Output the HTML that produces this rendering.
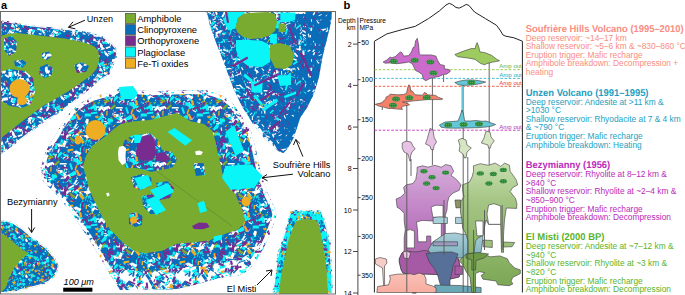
<!DOCTYPE html>
<html><head><meta charset="utf-8"><style>
html,body{margin:0;padding:0;background:#fff;}
body{width:685px;height:295px;overflow:hidden;position:relative;font-family:"Liberation Sans",sans-serif;}
svg{position:absolute;left:0;top:0;}
</style></head><body>
<svg width="685" height="295" viewBox="0 0 685 295">
<defs><pattern id="tx1" width="56" height="56" patternUnits="userSpaceOnUse"><rect width="56" height="56" fill="#0A6DBA"/><path fill="#0A6DBA" d="M47.8,41.1l0.5,3.2l-1.2,0.2l-0.5,-3.2zM24.2,0.1l0,3.1l-1.1,0.0l-0,-3.1zM24.2,56.1l0,3.1l-1.1,0.0l-0,-3.1zM10.8,11.5l4.3,0.3l-0.1,1.3l-4.3,-0.3zM19.4,37.4l1.3,5.4l-2.8,0.7l-1.3,-5.4zM31.1,36.6l1,5.3l-1.7,0.3l-1,-5.3zM37.7,53.1l4.3,2.5l-0.9,1.4l-4.3,-2.5zM37.7,-2.9l4.3,2.5l-0.9,1.4l-4.3,-2.5zM36,47.8l-5,3.3l-1.6,-2.4l5,-3.3zM45.9,37.4l2.4,0.1l-0,0.5l-2.4,-0.1zM30,7.6l0.5,3.3l-1.5,0.2l-0.5,-3.3zM25.3,-0.3l3.3,2.2l-0.8,1.1l-3.3,-2.2zM25.3,55.7l3.3,2.2l-0.8,1.1l-3.3,-2.2zM52,28.3l-2.6,1.7l-0.7,-1.1l2.6,-1.7zM3.3,6.4l-3.4,4.5l-1.1,-0.9l3.4,-4.5zM59.3,6.4l-3.4,4.5l-1.1,-0.9l3.4,-4.5zM38,20.2l-2,4.5l-1.4,-0.6l2,-4.5zM20,53.7l-5.8,2.7l-0.8,-1.8l5.8,-2.7zM20,-2.3l-5.8,2.7l-0.8,-1.8l5.8,-2.7zM50.6,41.0l4.1,0.1l-0,1.2l-4.1,-0.1zM-5.4,41.0l4.1,0.1l-0,1.2l-4.1,-0.1zM38.8,23.1l-1.5,2.6l-0.6,-0.3l1.5,-2.6zM24.9,16.4l6.3,0.4l-0.2,3.3l-6.3,-0.4zM16.6,52.7l4.6,3.7l-1.2,1.5l-4.6,-3.7zM16.6,-3.3l4.6,3.7l-1.2,1.5l-4.6,-3.7zM19.1,49.0l-4.7,1.7l-0.9,-2.5l4.7,-1.7zM32,5.6l-2,0.9l-0.2,-0.5l2,-0.9zM50.4,17.4l4.1,5.5l-2.8,2.1l-4.1,-5.5zM-5.6,17.4l4.1,5.5l-2.8,2.1l-4.1,-5.5zM24.1,5.0l5.3,0.2l-0,1.1l-5.3,-0.2zM24.1,61.0l5.3,0.2l-0,1.1l-5.3,-0.2zM14.4,2.7l0.6,3.4l-1.8,0.3l-0.6,-3.4zM48.2,48.4l-0.5,3.5l-1.1,-0.2l0.5,-3.5zM27.6,49.9l3.1,1.5l-0.8,1.6l-3.1,-1.5zM-0.5,35.0l4,0.8l-0.3,1.6l-4,-0.8zM55.5,35.0l4,0.8l-0.3,1.6l-4,-0.8zM8,5.2l1,3.1l-1.5,0.5l-1,-3.1zM37.5,2.7l-2.2,0.9l-0.3,-0.8l2.2,-0.9zM37.5,58.7l-2.2,0.9l-0.3,-0.8l2.2,-0.9zM44.8,49.3l-3.2,1.6l-0.7,-1.4l3.2,-1.6zM43.8,-0.2l-2.7,6.4l-3.1,-1.3l2.7,-6.4zM43.8,55.8l-2.7,6.4l-3.1,-1.3l2.7,-6.4zM52.6,53.6l-2.4,1.3l-0.6,-1.1l2.4,-1.3zM52.6,-2.4l-2.4,1.3l-0.6,-1.1l2.4,-1.3zM40.5,-0.4l2.9,0.2l-0.1,1.0l-2.9,-0.2zM40.5,55.6l2.9,0.2l-0.1,1.0l-2.9,-0.2zM35.8,13.6l-4.5,3.1l-1.5,-2.1l4.5,-3.1zM13.3,49.1l-2.9,1.7l-0.4,-0.7l2.9,-1.7zM46.1,48.8l-3.6,0.4l-0.1,-1.0l3.6,-0.4z"/><path fill="#FFFFFF" d="M33.3,0.2l0.9,3.1l-1.5,0.4l-0.9,-3.1zM33.3,56.2l0.9,3.1l-1.5,0.4l-0.9,-3.1zM41.7,28.3l3.9,0.4l-0.1,1.5l-3.9,-0.4zM54,40.7l3.5,3.1l-1.6,1.8l-3.5,-3.1zM-2,40.7l3.5,3.1l-1.6,1.8l-3.5,-3.1zM54.3,30.3l-0.6,4.2l-1.2,-0.2l0.6,-4.2zM-1.7,30.3l-0.6,4.2l-1.2,-0.2l0.6,-4.2zM53.1,11.2l4.8,2.9l-0.7,1.1l-4.8,-2.9zM-2.9,11.2l4.8,2.9l-0.7,1.1l-4.8,-2.9zM46.4,7.0l4.4,1.1l-0.5,2.1l-4.4,-1.1zM34.7,12.1l-0,2.0l-0.8,0l0,-2.0zM15.2,23.7l-4.6,1.2l-0.6,-2.4l4.6,-1.2zM42,41.6l-4.7,1.6l-0.8,-2.4l4.7,-1.6zM18.5,4.4l-4.2,4.3l-1,-1.0l4.2,-4.3zM18.5,60.4l-4.2,4.3l-1,-1.0l4.2,-4.3zM27.1,15.9l-2.2,3.4l-1.6,-1.0l2.2,-3.4zM35.5,19.8l1.9,2.3l-0.5,0.4l-1.9,-2.3zM51.3,31.7l-4,4.0l-2.1,-2.1l4,-4.0zM42.1,33.0l1.5,5.0l-2.1,0.6l-1.5,-5.0zM39.9,22.7l3.8,0.2l-0.1,1.6l-3.8,-0.2zM54.5,37.1l-1.3,3.8l-1.7,-0.6l1.3,-3.8zM-1.5,37.1l-1.3,3.8l-1.7,-0.6l1.3,-3.8zM22.6,26.5l-2.6,5.0l-1.3,-0.7l2.6,-5.0zM41.7,42.7l2.6,1.5l-0.6,1.1l-2.6,-1.5zM10.4,6.4l-4,3.9l-1.3,-1.3l4,-3.9z"/><path fill="#0AF5F8" d="M44.5,4.1l0.4,2.1l-1,0.2l-0.4,-2.1zM10.8,26.0l2.1,3.9l-1.3,0.7l-2.1,-3.9zM33.6,32.5l3.2,2.8l-0.6,0.7l-3.2,-2.8zM32.3,9.0l-0.4,6.9l-3.3,-0.2l0.4,-6.9zM48.7,51.2l-2.1,3.1l-1.6,-1.0l2.1,-3.1zM48.7,-4.8l-2.1,3.1l-1.6,-1.0l2.1,-3.1zM13.7,3.1l-0.7,3.3l-1.7,-0.3l0.7,-3.3zM3.3,3.7l4.7,4.4l-0.9,1.0l-4.7,-4.4zM3.3,59.7l4.7,4.4l-0.9,1.0l-4.7,-4.4zM59.3,3.7l4.7,4.4l-0.9,1.0l-4.7,-4.4zM59.3,59.7l4.7,4.4l-0.9,1.0l-4.7,-4.4zM35.5,50.7l2,3.4l-1,0.6l-2,-3.4zM35.5,-5.3l2,3.4l-1,0.6l-2,-3.4zM32.4,13.2l2,0.5l-0.1,0.6l-2,-0.5zM6.5,3.3l-4.1,3.1l-0.9,-1.2l4.1,-3.1zM6.5,59.3l-4.1,3.1l-0.9,-1.2l4.1,-3.1zM62.5,3.3l-4.1,3.1l-0.9,-1.2l4.1,-3.1zM62.5,59.3l-4.1,3.1l-0.9,-1.2l4.1,-3.1zM29.9,45.5l2.1,3.7l-1.3,0.7l-2.1,-3.7zM25.3,35.6l0.1,5.7l-1.6,0.0l-0.1,-5.7zM39.7,21.2l2.4,6.2l-3.3,1.3l-2.4,-6.2zM34.6,45.3l-0.4,3.0l-0.9,-0.1l0.4,-3.0zM54.9,39.2l-0,6.9l-1.7,0l0,-6.9zM-1.1,39.2l-0,6.9l-1.7,0l0,-6.9zM15.5,27.4l3.8,0.0l-0,1.5l-3.8,0zM50.3,44.0l0.5,4.5l-2.5,0.3l-0.5,-4.5zM29.8,19.1l0.5,2.0l-0.7,0.2l-0.5,-2.0zM38.7,51.6l-4.4,3.9l-2,-2.2l4.4,-3.9zM38.7,-4.4l-4.4,3.9l-2,-2.2l4.4,-3.9zM6.4,45.5l4.4,0.6l-0.2,1.6l-4.4,-0.6z"/><path fill="#782C8F" d="M3,25.2l-5.5,1.0l-0.3,-1.5l5.5,-1.0zM59,25.2l-5.5,1.0l-0.3,-1.5l5.5,-1.0zM2,-1.2l1.7,4.4l-2.3,0.9l-1.7,-4.4zM2,54.8l1.7,4.4l-2.3,0.9l-1.7,-4.4zM58,-1.2l1.7,4.4l-2.3,0.9l-1.7,-4.4zM58,54.8l1.7,4.4l-2.3,0.9l-1.7,-4.4zM32.8,36.1l-2.7,1.2l-0.7,-1.5l2.7,-1.2zM40.3,17.0l-4.4,2.3l-1.2,-2.2l4.4,-2.3zM31.1,31.0l-3.8,1.6l-0.4,-0.8l3.8,-1.6zM11.7,4.8l5,1.1l-0.4,1.6l-5,-1.1zM-0.1,43.0l5.8,3.5l-1.4,2.3l-5.8,-3.5zM55.9,43.0l5.8,3.5l-1.4,2.3l-5.8,-3.5zM54.1,37.1l2.1,4.0l-1.3,0.7l-2.1,-4.0zM-1.9,37.1l2.1,4.0l-1.3,0.7l-2.1,-4.0zM12.1,39.7l2,4.6l-2.3,1.0l-2,-4.6zM46.6,16.3l1.9,4.7l-2.2,0.9l-1.9,-4.7zM22.7,14.0l5.9,0.2l-0.1,2.9l-5.9,-0.2zM55.1,53.2l-0.9,2.4l-0.7,-0.3l0.9,-2.4zM55.1,-2.8l-0.9,2.4l-0.7,-0.3l0.9,-2.4zM-0.9,53.2l-0.9,2.4l-0.7,-0.3l0.9,-2.4zM-0.9,-2.8l-0.9,2.4l-0.7,-0.3l0.9,-2.4zM5.3,18.3l-6.2,1.9l-0.9,-3.0l6.2,-1.9zM61.3,18.3l-6.2,1.9l-0.9,-3.0l6.2,-1.9zM40.8,37.5l2.5,1.4l-0.5,0.9l-2.5,-1.4zM38.7,14.0l-1.9,1.3l-0.7,-1.0l1.9,-1.3zM3.9,35.4l-0.3,5.6l-1.8,-0.1l0.3,-5.6zM59.9,35.4l-0.3,5.6l-1.8,-0.1l0.3,-5.6zM26.1,9.1l-3.5,1.0l-0.3,-0.8l3.5,-1.0zM20.5,39.0l6,3.5l-1.1,1.8l-6,-3.5zM35.7,19.6l-3.1,1.3l-0.6,-1.4l3.1,-1.3zM46.8,12.8l-1,5.0l-1.4,-0.3l1,-5.0zM46.6,-1.8l3.5,5.4l-2.3,1.5l-3.5,-5.4zM46.6,54.2l3.5,5.4l-2.3,1.5l-3.5,-5.4z"/><path fill="#EEAD22" d="M3.5,42.7l-4.2,4.4l-2.3,-2.1l4.2,-4.4zM59.5,42.7l-4.2,4.4l-2.3,-2.1l4.2,-4.4zM14.6,32.3l4.2,0.8l-0.3,1.3l-4.2,-0.8zM31.5,36.0l-0.7,5.3l-1.5,-0.2l0.7,-5.3zM9.3,39.6l3.7,5.8l-2.8,1.8l-3.7,-5.8zM32.8,8.4l-0.7,3.2l-0.9,-0.2l0.7,-3.2zM5.9,31.7l2.4,3.2l-0.8,0.6l-2.4,-3.2zM32.7,24.7l-1.4,6.1l-2.9,-0.6l1.4,-6.1zM23.8,48.3l3.8,4.1l-1.7,1.6l-3.8,-4.1zM23.8,-7.7l3.8,4.1l-1.7,1.6l-3.8,-4.1z"/><path fill="#78AB30" d="M24.9,5.7l-2,2.0l-0.6,-0.6l2,-2.0z"/><path fill="#0A6DBA" d="M40.1,38.4l1.1,3.3l-0.8,0.3l-1.1,-3.3zM4.5,37.1l-2.1,5.7l-3.1,-1.1l2.1,-5.7zM60.5,37.1l-2.1,5.7l-3.1,-1.1l2.1,-5.7zM46.7,3.8l1.7,5.2l-1.2,0.4l-1.7,-5.2zM22.8,45.7l6.4,1.2l-0.3,1.4l-6.4,-1.2zM25.6,8.9l-3.1,5.6l-1.9,-1.1l3.1,-5.6zM48.6,46.3l6,1.8l-0.4,1.3l-6,-1.8zM-7.4,46.3l6,1.8l-0.4,1.3l-6,-1.8zM23.3,11.3l2.3,4.2l-1.3,0.7l-2.3,-4.2zM31.6,-0.8l3.4,5.1l-2.2,1.4l-3.4,-5.1zM31.6,55.2l3.4,5.1l-2.2,1.4l-3.4,-5.1zM21.1,15.4l-0.5,5.7l-2.1,-0.2l0.5,-5.7zM53,18.5l-3.6,0.2l-0.1,-0.8l3.6,-0.2zM4.7,29.1l2.3,2.4l-0.6,0.5l-2.3,-2.4zM50.2,0.3l-2.4,3.0l-1.5,-1.2l2.4,-3.0zM50.2,56.3l-2.4,3.0l-1.5,-1.2l2.4,-3.0zM50.8,30.0l1.5,6.2l-3.2,0.8l-1.5,-6.2zM-5.2,30.0l1.5,6.2l-3.2,0.8l-1.5,-6.2zM18.9,47.1l-0.8,5.7l-3.1,-0.4l0.8,-5.7zM18.9,-8.9l-0.8,5.7l-3.1,-0.4l0.8,-5.7zM24.7,0.8l-2.6,1.2l-0.4,-0.8l2.6,-1.2zM24.7,56.8l-2.6,1.2l-0.4,-0.8l2.6,-1.2zM17.2,25.0l-4.4,5.2l-1.8,-1.5l4.4,-5.2zM53.1,53.0l0.6,2.4l-1,0.2l-0.6,-2.4zM53.1,-3.0l0.6,2.4l-1,0.2l-0.6,-2.4zM-2.9,53.0l0.6,2.4l-1,0.2l-0.6,-2.4zM-2.9,-3.0l0.6,2.4l-1,0.2l-0.6,-2.4zM27.4,49.7l2.4,0.8l-0.4,1.2l-2.4,-0.8zM33.8,30.8l-2.3,6.4l-2.5,-0.9l2.3,-6.4zM21.5,13.3l4.3,3.4l-1,1.3l-4.3,-3.4zM15.9,2.8l-0.9,4.6l-2.1,-0.4l0.9,-4.6zM15.9,58.8l-0.9,4.6l-2.1,-0.4l0.9,-4.6zM-0.4,15.0l3.9,3.3l-0.8,0.9l-3.9,-3.3zM55.6,15.0l3.9,3.3l-0.8,0.9l-3.9,-3.3zM5.1,12.4l5.8,0.8l-0.3,2.5l-5.8,-0.8zM38.9,5.0l3.5,0.6l-0.2,1.0l-3.5,-0.6zM6.3,19.0l4.8,4.6l-1.9,2.0l-4.8,-4.6zM25,29.0l-0.3,3.2l-1,-0.1l0.3,-3.2zM38.5,-0.7l2,0.9l-0.2,0.5l-2,-0.9zM38.5,55.3l2,0.9l-0.2,0.5l-2,-0.9zM12.3,43.2l-6.1,2.4l-0.8,-1.9l6.1,-2.4zM36.9,52.8l1.2,5.7l-1.3,0.3l-1.2,-5.7zM36.9,-3.2l1.2,5.7l-1.3,0.3l-1.2,-5.7zM9.6,40.0l3.3,4.2l-2,1.6l-3.3,-4.2zM54,42.8l2.2,6.4l-1.3,0.4l-2.2,-6.4zM-2,42.8l2.2,6.4l-1.3,0.4l-2.2,-6.4z"/><path fill="#FFFFFF" d="M6.8,10.5l-2.1,0.8l-0.3,-0.9l2.1,-0.8zM21.7,7.8l0.4,3.1l-1.5,0.2l-0.4,-3.1zM4.5,20.5l5.5,0.4l-0.2,2.8l-5.5,-0.4zM4.9,43.6l0.9,2.3l-0.5,0.2l-0.9,-2.3zM54.8,52.8l-6.7,1.6l-0.8,-3.2l6.7,-1.6zM54.8,-3.2l-6.7,1.6l-0.8,-3.2l6.7,-1.6zM-1.2,52.8l-6.7,1.6l-0.8,-3.2l6.7,-1.6zM-1.2,-3.2l-6.7,1.6l-0.8,-3.2l6.7,-1.6zM24.2,53.3l4.2,2.1l-0.5,1.1l-4.2,-2.1zM24.2,-2.7l4.2,2.1l-0.5,1.1l-4.2,-2.1zM19.8,47.9l5.9,0.8l-0.3,2.4l-5.9,-0.8zM19.8,-8.1l5.9,0.8l-0.3,2.4l-5.9,-0.8zM36.4,15.7l-0.9,3.4l-1.3,-0.4l0.9,-3.4zM40.5,25.7l3.4,1.3l-0.5,1.2l-3.4,-1.3zM53.1,11.2l-4.3,1.6l-0.5,-1.5l4.3,-1.6zM-2.9,11.2l-4.3,1.6l-0.5,-1.5l4.3,-1.6zM28.9,18.6l-4.7,1.9l-0.5,-1.2l4.7,-1.9zM23.7,4.0l-0.5,3.8l-1.6,-0.2l0.5,-3.8zM26.5,4.8l-2.5,4.3l-1.3,-0.7l2.5,-4.3zM33.1,47.7l-1.3,4.1l-1.9,-0.6l1.3,-4.1zM52.6,20.3l0.5,5.0l-1.1,0.1l-0.5,-5.0zM-3.4,20.3l0.5,5.0l-1.1,0.1l-0.5,-5.0zM23.2,13.0l-3.2,6.1l-3.2,-1.7l3.2,-6.1zM18.2,44.2l-1.7,3.8l-1.7,-0.8l1.7,-3.8zM5.3,35.1l-2.8,5.8l-1.5,-0.7l2.8,-5.8zM61.3,35.1l-2.8,5.8l-1.5,-0.7l2.8,-5.8zM22.6,39.4l-6.5,2.2l-0.5,-1.4l6.5,-2.2zM45.9,7.0l2.8,4.9l-1.1,0.6l-2.8,-4.9z"/><path fill="#0AF5F8" d="M13.8,40.2l-3.5,1.0l-0.4,-1.4l3.5,-1.0zM49.3,19.6l5.7,2.9l-1.4,2.6l-5.7,-2.9zM-6.7,19.6l5.7,2.9l-1.4,2.6l-5.7,-2.9zM41.9,35.1l2.1,5.9l-2.5,0.9l-2.1,-5.9zM55.9,36.0l-3.1,0.7l-0.1,-0.7l3.1,-0.7zM-0.1,36.0l-3.1,0.7l-0.1,-0.7l3.1,-0.7zM17.4,32.5l4.7,0.9l-0.3,1.8l-4.7,-0.9zM30.5,3.6l-1,2.1l-1.1,-0.5l1,-2.1zM33.7,52.4l-5,3.3l-1.5,-2.3l5,-3.3zM33.7,-3.6l-5,3.3l-1.5,-2.3l5,-3.3zM33.4,30.2l-4.7,0.7l-0.3,-2.3l4.7,-0.7zM57.5,8.2l-3.5,3.8l-2.1,-1.9l3.5,-3.8zM1.5,8.2l-3.5,3.8l-2.1,-1.9l3.5,-3.8zM23.8,20.5l-3.4,5.8l-3,-1.7l3.4,-5.8zM17.7,55.1l-2.2,2.4l-0.9,-0.9l2.2,-2.4zM17.7,-0.9l-2.2,2.4l-0.9,-0.9l2.2,-2.4zM8.4,14.3l-2.7,2.1l-0.8,-1.0l2.7,-2.1zM34.8,27.0l1.6,4.6l-1.8,0.6l-1.6,-4.6zM46.2,37.9l3.1,4.5l-0.9,0.6l-3.1,-4.5zM38.9,50.3l4.7,0.1l-0,1.6l-4.7,-0.1zM38.9,-5.7l4.7,0.1l-0,1.6l-4.7,-0.1z"/><path fill="#782C8F" d="M0.4,5.4l2,4.9l-1.1,0.4l-2,-4.9zM56.4,5.4l2,4.9l-1.1,0.4l-2,-4.9zM1.1,14.9l2.6,0.2l-0.1,0.6l-2.6,-0.2zM57.1,14.9l2.6,0.2l-0.1,0.6l-2.6,-0.2zM44.6,41.0l-5.7,0.4l-0.1,-1.7l5.7,-0.4zM27.4,17.4l-0.7,6.9l-1.5,-0.1l0.7,-6.9zM20.9,7.3l-5.4,2.6l-1.3,-2.6l5.4,-2.6zM53.9,31.4l0.4,2.5l-1.1,0.2l-0.4,-2.5zM-2.1,31.4l0.4,2.5l-1.1,0.2l-0.4,-2.5zM14.7,7.5l3.7,1.2l-0.4,1.4l-3.7,-1.2zM47.2,8.4l-4.6,0.1l-0,-1.9l4.6,-0.1zM41.1,40.5l-1.7,3.4l-1.8,-0.9l1.7,-3.4zM32.9,50.0l-1.9,2.2l-0.8,-0.7l1.9,-2.2zM23.9,9.8l3.5,0.1l-0,1.5l-3.5,-0.1zM53.8,46.8l-3.1,2.3l-0.8,-1.1l3.1,-2.3zM-2.2,46.8l-3.1,2.3l-0.8,-1.1l3.1,-2.3zM25.2,41.3l0.1,4.4l-2,0.1l-0.1,-4.4zM6.7,30.9l-0.8,6.9l-2.7,-0.3l0.8,-6.9zM62.7,30.9l-0.8,6.9l-2.7,-0.3l0.8,-6.9zM45,37.1l-1.2,2.1l-0.7,-0.4l1.2,-2.1zM19.9,26.6l-1,1.8l-1,-0.5l1,-1.8zM56.5,14.0l-3.4,3.2l-1.1,-1.2l3.4,-3.2zM0.5,14.0l-3.4,3.2l-1.1,-1.2l3.4,-3.2zM10.6,13.4l5.1,2.2l-0.8,1.7l-5.1,-2.2zM31.5,2.0l-1.6,3.3l-1.4,-0.7l1.6,-3.3zM31.5,58.0l-1.6,3.3l-1.4,-0.7l1.6,-3.3zM48.1,16.1l4.1,1.7l-0.6,1.3l-4.1,-1.7zM13.3,8.5l1.2,4.7l-2.4,0.6l-1.2,-4.7zM52.7,18.0l5,0.4l-0.1,1.9l-5,-0.4zM-3.3,18.0l5,0.4l-0.1,1.9l-5,-0.4zM15.4,26.8l1.6,3.2l-1.7,0.9l-1.6,-3.2zM36.4,44.4l1.5,4.8l-2.4,0.7l-1.5,-4.8zM34.7,29.8l1.9,1.2l-0.4,0.7l-1.9,-1.2zM8.1,49.8l2.1,1.7l-0.9,1.1l-2.1,-1.7zM50.7,18.0l-5.7,2.9l-0.8,-1.5l5.7,-2.9zM36.9,-1.8l-2.9,6.1l-3.2,-1.5l2.9,-6.1zM36.9,54.2l-2.9,6.1l-3.2,-1.5l2.9,-6.1zM47.3,10.9l-1.2,5.9l-1.7,-0.3l1.2,-5.9zM41.8,9.0l-0.9,4.1l-1.6,-0.4l0.9,-4.1zM45.1,7.8l3.9,0.3l-0.1,0.9l-3.9,-0.3zM53.6,48.4l3.9,3.6l-1.2,1.2l-3.9,-3.6zM53.6,-7.6l3.9,3.6l-1.2,1.2l-3.9,-3.6zM-2.4,48.4l3.9,3.6l-1.2,1.2l-3.9,-3.6zM-2.4,-7.6l3.9,3.6l-1.2,1.2l-3.9,-3.6z"/><path fill="#EEAD22" d="M39.6,3.7l2,1.7l-0.9,1.1l-2,-1.7zM37.5,41.8l0.1,4.3l-1.6,0.0l-0.1,-4.3z"/><path fill="#78AB30" d="M2.4,41.4l2.3,5.9l-1.8,0.7l-2.3,-5.9zM58.4,41.4l2.3,5.9l-1.8,0.7l-2.3,-5.9zM43.2,46.9l-5.2,1.8l-0.7,-2.0l5.2,-1.8zM15.8,8.5l-0.3,5.7l-2.7,-0.1l0.3,-5.7zM14.4,24.6l5.1,4.0l-1.6,2.0l-5.1,-4.0z"/><path fill="#0A6DBA" d="M54.6,16.0l-1,3.2l-1.1,-0.3l1,-3.2zM-1.4,16.0l-1,3.2l-1.1,-0.3l1,-3.2zM15.3,22.0l-3.4,0.1l-0.1,-1.5l3.4,-0.1zM48.2,9.9l-0.6,5.5l-1.8,-0.2l0.6,-5.5zM48.5,11.0l-3.6,2.4l-0.7,-1.1l3.6,-2.4zM48.1,53.0l-4.6,2.3l-0.5,-1.1l4.6,-2.3zM48.1,-3.0l-4.6,2.3l-0.5,-1.1l4.6,-2.3zM0.3,5.1l1.1,2.8l-1.3,0.5l-1.1,-2.8zM56.3,5.1l1.1,2.8l-1.3,0.5l-1.1,-2.8zM44.3,6.1l4.8,0.7l-0.2,1.7l-4.8,-0.7zM43.4,27.6l6.3,1.9l-1,3.3l-6.3,-1.9zM30.1,29.1l-2.8,1.1l-0.4,-0.9l2.8,-1.1zM8.6,49.1l-0,3.4l-0.7,0l0,-3.4zM52,17.4l-1.6,3.5l-1.4,-0.6l1.6,-3.5zM8.3,18.8l-4.5,0.1l-0,-2.2l4.5,-0.1zM52.1,29.3l4.7,1.1l-0.5,2.0l-4.7,-1.1zM-3.9,29.3l4.7,1.1l-0.5,2.0l-4.7,-1.1zM53.5,14.3l-1.6,1.8l-0.5,-0.5l1.6,-1.8zM11.3,13.1l2.6,3.6l-1.6,1.2l-2.6,-3.6zM42.9,48.9l-1.1,1.9l-0.8,-0.4l1.1,-1.9zM52.5,39.6l3.1,0.1l-0,1.6l-3.1,-0.1zM-3.5,39.6l3.1,0.1l-0,1.6l-3.1,-0.1zM44.8,-0.3l2.9,3.7l-1,0.8l-2.9,-3.7zM44.8,55.7l2.9,3.7l-1,0.8l-2.9,-3.7zM6.7,32.1l1.1,5.2l-2.8,0.6l-1.1,-5.2zM62.7,32.1l1.1,5.2l-2.8,0.6l-1.1,-5.2zM33,0.3l3.2,2.9l-1.5,1.6l-3.2,-2.9zM33,56.3l3.2,2.9l-1.5,1.6l-3.2,-2.9zM41.3,54.1l-5,0.6l-0.2,-1.4l5,-0.6zM41.3,-1.9l-5,0.6l-0.2,-1.4l5,-0.6zM21.7,27.9l4.2,1.0l-0.5,2.1l-4.2,-1.0zM51.4,31.5l3.7,3.5l-1.5,1.5l-3.7,-3.5zM-4.6,31.5l3.7,3.5l-1.5,1.5l-3.7,-3.5zM37.3,16.0l4.5,0.4l-0.2,1.9l-4.5,-0.4zM30.8,26.8l-4.5,4.5l-2.1,-2.1l4.5,-4.5zM41.4,46.6l-0.3,2.3l-0.5,-0.1l0.3,-2.3zM0.5,-1.0l1.8,2.4l-0.7,0.5l-1.8,-2.4zM0.5,55.0l1.8,2.4l-0.7,0.5l-1.8,-2.4zM56.5,-1.0l1.8,2.4l-0.7,0.5l-1.8,-2.4zM56.5,55.0l1.8,2.4l-0.7,0.5l-1.8,-2.4zM21.2,31.7l-2.1,3.7l-1.7,-1.0l2.1,-3.7zM12.8,41.6l-2.1,1.4l-0.8,-1.1l2.1,-1.4zM14,13.3l4.1,0.4l-0.1,1.2l-4.1,-0.4zM12.9,18.2l-2.1,3.7l-1.9,-1.0l2.1,-3.7zM32.1,46.0l0.7,5.5l-1.4,0.2l-0.7,-5.5zM50.2,17.4l-3.9,1.4l-0.6,-1.5l3.9,-1.4zM54.9,2.3l-3.3,0.4l-0.2,-1.4l3.3,-0.4zM54.9,58.3l-3.3,0.4l-0.2,-1.4l3.3,-0.4zM-1.1,2.3l-3.3,0.4l-0.2,-1.4l3.3,-0.4zM-1.1,58.3l-3.3,0.4l-0.2,-1.4l3.3,-0.4zM13.6,45.6l1.6,3.3l-1.1,0.5l-1.6,-3.3zM51.9,38.4l1.9,0.8l-0.2,0.4l-1.9,-0.8zM42.4,5.9l1.3,2.8l-0.7,0.3l-1.3,-2.8zM18,32.1l5.2,1.5l-0.7,2.6l-5.2,-1.5z"/><path fill="#FFFFFF" d="M47.1,50.8l-3.2,4.6l-2.1,-1.4l3.2,-4.6zM47.1,-5.2l-3.2,4.6l-2.1,-1.4l3.2,-4.6zM30.6,33.5l3.2,3.0l-1.6,1.7l-3.2,-3.0zM11.3,21.5l-3.3,2.1l-0.6,-0.9l3.3,-2.1zM11,29.4l-2.3,5.8l-2.7,-1.1l2.3,-5.8zM9.9,6.7l-2.7,1.9l-0.5,-0.7l2.7,-1.9zM12.9,21.1l-1.1,6.3l-2.5,-0.4l1.1,-6.3zM9.9,34.3l2.3,0.4l-0.2,1.1l-2.3,-0.4zM37.2,15.4l-5,1.3l-0.6,-2.2l5,-1.3zM46.7,51.3l3.8,4.4l-1.5,1.3l-3.8,-4.4zM46.7,-4.7l3.8,4.4l-1.5,1.3l-3.8,-4.4zM57.1,42.0l-1.1,4.7l-1.1,-0.3l1.1,-4.7zM1.1,42.0l-1.1,4.7l-1.1,-0.3l1.1,-4.7zM19,19.9l4.4,2.8l-0.8,1.2l-4.4,-2.8zM39.3,48.9l2,5.1l-2.1,0.8l-2,-5.1zM39.3,-7.1l2,5.1l-2.1,0.8l-2,-5.1zM38.5,18.3l-4.2,4.2l-0.8,-0.9l4.2,-4.2zM15.6,8.7l-6.5,2.6l-1.2,-3.0l6.5,-2.6zM32.4,47.0l-1.5,4.3l-1.3,-0.5l1.5,-4.3zM3.8,50.9l6.9,0.1l-0,1.5l-6.9,-0.1zM3.8,-5.1l6.9,0.1l-0,1.5l-6.9,-0.1zM59.8,50.9l6.9,0.1l-0,1.5l-6.9,-0.1zM59.8,-5.1l6.9,0.1l-0,1.5l-6.9,-0.1zM17.9,20.9l4,1.7l-0.3,0.8l-4,-1.7zM50.4,6.3l-0.1,3.1l-1,0l0.1,-3.1zM32.4,7.0l-1.6,1.7l-0.5,-0.5l1.6,-1.7z"/><path fill="#0AF5F8" d="M32,11.5l-2.6,5.3l-1.3,-0.6l2.6,-5.3zM36,41.7l-2.8,1.7l-0.4,-0.6l2.8,-1.7zM16.1,11.5l-4.3,1.3l-0.3,-1.1l4.3,-1.3zM4.1,22.0l-1.2,4.0l-2.2,-0.7l1.2,-4.0zM60.1,22.0l-1.2,4.0l-2.2,-0.7l1.2,-4.0zM23.6,48.8l-0.7,4.3l-2.3,-0.4l0.7,-4.3zM23.6,-7.2l-0.7,4.3l-2.3,-0.4l0.7,-4.3zM51,14.7l-4.8,4.1l-1.9,-2.3l4.8,-4.1zM28.3,32.4l-0,6.2l-2.2,0l0,-6.2zM8.4,15.1l-3,0.4l-0.1,-0.6l3,-0.4zM28.2,28.5l4.1,4.4l-1.8,1.7l-4.1,-4.4zM15.7,29.1l1.9,2.8l-0.6,0.4l-1.9,-2.8zM13.5,11.5l2.2,2.1l-1.1,1.1l-2.2,-2.1zM23.9,17.1l3.4,2.2l-0.5,0.7l-3.4,-2.2zM41.5,11.1l2.7,0.9l-0.5,1.4l-2.7,-0.9zM50.5,21.1l-3.6,2.1l-0.6,-1.0l3.6,-2.1zM9.3,2.5l-2.2,4.5l-1.3,-0.6l2.2,-4.5zM9.3,58.5l-2.2,4.5l-1.3,-0.6l2.2,-4.5zM24.9,27.6l3.7,0.9l-0.3,1.3l-3.7,-0.9zM13.3,17.7l-2.5,4.2l-2.1,-1.2l2.5,-4.2z"/><path fill="#782C8F" d="M53,52.4l-0.1,2.9l-1.2,0l0.1,-2.9zM53,-3.6l-0.1,2.9l-1.2,0l0.1,-2.9zM-3,52.4l-0.1,2.9l-1.2,0l0.1,-2.9zM-3,-3.6l-0.1,2.9l-1.2,0l0.1,-2.9zM18.2,6.4l2.1,2.5l-0.8,0.7l-2.1,-2.5zM22.3,35.8l-0.6,4.9l-1.2,-0.1l0.6,-4.9zM48.6,19.4l-4.2,5.1l-1.3,-1.0l4.2,-5.1zM24.9,22.1l4.4,2.2l-0.7,1.4l-4.4,-2.2zM2.1,8.9l-3.4,1.2l-0.3,-0.9l3.4,-1.2zM58.1,8.9l-3.4,1.2l-0.3,-0.9l3.4,-1.2zM35.3,1.9l-2,1.2l-0.5,-0.8l2,-1.2zM35.3,57.9l-2,1.2l-0.5,-0.8l2,-1.2zM55.9,46.1l-2.3,0.5l-0.2,-0.7l2.3,-0.5zM-0.1,46.1l-2.3,0.5l-0.2,-0.7l2.3,-0.5zM5.6,23.7l3.8,0.3l-0.2,1.8l-3.8,-0.3zM22.5,53.6l2.7,1.2l-0.3,0.7l-2.7,-1.2zM22.5,-2.4l2.7,1.2l-0.3,0.7l-2.7,-1.2zM14.6,51.3l4.1,0.3l-0.1,1.5l-4.1,-0.3zM14.6,-4.7l4.1,0.3l-0.1,1.5l-4.1,-0.3zM21.4,3.7l-3.3,2.4l-1.1,-1.5l3.3,-2.4zM21.4,59.7l-3.3,2.4l-1.1,-1.5l3.3,-2.4zM34.5,47.6l-3.7,2.1l-0.8,-1.3l3.7,-2.1zM19.1,0.3l-2.9,2.3l-0.9,-1.2l2.9,-2.3zM19.1,56.3l-2.9,2.3l-0.9,-1.2l2.9,-2.3zM12.9,3.7l-1.1,2.3l-1.3,-0.6l1.1,-2.3zM10.1,40.5l1.9,4.1l-1.7,0.7l-1.9,-4.1zM46.2,7.0l6.1,0.8l-0.2,1.5l-6.1,-0.8zM-9.8,7.0l6.1,0.8l-0.2,1.5l-6.1,-0.8zM52.2,33.3l-2.1,1.5l-0.3,-0.5l2.1,-1.5zM29.9,47.9l2.6,6.1l-2.8,1.2l-2.6,-6.1zM29.9,-8.1l2.6,6.1l-2.8,1.2l-2.6,-6.1zM47.7,37.2l-0.3,2.3l-0.6,-0.1l0.3,-2.3zM47.8,41.0l2.4,4.5l-2,1.1l-2.4,-4.5zM32.7,50.4l-4.3,1.9l-0.6,-1.5l4.3,-1.9zM32.7,-5.6l-4.3,1.9l-0.6,-1.5l4.3,-1.9z"/><path fill="#EEAD22" d="M40.5,15.5l-0,4.7l-1.7,0l0,-4.7zM46.9,3.0l-5.7,3.3l-1.2,-2.0l5.7,-3.3zM46.9,59.0l-5.7,3.3l-1.2,-2.0l5.7,-3.3zM3.9,12.9l-3.5,3.2l-0.7,-0.7l3.5,-3.2zM59.9,12.9l-3.5,3.2l-0.7,-0.7l3.5,-3.2zM47.3,29.1l0.3,4.7l-1.8,0.1l-0.3,-4.7zM41.7,8.9l-0.1,3.8l-2,0l0.1,-3.8zM-1.1,16.9l4.3,0.7l-0.2,0.9l-4.3,-0.7zM54.9,16.9l4.3,0.7l-0.2,0.9l-4.3,-0.7z"/><path fill="#78AB30" d="M50.6,22.0l-6.1,3.3l-1.6,-2.9l6.1,-3.3zM15.3,19.3l-0.2,3.1l-0.7,0l0.2,-3.1z"/><path fill="#0A6DBA" d="M17.3,14.5l3.5,5.1l-1.5,1.0l-3.5,-5.1zM41.6,11.0l-0.1,5.7l-1.2,0l0.1,-5.7zM32.4,28.9l-1.6,5.5l-1.4,-0.4l1.6,-5.5zM42.5,44.6l-2,3.7l-1.6,-0.9l2,-3.7zM5.1,40.5l0.7,3.7l-1,0.2l-0.7,-3.7zM13.6,48.0l-0.1,2.3l-1,0l0.1,-2.3zM51.3,32.7l0.8,3.4l-1.4,0.3l-0.8,-3.4zM24.7,50.3l3.8,2.1l-0.8,1.4l-3.8,-2.1zM24.7,-5.7l3.8,2.1l-0.8,1.4l-3.8,-2.1zM53.6,32.6l2.4,2.0l-0.9,1.2l-2.4,-2.0zM-2.4,32.6l2.4,2.0l-0.9,1.2l-2.4,-2.0zM13,33.5l-3.1,0.9l-0.4,-1.5l3.1,-0.9zM25.2,9.6l-4.7,0.2l-0.1,-2.1l4.7,-0.2zM28.9,24.2l-0.7,6.6l-1.5,-0.2l0.7,-6.6zM24.9,26.5l5.1,3.9l-1.8,2.3l-5.1,-3.9zM4,12.2l0.3,2.1l-0.9,0.1l-0.3,-2.1zM4.6,41.0l0.7,6.9l-2.4,0.2l-0.7,-6.9zM60.6,41.0l0.7,6.9l-2.4,0.2l-0.7,-6.9zM51.5,3.6l-0.2,5.3l-1.2,0l0.2,-5.3zM51.5,59.6l-0.2,5.3l-1.2,0l0.2,-5.3zM-4.5,3.6l-0.2,5.3l-1.2,0l0.2,-5.3zM-4.5,59.6l-0.2,5.3l-1.2,0l0.2,-5.3zM57.4,14.7l-0.7,6.8l-2.5,-0.3l0.7,-6.8zM1.4,14.7l-0.7,6.8l-2.5,-0.3l0.7,-6.8zM8.4,37.7l3.6,2.3l-0.9,1.5l-3.6,-2.3zM55.7,37.0l-2.7,4.0l-1,-0.6l2.7,-4.0zM-0.3,37.0l-2.7,4.0l-1,-0.6l2.7,-4.0zM28.8,15.1l5.3,2.7l-0.7,1.4l-5.3,-2.7zM35.6,14.1l-6.1,1.3l-0.4,-1.8l6.1,-1.3zM36.5,15.2l-3.6,2.5l-0.9,-1.3l3.6,-2.5zM43.7,-0.9l1.1,5.1l-2.5,0.6l-1.1,-5.1zM43.7,55.1l1.1,5.1l-2.5,0.6l-1.1,-5.1zM50.9,17.7l4.9,4.0l-1.3,1.5l-4.9,-4.0zM-5.1,17.7l4.9,4.0l-1.3,1.5l-4.9,-4.0zM40.4,53.2l-2.5,3.9l-0.9,-0.6l2.5,-3.9zM40.4,-2.8l-2.5,3.9l-0.9,-0.6l2.5,-3.9zM5.7,14.0l4.1,3.0l-1.3,1.7l-4.1,-3.0zM36.2,13.4l-4.8,3.9l-0.9,-1.1l4.8,-3.9zM36.8,41.8l6.7,0.5l-0.3,3.5l-6.7,-0.5zM28.2,31.8l5.4,3.2l-1.6,2.7l-5.4,-3.2zM25.3,46.3l4.3,4.1l-1,1.1l-4.3,-4.1zM16,11.5l-2.7,0.8l-0.3,-1.1l2.7,-0.8zM45.4,37.8l-1.5,3.2l-0.9,-0.4l1.5,-3.2z"/><path fill="#FFFFFF" d="M1.4,2.0l5.3,0.3l-0.2,2.6l-5.3,-0.3zM1.4,58.0l5.3,0.3l-0.2,2.6l-5.3,-0.3zM57.4,2.0l5.3,0.3l-0.2,2.6l-5.3,-0.3zM57.4,58.0l5.3,0.3l-0.2,2.6l-5.3,-0.3zM53.2,13.8l1.1,5.0l-1.1,0.2l-1.1,-5.0zM-2.8,13.8l1.1,5.0l-1.1,0.2l-1.1,-5.0zM32.9,7.5l-1.4,4.9l-2.6,-0.8l1.4,-4.9zM39.3,40.5l-4.3,2.8l-1,-1.5l4.3,-2.8zM46.4,0.2l1.9,5.3l-1.2,0.5l-1.9,-5.3zM46.4,56.2l1.9,5.3l-1.2,0.5l-1.9,-5.3zM8,22.8l5.1,3.6l-0.8,1.1l-5.1,-3.6zM48.1,5.0l2.2,1.2l-0.3,0.5l-2.2,-1.2zM18.2,14.6l0.4,2.0l-0.8,0.1l-0.4,-2.0zM24.4,23.2l2.6,3.9l-1.5,1.0l-2.6,-3.9zM40.6,37.5l-2.7,0.9l-0.3,-0.9l2.7,-0.9zM20.5,40.1l-0.6,4.0l-1.3,-0.2l0.6,-4.0zM46.7,21.2l-3,5.5l-2.4,-1.4l3,-5.5zM34.9,17.1l-2.6,5.6l-1.6,-0.8l2.6,-5.6zM8.6,-0.3l0.2,2.6l-0.8,0.1l-0.2,-2.6zM8.6,55.7l0.2,2.6l-0.8,0.1l-0.2,-2.6zM1.1,31.2l6,1.9l-0.6,2.0l-6,-1.9zM57.1,31.2l6,1.9l-0.6,2.0l-6,-1.9zM2.7,31.5l0.7,3.3l-1.4,0.3l-0.7,-3.3zM58.7,31.5l0.7,3.3l-1.4,0.3l-0.7,-3.3zM39.1,40.8l-2.9,4.5l-1.5,-1.0l2.9,-4.5zM43.3,51.4l-4.7,0.4l-0.1,-1.1l4.7,-0.4zM43.3,-4.6l-4.7,0.4l-0.1,-1.1l4.7,-0.4zM42,34.4l2.3,0.1l-0,0.8l-2.3,-0.1zM31.7,37.2l2.7,1.1l-0.2,0.6l-2.7,-1.1zM34.1,24.3l-5.7,1.0l-0.4,-2.4l5.7,-1.0z"/><path fill="#0AF5F8" d="M56.9,30.6l0.4,6.4l-2.6,0.2l-0.4,-6.4zM0.9,30.6l0.4,6.4l-2.6,0.2l-0.4,-6.4zM38.6,16.2l-0.3,3.7l-1.3,-0.1l0.3,-3.7zM51.2,23.0l-4.2,0.4l-0.2,-2.1l4.2,-0.4zM40.3,48.4l0.1,6.0l-2.4,0.0l-0.1,-6.0zM40.3,-7.6l0.1,6.0l-2.4,0.0l-0.1,-6.0zM8,41.8l4.7,1.0l-0.5,2.2l-4.7,-1.0zM21.9,47.5l5.1,2.6l-0.9,1.9l-5.1,-2.6zM21.9,-8.5l5.1,2.6l-0.9,1.9l-5.1,-2.6zM24.9,25.3l3.1,2.5l-1,1.2l-3.1,-2.5zM21.1,41.3l4.8,4.1l-1.2,1.4l-4.8,-4.1zM23.3,39.3l-2.9,2.0l-0.7,-1.0l2.9,-2.0zM8,18.7l1.2,2.4l-1.2,0.6l-1.2,-2.4zM28.8,1.5l6.1,0.1l-0.1,3.0l-6.1,-0.1zM28.8,57.5l6.1,0.1l-0.1,3.0l-6.1,-0.1zM7.9,28.4l-2.3,4.8l-2.6,-1.2l2.3,-4.8zM63.9,28.4l-2.3,4.8l-2.6,-1.2l2.3,-4.8zM25.1,49.9l-3.1,3.4l-1.3,-1.1l3.1,-3.4zM25.1,-6.1l-3.1,3.4l-1.3,-1.1l3.1,-3.4zM25.3,34.2l3.2,1.6l-0.4,0.7l-3.2,-1.6zM21,6.1l-6.2,3.2l-1.7,-3.4l6.2,-3.2zM21,62.1l-6.2,3.2l-1.7,-3.4l6.2,-3.2zM37.9,35.8l-2.3,6.2l-2.2,-0.8l2.3,-6.2zM12.8,20.2l-4.9,1.7l-0.7,-2.0l4.9,-1.7zM50.4,40.9l2.7,3.3l-1.5,1.2l-2.7,-3.3zM-5.6,40.9l2.7,3.3l-1.5,1.2l-2.7,-3.3zM19,1.3l1.4,1.9l-0.4,0.3l-1.4,-1.9zM19,57.3l1.4,1.9l-0.4,0.3l-1.4,-1.9zM51.4,12.3l-2.1,4.6l-2.5,-1.1l2.1,-4.6z"/><path fill="#782C8F" d="M13.8,17.6l-1.2,5.1l-2,-0.5l1.2,-5.1zM54.2,28.3l0.2,6.8l-1.8,0.1l-0.2,-6.8zM-1.8,28.3l0.2,6.8l-1.8,0.1l-0.2,-6.8zM15.1,7.8l1.9,0.7l-0.4,1.0l-1.9,-0.7zM11.2,45.9l4,1.3l-0.7,2.0l-4,-1.3zM15.9,30.9l3,1.9l-0.9,1.4l-3,-1.9zM52.9,28.5l2.8,4.4l-2,1.3l-2.8,-4.4zM-3.1,28.5l2.8,4.4l-2,1.3l-2.8,-4.4zM19.5,51.2l-1.1,3.6l-1.2,-0.4l1.1,-3.6zM19.5,-4.8l-1.1,3.6l-1.2,-0.4l1.1,-3.6zM10.3,23.2l-2.8,3.8l-1.6,-1.2l2.8,-3.8zM38.4,16.7l2.3,1.4l-0.5,0.7l-2.3,-1.4zM-0.3,38.0l1.8,1.2l-0.6,0.9l-1.8,-1.2zM55.7,38.0l1.8,1.2l-0.6,0.9l-1.8,-1.2zM44.5,42.4l2.4,0.8l-0.3,0.8l-2.4,-0.8zM53.8,27.1l4.7,2.3l-1,2.1l-4.7,-2.3zM-2.2,27.1l4.7,2.3l-1,2.1l-4.7,-2.3zM44.6,32.1l-1.2,1.9l-0.7,-0.4l1.2,-1.9zM14.6,14.9l-1,5.0l-2,-0.4l1,-5.0zM4,17.0l3.6,4.1l-1.6,1.4l-3.6,-4.1zM60,17.0l3.6,4.1l-1.6,1.4l-3.6,-4.1zM23.6,19.3l-5.2,4.0l-2.2,-2.8l5.2,-4.0zM45.5,-0.8l-2.1,2.9l-1.4,-1.0l2.1,-2.9zM45.5,55.2l-2.1,2.9l-1.4,-1.0l2.1,-2.9zM26.8,47.5l-1.2,2.4l-1.2,-0.6l1.2,-2.4zM38,22.5l3.3,3.2l-0.7,0.8l-3.3,-3.2zM21.9,53.5l2,0.8l-0.3,0.8l-2,-0.8zM21.9,-2.5l2,0.8l-0.3,0.8l-2,-0.8zM51.3,26.4l6.2,0.5l-0.2,1.7l-6.2,-0.5zM-4.7,26.4l6.2,0.5l-0.2,1.7l-6.2,-0.5zM20.8,2.7l5.2,1.4l-0.7,2.7l-5.2,-1.4zM20.8,58.7l5.2,1.4l-0.7,2.7l-5.2,-1.4zM16.4,52.5l3.6,5.0l-1.6,1.1l-3.6,-5.0zM16.4,-3.5l3.6,5.0l-1.6,1.1l-3.6,-5.0zM31.7,16.4l6.5,0.8l-0.2,1.8l-6.5,-0.8z"/><path fill="#EEAD22" d="M23.2,18.8l5.6,3.4l-1.6,2.6l-5.6,-3.4zM31,42.2l6.1,1.3l-0.4,1.7l-6.1,-1.3zM51.9,10.3l2.4,1.3l-0.7,1.3l-2.4,-1.3zM-4.1,10.3l2.4,1.3l-0.7,1.3l-2.4,-1.3zM6.3,31.4l1.3,2.3l-0.6,0.3l-1.3,-2.3zM51.8,45.9l-2.6,2.0l-1,-1.3l2.6,-2.0z"/><path fill="#78AB30" d="M55.6,5.0l1.7,2.8l-1.6,0.9l-1.7,-2.8zM-0.4,5.0l1.7,2.8l-1.6,0.9l-1.7,-2.8zM47.7,43.5l5.4,0.6l-0.2,1.8l-5.4,-0.6zM-8.3,43.5l5.4,0.6l-0.2,1.8l-5.4,-0.6z"/><path fill="#0A6DBA" d="M20.5,15.6l-1.7,1.4l-0.3,-0.3l1.7,-1.4zM29.6,46.6l3,3.6l-1.4,1.2l-3,-3.6zM23.7,20.9l6.5,0.5l-0.1,1.8l-6.5,-0.5zM19.8,11.4l-2.6,3.0l-1.5,-1.3l2.6,-3.0zM38.4,30.5l1.5,5.8l-1.3,0.3l-1.5,-5.8zM0.1,2.2l4,3.3l-1.4,1.7l-4,-3.3zM0.1,58.2l4,3.3l-1.4,1.7l-4,-3.3zM56.1,2.2l4,3.3l-1.4,1.7l-4,-3.3zM56.1,58.2l4,3.3l-1.4,1.7l-4,-3.3zM47.3,38.8l0.7,2.0l-0.8,0.3l-0.7,-2.0zM55.1,54.5l-2.3,0.2l-0.1,-0.9l2.3,-0.2zM55.1,-1.5l-2.3,0.2l-0.1,-0.9l2.3,-0.2zM-0.9,54.5l-2.3,0.2l-0.1,-0.9l2.3,-0.2zM-0.9,-1.5l-2.3,0.2l-0.1,-0.9l2.3,-0.2zM55.6,11.9l-3.1,4.0l-2.1,-1.6l3.1,-4.0zM-0.4,11.9l-3.1,4.0l-2.1,-1.6l3.1,-4.0zM35.2,40.1l0.6,6.6l-2.6,0.2l-0.6,-6.6zM0.7,-0.5l1,3.2l-1.5,0.5l-1,-3.2zM0.7,55.5l1,3.2l-1.5,0.5l-1,-3.2zM56.7,-0.5l1,3.2l-1.5,0.5l-1,-3.2zM56.7,55.5l1,3.2l-1.5,0.5l-1,-3.2zM24.4,11.6l-3.1,4.7l-1.5,-1.0l3.1,-4.7zM41.5,35.7l-3.1,1.4l-0.7,-1.5l3.1,-1.4zM24.4,-1.0l-0.3,6.6l-3.2,-0.2l0.3,-6.6zM24.4,55.0l-0.3,6.6l-3.2,-0.2l0.3,-6.6zM5.3,44.6l-1.2,2.2l-0.5,-0.3l1.2,-2.2zM24.6,45.9l-2.5,0.7l-0.4,-1.2l2.5,-0.7zM31.1,4.8l2.4,0.4l-0.2,1.2l-2.4,-0.4zM18.2,48.7l0.9,6.7l-3.2,0.4l-0.9,-6.7zM18.2,-7.3l0.9,6.7l-3.2,0.4l-0.9,-6.7zM55.3,10.0l-0.2,5.2l-2.5,-0.1l0.2,-5.2zM-0.7,10.0l-0.2,5.2l-2.5,-0.1l0.2,-5.2zM12.5,32.6l1.4,2.8l-1.4,0.7l-1.4,-2.8zM35,22.9l5,0.8l-0.2,1.2l-5,-0.8zM28.3,9.6l2.2,2.1l-1,1.1l-2.2,-2.1zM51.5,54.4l-4.3,3.9l-1,-1.1l4.3,-3.9zM51.5,-1.6l-4.3,3.9l-1,-1.1l4.3,-3.9zM43.6,14.3l2.8,1.3l-0.5,1.0l-2.8,-1.3zM20.1,43.4l-2.1,3.1l-1.2,-0.9l2.1,-3.1zM16.4,42.4l1.9,2.7l-1.1,0.8l-1.9,-2.7zM20.4,18.1l-3.3,0.9l-0.3,-1.0l3.3,-0.9zM23.3,34.3l0.1,6.7l-3.3,0.1l-0.1,-6.7zM49.4,-0.6l2.7,4.1l-2.2,1.4l-2.7,-4.1zM49.4,55.4l2.7,4.1l-2.2,1.4l-2.7,-4.1zM2.3,12.4l-2.3,3.0l-1,-0.8l2.3,-3.0zM58.3,12.4l-2.3,3.0l-1,-0.8l2.3,-3.0z"/><path fill="#FFFFFF" d="M43.7,24.0l1.8,1.6l-0.4,0.4l-1.8,-1.6zM40.4,30.1l0.3,2.0l-1.1,0.1l-0.3,-2.0zM22.7,14.5l-1.3,1.8l-0.5,-0.4l1.3,-1.8zM11.3,4.3l-3.9,2.1l-0.5,-0.8l3.9,-2.1zM11.3,60.3l-3.9,2.1l-0.5,-0.8l3.9,-2.1zM12.4,46.5l-4.7,1.0l-0.5,-2.3l4.7,-1.0zM21.3,43.1l0.9,4.8l-2.4,0.4l-0.9,-4.8zM18.5,17.9l-5.7,3.3l-0.8,-1.3l5.7,-3.3zM9.1,52.5l2.6,5.1l-1.5,0.8l-2.6,-5.1zM9.1,-3.5l2.6,5.1l-1.5,0.8l-2.6,-5.1zM38.1,39.3l3.7,1.9l-0.6,1.1l-3.7,-1.9zM36.5,24.5l-6,1.9l-1,-3.1l6,-1.9zM40.7,36.4l-3.7,1.8l-0.8,-1.7l3.7,-1.8zM10.4,10.1l-3.8,1.0l-0.6,-2.1l3.8,-1.0zM20,38.2l5.3,2.9l-1.3,2.4l-5.3,-2.9zM18.3,22.6l-1.5,2.1l-0.9,-0.6l1.5,-2.1zM3.9,0.3l-3.5,2.4l-0.6,-0.9l3.5,-2.4zM3.9,56.3l-3.5,2.4l-0.6,-0.9l3.5,-2.4zM59.9,0.3l-3.5,2.4l-0.6,-0.9l3.5,-2.4zM59.9,56.3l-3.5,2.4l-0.6,-0.9l3.5,-2.4z"/><path fill="#0AF5F8" d="M12.4,13.8l-2.9,0.9l-0.4,-1.2l2.9,-0.9zM1.7,53.7l0.2,2.1l-0.6,0.0l-0.2,-2.1zM1.7,-2.3l0.2,2.1l-0.6,0.0l-0.2,-2.1zM57.7,53.7l0.2,2.1l-0.6,0.0l-0.2,-2.1zM57.7,-2.3l0.2,2.1l-0.6,0.0l-0.2,-2.1zM45.7,48.3l2.1,0.9l-0.4,0.9l-2.1,-0.9zM6.7,41.5l-4.8,4.4l-1.8,-2.0l4.8,-4.4zM62.7,41.5l-4.8,4.4l-1.8,-2.0l4.8,-4.4zM44,46.4l-1.5,2.2l-0.6,-0.4l1.5,-2.2zM41.4,1.5l-6.3,0.7l-0.2,-1.8l6.3,-0.7zM41.4,57.5l-6.3,0.7l-0.2,-1.8l6.3,-0.7zM10.6,46.0l-1.6,2.7l-1.4,-0.9l1.6,-2.7zM36.8,42.8l0.2,2.3l-0.5,0.0l-0.2,-2.3zM52.2,5.9l5.2,2.0l-1,2.6l-5.2,-2.0zM-3.8,5.9l5.2,2.0l-1,2.6l-5.2,-2.0zM14.9,51.1l2.3,6.2l-1.8,0.7l-2.3,-6.2zM14.9,-4.9l2.3,6.2l-1.8,0.7l-2.3,-6.2zM47.8,7.2l-1.2,4.7l-2.1,-0.6l1.2,-4.7zM13.7,14.4l3,1.2l-0.2,0.6l-3,-1.2zM48,4.8l-5.2,4.3l-1.5,-1.9l5.2,-4.3zM48,60.8l-5.2,4.3l-1.5,-1.9l5.2,-4.3zM15.2,45.8l6.6,1.0l-0.5,3.2l-6.6,-1.0zM18.4,21.0l-5.6,1.4l-0.4,-1.5l5.6,-1.4zM44.7,34.6l3.9,4.5l-1.2,1.0l-3.9,-4.5zM54.9,6.9l-0.6,5.7l-2.7,-0.3l0.6,-5.7zM-1.1,6.9l-0.6,5.7l-2.7,-0.3l0.6,-5.7zM27.7,12.9l1.7,3.0l-1.4,0.8l-1.7,-3.0z"/><path fill="#782C8F" d="M13.8,8.9l-3.6,5.4l-2.3,-1.5l3.6,-5.4zM52.1,-0.3l2.4,1.1l-0.2,0.5l-2.4,-1.1zM52.1,55.7l2.4,1.1l-0.2,0.5l-2.4,-1.1zM-3.9,-0.3l2.4,1.1l-0.2,0.5l-2.4,-1.1zM-3.9,55.7l2.4,1.1l-0.2,0.5l-2.4,-1.1zM4,28.9l1.9,2.3l-0.5,0.4l-1.9,-2.3zM2.3,42.0l-1.7,6.0l-1.3,-0.4l1.7,-6.0zM58.3,42.0l-1.7,6.0l-1.3,-0.4l1.7,-6.0zM40.2,25.3l2.7,2.8l-1.5,1.5l-2.7,-2.8zM10.4,18.1l0.8,5.1l-2.4,0.4l-0.8,-5.1zM28.2,34.4l-1.2,6.0l-2.4,-0.5l1.2,-6.0zM2.4,0.0l-0.3,2.2l-0.7,-0.1l0.3,-2.2zM2.4,56.0l-0.3,2.2l-0.7,-0.1l0.3,-2.2zM58.4,0.0l-0.3,2.2l-0.7,-0.1l0.3,-2.2zM58.4,56.0l-0.3,2.2l-0.7,-0.1l0.3,-2.2zM10.3,21.1l-0.2,6.2l-2.3,-0.1l0.2,-6.2zM49.5,29.3l-0.5,3.4l-1.1,-0.2l0.5,-3.4zM39,11.6l1.4,1.5l-0.7,0.6l-1.4,-1.5zM6,54.8l6,0.3l-0.1,1.7l-6,-0.3zM6,-1.2l6,0.3l-0.1,1.7l-6,-0.3zM4.5,7.5l3.7,1.2l-0.3,1.0l-3.7,-1.2zM13.1,33.5l-2.4,1.0l-0.5,-1.2l2.4,-1.0zM17.2,46.2l0.1,2.7l-0.9,0.0l-0.1,-2.7zM3.9,4.1l-3.7,1.1l-0.3,-0.9l3.7,-1.1zM3.9,60.1l-3.7,1.1l-0.3,-0.9l3.7,-1.1zM59.9,4.1l-3.7,1.1l-0.3,-0.9l3.7,-1.1zM59.9,60.1l-3.7,1.1l-0.3,-0.9l3.7,-1.1zM38.5,21.9l2.7,4.1l-1.9,1.3l-2.7,-4.1zM46.8,37.8l-4.8,3.2l-0.7,-1.1l4.8,-3.2zM39.9,28.9l-5.2,0.7l-0.3,-2.1l5.2,-0.7zM11.7,45.8l-3.2,2.4l-0.9,-1.2l3.2,-2.4zM52.6,17.7l1.2,5.4l-1.3,0.3l-1.2,-5.4zM-3.4,17.7l1.2,5.4l-1.3,0.3l-1.2,-5.4zM16.8,39.8l3.7,3.1l-0.8,0.9l-3.7,-3.1zM51.6,33.4l-2,0.4l-0.1,-0.4l2,-0.4zM41.5,12.2l-3.6,5.4l-1.2,-0.8l3.6,-5.4zM22.3,46.0l-2.9,0.6l-0.3,-1.5l2.9,-0.6zM10.7,25.7l3.7,0.3l-0.1,1.1l-3.7,-0.3zM24.3,33.7l-0.6,2.3l-0.6,-0.2l0.6,-2.3zM28.8,51.5l-3.5,2.8l-1,-1.2l3.5,-2.8zM28.8,-4.5l-3.5,2.8l-1,-1.2l3.5,-2.8zM51.2,35.5l-0.6,3.0l-0.9,-0.2l0.6,-3.0z"/><path fill="#EEAD22" d="M1.3,2.4l3,3.0l-0.9,0.9l-3,-3.0zM1.3,58.4l3,3.0l-0.9,0.9l-3,-3.0zM57.3,2.4l3,3.0l-0.9,0.9l-3,-3.0zM57.3,58.4l3,3.0l-0.9,0.9l-3,-3.0zM51.7,-1.1l-0.3,4.8l-1.3,-0.1l0.3,-4.8zM51.7,54.9l-0.3,4.8l-1.3,-0.1l0.3,-4.8zM-4.3,-1.1l-0.3,4.8l-1.3,-0.1l0.3,-4.8zM-4.3,54.9l-0.3,4.8l-1.3,-0.1l0.3,-4.8zM37.4,47.7l0.2,2.3l-0.7,0.1l-0.2,-2.3zM21.6,53.7l-1.8,4.5l-1.5,-0.6l1.8,-4.5zM21.6,-2.3l-1.8,4.5l-1.5,-0.6l1.8,-4.5zM24.5,25.3l4.2,4.9l-2.1,1.8l-4.2,-4.9zM24.9,44.2l1.4,4.8l-2.2,0.6l-1.4,-4.8zM21.4,1.4l2.8,5.4l-1.9,1.0l-2.8,-5.4zM21.4,57.4l2.8,5.4l-1.9,1.0l-2.8,-5.4zM17.4,38.5l-5.8,1.1l-0.4,-2.0l5.8,-1.1zM35.9,46.0l-2.6,1.1l-0.4,-1.0l2.6,-1.1zM44,14.7l-3.1,2.2l-0.5,-0.7l3.1,-2.2z"/><path fill="#78AB30" d="M13.5,20.7l-0.3,2.9l-0.6,-0.1l0.3,-2.9zM4,50.1l-4.3,4.0l-1.6,-1.8l4.3,-4.0zM4,-5.9l-4.3,4.0l-1.6,-1.8l4.3,-4.0zM60,50.1l-4.3,4.0l-1.6,-1.8l4.3,-4.0zM60,-5.9l-4.3,4.0l-1.6,-1.8l4.3,-4.0z"/></pattern><pattern id="tx2" width="44" height="44" patternUnits="userSpaceOnUse"><rect width="44" height="44" fill="#0A6DBA"/><path fill="#782C8F" d="M4.6,20.1l4.2,2.7l-1.3,2.0l-4.2,-2.7zM38,2.9l2.4,2.3l-1.3,1.3l-2.4,-2.3zM38.4,16.6l1.7,3.6l-1,0.4l-1.7,-3.6zM31.7,2.2l-3.2,3.6l-0.9,-0.8l3.2,-3.6zM31.7,46.2l-3.2,3.6l-0.9,-0.8l3.2,-3.6zM12.1,35.1l-1.2,1.7l-0.5,-0.4l1.2,-1.7zM3.2,0.7l-0.8,1.9l-0.5,-0.2l0.8,-1.9zM3.2,44.7l-0.8,1.9l-0.5,-0.2l0.8,-1.9zM47.2,0.7l-0.8,1.9l-0.5,-0.2l0.8,-1.9zM47.2,44.7l-0.8,1.9l-0.5,-0.2l0.8,-1.9zM25.3,25.2l3,3.1l-1.5,1.5l-3,-3.1zM31.4,3.7l-1.3,2.2l-1.2,-0.7l1.3,-2.2zM20.8,16.7l-0.9,3.1l-1,-0.3l0.9,-3.1zM14.7,15.2l-3.4,3.3l-0.9,-0.9l3.4,-3.3zM25.4,15.5l1,3.0l-1.5,0.5l-1,-3.0zM7.7,4.3l-4.4,0.6l-0.3,-2.1l4.4,-0.6zM7.7,48.3l-4.4,0.6l-0.3,-2.1l4.4,-0.6zM51.7,4.3l-4.4,0.6l-0.3,-2.1l4.4,-0.6zM51.7,48.3l-4.4,0.6l-0.3,-2.1l4.4,-0.6zM2,37.3l4.6,1.9l-0.9,2.2l-4.6,-1.9zM2,-6.7l4.6,1.9l-0.9,2.2l-4.6,-1.9zM46,37.3l4.6,1.9l-0.9,2.2l-4.6,-1.9zM46,-6.7l4.6,1.9l-0.9,2.2l-4.6,-1.9zM11.1,27.6l-0.3,3.9l-1.6,-0.1l0.3,-3.9zM24.5,39.8l-0.2,4.1l-1.2,-0.1l0.2,-4.1zM24.5,-4.2l-0.2,4.1l-1.2,-0.1l0.2,-4.1zM27.4,17.9l0.2,2.4l-1.1,0.1l-0.2,-2.4zM43.4,3.1l-1.3,0.7l-0.3,-0.6l1.3,-0.7zM-0.6,3.1l-1.3,0.7l-0.3,-0.6l1.3,-0.7zM17.3,19.3l-0.5,2.5l-0.6,-0.1l0.5,-2.5zM27.1,19.9l3.3,0.8l-0.5,1.9l-3.3,-0.8zM42,2.6l1.8,4.0l-1.5,0.7l-1.8,-4.0zM42,46.6l1.8,4.0l-1.5,0.7l-1.8,-4.0zM-2,2.6l1.8,4.0l-1.5,0.7l-1.8,-4.0zM-2,46.6l1.8,4.0l-1.5,0.7l-1.8,-4.0zM3.1,19.0l1.3,1.7l-0.7,0.5l-1.3,-1.7zM10.3,6.3l1.7,3.5l-1.3,0.6l-1.7,-3.5zM26.5,28.3l2.4,1.5l-0.6,0.9l-2.4,-1.5zM2.8,15.7l-2.6,1.0l-0.6,-1.5l2.6,-1.0zM46.8,15.7l-2.6,1.0l-0.6,-1.5l2.6,-1.0zM27,5.5l2.5,0.8l-0.4,1.4l-2.5,-0.8zM8.7,9.5l1.4,2.6l-0.9,0.5l-1.4,-2.6zM11.9,26.4l-2,1.8l-0.7,-0.8l2,-1.8zM5.3,36.1l2.7,1.2l-0.6,1.4l-2.7,-1.2z"/><path fill="#0A6DBA" d="M19.1,29.5l-0.7,4.9l-2.9,-0.4l0.7,-4.9zM11.6,0.7l0.9,1.3l-0.6,0.4l-0.9,-1.3zM11.6,44.7l0.9,1.3l-0.6,0.4l-0.9,-1.3zM37.6,22.4l3.5,0.3l-0.1,1.1l-3.5,-0.3zM44.2,41.9l-1.3,1.6l-0.8,-0.7l1.3,-1.6zM44.2,-2.1l-1.3,1.6l-0.8,-0.7l1.3,-1.6zM0.2,41.9l-1.3,1.6l-0.8,-0.7l1.3,-1.6zM0.2,-2.1l-1.3,1.6l-0.8,-0.7l1.3,-1.6zM25.9,21.2l-4.1,2.4l-1,-1.7l4.1,-2.4zM40.5,39.9l-3,0.8l-0.3,-1.4l3,-0.8zM21.8,27.1l2.8,2.2l-0.8,1.0l-2.8,-2.2zM42,27.1l-1.1,1.3l-0.7,-0.6l1.1,-1.3zM1.7,42.5l1,1.8l-0.5,0.3l-1,-1.8zM1.7,-1.5l1,1.8l-0.5,0.3l-1,-1.8zM45.7,42.5l1,1.8l-0.5,0.3l-1,-1.8zM45.7,-1.5l1,1.8l-0.5,0.3l-1,-1.8zM10.1,27.7l0.4,2.6l-0.7,0.1l-0.4,-2.6zM43.7,38.5l0.9,4.9l-1.6,0.3l-0.9,-4.9zM43.7,-5.5l0.9,4.9l-1.6,0.3l-0.9,-4.9zM-0.3,38.5l0.9,4.9l-1.6,0.3l-0.9,-4.9zM-0.3,-5.5l0.9,4.9l-1.6,0.3l-0.9,-4.9zM22.5,-0.4l1.5,0.6l-0.2,0.6l-1.5,-0.6zM22.5,43.6l1.5,0.6l-0.2,0.6l-1.5,-0.6zM22.4,13.7l-3.6,1.1l-0.4,-1.2l3.6,-1.1zM23.2,6.9l0.7,1.7l-0.9,0.4l-0.7,-1.7zM40.7,25.4l1,2.3l-1.4,0.6l-1,-2.3zM-3.3,25.4l1,2.3l-1.4,0.6l-1,-2.3zM20.6,33.9l0.2,2.4l-1.1,0.1l-0.2,-2.4zM13,17.2l-1,3.7l-2.1,-0.6l1,-3.7zM29.6,41.1l0.4,3.7l-0.9,0.1l-0.4,-3.7zM29.6,-2.9l0.4,3.7l-0.9,0.1l-0.4,-3.7zM3.1,2.5l-2.9,2.9l-0.9,-0.9l2.9,-2.9zM3.1,46.5l-2.9,2.9l-0.9,-0.9l2.9,-2.9zM47.1,2.5l-2.9,2.9l-0.9,-0.9l2.9,-2.9zM47.1,46.5l-2.9,2.9l-0.9,-0.9l2.9,-2.9zM40.4,41.3l-3.2,0.5l-0.3,-1.6l3.2,-0.5zM40.4,-2.7l-3.2,0.5l-0.3,-1.6l3.2,-0.5zM37.4,12.6l1.4,4.0l-1.8,0.6l-1.4,-4.0z"/><path fill="#0AF5F8" d="M12.4,25.1l3.2,1.7l-0.8,1.4l-3.2,-1.7zM32.8,3.6l0.4,2.6l-0.7,0.1l-0.4,-2.6zM2.1,26.9l0,4.2l-2.1,0.0l-0,-4.2zM46.1,26.9l0,4.2l-2.1,0.0l-0,-4.2zM11.6,37.7l0.9,3.0l-1.5,0.5l-0.9,-3.0zM39,6.2l1,3.1l-1.3,0.4l-1,-3.1zM41.2,29.2l1.6,2.7l-1.6,0.9l-1.6,-2.7zM-2.8,29.2l1.6,2.7l-1.6,0.9l-1.6,-2.7zM41.1,28.8l-4.3,0.8l-0.2,-1.1l4.3,-0.8zM-2.9,28.8l-4.3,0.8l-0.2,-1.1l4.3,-0.8zM32.4,19.4l2.6,2.9l-1.1,0.9l-2.6,-2.9z"/><path fill="#FFFFFF" d="M42.7,2.2l-1.2,1.3l-0.7,-0.7l1.2,-1.3zM42.7,46.2l-1.2,1.3l-0.7,-0.7l1.2,-1.3zM-1.3,2.2l-1.2,1.3l-0.7,-0.7l1.2,-1.3zM-1.3,46.2l-1.2,1.3l-0.7,-0.7l1.2,-1.3zM37.6,31.8l-3.7,2.9l-1.5,-1.9l3.7,-2.9zM20.6,8.5l2.3,1.3l-0.7,1.1l-2.3,-1.3zM13.2,39.5l-1.6,2.1l-1.2,-0.9l1.6,-2.1zM8.2,31.9l1.1,1.3l-0.6,0.5l-1.1,-1.3zM34.7,38.7l-2.5,3.3l-1.8,-1.4l2.5,-3.3zM34.7,-5.3l-2.5,3.3l-1.8,-1.4l2.5,-3.3zM4.6,24.6l2.6,1.3l-0.5,1.1l-2.6,-1.3zM12,25.3l-0.5,2.9l-0.7,-0.1l0.5,-2.9zM10,3.4l1.7,1.3l-0.4,0.5l-1.7,-1.3zM30.6,18.1l3.2,0.5l-0.2,1.5l-3.2,-0.5zM34.3,39.0l3.3,2.9l-1,1.2l-3.3,-2.9zM34.3,-5.0l3.3,2.9l-1,1.2l-3.3,-2.9zM4.3,13.1l1.3,4.8l-1.5,0.4l-1.3,-4.8zM48.3,13.1l1.3,4.8l-1.5,0.4l-1.3,-4.8zM30.5,31.7l-1.7,4.2l-1.4,-0.5l1.7,-4.2zM29,39.1l-3.8,2.5l-0.7,-1.1l3.8,-2.5zM29,-4.9l-3.8,2.5l-0.7,-1.1l3.8,-2.5zM10.6,32.2l-2.9,2.0l-0.6,-0.9l2.9,-2.0zM16.3,27.8l3.9,1.7l-1,2.1l-3.9,-1.7zM17.7,23.6l-2.6,1.1l-0.5,-1.1l2.6,-1.1zM13.6,26.1l1.4,4.0l-1.9,0.7l-1.4,-4.0zM5.7,27.8l-2.6,1.3l-0.6,-1.1l2.6,-1.3zM27.1,12.4l1.7,1.5l-0.6,0.7l-1.7,-1.5zM40.5,17.3l1.9,3.2l-1.8,1.1l-1.9,-3.2zM-3.5,17.3l1.9,3.2l-1.8,1.1l-1.9,-3.2zM12.2,35.2l-3.2,2.0l-0.8,-1.2l3.2,-2.0zM35.5,39.3l-4.8,0.3l-0.2,-2.4l4.8,-0.3zM35.5,-4.7l-4.8,0.3l-0.2,-2.4l4.8,-0.3zM18,21.4l-4.6,0.6l-0.2,-1.4l4.6,-0.6zM19.4,22.6l0.8,2.2l-1.2,0.4l-0.8,-2.2z"/><path fill="#EEAD22" d="M33.5,24.7l2,0.2l-0.1,0.8l-2,-0.2zM19.2,20.5l-3.2,1.8l-0.6,-1.2l3.2,-1.8z"/><path fill="#782C8F" d="M40.4,27.6l2.7,3.9l-1.1,0.7l-2.7,-3.9zM-3.6,27.6l2.7,3.9l-1.1,0.7l-2.7,-3.9zM20.3,24.0l1.9,0.4l-0.2,0.8l-1.9,-0.4zM42.3,36.3l-3.1,1.3l-0.6,-1.5l3.1,-1.3zM-1.7,36.3l-3.1,1.3l-0.6,-1.5l3.1,-1.3zM21.1,5.0l1.5,1.2l-0.3,0.4l-1.5,-1.2zM11.5,17.1l-3.5,1.1l-0.6,-1.9l3.5,-1.1zM25.2,8.1l-1,2.0l-0.9,-0.4l1,-2.0zM22.9,15.5l2.7,2.0l-1.1,1.5l-2.7,-2.0zM11.4,30.4l0.7,2.6l-1.1,0.3l-0.7,-2.6zM32,36.8l-0.3,3.6l-1.8,-0.1l0.3,-3.6zM10.6,1.2l-1.4,3.6l-1.1,-0.4l1.4,-3.6zM10.6,45.2l-1.4,3.6l-1.1,-0.4l1.4,-3.6zM12.1,23.7l-4.3,0.7l-0.2,-1.2l4.3,-0.7zM0.8,20.1l1,1.7l-0.5,0.3l-1,-1.7zM44.8,20.1l1,1.7l-0.5,0.3l-1,-1.7zM30.3,18.5l-1,1.7l-0.6,-0.3l1,-1.7zM37.1,15.5l-3.9,2.8l-1.3,-1.9l3.9,-2.8zM27.9,42.4l3.9,1.0l-0.5,2.1l-3.9,-1.0zM27.9,-1.6l3.9,1.0l-0.5,2.1l-3.9,-1.0zM25.6,40.1l2.6,3.5l-1.7,1.3l-2.6,-3.5zM25.6,-3.9l2.6,3.5l-1.7,1.3l-2.6,-3.5zM16.7,21.2l2.4,0.4l-0.2,1.2l-2.4,-0.4zM17.3,-0.3l-1.7,3.6l-2.1,-1.0l1.7,-3.6zM17.3,43.7l-1.7,3.6l-2.1,-1.0l1.7,-3.6zM30.9,40.7l4.4,0.4l-0.2,2.0l-4.4,-0.4zM30.9,-3.3l4.4,0.4l-0.2,2.0l-4.4,-0.4zM38.5,41.8l-1.9,2.8l-1.3,-0.8l1.9,-2.8zM38.5,-2.2l-1.9,2.8l-1.3,-0.8l1.9,-2.8zM33.2,14.6l-2.2,3.9l-1.6,-0.9l2.2,-3.9zM30.7,29.1l-2.9,0.1l-0,-1.2l2.9,-0.1zM36.8,13.4l0.5,1.7l-0.8,0.2l-0.5,-1.7zM35.9,22.9l2.6,3.1l-1.3,1.1l-2.6,-3.1zM35.2,30.6l1.7,1.6l-0.7,0.8l-1.7,-1.6zM35.4,8.5l-1.9,1.1l-0.4,-0.7l1.9,-1.1zM37.3,12.1l3.2,1.3l-0.5,1.3l-3.2,-1.3zM7,20.4l-0.1,1.8l-0.9,-0.1l0.1,-1.8zM25.5,19.3l1.1,1.9l-0.5,0.3l-1.1,-1.9zM36.6,23.2l-4.7,0.7l-0.4,-2.8l4.7,-0.7z"/><path fill="#0A6DBA" d="M19,23.3l-1.7,0.0l-0,-0.5l1.7,0zM34.6,33.9l2.2,2.7l-1.1,0.9l-2.2,-2.7zM12.3,6.8l2.8,3.4l-1.7,1.4l-2.8,-3.4zM11.5,6.8l0.3,3.2l-1,0.1l-0.3,-3.2zM3.9,23.5l0.1,4.7l-2.2,0.0l-0.1,-4.7zM47.9,23.5l0.1,4.7l-2.2,0.0l-0.1,-4.7zM19.2,41.1l1.1,2.7l-1.1,0.4l-1.1,-2.7zM19.2,-2.9l1.1,2.7l-1.1,0.4l-1.1,-2.7zM24.7,33.7l-2.4,2.6l-1.3,-1.2l2.4,-2.6zM28.2,26.2l-0.9,4.7l-1.3,-0.2l0.9,-4.7zM42.7,14.6l-0.9,2.5l-1.5,-0.5l0.9,-2.5zM-1.3,14.6l-0.9,2.5l-1.5,-0.5l0.9,-2.5zM25.9,17.8l2.6,1.5l-0.8,1.4l-2.6,-1.5zM23.4,15.3l1.1,4.6l-1.3,0.3l-1.1,-4.6zM16.8,41.0l0.7,3.4l-1.5,0.3l-0.7,-3.4zM16.8,-3.0l0.7,3.4l-1.5,0.3l-0.7,-3.4zM42.9,33.5l-1.1,3.6l-1.1,-0.3l1.1,-3.6zM-1.1,33.5l-1.1,3.6l-1.1,-0.3l1.1,-3.6zM38.1,31.2l3.5,1.4l-0.8,2.1l-3.5,-1.4zM-5.9,31.2l3.5,1.4l-0.8,2.1l-3.5,-1.4zM6.4,40.9l-1.9,2.1l-1,-0.9l1.9,-2.1zM6.4,-3.1l-1.9,2.1l-1,-0.9l1.9,-2.1zM24.1,8.3l3.8,2.4l-1.4,2.2l-3.8,-2.4zM10.2,8.8l-3.5,1.9l-1.1,-2.0l3.5,-1.9z"/><path fill="#0AF5F8" d="M28.7,23.8l-4.3,2.4l-1.4,-2.6l4.3,-2.4zM6,42.6l-3.6,1.2l-0.3,-1.0l3.6,-1.2zM6,-1.4l-3.6,1.2l-0.3,-1.0l3.6,-1.2zM50,42.6l-3.6,1.2l-0.3,-1.0l3.6,-1.2zM50,-1.4l-3.6,1.2l-0.3,-1.0l3.6,-1.2zM23.3,40.0l-1.7,1.1l-0.3,-0.5l1.7,-1.1zM9.5,15.2l0.6,2.5l-1,0.2l-0.6,-2.5zM34.1,30.2l-2.4,2.1l-0.6,-0.6l2.4,-2.1zM26.7,8.8l-4.6,1.5l-0.9,-2.7l4.6,-1.5zM4.8,29.6l1.9,1.5l-0.9,1.1l-1.9,-1.5zM12.9,5.6l2.8,2.3l-1.3,1.5l-2.8,-2.3zM27.9,37.2l3.1,2.4l-0.8,1.1l-3.1,-2.4zM1.2,30.1l2.8,0.9l-0.4,1.2l-2.8,-0.9zM45.2,30.1l2.8,0.9l-0.4,1.2l-2.8,-0.9zM10.4,17.9l2.1,2.3l-0.9,0.8l-2.1,-2.3zM24.1,17.6l1.2,4.7l-2.4,0.6l-1.2,-4.7zM28,17.2l1.6,4.6l-2.7,1.0l-1.6,-4.6zM33.7,29.1l1.3,2.5l-1.3,0.7l-1.3,-2.5zM3.9,15.3l-3.2,0.3l-0.2,-1.8l3.2,-0.3zM47.9,15.3l-3.2,0.3l-0.2,-1.8l3.2,-0.3zM33.7,5.3l2.2,0.0l-0,1.1l-2.2,0zM35.4,5.4l4.4,1.7l-0.4,1.1l-4.4,-1.7zM16.4,40.2l-0.7,4.0l-1.3,-0.2l0.7,-4.0zM16.4,-3.8l-0.7,4.0l-1.3,-0.2l0.7,-4.0z"/><path fill="#FFFFFF" d="M-0.6,3.7l2.4,1.2l-0.4,0.8l-2.4,-1.2zM43.4,3.7l2.4,1.2l-0.4,0.8l-2.4,-1.2zM45.2,8.8l-1.9,3.5l-1.7,-0.9l1.9,-3.5zM1.2,8.8l-1.9,3.5l-1.7,-0.9l1.9,-3.5zM36.1,25.8l1.5,0.5l-0.2,0.5l-1.5,-0.5zM25.6,16.6l0.4,2.9l-1.5,0.2l-0.4,-2.9zM30.3,32.9l1.4,2.7l-1.1,0.6l-1.4,-2.7zM12.5,-1.7l2.5,3.8l-1.2,0.8l-2.5,-3.8zM12.5,42.3l2.5,3.8l-1.2,0.8l-2.5,-3.8zM1.4,24.7l-0.6,1.9l-0.6,-0.2l0.6,-1.9zM45.4,24.7l-0.6,1.9l-0.6,-0.2l0.6,-1.9zM41.7,7.1l-2.5,0.6l-0.3,-1.5l2.5,-0.6zM23.2,42.4l-1.4,0.8l-0.3,-0.5l1.4,-0.8zM23.2,-1.6l-1.4,0.8l-0.3,-0.5l1.4,-0.8zM2.3,8.5l1.3,4.1l-2.3,0.7l-1.3,-4.1zM46.3,8.5l1.3,4.1l-2.3,0.7l-1.3,-4.1zM4.3,25.5l1.4,1.0l-0.3,0.5l-1.4,-1.0zM19.3,38.9l-1.6,3.1l-1.2,-0.6l1.6,-3.1zM19.3,-5.1l-1.6,3.1l-1.2,-0.6l1.6,-3.1zM37.6,28.5l3.8,0.5l-0.2,1.5l-3.8,-0.5zM-6.4,28.5l3.8,0.5l-0.2,1.5l-3.8,-0.5zM19.8,3.4l0,1.6l-0.4,0.0l-0,-1.6zM27.4,24.3l2,1.1l-0.5,0.9l-2,-1.1zM26.2,21.4l0.2,2.1l-0.8,0.1l-0.2,-2.1zM10.1,36.1l-4.5,0.6l-0.2,-1.9l4.5,-0.6zM12.7,-1.2l1.2,4.5l-1.4,0.4l-1.2,-4.5zM12.7,42.8l1.2,4.5l-1.4,0.4l-1.2,-4.5zM8.8,9.7l-3,2.1l-1,-1.4l3,-2.1z"/><path fill="#782C8F" d="M3,27.5l-2.9,2.8l-1.6,-1.6l2.9,-2.8zM47,27.5l-2.9,2.8l-1.6,-1.6l2.9,-2.8zM32,41.1l2.3,3.1l-1.3,1.0l-2.3,-3.1zM32,-2.9l2.3,3.1l-1.3,1.0l-2.3,-3.1zM28.6,42.5l-1.8,0.6l-0.3,-1.0l1.8,-0.6zM28.6,-1.5l-1.8,0.6l-0.3,-1.0l1.8,-0.6zM5.2,7.2l-1.4,2.7l-1.1,-0.6l1.4,-2.7zM49.2,7.2l-1.4,2.7l-1.1,-0.6l1.4,-2.7zM11.7,14.6l-2,2.1l-0.9,-0.9l2,-2.1zM25.6,15.1l-2.3,0.3l-0.1,-0.7l2.3,-0.3zM34.4,15.5l1.7,1.9l-0.6,0.5l-1.7,-1.9zM11.1,8.4l1.9,2.7l-1.5,1.0l-1.9,-2.7zM-1.6,39.3l4.4,1.3l-0.5,1.8l-4.4,-1.3zM-1.6,-4.7l4.4,1.3l-0.5,1.8l-4.4,-1.3zM42.4,39.3l4.4,1.3l-0.5,1.8l-4.4,-1.3zM42.4,-4.7l4.4,1.3l-0.5,1.8l-4.4,-1.3zM12.3,10.6l0.5,1.5l-0.7,0.2l-0.5,-1.5zM31.2,7.3l-3.7,2.1l-0.8,-1.5l3.7,-2.1zM2.6,8.5l-3,2.7l-1.5,-1.6l3,-2.7zM46.6,8.5l-3,2.7l-1.5,-1.6l3,-2.7zM13.1,9.7l-1.2,2.0l-0.7,-0.4l1.2,-2.0zM3.3,34.1l2.1,2.8l-1.3,1.0l-2.1,-2.8zM47.3,34.1l2.1,2.8l-1.3,1.0l-2.1,-2.8zM28.1,4.2l0.2,3.1l-1.4,0.1l-0.2,-3.1zM7.3,14.8l3.1,2.2l-0.9,1.2l-3.1,-2.2zM41.2,1.7l-1.5,1.2l-0.4,-0.5l1.5,-1.2zM41.2,45.7l-1.5,1.2l-0.4,-0.5l1.5,-1.2zM26.9,25.6l-2.6,2.6l-1.5,-1.5l2.6,-2.6zM6.6,26.9l-2.2,4.4l-1.8,-0.9l2.2,-4.4zM50.6,26.9l-2.2,4.4l-1.8,-0.9l2.2,-4.4zM15.3,32.4l-3.3,3.2l-1.9,-2.0l3.3,-3.2zM32.2,16.3l-1.6,2.6l-1.3,-0.8l1.6,-2.6zM29.4,2.9l-2.1,0.6l-0.3,-1.2l2.1,-0.6zM29.4,46.9l-2.1,0.6l-0.3,-1.2l2.1,-0.6zM32.2,7.0l3.1,0.8l-0.3,1.2l-3.1,-0.8zM12.4,33.6l0.3,4.8l-1.6,0.1l-0.3,-4.8zM9.9,13.0l-1.4,4.0l-1.9,-0.7l1.4,-4.0zM27.7,41.4l-3.3,2.3l-0.6,-0.9l3.3,-2.3zM27.7,-2.6l-3.3,2.3l-0.6,-0.9l3.3,-2.3zM26.6,7.5l0.1,1.7l-0.9,0.0l-0.1,-1.7zM12.8,34.9l-1.4,2.3l-1.1,-0.7l1.4,-2.3zM32.5,41.3l2.1,1.2l-0.3,0.5l-2.1,-1.2zM32.5,-2.7l2.1,1.2l-0.3,0.5l-2.1,-1.2z"/><path fill="#0A6DBA" d="M38.6,6.9l-2.4,0.9l-0.4,-1.1l2.4,-0.9zM3.2,39.1l2.6,2.3l-1.2,1.4l-2.6,-2.3zM3.2,-4.9l2.6,2.3l-1.2,1.4l-2.6,-2.3zM47.2,39.1l2.6,2.3l-1.2,1.4l-2.6,-2.3zM47.2,-4.9l2.6,2.3l-1.2,1.4l-2.6,-2.3zM13.9,20.9l0.7,2.2l-0.9,0.3l-0.7,-2.2zM-0.7,16.6l3.2,2.2l-1.2,1.8l-3.2,-2.2zM43.3,16.6l3.2,2.2l-1.2,1.8l-3.2,-2.2zM20.1,34.9l3.6,2.2l-1.3,2.1l-3.6,-2.2zM38.7,6.4l1.6,0.8l-0.4,0.8l-1.6,-0.8zM31.4,29.1l2.2,0.3l-0.2,1.2l-2.2,-0.3zM11.5,15.6l-2.2,3.2l-0.9,-0.7l2.2,-3.2zM11.9,36.8l-0.6,4.6l-2.3,-0.3l0.6,-4.6zM11.9,-7.2l-0.6,4.6l-2.3,-0.3l0.6,-4.6zM30.2,25.8l-1,2.5l-1.5,-0.6l1,-2.5zM13.3,4.2l1.9,3.0l-1.3,0.8l-1.9,-3.0zM38.9,35.5l-1.9,4.6l-1.6,-0.6l1.9,-4.6zM29.3,11.7l1,4.2l-1.7,0.4l-1,-4.2zM23.4,37.1l1.9,0.0l-0,0.7l-1.9,0zM21.5,39.7l1.4,4.6l-1.2,0.4l-1.4,-4.6zM21.5,-4.3l1.4,4.6l-1.2,0.4l-1.4,-4.6zM29,21.1l0.5,4.3l-1.2,0.2l-0.5,-4.3zM35.4,14.3l-1.1,1.1l-0.6,-0.6l1.1,-1.1z"/><path fill="#0AF5F8" d="M40.9,23.6l-1.7,1.9l-1.2,-1.0l1.7,-1.9zM8.4,39.1l-0.4,1.5l-0.8,-0.2l0.4,-1.5zM10.6,28.8l4.2,1.8l-0.6,1.3l-4.2,-1.8zM24.2,23.5l-2,1.4l-0.7,-1.0l2,-1.4zM35.1,41.4l4.3,1.0l-0.4,1.6l-4.3,-1.0zM35.1,-2.6l4.3,1.0l-0.4,1.6l-4.3,-1.0zM38.2,0.4l1.1,3.6l-1.6,0.5l-1.1,-3.6zM38.2,44.4l1.1,3.6l-1.6,0.5l-1.1,-3.6zM15.9,41.8l3.5,0.8l-0.4,1.6l-3.5,-0.8zM15.9,-2.2l3.5,0.8l-0.4,1.6l-3.5,-0.8zM31.7,24.7l-0.3,2.9l-1.1,-0.1l0.3,-2.9zM9.6,40.7l0.8,1.6l-0.9,0.5l-0.8,-1.6zM9.6,-3.3l0.8,1.6l-0.9,0.5l-0.8,-1.6z"/><path fill="#FFFFFF" d="M13.5,39.1l3.2,2.1l-0.8,1.2l-3.2,-2.1zM13.5,-4.9l3.2,2.1l-0.8,1.2l-3.2,-2.1zM29.1,-0.2l1,3.8l-1.4,0.4l-1,-3.8zM29.1,43.8l1,3.8l-1.4,0.4l-1,-3.8zM8.4,10.4l3.3,0.9l-0.5,1.9l-3.3,-0.9zM33.6,6.8l-2.3,3.0l-1.4,-1.1l2.3,-3.0zM36.2,6.6l1.2,1.6l-0.5,0.3l-1.2,-1.6zM12.7,23.6l1.8,2.8l-1.3,0.8l-1.8,-2.8zM21,19.1l2.9,2.4l-0.7,0.9l-2.9,-2.4zM34,43.6l-2.8,1.0l-0.6,-1.7l2.8,-1.0zM34,-0.4l-2.8,1.0l-0.6,-1.7l2.8,-1.0zM40.4,39.4l-0,3.5l-1.9,0l0,-3.5zM40.4,-4.6l-0,3.5l-1.9,0l0,-3.5zM1.9,33.3l1.3,1.7l-0.6,0.5l-1.3,-1.7zM45.9,33.3l1.3,1.7l-0.6,0.5l-1.3,-1.7zM28.2,19.5l0.9,2.0l-0.5,0.2l-0.9,-2.0zM18.8,27.5l2.4,3.9l-1,0.7l-2.4,-3.9zM26.9,0.1l-1.3,2.5l-1.5,-0.8l1.3,-2.5zM26.9,44.1l-1.3,2.5l-1.5,-0.8l1.3,-2.5zM22.6,39.4l-1.3,4.5l-2.1,-0.6l1.3,-4.5zM22.6,-4.6l-1.3,4.5l-2.1,-0.6l1.3,-4.5zM2,0.2l-0.6,2.3l-0.6,-0.2l0.6,-2.3zM2,44.2l-0.6,2.3l-0.6,-0.2l0.6,-2.3zM46,0.2l-0.6,2.3l-0.6,-0.2l0.6,-2.3zM46,44.2l-0.6,2.3l-0.6,-0.2l0.6,-2.3zM41.3,3.4l-1.8,3.4l-1.6,-0.9l1.8,-3.4zM41.3,47.4l-1.8,3.4l-1.6,-0.9l1.8,-3.4zM-2.7,3.4l-1.8,3.4l-1.6,-0.9l1.8,-3.4zM-2.7,47.4l-1.8,3.4l-1.6,-0.9l1.8,-3.4zM10,3.2l2.5,2.0l-0.6,0.8l-2.5,-2.0zM41.6,43.5l1.6,0.5l-0.2,0.6l-1.6,-0.5zM41.6,-0.5l1.6,0.5l-0.2,0.6l-1.6,-0.5zM-2.4,43.5l1.6,0.5l-0.2,0.6l-1.6,-0.5zM-2.4,-0.5l1.6,0.5l-0.2,0.6l-1.6,-0.5zM31.5,7.8l4.2,1.5l-0.4,1.1l-4.2,-1.5zM5.6,38.2l4.6,1.2l-0.6,2.5l-4.6,-1.2zM5.6,-5.8l4.6,1.2l-0.6,2.5l-4.6,-1.2zM12.4,31.9l1.8,0.2l-0.1,0.9l-1.8,-0.2zM10.8,31.5l3.7,2.6l-0.8,1.1l-3.7,-2.6zM17,24.6l0.4,2.2l-1.2,0.2l-0.4,-2.2zM29.9,28.7l1.3,4.4l-2.3,0.7l-1.3,-4.4zM38.5,6.6l-2.8,2.8l-1.5,-1.5l2.8,-2.8zM8.3,5.9l-0.5,3.6l-1.1,-0.2l0.5,-3.6zM42.1,18.0l-2.8,1.2l-0.5,-1.3l2.8,-1.2zM-1.9,18.0l-2.8,1.2l-0.5,-1.3l2.8,-1.2zM16.9,5.2l-3.8,0.7l-0.3,-1.3l3.8,-0.7z"/><path fill="#EEAD22" d="M19.5,27.7l-0.8,1.7l-0.7,-0.4l0.8,-1.7z"/><path fill="#782C8F" d="M36.1,40.6l1.2,3.6l-1.9,0.6l-1.2,-3.6zM36.1,-3.4l1.2,3.6l-1.9,0.6l-1.2,-3.6zM28.8,34.4l1.6,1.8l-0.7,0.6l-1.6,-1.8zM38.9,0.0l-1.2,1.0l-0.3,-0.4l1.2,-1.0zM38.9,44.0l-1.2,1.0l-0.3,-0.4l1.2,-1.0zM19.4,5.6l-2.6,0.1l-0,-0.9l2.6,-0.1zM25,35.7l-2.4,1.6l-0.8,-1.2l2.4,-1.6zM7.9,39.4l3.6,1.1l-0.3,1.0l-3.6,-1.1zM7.9,-4.6l3.6,1.1l-0.3,1.0l-3.6,-1.1zM41.3,13.2l3.5,2.5l-0.8,1.2l-3.5,-2.5zM-2.7,13.2l3.5,2.5l-0.8,1.2l-3.5,-2.5zM10.3,27.1l3.9,0.4l-0.2,1.9l-3.9,-0.4zM27.1,8.7l-0.4,3.5l-0.9,-0.1l0.4,-3.5zM26.3,25.7l0.4,3.9l-1.8,0.2l-0.4,-3.9zM31.5,15.2l-1.8,1.7l-0.5,-0.6l1.8,-1.7zM35.4,9.5l2.7,1.2l-0.5,1.1l-2.7,-1.2zM2.1,22.9l-3.7,0.5l-0.3,-2.2l3.7,-0.5zM46.1,22.9l-3.7,0.5l-0.3,-2.2l3.7,-0.5zM43.3,4.0l-1.1,1.7l-0.7,-0.5l1.1,-1.7zM-0.7,4.0l-1.1,1.7l-0.7,-0.5l1.1,-1.7zM1.2,17.0l2.5,1.5l-0.8,1.3l-2.5,-1.5zM45.2,17.0l2.5,1.5l-0.8,1.3l-2.5,-1.5zM5.4,4.0l2.1,0.8l-0.4,1.0l-2.1,-0.8zM11.8,-0.1l-0.4,4.0l-2.1,-0.2l0.4,-4.0zM11.8,43.9l-0.4,4.0l-2.1,-0.2l0.4,-4.0zM2.9,31.9l-2.3,0.1l-0,-1.0l2.3,-0.1zM46.9,31.9l-2.3,0.1l-0,-1.0l2.3,-0.1zM31.8,18.3l-2,2.7l-1.1,-0.8l2,-2.7zM33.7,40.8l3.3,1.8l-0.8,1.5l-3.3,-1.8zM33.7,-3.2l3.3,1.8l-0.8,1.5l-3.3,-1.8zM36.7,18.2l-1.5,1.2l-0.3,-0.4l1.5,-1.2zM42,14.4l-1.7,3.3l-1.2,-0.6l1.7,-3.3zM-2,14.4l-1.7,3.3l-1.2,-0.6l1.7,-3.3zM12.6,5.7l-1.7,0.0l-0,-0.8l1.7,0zM38.4,11.6l0.9,1.8l-0.5,0.2l-0.9,-1.8zM22.6,19.3l-0.5,2.0l-1.1,-0.3l0.5,-2.0zM4.7,21.4l-1.5,3.1l-1.5,-0.7l1.5,-3.1zM48.7,21.4l-1.5,3.1l-1.5,-0.7l1.5,-3.1zM32.8,26.8l3.7,2.4l-1,1.6l-3.7,-2.4zM37.3,20.4l4,0.6l-0.2,1.2l-4,-0.6zM-6.7,20.4l4,0.6l-0.2,1.2l-4,-0.6zM26.3,37.4l1.3,3.2l-1.4,0.6l-1.3,-3.2zM2.9,15.9l0.6,3.6l-1.5,0.3l-0.6,-3.6zM46.9,15.9l0.6,3.6l-1.5,0.3l-0.6,-3.6z"/><path fill="#0A6DBA" d="M44.7,22.6l-1.4,1.3l-0.5,-0.5l1.4,-1.3zM0.7,22.6l-1.4,1.3l-0.5,-0.5l1.4,-1.3zM7.5,36.8l2.2,2.8l-1.2,1.0l-2.2,-2.8zM17.1,17.5l-3.3,1.5l-0.8,-1.7l3.3,-1.5zM14.3,2.9l1.6,0.5l-0.2,0.6l-1.6,-0.5zM23.8,35.8l0.8,1.4l-0.6,0.4l-0.8,-1.4zM35.3,0.4l-2.2,1.9l-0.6,-0.7l2.2,-1.9zM35.3,44.4l-2.2,1.9l-0.6,-0.7l2.2,-1.9zM1.8,34.9l0.2,2.3l-0.9,0.1l-0.2,-2.3zM45.8,34.9l0.2,2.3l-0.9,0.1l-0.2,-2.3zM34.2,12.3l1.7,2.5l-1,0.7l-1.7,-2.5zM33.4,21.6l0.9,1.8l-0.8,0.4l-0.9,-1.8zM5.8,10.4l2.4,0.2l-0.1,1.2l-2.4,-0.2zM18.7,38.2l-1.6,1.1l-0.5,-0.7l1.6,-1.1zM41.5,9.6l2,2.5l-0.9,0.7l-2,-2.5zM-2.5,9.6l2,2.5l-0.9,0.7l-2,-2.5zM23.7,-0.2l-2.9,3.3l-1.4,-1.3l2.9,-3.3zM23.7,43.8l-2.9,3.3l-1.4,-1.3l2.9,-3.3zM31.4,36.6l1.3,2.4l-1.2,0.6l-1.3,-2.4zM32.2,11.3l3.8,2.0l-0.7,1.4l-3.8,-2.0zM25.4,12.2l-0,2.5l-1.5,0l0,-2.5z"/><path fill="#0AF5F8" d="M22.9,24.0l1.2,3.2l-1.3,0.5l-1.2,-3.2zM3.2,16.5l2.1,2.3l-1.3,1.1l-2.1,-2.3zM47.2,16.5l2.1,2.3l-1.3,1.1l-2.1,-2.3zM31.1,29.4l4.6,0.3l-0.1,2.1l-4.6,-0.3zM37.3,41.9l2,2.0l-0.7,0.7l-2,-2.0zM37.3,-2.1l2,2.0l-0.7,0.7l-2,-2.0zM21.3,23.2l-3.3,2.8l-1.4,-1.6l3.3,-2.8zM10.5,16.6l-2.5,1.6l-0.8,-1.2l2.5,-1.6zM11.2,5.2l-2.2,2.6l-1,-0.8l2.2,-2.6zM3.2,17.3l-2.4,2.2l-0.8,-0.9l2.4,-2.2zM47.2,17.3l-2.4,2.2l-0.8,-0.9l2.4,-2.2zM33.5,29.5l0.8,3.0l-1.6,0.4l-0.8,-3.0zM33.9,3.7l0.3,2.8l-1.3,0.1l-0.3,-2.8zM11,39.3l4.3,0.9l-0.3,1.6l-4.3,-0.9zM11,-4.7l4.3,0.9l-0.3,1.6l-4.3,-0.9zM42.4,24.4l-2.2,1.1l-0.5,-0.9l2.2,-1.1zM-1.6,24.4l-2.2,1.1l-0.5,-0.9l2.2,-1.1zM19.8,23.9l-2.2,1.3l-0.4,-0.7l2.2,-1.3zM14.4,16.4l-1.2,3.2l-0.9,-0.3l1.2,-3.2zM39.5,11.0l-0.2,1.9l-1.1,-0.1l0.2,-1.9z"/><path fill="#FFFFFF" d="M10.8,19.7l2.3,2.5l-1.3,1.2l-2.3,-2.5zM37.1,-0.3l-1.3,3.0l-1.3,-0.6l1.3,-3.0zM37.1,43.7l-1.3,3.0l-1.3,-0.6l1.3,-3.0zM8.7,35.6l1,1.1l-0.6,0.6l-1,-1.1zM29.8,17.0l0.4,2.9l-0.8,0.1l-0.4,-2.9zM18,8.0l3,3.5l-1.5,1.3l-3,-3.5zM5,21.3l-2.4,2.3l-0.9,-0.9l2.4,-2.3zM49,21.3l-2.4,2.3l-0.9,-0.9l2.4,-2.3zM11.3,12.1l-1.3,2.9l-1.2,-0.5l1.3,-2.9zM14.9,39.8l0.8,3.0l-0.8,0.2l-0.8,-3.0zM14.9,-4.2l0.8,3.0l-0.8,0.2l-0.8,-3.0zM32.3,30.7l-3.3,0.4l-0.2,-1.8l3.3,-0.4zM37.8,20.5l4.6,0.2l-0.1,1.5l-4.6,-0.2zM-6.2,20.5l4.6,0.2l-0.1,1.5l-4.6,-0.2zM1.7,33.9l-1.1,1.8l-0.6,-0.3l1.1,-1.8zM45.7,33.9l-1.1,1.8l-0.6,-0.3l1.1,-1.8zM5.7,19.3l-1.9,3.4l-1.8,-1.0l1.9,-3.4zM49.7,19.3l-1.9,3.4l-1.8,-1.0l1.9,-3.4zM34.2,15.5l-1.3,4.2l-2,-0.6l1.3,-4.2zM39.8,22.2l1.6,1.3l-0.7,0.9l-1.6,-1.3zM9.5,29.8l3.3,2.2l-1.1,1.7l-3.3,-2.2zM22.6,3.6l-4.5,1.5l-0.5,-1.6l4.5,-1.5zM22.6,47.6l-4.5,1.5l-0.5,-1.6l4.5,-1.5zM26.8,32.4l1.6,0.1l-0,0.5l-1.6,-0.1zM35.6,32.2l-2.8,2.5l-1.1,-1.2l2.8,-2.5zM14.2,35.6l-2,0.5l-0.2,-0.9l2,-0.5zM19.9,28.4l1.7,3.0l-1.7,1.0l-1.7,-3.0zM28.2,38.4l-1.5,3.3l-1.7,-0.7l1.5,-3.3zM28.2,-5.6l-1.5,3.3l-1.7,-0.7l1.5,-3.3zM32.1,41.6l2.4,1.7l-0.6,0.8l-2.4,-1.7zM32.1,-2.4l2.4,1.7l-0.6,0.8l-2.4,-1.7z"/><path fill="#EEAD22" d="M30.8,19.7l-0.5,1.9l-0.8,-0.2l0.5,-1.9z"/><path fill="#782C8F" d="M22.6,27.8l1.9,1.4l-0.7,1.0l-1.9,-1.4zM23.2,32.1l2.5,0.4l-0.1,0.6l-2.5,-0.4zM18.5,39.3l-2.8,2.7l-1.5,-1.6l2.8,-2.7zM18.5,-4.7l-2.8,2.7l-1.5,-1.6l2.8,-2.7zM9.9,22.5l-1.4,2.7l-1.3,-0.7l1.4,-2.7zM34.8,18.6l-1,2.8l-0.9,-0.3l1,-2.8zM27.4,16.5l-2.4,2.9l-1.1,-0.9l2.4,-2.9zM14.2,18.4l-2.9,0.5l-0.2,-1.2l2.9,-0.5zM31.1,7.1l-2.2,0.9l-0.5,-1.2l2.2,-0.9zM21.6,34.4l3.9,0.7l-0.4,2.2l-3.9,-0.7zM19.2,18.3l-4.3,2.5l-1.5,-2.5l4.3,-2.5zM17.9,14.4l4.1,1.9l-0.8,1.7l-4.1,-1.9zM25.7,28.9l3.6,0.2l-0.1,1.0l-3.6,-0.2zM32.7,10.1l-2.3,1.9l-1.2,-1.4l2.3,-1.9zM34,16.2l2.8,1.7l-0.6,1.0l-2.8,-1.7zM0.4,41.9l2.9,1.4l-0.7,1.4l-2.9,-1.4zM0.4,-2.1l2.9,1.4l-0.7,1.4l-2.9,-1.4zM44.4,41.9l2.9,1.4l-0.7,1.4l-2.9,-1.4zM44.4,-2.1l2.9,1.4l-0.7,1.4l-2.9,-1.4zM13,7.1l-0.1,1.6l-0.7,-0.1l0.1,-1.6zM14.5,40.0l-2.3,3.2l-1.5,-1.1l2.3,-3.2zM14.5,-4.0l-2.3,3.2l-1.5,-1.1l2.3,-3.2zM40.9,19.4l-2.6,4.0l-1.9,-1.2l2.6,-4.0zM-3.1,19.4l-2.6,4.0l-1.9,-1.2l2.6,-4.0zM15.1,38.6l2.5,0.7l-0.3,0.9l-2.5,-0.7zM41.8,25.3l2.3,2.1l-1.2,1.2l-2.3,-2.1zM-2.2,25.3l2.3,2.1l-1.2,1.2l-2.3,-2.1zM11.8,1.3l-1.2,2.2l-0.8,-0.4l1.2,-2.2zM11.8,45.3l-1.2,2.2l-0.8,-0.4l1.2,-2.2zM25,0.1l2,3.5l-1.6,0.9l-2,-3.5zM25,44.1l2,3.5l-1.6,0.9l-2,-3.5zM39.7,37.4l-2.5,2.4l-1.2,-1.2l2.5,-2.4zM19.2,38.2l-2.7,1.9l-0.5,-0.7l2.7,-1.9zM18.6,38.6l4.2,0.2l-0.1,2.1l-4.2,-0.2zM18.6,-5.4l4.2,0.2l-0.1,2.1l-4.2,-0.2zM6,42.5l-1.4,1.8l-0.5,-0.4l1.4,-1.8zM6,-1.5l-1.4,1.8l-0.5,-0.4l1.4,-1.8zM36,8.5l-2.1,0.7l-0.3,-0.8l2.1,-0.7zM8.8,33.2l0.2,2.4l-1.1,0.1l-0.2,-2.4zM25.2,40.2l1.3,2.4l-0.9,0.5l-1.3,-2.4zM25.2,-3.8l1.3,2.4l-0.9,0.5l-1.3,-2.4zM15.3,21.0l-1.8,0.3l-0.1,-0.8l1.8,-0.3zM41.6,17.1l2.3,0.7l-0.3,1.0l-2.3,-0.7zM-2.4,17.1l2.3,0.7l-0.3,1.0l-2.3,-0.7z"/><path fill="#0A6DBA" d="M24.9,28.6l0.9,3.0l-1.8,0.5l-0.9,-3.0zM21.9,36.8l-3.9,1.8l-0.6,-1.2l3.9,-1.8zM3.1,32.3l1,4.5l-1.8,0.4l-1,-4.5zM47.1,32.3l1,4.5l-1.8,0.4l-1,-4.5zM2.9,32.4l-4.5,1.1l-0.5,-1.9l4.5,-1.1zM46.9,32.4l-4.5,1.1l-0.5,-1.9l4.5,-1.1zM26.4,4.8l-2,2.7l-1.4,-1.0l2,-2.7zM28.3,23.1l1,1.2l-0.7,0.5l-1,-1.2zM3.4,37.4l-1.5,0.2l-0.1,-0.9l1.5,-0.2zM39.1,4.9l-4.9,0.1l-0,-2.7l4.9,-0.1zM39.1,48.9l-4.9,0.1l-0,-2.7l4.9,-0.1zM33.1,5.6l2.3,3.9l-1.2,0.7l-2.3,-3.9zM10.1,44.4l-4.3,0.1l-0,-1.6l4.3,-0.1zM10.1,0.4l-4.3,0.1l-0,-1.6l4.3,-0.1zM22.7,16.8l-3.3,0.8l-0.4,-1.6l3.3,-0.8zM42,35.1l-2,4.1l-1.8,-0.9l2,-4.1zM-2,35.1l-2,4.1l-1.8,-0.9l2,-4.1zM21.2,29.7l-2.1,1.6l-0.8,-1.1l2.1,-1.6zM37.6,31.1l-2.4,4.0l-2,-1.2l2.4,-4.0zM33.4,3.1l-1.4,1.3l-0.7,-0.8l1.4,-1.3zM6.5,-0.6l2,0.5l-0.3,1.1l-2,-0.5zM6.5,43.4l2,0.5l-0.3,1.1l-2,-0.5zM11.1,20.6l0.3,2.3l-1.4,0.2l-0.3,-2.3zM40,23.6l1.6,3.0l-1.1,0.6l-1.6,-3.0zM-4,23.6l1.6,3.0l-1.1,0.6l-1.6,-3.0zM37.7,39.9l-4.3,0.9l-0.3,-1.4l4.3,-0.9zM37.7,-4.1l-4.3,0.9l-0.3,-1.4l4.3,-0.9z"/><path fill="#0AF5F8" d="M35.3,8.3l-1.8,3.7l-1.7,-0.8l1.8,-3.7zM35.5,35.0l-1,2.5l-1.1,-0.4l1,-2.5zM13.3,20.2l2.1,1.5l-0.5,0.7l-2.1,-1.5zM35.2,37.8l-2.2,0.1l-0.1,-1.1l2.2,-0.1zM11.3,16.3l-1.5,3.7l-1.3,-0.5l1.5,-3.7zM14.7,33.8l-1.7,1.0l-0.4,-0.8l1.7,-1.0zM39.9,3.9l1.8,1.7l-0.9,0.9l-1.8,-1.7zM42.2,18.6l-1.8,0.9l-0.5,-0.9l1.8,-0.9zM-1.8,18.6l-1.8,0.9l-0.5,-0.9l1.8,-0.9zM10.8,11.7l-0.4,3.4l-1.8,-0.2l0.4,-3.4zM14.8,19.9l2.9,2.0l-1.1,1.6l-2.9,-2.0zM17.3,33.8l-4.2,2.0l-0.9,-1.8l4.2,-2.0zM34.6,23.3l2.9,1.9l-1,1.6l-2.9,-1.9zM9.8,31.8l1.7,4.0l-1.3,0.6l-1.7,-4.0zM16.8,19.1l-4,2.4l-1.3,-2.2l4,-2.4zM21.4,9.0l1.5,1.3l-0.7,0.8l-1.5,-1.3z"/><path fill="#FFFFFF" d="M18.7,40.1l2.9,2.2l-1.1,1.5l-2.9,-2.2zM18.7,-3.9l2.9,2.2l-1.1,1.5l-2.9,-2.2zM45.4,6.4l-3.3,1.3l-0.4,-1.0l3.3,-1.3zM1.4,6.4l-3.3,1.3l-0.4,-1.0l3.3,-1.3zM38.8,32.9l2.8,0.5l-0.2,1.3l-2.8,-0.5zM28.6,17.5l-4.5,0.4l-0.2,-2.7l4.5,-0.4zM43.3,7.2l-2.9,3.4l-1.7,-1.5l2.9,-3.4zM-0.7,7.2l-2.9,3.4l-1.7,-1.5l2.9,-3.4zM22.7,-1.3l0.3,3.4l-1,0.1l-0.3,-3.4zM22.7,42.7l0.3,3.4l-1,0.1l-0.3,-3.4zM17.2,6.8l1.2,4.1l-1.2,0.3l-1.2,-4.1zM19.8,7.1l3,0.3l-0.1,0.9l-3,-0.3zM13.5,1.2l2.7,3.0l-1.4,1.3l-2.7,-3.0zM13.5,45.2l2.7,3.0l-1.4,1.3l-2.7,-3.0zM42.7,28.9l2.6,4.0l-1.6,1.0l-2.6,-4.0zM-1.3,28.9l2.6,4.0l-1.6,1.0l-2.6,-4.0zM12.3,40.7l-1.3,4.1l-1.7,-0.6l1.3,-4.1zM12.3,-3.3l-1.3,4.1l-1.7,-0.6l1.3,-4.1zM2.4,10.5l-2.7,3.7l-1,-0.7l2.7,-3.7zM46.4,10.5l-2.7,3.7l-1,-0.7l2.7,-3.7zM25.8,4.9l2.5,2.2l-1.3,1.4l-2.5,-2.2zM39.8,7.9l-4.2,2.2l-0.7,-1.4l4.2,-2.2zM29.4,22.1l4.6,0.5l-0.2,2.1l-4.6,-0.5zM-0.4,41.9l2.6,2.4l-1.1,1.2l-2.6,-2.4zM-0.4,-2.1l2.6,2.4l-1.1,1.2l-2.6,-2.4zM43.6,41.9l2.6,2.4l-1.1,1.2l-2.6,-2.4zM43.6,-2.1l2.6,2.4l-1.1,1.2l-2.6,-2.4zM16.9,25.3l-1.5,0.8l-0.4,-0.7l1.5,-0.8zM9.1,35.0l-1.7,1.5l-0.8,-0.9l1.7,-1.5zM44.8,0.3l-2.2,1.2l-0.3,-0.6l2.2,-1.2zM44.8,44.3l-2.2,1.2l-0.3,-0.6l2.2,-1.2zM0.8,0.3l-2.2,1.2l-0.3,-0.6l2.2,-1.2zM0.8,44.3l-2.2,1.2l-0.3,-0.6l2.2,-1.2z"/></pattern><pattern id="tx3" width="56" height="56" patternUnits="userSpaceOnUse"><rect width="56" height="56" fill="#0A6DBA"/><path fill="#0A6DBA" d="M28.7,19.8l3.7,0.8l-0.2,1.1l-3.7,-0.8zM47.2,13.4l0.2,2.2l-0.9,0.1l-0.2,-2.2zM3.4,48.4l-3,1.2l-0.4,-1.0l3,-1.2zM59.4,48.4l-3,1.2l-0.4,-1.0l3,-1.2zM42.4,48.6l1.4,0.2l-0.1,0.4l-1.4,-0.2zM4.2,32.9l0.4,1.3l-0.3,0.1l-0.4,-1.3zM15.2,54.2l3.4,0.1l-0,1.0l-3.4,-0.1zM15.2,-1.8l3.4,0.1l-0,1.0l-3.4,-0.1zM30.7,0.2l3.8,0.7l-0.2,1.2l-3.8,-0.7zM30.7,56.2l3.8,0.7l-0.2,1.2l-3.8,-0.7zM3.6,35.1l0.7,5.3l-1.1,0.2l-0.7,-5.3zM59.6,35.1l0.7,5.3l-1.1,0.2l-0.7,-5.3zM21.7,42.9l-0.9,1.0l-0.3,-0.3l0.9,-1.0zM12.5,43.9l0.4,2.2l-0.4,0.1l-0.4,-2.2zM7.8,29.5l-1.8,1.0l-0.3,-0.6l1.8,-1.0zM15.3,43.1l1.9,3.5l-1.2,0.7l-1.9,-3.5zM16.3,43.2l0.6,2.3l-0.5,0.1l-0.6,-2.3zM23.9,51.5l-1.8,0.3l-0.1,-0.3l1.8,-0.3zM2.7,32.4l2.4,0.3l-0.1,0.8l-2.4,-0.3zM42.2,8.4l-0.2,2.5l-0.8,-0.1l0.2,-2.5zM53.9,34.0l-2.4,1.1l-0.2,-0.5l2.4,-1.1zM-2.1,34.0l-2.4,1.1l-0.2,-0.5l2.4,-1.1zM42,50.7l4.7,0.1l-0,1.7l-4.7,-0.1zM42,-5.3l4.7,0.1l-0,1.7l-4.7,-0.1zM26,43.2l1.1,0.5l-0.1,0.2l-1.1,-0.5zM4.3,52.1l-0,4.9l-0.8,0l0,-4.9zM4.3,-3.9l-0,4.9l-0.8,0l0,-4.9zM60.3,52.1l-0,4.9l-0.8,0l0,-4.9zM60.3,-3.9l-0,4.9l-0.8,0l0,-4.9zM17.3,17.6l1.7,3.6l-1.1,0.5l-1.7,-3.6zM18.3,5.0l1.3,3.3l-1.1,0.4l-1.3,-3.3zM9.9,18.9l1.4,3.5l-1.2,0.5l-1.4,-3.5zM39.8,25.1l-1.3,1.8l-0.5,-0.4l1.3,-1.8zM23.7,21.2l1.9,4.6l-1.8,0.7l-1.9,-4.6zM32.1,-0.2l1.8,0.3l-0.1,0.6l-1.8,-0.3zM32.1,55.8l1.8,0.3l-0.1,0.6l-1.8,-0.3zM6.5,49.0l-1.7,0.9l-0.1,-0.3l1.7,-0.9zM48.8,35.6l-1.2,4.6l-1.8,-0.5l1.2,-4.6zM10.1,12.0l1.3,3.6l-1.2,0.4l-1.3,-3.6zM22.5,18.1l-0,3.0l-0.5,0l0,-3.0zM43.3,50.3l-2.2,2.6l-0.7,-0.6l2.2,-2.6zM13.9,9.6l2.8,2.5l-0.6,0.6l-2.8,-2.5zM22.5,18.4l-4.5,0.1l-0,-0.8l4.5,-0.1zM31.6,52.6l2.7,1.1l-0.3,0.8l-2.7,-1.1zM31.6,-3.4l2.7,1.1l-0.3,0.8l-2.7,-1.1zM35.2,4.6l4.8,1.5l-0.6,1.8l-4.8,-1.5zM39.9,40.4l1.5,3.2l-1.1,0.5l-1.5,-3.2zM21.1,48.2l1,1.0l-0.3,0.3l-1,-1.0zM46.4,5.7l2.2,0.8l-0.1,0.4l-2.2,-0.8zM2.6,3.3l0,2.1l-0.4,0.0l-0,-2.1zM58.6,3.3l0,2.1l-0.4,0.0l-0,-2.1z"/><path fill="#FFFFFF" d="M42,37.0l-0.4,1.4l-0.5,-0.1l0.4,-1.4zM54,22.2l-4.5,0.9l-0.2,-1.2l4.5,-0.9zM-2,22.2l-4.5,0.9l-0.2,-1.2l4.5,-0.9zM17.6,27.1l-0.8,2.8l-0.7,-0.2l0.8,-2.8zM53.3,39.1l-5.2,0.1l-0.1,-1.9l5.2,-0.1zM-2.7,39.1l-5.2,0.1l-0.1,-1.9l5.2,-0.1zM10.7,45.8l-1.2,5.2l-2,-0.4l1.2,-5.2zM10.1,45.8l3.6,0.7l-0.2,0.8l-3.6,-0.7zM21.2,50.1l-5.4,0.0l-0,-1.5l5.4,0zM11.3,2.6l-4.9,0.6l-0.1,-1.1l4.9,-0.6zM11.3,58.6l-4.9,0.6l-0.1,-1.1l4.9,-0.6zM36.1,51.7l-2.2,2.6l-0.7,-0.6l2.2,-2.6zM36.1,-4.3l-2.2,2.6l-0.7,-0.6l2.2,-2.6zM27.4,37.3l-1.8,2.0l-0.7,-0.6l1.8,-2.0zM18.6,19.3l-0.8,2.4l-0.6,-0.2l0.8,-2.4zM5.9,16.6l0.5,2.6l-0.9,0.2l-0.5,-2.6zM44.8,19.4l-1.7,1.1l-0.3,-0.5l1.7,-1.1zM48.7,1.6l-0.2,2.4l-0.5,0l0.2,-2.4zM48.7,57.6l-0.2,2.4l-0.5,0l0.2,-2.4zM50.8,42.5l-0.8,4.0l-1.3,-0.3l0.8,-4.0zM27.5,25.5l3.5,1.8l-0.7,1.3l-3.5,-1.8zM55.5,16.1l-3.8,1.9l-0.5,-1.0l3.8,-1.9zM-0.5,16.1l-3.8,1.9l-0.5,-1.0l3.8,-1.9zM14.9,11.5l0.5,1.2l-0.3,0.1l-0.5,-1.2zM34.8,24.0l-0.9,4.7l-1.7,-0.3l0.9,-4.7zM41.9,48.3l-2.9,0.4l-0.1,-1.0l2.9,-0.4zM15.1,13.5l-4.3,0.6l-0.2,-1.4l4.3,-0.6zM4.3,2.8l2.1,4.3l-1,0.5l-2.1,-4.3zM4.3,58.8l2.1,4.3l-1,0.5l-2.1,-4.3zM60.3,2.8l2.1,4.3l-1,0.5l-2.1,-4.3zM60.3,58.8l2.1,4.3l-1,0.5l-2.1,-4.3zM38.1,-0.9l0.1,2.6l-0.7,0.0l-0.1,-2.6zM38.1,55.1l0.1,2.6l-0.7,0.0l-0.1,-2.6zM47,13.4l-2.3,3.8l-1.5,-0.9l2.3,-3.8zM7.4,26.7l-1.4,2.3l-0.8,-0.5l1.4,-2.3zM12.2,35.9l-3.7,1.3l-0.3,-0.7l3.7,-1.3zM7.6,51.6l-1.2,1.4l-0.3,-0.3l1.2,-1.4zM29.9,35.1l2.7,1.7l-0.4,0.6l-2.7,-1.7zM30.7,10.8l2.3,0.2l-0.1,0.8l-2.3,-0.2zM55.1,37.2l0.1,2.5l-0.9,0.0l-0.1,-2.5zM-0.9,37.2l0.1,2.5l-0.9,0.0l-0.1,-2.5zM41.4,-2.1l0.1,4.5l-1.4,0.0l-0.1,-4.5zM41.4,53.9l0.1,4.5l-1.4,0.0l-0.1,-4.5zM26.1,9.1l-0,3.5l-0.6,0l0,-3.5zM22.9,29.7l4.8,2.2l-0.8,1.8l-4.8,-2.2zM50.1,16.4l4.5,2.0l-0.7,1.5l-4.5,-2.0zM-5.9,16.4l4.5,2.0l-0.7,1.5l-4.5,-2.0z"/><path fill="#782C8F" d="M27.6,35.7l-1.7,0.7l-0.2,-0.5l1.7,-0.7zM5.7,6.5l0.4,2.1l-0.8,0.2l-0.4,-2.1zM53.6,3.4l4.1,2.1l-0.5,1.0l-4.1,-2.1zM53.6,59.4l4.1,2.1l-0.5,1.0l-4.1,-2.1zM-2.4,3.4l4.1,2.1l-0.5,1.0l-4.1,-2.1zM-2.4,59.4l4.1,2.1l-0.5,1.0l-4.1,-2.1zM22.2,24.3l-1,3.3l-1,-0.3l1,-3.3zM9.9,16.8l0.6,3.9l-1.5,0.2l-0.6,-3.9zM53.9,21.9l4.1,3.4l-1.3,1.5l-4.1,-3.4zM-2.1,21.9l4.1,3.4l-1.3,1.5l-4.1,-3.4zM46.4,35.4l1.6,3.0l-0.7,0.4l-1.6,-3.0zM40.4,49.5l-1.2,4.9l-1.8,-0.5l1.2,-4.9zM40.4,-6.5l-1.2,4.9l-1.8,-0.5l1.2,-4.9zM36,23.3l-1.7,2.3l-0.6,-0.5l1.7,-2.3zM45.8,14.0l-2.7,1.8l-0.3,-0.5l2.7,-1.8zM0.6,41.9l3.2,1.1l-0.4,1.1l-3.2,-1.1zM56.6,41.9l3.2,1.1l-0.4,1.1l-3.2,-1.1zM53.6,3.1l-2.2,1.3l-0.4,-0.6l2.2,-1.3zM53.6,59.1l-2.2,1.3l-0.4,-0.6l2.2,-1.3zM14.4,9.8l-1.4,1.9l-0.4,-0.3l1.4,-1.9zM50.3,11.8l1.2,4.8l-1.1,0.3l-1.2,-4.8zM-5.7,11.8l1.2,4.8l-1.1,0.3l-1.2,-4.8zM21.2,18.0l-2.2,1.9l-0.6,-0.6l2.2,-1.9zM41.6,9.8l-1.4,1.5l-0.4,-0.4l1.4,-1.5zM41.3,32.4l1.5,1.0l-0.3,0.4l-1.5,-1.0zM50.7,51.9l-0.7,2.8l-0.8,-0.2l0.7,-2.8zM50.7,-4.1l-0.7,2.8l-0.8,-0.2l0.7,-2.8zM33.6,2.2l2.7,0.7l-0.1,0.6l-2.7,-0.7zM33.6,58.2l2.7,0.7l-0.1,0.6l-2.7,-0.7zM33.3,49.7l2,3.8l-1.3,0.7l-2,-3.8zM33.3,-6.3l2,3.8l-1.3,0.7l-2,-3.8zM52.6,46.7l0.1,3.1l-1,0.0l-0.1,-3.1zM-3.4,46.7l0.1,3.1l-1,0.0l-0.1,-3.1z"/><path fill="#0AF5F8" d="M24,41.4l-1.4,1.3l-0.4,-0.4l1.4,-1.3zM22.6,41.6l-2.3,3.8l-0.8,-0.5l2.3,-3.8z"/><path fill="#0A6DBA" d="M28.9,32.6l1.7,1.3l-0.2,0.3l-1.7,-1.3zM9.6,0.7l0.1,1.7l-0.3,0.0l-0.1,-1.7zM9.6,56.7l0.1,1.7l-0.3,0.0l-0.1,-1.7zM-0.1,24.4l2.9,0.5l-0.2,0.9l-2.9,-0.5zM55.9,24.4l2.9,0.5l-0.2,0.9l-2.9,-0.5zM19.8,0.2l5.1,1.6l-0.3,1.0l-5.1,-1.6zM19.8,56.2l5.1,1.6l-0.3,1.0l-5.1,-1.6zM13.2,44.6l3.7,1.1l-0.3,0.9l-3.7,-1.1zM0.9,1.2l3.2,2.4l-0.9,1.2l-3.2,-2.4zM0.9,57.2l3.2,2.4l-0.9,1.2l-3.2,-2.4zM56.9,1.2l3.2,2.4l-0.9,1.2l-3.2,-2.4zM56.9,57.2l3.2,2.4l-0.9,1.2l-3.2,-2.4zM34.8,52.8l-1.4,0.7l-0.2,-0.3l1.4,-0.7zM20.5,17.0l3.5,2.2l-0.8,1.3l-3.5,-2.2zM11.6,42.5l2.8,1.7l-0.4,0.6l-2.8,-1.7zM47.8,33.4l0.8,4.9l-1.8,0.3l-0.8,-4.9zM0.8,7.9l4,0.1l-0,1.2l-4,-0.1zM56.8,7.9l4,0.1l-0,1.2l-4,-0.1zM55.9,11.5l-2.8,2.3l-0.6,-0.7l2.8,-2.3zM-0.1,11.5l-2.8,2.3l-0.6,-0.7l2.8,-2.3zM27.7,10.6l-2.1,4.3l-1.3,-0.6l2.1,-4.3zM6.2,39.5l-1,2.2l-0.6,-0.3l1,-2.2zM43,14.6l-2.1,2.2l-0.5,-0.5l2.1,-2.2zM45.6,39.2l-5,2.0l-0.8,-2.0l5,-2.0zM9.7,15.9l-0.4,3.2l-0.9,-0.1l0.4,-3.2zM49.4,15.5l-2.6,1.8l-0.7,-1.0l2.6,-1.8zM13.8,44.6l-0.1,1.2l-0.2,0l0.1,-1.2zM18.2,1.2l2,2.9l-0.5,0.3l-2,-2.9zM18.2,57.2l2,2.9l-0.5,0.3l-2,-2.9zM44.8,22.2l0.5,2.3l-0.4,0.1l-0.5,-2.3zM1.6,33.4l0.5,5.0l-1.9,0.2l-0.5,-5.0zM57.6,33.4l0.5,5.0l-1.9,0.2l-0.5,-5.0zM10.2,35.4l1.6,5.2l-1.5,0.4l-1.6,-5.2zM24.4,43.7l2.8,1.5l-0.6,1.1l-2.8,-1.5zM31.8,23.4l-4.7,1.0l-0.4,-1.7l4.7,-1.0zM47.6,18.0l-2.3,0.4l-0.2,-0.9l2.3,-0.4zM22.9,15.9l-1.8,0.1l-0,-0.4l1.8,-0.1zM13.6,10.8l-1.1,1.1l-0.3,-0.3l1.1,-1.1zM13.9,26.5l2.3,0.3l-0.1,0.7l-2.3,-0.3zM56.2,8.5l-5.1,0.1l-0,-1.0l5.1,-0.1zM0.2,8.5l-5.1,0.1l-0,-1.0l5.1,-0.1zM46.4,48.3l-0.2,1.4l-0.5,-0.1l0.2,-1.4zM3.7,20.2l5,2.2l-0.5,1.1l-5,-2.2zM59.7,20.2l5,2.2l-0.5,1.1l-5,-2.2zM5.2,17.9l4.2,2.9l-0.5,0.7l-4.2,-2.9zM19.8,20.4l-3.7,0.8l-0.3,-1.5l3.7,-0.8zM28,27.4l-0.4,4.9l-2,-0.2l0.4,-4.9zM36.1,3.3l-2.3,2.0l-0.7,-0.8l2.3,-2.0zM36.1,59.3l-2.3,2.0l-0.7,-0.8l2.3,-2.0zM46.1,19.3l4.2,3.4l-0.8,1.0l-4.2,-3.4zM29.8,22.2l-2.6,1.1l-0.3,-0.8l2.6,-1.1zM18.6,15.9l-1.3,0.3l-0.1,-0.4l1.3,-0.3zM8.8,45.6l3.8,0.3l-0.1,0.6l-3.8,-0.3zM0.3,45.6l0.7,1.9l-0.4,0.1l-0.7,-1.9zM56.3,45.6l0.7,1.9l-0.4,0.1l-0.7,-1.9zM2.1,26.6l-2.6,1.6l-0.6,-1.0l2.6,-1.6zM58.1,26.6l-2.6,1.6l-0.6,-1.0l2.6,-1.6zM23.1,30.1l1.7,4.7l-0.9,0.3l-1.7,-4.7zM37.2,-0.9l-1.2,5.1l-1.4,-0.3l1.2,-5.1zM37.2,55.1l-1.2,5.1l-1.4,-0.3l1.2,-5.1zM12,23.9l3.1,3.8l-1.1,0.9l-3.1,-3.8zM31.2,34.8l-2.6,0.8l-0.3,-0.9l2.6,-0.8z"/><path fill="#FFFFFF" d="M30.3,21.6l0.4,4.0l-0.9,0.1l-0.4,-4.0zM7.9,34.4l2.7,0.4l-0.1,0.5l-2.7,-0.4zM15,42.5l1.9,2.6l-1,0.7l-1.9,-2.6zM53.7,32.9l1.2,0.3l-0.1,0.2l-1.2,-0.3zM-2.3,32.9l1.2,0.3l-0.1,0.2l-1.2,-0.3zM32.8,38.8l2.5,1.3l-0.4,0.7l-2.5,-1.3zM-0.6,24.8l4.3,1.3l-0.4,1.4l-4.3,-1.3zM55.4,24.8l4.3,1.3l-0.4,1.4l-4.3,-1.3zM43.2,29.5l1.9,0.5l-0.1,0.4l-1.9,-0.5zM4.9,17.8l-0.5,3.2l-0.5,-0.1l0.5,-3.2zM23.2,34.4l1.7,3.4l-0.7,0.4l-1.7,-3.4zM24.3,50.5l0.3,5.1l-2,0.1l-0.3,-5.1zM24.3,-5.5l0.3,5.1l-2,0.1l-0.3,-5.1zM9.5,1.7l0.2,2.1l-0.7,0.1l-0.2,-2.1zM9.5,57.7l0.2,2.1l-0.7,0.1l-0.2,-2.1zM35.9,49.7l4.3,1.9l-0.4,0.9l-4.3,-1.9zM35.9,-6.3l4.3,1.9l-0.4,0.9l-4.3,-1.9zM52.6,43.7l-0.2,3.8l-1,-0.1l0.2,-3.8zM-3.4,43.7l-0.2,3.8l-1,-0.1l0.2,-3.8zM1,30.5l2.3,2.7l-0.7,0.6l-2.3,-2.7zM57,30.5l2.3,2.7l-0.7,0.6l-2.3,-2.7zM51.6,3.7l-0.2,4.1l-1,0l0.2,-4.1zM-4.4,3.7l-0.2,4.1l-1,0l0.2,-4.1zM35.7,7.4l1.2,0.8l-0.3,0.4l-1.2,-0.8zM40,17.2l-0.9,0.9l-0.2,-0.2l0.9,-0.9zM25.2,6.3l-0.1,3.8l-0.9,0l0.1,-3.8zM43,19.3l-4,0.4l-0.1,-0.9l4,-0.4zM49.2,21.6l2.1,4.5l-1.5,0.7l-2.1,-4.5zM7.1,11.3l2.5,1.2l-0.4,0.8l-2.5,-1.2zM41.7,43.9l0.9,4.7l-1.8,0.3l-0.9,-4.7zM8.2,49.2l-2.7,1.0l-0.3,-0.7l2.7,-1.0zM22.4,34.1l3.9,1.2l-0.3,1.0l-3.9,-1.2z"/><path fill="#782C8F" d="M22.2,7.5l2.1,4.6l-1.5,0.7l-2.1,-4.6zM7.3,25.1l1.8,1.0l-0.2,0.4l-1.8,-1.0zM41,44.9l1.5,3.3l-1.2,0.6l-1.5,-3.3zM40.8,17.3l0.9,2.7l-0.4,0.1l-0.9,-2.7zM9,1.0l-5.1,1.8l-0.4,-1.0l5.1,-1.8zM9,57.0l-5.1,1.8l-0.4,-1.0l5.1,-1.8zM65,1.0l-5.1,1.8l-0.4,-1.0l5.1,-1.8zM65,57.0l-5.1,1.8l-0.4,-1.0l5.1,-1.8zM47.2,18.3l3.6,1.3l-0.3,0.9l-3.6,-1.3zM33.5,44.6l0.2,2.1l-0.6,0.1l-0.2,-2.1zM25.4,55.9l-5,1.1l-0.2,-1.1l5,-1.1zM25.4,-0.1l-5,1.1l-0.2,-1.1l5,-1.1zM15,5.2l2.4,0.6l-0.2,0.6l-2.4,-0.6zM43.2,26.2l3,3.7l-1.1,0.9l-3,-3.7zM53.1,35.2l1.7,1.1l-0.4,0.7l-1.7,-1.1zM-2.9,35.2l1.7,1.1l-0.4,0.7l-1.7,-1.1zM36,45.9l-1.2,0.1l-0,-0.3l1.2,-0.1zM32.5,24.3l-0.4,3.5l-0.9,-0.1l0.4,-3.5zM9.5,31.1l4.4,2.8l-1,1.6l-4.4,-2.8zM54,37.3l3.3,1.0l-0.3,1.1l-3.3,-1.0zM-2,37.3l3.3,1.0l-0.3,1.1l-3.3,-1.0zM44.5,14.5l5,2.0l-0.4,1.1l-5,-2.0z"/><path fill="#0AF5F8" d="M24.3,43.7l5.1,0.6l-0.2,2.0l-5.1,-0.6zM6.4,31.2l-0.8,1.5l-0.3,-0.1l0.8,-1.5zM43.5,49.2l-5.3,1.2l-0.4,-1.6l5.3,-1.2zM43.3,54.7l1.3,0.1l-0,0.3l-1.3,-0.1zM43.3,-1.3l1.3,0.1l-0,0.3l-1.3,-0.1zM57,55.0l-2.2,0.3l-0.1,-0.5l2.2,-0.3zM57,-1.0l-2.2,0.3l-0.1,-0.5l2.2,-0.3zM1,55.0l-2.2,0.3l-0.1,-0.5l2.2,-0.3zM1,-1.0l-2.2,0.3l-0.1,-0.5l2.2,-0.3zM45.9,9.0l2.3,0.4l-0.1,0.5l-2.3,-0.4zM23.7,48.7l-1.6,0.7l-0.1,-0.2l1.6,-0.7zM40.3,5.2l-3.1,0.1l-0,-1.0l3.1,-0.1zM38.1,29.5l-2,0.6l-0.1,-0.4l2,-0.6z"/><path fill="#EEAD22" d="M18.2,23.6l1.4,0.8l-0.2,0.3l-1.4,-0.8z"/><path fill="#0A6DBA" d="M46.9,10.4l4.4,1.7l-0.7,1.7l-4.4,-1.7zM47.6,45.9l0.5,1.4l-0.3,0.1l-0.5,-1.4zM12.2,13.6l3.9,1.4l-0.3,0.9l-3.9,-1.4zM24.1,30.6l1.8,1.4l-0.5,0.6l-1.8,-1.4zM51.8,49.3l-3.1,1.7l-0.7,-1.2l3.1,-1.7zM30.7,15.7l1.4,4.1l-0.8,0.3l-1.4,-4.1zM23,31.4l0.1,1.7l-0.3,0.0l-0.1,-1.7zM29.1,9.4l-1.6,0.4l-0.1,-0.5l1.6,-0.4zM39.1,14.8l-3.1,1.3l-0.3,-0.8l3.1,-1.3zM44.9,26.9l-3.5,4.0l-1.4,-1.3l3.5,-4.0zM1.2,29.2l3.5,2.6l-1,1.3l-3.5,-2.6zM57.2,29.2l3.5,2.6l-1,1.3l-3.5,-2.6zM53.7,40.2l2.9,1.5l-0.5,1.0l-2.9,-1.5zM-2.3,40.2l2.9,1.5l-0.5,1.0l-2.9,-1.5zM54.5,33.8l2.3,0.0l-0,0.8l-2.3,0zM-1.5,33.8l2.3,0.0l-0,0.8l-2.3,0zM38.9,8.9l0.7,1.1l-0.3,0.2l-0.7,-1.1zM23.8,4.2l-0.4,2.5l-0.7,-0.1l0.4,-2.5zM50.3,31.4l3.6,1.5l-0.4,0.9l-3.6,-1.5zM-5.7,31.4l3.6,1.5l-0.4,0.9l-3.6,-1.5zM41.4,46.7l-2.7,4.3l-0.7,-0.4l2.7,-4.3zM27.2,15.8l-1,2.3l-0.4,-0.2l1,-2.3zM51.6,1.3l5.2,1.4l-0.3,1.0l-5.2,-1.4zM51.6,57.3l5.2,1.4l-0.3,1.0l-5.2,-1.4zM-4.4,1.3l5.2,1.4l-0.3,1.0l-5.2,-1.4zM-4.4,57.3l5.2,1.4l-0.3,1.0l-5.2,-1.4zM20.7,34.2l0.3,4.4l-1.7,0.1l-0.3,-4.4zM19.6,2.3l-0.8,2.1l-0.6,-0.2l0.8,-2.1zM9.7,4.6l1.4,1.4l-0.4,0.4l-1.4,-1.4zM35.8,34.8l-3.2,2.9l-0.5,-0.6l3.2,-2.9zM12.1,44.9l0.5,3.0l-0.7,0.1l-0.5,-3.0zM52.1,49.1l4.8,1.8l-0.5,1.4l-4.8,-1.8zM52.1,-6.9l4.8,1.8l-0.5,1.4l-4.8,-1.8zM-3.9,49.1l4.8,1.8l-0.5,1.4l-4.8,-1.8zM-3.9,-6.9l4.8,1.8l-0.5,1.4l-4.8,-1.8zM4.3,50.7l-2.3,0.4l-0.1,-0.5l2.3,-0.4zM60.3,50.7l-2.3,0.4l-0.1,-0.5l2.3,-0.4zM53.7,17.1l-3.9,1.3l-0.2,-0.7l3.9,-1.3zM-2.3,17.1l-3.9,1.3l-0.2,-0.7l3.9,-1.3zM17.7,35.6l3.5,1.4l-0.3,0.7l-3.5,-1.4zM17.1,29.0l1.8,2.3l-0.5,0.4l-1.8,-2.3zM48.9,26.5l-2.5,1.3l-0.4,-0.7l2.5,-1.3zM20.4,19.9l0.1,1.2l-0.4,0.0l-0.1,-1.2zM46.4,8.8l4.5,1.1l-0.2,1.0l-4.5,-1.1zM7.6,41.8l-2.5,1.9l-0.6,-0.8l2.5,-1.9zM3.6,46.0l2.4,0.2l-0.1,0.8l-2.4,-0.2zM39.2,0.5l2.7,2.1l-0.8,1.0l-2.7,-2.1zM39.2,56.5l2.7,2.1l-0.8,1.0l-2.7,-2.1zM29.2,53.6l2,0.8l-0.2,0.6l-2,-0.8zM29.2,-2.4l2,0.8l-0.2,0.6l-2,-0.8zM21.2,27.1l2.1,3.7l-0.8,0.5l-2.1,-3.7zM34.1,17.7l0.7,5.2l-1.6,0.2l-0.7,-5.2zM33.3,14.9l-2.1,3.5l-1.2,-0.7l2.1,-3.5zM24.4,26.7l0.7,1.2l-0.4,0.3l-0.7,-1.2z"/><path fill="#FFFFFF" d="M34.9,7.7l-0.5,4.4l-1.1,-0.1l0.5,-4.4zM35.9,24.7l-1.3,0.6l-0.2,-0.5l1.3,-0.6zM31,12.8l3.9,3.3l-1,1.2l-3.9,-3.3zM19.5,39.2l-0.3,3.7l-0.7,-0.1l0.3,-3.7zM46.5,10.6l-0.3,1.6l-0.5,-0.1l0.3,-1.6zM31.6,11.8l1.5,3.9l-1.1,0.4l-1.5,-3.9zM33.2,21.2l-0.6,1.3l-0.2,-0.1l0.6,-1.3zM38,33.0l-0.7,1.7l-0.3,-0.1l0.7,-1.7zM18,10.9l1.5,2.8l-1,0.5l-1.5,-2.8zM15.8,0.9l1.1,0.8l-0.2,0.3l-1.1,-0.8zM15.8,56.9l1.1,0.8l-0.2,0.3l-1.1,-0.8zM16.6,41.7l-2.6,2.8l-0.9,-0.8l2.6,-2.8zM24.1,16.5l-0,1.5l-0.5,0l0,-1.5zM14,50.3l0.2,3.0l-0.5,0.0l-0.2,-3.0zM29.1,53.4l-0.6,1.0l-0.2,-0.1l0.6,-1.0zM29.1,-2.6l-0.6,1.0l-0.2,-0.1l0.6,-1.0zM1.9,14.9l0.4,4.4l-0.9,0.1l-0.4,-4.4zM57.9,14.9l0.4,4.4l-0.9,0.1l-0.4,-4.4zM21,26.6l1,2.9l-0.6,0.2l-1,-2.9zM41.1,51.0l-1.6,1.2l-0.4,-0.6l1.6,-1.2zM53.1,6.1l4.2,1.7l-0.6,1.6l-4.2,-1.7zM-2.9,6.1l4.2,1.7l-0.6,1.6l-4.2,-1.7zM53.4,13.8l1,4.8l-1.8,0.4l-1,-4.8zM-2.6,13.8l1,4.8l-1.8,0.4l-1,-4.8zM33,21.8l-3,1.7l-0.4,-0.7l3,-1.7zM0.9,47.5l1.4,2.3l-0.4,0.3l-1.4,-2.3zM56.9,47.5l1.4,2.3l-0.4,0.3l-1.4,-2.3zM41.7,23.1l4.2,1.7l-0.4,1.1l-4.2,-1.7zM27.4,26.8l-4.3,0.2l-0,-0.8l4.3,-0.2zM44.7,46.0l4.9,0.8l-0.3,1.9l-4.9,-0.8zM39.4,33.9l4.5,0.2l-0.1,1.5l-4.5,-0.2zM21.3,52.9l2.9,0.9l-0.2,0.6l-2.9,-0.9zM21.3,-3.1l2.9,0.9l-0.2,0.6l-2.9,-0.9zM34.1,32.9l0.1,3.3l-0.9,0.0l-0.1,-3.3zM23.9,39.2l1.9,0.8l-0.2,0.4l-1.9,-0.8zM33.3,0.1l-1.9,0.3l-0.1,-0.4l1.9,-0.3zM33.3,56.1l-1.9,0.3l-0.1,-0.4l1.9,-0.3z"/><path fill="#782C8F" d="M41.1,10.7l0.8,1.2l-0.3,0.2l-0.8,-1.2zM22.4,10.9l0,2.0l-0.3,0.0l-0,-2.0zM53.3,17.3l4.6,2.9l-0.8,1.3l-4.6,-2.9zM-2.7,17.3l4.6,2.9l-0.8,1.3l-4.6,-2.9zM27.3,27.7l0.1,4.9l-1.3,0.0l-0.1,-4.9zM16,-1.5l1.9,3.7l-1.2,0.6l-1.9,-3.7zM16,54.5l1.9,3.7l-1.2,0.6l-1.9,-3.7zM28.6,21.5l0.8,1.2l-0.3,0.2l-0.8,-1.2zM15,24.2l-4,3.7l-0.8,-0.9l4,-3.7zM27.6,37.0l2.1,2.2l-0.8,0.7l-2.1,-2.2zM7.7,-0.4l0.5,1.5l-0.5,0.2l-0.5,-1.5zM7.7,55.6l0.5,1.5l-0.5,0.2l-0.5,-1.5zM28.2,42.1l3.3,0.9l-0.3,1.0l-3.3,-0.9zM32.8,18.1l-2,2.3l-0.4,-0.3l2,-2.3zM19.6,39.7l1.8,1.6l-0.3,0.4l-1.8,-1.6zM26.6,27.9l-2.7,3.1l-0.6,-0.5l2.7,-3.1zM49.3,15.6l-2.1,0.7l-0.1,-0.4l2.1,-0.7zM44.2,16.2l-1,1.1l-0.4,-0.4l1,-1.1zM9.6,43.3l2.4,0.6l-0.2,0.9l-2.4,-0.6z"/><path fill="#0AF5F8" d="M5.8,51.6l2.2,2.4l-0.6,0.6l-2.2,-2.4zM5.8,-4.4l2.2,2.4l-0.6,0.6l-2.2,-2.4zM9.3,30.6l2.6,2.2l-0.4,0.5l-2.6,-2.2zM5.9,43.4l0.5,2.8l-1,0.2l-0.5,-2.8zM23.9,38.0l0.4,3.6l-0.9,0.1l-0.4,-3.6zM13.9,-1.7l1.9,4.9l-1.1,0.4l-1.9,-4.9zM13.9,54.3l1.9,4.9l-1.1,0.4l-1.9,-4.9zM14.2,2.8l3.8,3.2l-0.7,0.8l-3.8,-3.2zM14.2,58.8l3.8,3.2l-0.7,0.8l-3.8,-3.2zM12,49.4l2.1,1.7l-0.4,0.5l-2.1,-1.7zM41.7,45.3l1.2,0.9l-0.2,0.3l-1.2,-0.9z"/><path fill="#EEAD22" d="M46.2,39.3l-3,4.1l-0.7,-0.5l3,-4.1zM9.9,17.8l0,5.5l-1,0.0l-0,-5.5zM39.7,48.7l-3.4,1.2l-0.2,-0.6l3.4,-1.2z"/><path fill="#0A6DBA" d="M35.7,31.1l-0.2,3.3l-1.2,-0.1l0.2,-3.3zM3.3,29.6l1.3,2.5l-0.7,0.4l-1.3,-2.5zM59.3,29.6l1.3,2.5l-0.7,0.4l-1.3,-2.5zM2.6,8.1l-0.4,1.6l-0.6,-0.1l0.4,-1.6zM58.6,8.1l-0.4,1.6l-0.6,-0.1l0.4,-1.6zM39.4,34.9l1.1,1.0l-0.3,0.4l-1.1,-1.0zM8.8,8.7l-3.2,3.3l-0.6,-0.6l3.2,-3.3zM47.2,41.5l4.1,0.6l-0.2,1.5l-4.1,-0.6zM22.6,23.1l-2.8,3.0l-1.1,-1.0l2.8,-3.0zM18.8,34.0l2.2,0.0l-0,0.8l-2.2,0zM41.5,29.9l2.8,3.9l-0.9,0.7l-2.8,-3.9zM42.5,44.8l-2.6,3.1l-0.6,-0.5l2.6,-3.1zM15,43.0l-1.5,0.7l-0.2,-0.4l1.5,-0.7zM20.9,53.7l4.4,3.1l-0.5,0.7l-4.4,-3.1zM20.9,-2.3l4.4,3.1l-0.5,0.7l-4.4,-3.1zM43.7,10.5l1.7,1.0l-0.3,0.6l-1.7,-1.0zM11.7,0.5l2.4,3.4l-1,0.7l-2.4,-3.4zM11.7,56.5l2.4,3.4l-1,0.7l-2.4,-3.4zM46.5,33.8l4.6,1.0l-0.2,1.1l-4.6,-1.0zM36,1.4l-1.6,0.6l-0.2,-0.5l1.6,-0.6zM36,57.4l-1.6,0.6l-0.2,-0.5l1.6,-0.6zM0.4,4.3l2.1,0.8l-0.2,0.6l-2.1,-0.8zM56.4,4.3l2.1,0.8l-0.2,0.6l-2.1,-0.8zM34.7,5.8l-1.5,1.6l-0.4,-0.4l1.5,-1.6zM54.5,0.7l-4.5,2.9l-0.6,-0.9l4.5,-2.9zM54.5,56.7l-4.5,2.9l-0.6,-0.9l4.5,-2.9zM-1.5,0.7l-4.5,2.9l-0.6,-0.9l4.5,-2.9zM-1.5,56.7l-4.5,2.9l-0.6,-0.9l4.5,-2.9zM49.3,32.4l0.8,1.2l-0.5,0.3l-0.8,-1.2zM15.7,1.9l-2.4,0.1l-0,-0.8l2.4,-0.1zM15.7,57.9l-2.4,0.1l-0,-0.8l2.4,-0.1zM31.7,9.4l-1.1,4.2l-1,-0.2l1.1,-4.2zM40.2,31.8l-0.6,2.9l-0.7,-0.1l0.6,-2.9zM5.5,19.6l2,2.7l-0.9,0.6l-2,-2.7zM2.2,25.0l1.3,3.2l-1,0.4l-1.3,-3.2zM58.2,25.0l1.3,3.2l-1,0.4l-1.3,-3.2zM10.7,38.5l-1,1.7l-0.4,-0.3l1,-1.7zM38.1,51.3l-1.8,4.3l-1.3,-0.5l1.8,-4.3zM38.1,-4.7l-1.8,4.3l-1.3,-0.5l1.8,-4.3zM37.5,35.4l-2.6,2.6l-0.7,-0.7l2.6,-2.6zM40.6,54.9l-1.4,0.1l-0,-0.3l1.4,-0.1zM40.6,-1.1l-1.4,0.1l-0,-0.3l1.4,-0.1zM45.1,32.3l1.5,0.0l-0,0.5l-1.5,0zM43.2,5.1l-1.4,0.7l-0.1,-0.2l1.4,-0.7zM19.9,25.1l-3.5,0.6l-0.1,-0.9l3.5,-0.6zM27.7,47.9l-2,1.1l-0.2,-0.4l2,-1.1zM48.7,45.3l2.7,0.9l-0.2,0.6l-2.7,-0.9zM31,33.2l1.1,3.3l-0.9,0.3l-1.1,-3.3zM47.8,50.1l-3.5,1.0l-0.2,-0.7l3.5,-1.0zM7.6,33.6l4.5,1.6l-0.5,1.3l-4.5,-1.6zM48.4,22.5l-1.2,0.3l-0.1,-0.4l1.2,-0.3zM26.6,49.9l-2,1.7l-0.4,-0.5l2,-1.7zM54.3,45.9l4,2.8l-0.9,1.3l-4,-2.8zM-1.7,45.9l4,2.8l-0.9,1.3l-4,-2.8zM10.8,18.5l-4.6,1.3l-0.3,-1.0l4.6,-1.3zM49,9.1l2.8,1.4l-0.3,0.5l-2.8,-1.4zM16.5,44.1l-0.8,1.3l-0.2,-0.1l0.8,-1.3zM29.9,6.1l0.6,3.7l-1.4,0.2l-0.6,-3.7zM34.8,38.5l0.5,1.3l-0.3,0.1l-0.5,-1.3zM4.5,6.0l0.6,2.1l-0.8,0.2l-0.6,-2.1zM53,52.0l2.3,3.8l-0.8,0.5l-2.3,-3.8zM53,-4.0l2.3,3.8l-0.8,0.5l-2.3,-3.8zM-3,52.0l2.3,3.8l-0.8,0.5l-2.3,-3.8zM-3,-4.0l2.3,3.8l-0.8,0.5l-2.3,-3.8zM25.1,23.3l-0.7,2.7l-0.5,-0.1l0.7,-2.7z"/><path fill="#FFFFFF" d="M10.5,23.8l-4.1,1.0l-0.2,-0.7l4.1,-1.0zM29.1,11.2l-3.6,0.4l-0.1,-1.0l3.6,-0.4zM15,52.4l3.2,3.8l-1.3,1.1l-3.2,-3.8zM15,-3.6l3.2,3.8l-1.3,1.1l-3.2,-3.8zM22.4,32.2l-2.2,2.2l-0.7,-0.7l2.2,-2.2zM8.2,29.1l-1.9,1.3l-0.5,-0.7l1.9,-1.3zM44,21.1l-3.1,1.5l-0.3,-0.6l3.1,-1.5zM2.6,21.1l2.8,4.2l-1.3,0.8l-2.8,-4.2zM58.6,21.1l2.8,4.2l-1.3,0.8l-2.8,-4.2zM21.1,40.5l-1.8,4.4l-1.3,-0.5l1.8,-4.4zM10.6,13.0l-3.7,1.4l-0.3,-0.8l3.7,-1.4zM46.7,44.2l3,3.0l-0.7,0.7l-3,-3.0zM34.5,7.7l1.8,1.4l-0.5,0.6l-1.8,-1.4zM56.8,22.1l-5.3,0.9l-0.3,-1.6l5.3,-0.9zM0.8,22.1l-5.3,0.9l-0.3,-1.6l5.3,-0.9zM42.7,37.3l-0.5,2.0l-0.6,-0.1l0.5,-2.0zM35.2,49.2l4.2,2.0l-0.7,1.5l-4.2,-2.0zM35.2,-6.8l4.2,2.0l-0.7,1.5l-4.2,-2.0zM35.7,52.6l-1.2,0.1l-0,-0.2l1.2,-0.1zM7.9,12.7l-4.4,2.0l-0.6,-1.4l4.4,-2.0zM63.9,12.7l-4.4,2.0l-0.6,-1.4l4.4,-2.0zM33.7,14.1l-1.3,4.4l-0.7,-0.2l1.3,-4.4zM31.2,25.6l3,2.1l-0.5,0.7l-3,-2.1zM20.1,29.1l1.1,1.8l-0.4,0.3l-1.1,-1.8zM15.2,35.6l1,2.1l-0.8,0.4l-1,-2.1zM15.4,18.8l-1.5,1.5l-0.3,-0.3l1.5,-1.5zM23.1,25.7l3.8,0.3l-0.1,1.2l-3.8,-0.3z"/><path fill="#782C8F" d="M51.5,37.2l2.6,2.9l-1.1,1.0l-2.6,-2.9zM-4.5,37.2l2.6,2.9l-1.1,1.0l-2.6,-2.9zM35.2,47.9l-4.3,2.6l-0.5,-0.8l4.3,-2.6zM56.4,41.4l-1.3,2.6l-0.5,-0.3l1.3,-2.6zM0.4,41.4l-1.3,2.6l-0.5,-0.3l1.3,-2.6zM38.3,19.8l-1.6,3.3l-0.8,-0.4l1.6,-3.3zM1.1,42.5l2.2,3.2l-1,0.6l-2.2,-3.2zM57.1,42.5l2.2,3.2l-1,0.6l-2.2,-3.2zM43.4,2.4l-1,4.6l-0.7,-0.1l1,-4.6zM43.4,58.4l-1,4.6l-0.7,-0.1l1,-4.6zM21.4,50.4l-2.9,0.3l-0,-0.5l2.9,-0.3zM11.8,24.8l-1.5,0.6l-0.1,-0.3l1.5,-0.6zM48.1,28.8l-0.9,4.9l-1.6,-0.3l0.9,-4.9zM55.5,25.7l-3.6,2.1l-0.5,-0.8l3.6,-2.1zM-0.5,25.7l-3.6,2.1l-0.5,-0.8l3.6,-2.1zM48,2.0l3.7,3.9l-1.2,1.1l-3.7,-3.9zM48,58.0l3.7,3.9l-1.2,1.1l-3.7,-3.9zM16.6,49.2l1.5,4.8l-0.9,0.3l-1.5,-4.8zM16.6,-6.8l1.5,4.8l-0.9,0.3l-1.5,-4.8zM25.8,19.0l-1.8,0.8l-0.2,-0.4l1.8,-0.8zM22.6,4.0l-2.8,4.6l-1.3,-0.8l2.8,-4.6zM22.6,60.0l-2.8,4.6l-1.3,-0.8l2.8,-4.6zM3.4,21.1l3.4,3.5l-1,1.0l-3.4,-3.5zM59.4,21.1l3.4,3.5l-1,1.0l-3.4,-3.5zM25.5,16.4l2.4,4.7l-1.6,0.8l-2.4,-4.7z"/><path fill="#0AF5F8" d="M40.7,19.5l-2.8,1.9l-0.6,-1.0l2.8,-1.9zM7.7,29.6l-1.3,5.1l-1.6,-0.4l1.3,-5.1zM63.7,29.6l-1.3,5.1l-1.6,-0.4l1.3,-5.1zM27.6,49.2l-3.7,2.9l-0.6,-0.7l3.7,-2.9zM27.6,-6.8l-3.7,2.9l-0.6,-0.7l3.7,-2.9zM34.8,41.1l-4.7,1.8l-0.4,-1.0l4.7,-1.8zM17.4,6.4l-3.7,2.7l-1,-1.4l3.7,-2.7zM44,8.0l0.3,1.2l-0.5,0.1l-0.3,-1.2zM11.4,18.0l-3.9,3.8l-1.3,-1.4l3.9,-3.8z"/><path fill="#EEAD22" d="M9.1,15.7l-1.9,1.2l-0.4,-0.7l1.9,-1.2zM30.7,43.2l-0.8,2.4l-0.8,-0.3l0.8,-2.4zM6.7,7.5l-1.1,0.5l-0.1,-0.3l1.1,-0.5z"/><path fill="#0A6DBA" d="M42.9,28.3l0.4,2.4l-0.9,0.1l-0.4,-2.4zM17.3,3.2l-3,0.6l-0.2,-1.1l3,-0.6zM17.3,59.2l-3,0.6l-0.2,-1.1l3,-0.6zM27.4,21.7l1.3,3.8l-1.4,0.5l-1.3,-3.8zM28.3,21.2l2.1,1.7l-0.4,0.5l-2.1,-1.7zM9.3,32.6l3,1.0l-0.3,1.0l-3,-1.0zM25.2,0.9l2.1,0.8l-0.3,0.8l-2.1,-0.8zM25.2,56.9l2.1,0.8l-0.3,0.8l-2.1,-0.8zM49,19.9l-2.2,2.7l-0.8,-0.7l2.2,-2.7zM44.6,-2.0l-1.9,4.5l-1,-0.4l1.9,-4.5zM44.6,54.0l-1.9,4.5l-1,-0.4l1.9,-4.5zM43.8,20.5l-3.3,1.9l-0.4,-0.8l3.3,-1.9zM33,45.9l2.9,2.7l-0.6,0.7l-2.9,-2.7zM43.1,20.9l-1.3,1.6l-0.2,-0.2l1.3,-1.6zM33,29.4l0.5,2.6l-1,0.2l-0.5,-2.6zM13.5,47.4l-1.4,5.2l-1.8,-0.5l1.4,-5.2zM13.5,-8.6l-1.4,5.2l-1.8,-0.5l1.4,-5.2zM11.5,40.7l-2.2,1.3l-0.4,-0.7l2.2,-1.3zM48.8,15.9l-3.4,0.1l-0,-1.1l3.4,-0.1zM14.7,41.4l1.3,1.5l-0.5,0.5l-1.3,-1.5zM26.9,25.8l-2.8,0.1l-0,-1.0l2.8,-0.1zM55.3,28.0l-2.9,1.1l-0.2,-0.5l2.9,-1.1zM-0.7,28.0l-2.9,1.1l-0.2,-0.5l2.9,-1.1zM9.1,20.5l-1.3,0.4l-0.1,-0.2l1.3,-0.4zM26.3,30.2l4.8,0.0l-0,1.1l-4.8,0zM48.5,8.1l2.6,2.9l-0.5,0.5l-2.6,-2.9zM38.8,5.3l-2,2.9l-0.8,-0.5l2,-2.9zM47.4,11.8l1.8,1.6l-0.4,0.4l-1.8,-1.6zM17.6,30.0l-2.7,0.6l-0.2,-0.9l2.7,-0.6zM41.2,36.0l2.7,0.6l-0.2,0.8l-2.7,-0.6zM33.6,9.7l1.4,1.7l-0.3,0.2l-1.4,-1.7zM38,34.4l0,2.3l-0.4,0.0l-0,-2.3zM41,17.1l-2.9,2.2l-0.6,-0.8l2.9,-2.2zM3.8,21.2l-2,4.4l-1.3,-0.6l2,-4.4zM59.8,21.2l-2,4.4l-1.3,-0.6l2,-4.4z"/><path fill="#FFFFFF" d="M9.3,12.6l-0.9,1.9l-0.5,-0.2l0.9,-1.9zM15.6,23.5l-0.2,3.9l-0.6,0l0.2,-3.9zM8.6,12.1l3.9,2.7l-0.6,0.9l-3.9,-2.7zM35.5,5.3l-3.7,0.3l-0.1,-0.8l3.7,-0.3zM48.5,46.7l-0.4,2.5l-0.5,-0.1l0.4,-2.5zM20.8,45.9l-0.5,4.8l-1.6,-0.2l0.5,-4.8zM11.6,44.5l-0.7,1.6l-0.6,-0.3l0.7,-1.6zM38.8,15.7l1,1.0l-0.2,0.2l-1,-1.0zM15.6,13.1l-0.1,1.6l-0.4,0l0.1,-1.6zM54,3.9l-2.2,0.5l-0.1,-0.4l2.2,-0.5zM-2,3.9l-2.2,0.5l-0.1,-0.4l2.2,-0.5zM36.7,44.9l0.6,1.0l-0.4,0.2l-0.6,-1.0zM21.9,40.7l1.8,1.8l-0.4,0.4l-1.8,-1.8zM25.4,7.3l1.1,2.5l-0.7,0.3l-1.1,-2.5zM49.5,35.4l-4.3,1.9l-0.4,-1.0l4.3,-1.9zM29.3,30.5l-1.7,0.0l-0,-0.5l1.7,0zM53.4,48.7l-2.4,1.6l-0.5,-0.8l2.4,-1.6zM38.3,22.2l-1.4,1.4l-0.5,-0.6l1.4,-1.4zM28.2,33.4l-0.3,2.4l-0.4,-0.1l0.3,-2.4zM46.1,45.3l-4.1,2.5l-0.5,-0.9l4.1,-2.5zM28.8,3.3l-0.2,2.0l-0.4,0l0.2,-2.0zM3.2,35.3l1.6,0.1l-0,0.4l-1.6,-0.1zM8.3,51.2l0.5,2.7l-1,0.2l-0.5,-2.7zM8.3,-4.8l0.5,2.7l-1,0.2l-0.5,-2.7zM2.7,22.7l2.1,4.9l-1.8,0.8l-2.1,-4.9zM58.7,22.7l2.1,4.9l-1.8,0.8l-2.1,-4.9zM38.1,11.9l2.3,2.6l-0.8,0.7l-2.3,-2.6zM35.4,52.4l-0.1,2.4l-0.5,0l0.1,-2.4zM35.4,-3.6l-0.1,2.4l-0.5,0l0.1,-2.4zM27.5,50.1l0.2,2.1l-0.6,0.1l-0.2,-2.1zM7.4,24.5l-2.7,2.6l-0.6,-0.7l2.7,-2.6zM42.4,38.0l-1.5,1.9l-0.6,-0.5l1.5,-1.9zM51.2,16.1l-1.1,3.4l-1,-0.3l1.1,-3.4zM37.7,33.2l0.9,5.0l-1.7,0.3l-0.9,-5.0zM22.2,30.1l3,1.1l-0.4,1.0l-3,-1.1zM2.7,20.5l3.8,1.9l-0.4,0.8l-3.8,-1.9zM58.7,20.5l3.8,1.9l-0.4,0.8l-3.8,-1.9zM12,2.1l5.1,1.3l-0.3,1.1l-5.1,-1.3zM12,58.1l5.1,1.3l-0.3,1.1l-5.1,-1.3z"/><path fill="#782C8F" d="M46.1,33.8l-2.8,4.6l-1.3,-0.8l2.8,-4.6zM24.3,22.4l0.8,4.3l-1.3,0.2l-0.8,-4.3zM9.4,40.4l4.3,3.0l-0.6,0.9l-4.3,-3.0zM15.3,43.0l3.1,1.3l-0.3,0.8l-3.1,-1.3zM23.4,0.8l1.7,1.9l-0.3,0.3l-1.7,-1.9zM23.4,56.8l1.7,1.9l-0.3,0.3l-1.7,-1.9zM3.4,2.7l-1.7,1.9l-0.4,-0.3l1.7,-1.9zM3.4,58.7l-1.7,1.9l-0.4,-0.3l1.7,-1.9zM59.4,2.7l-1.7,1.9l-0.4,-0.3l1.7,-1.9zM59.4,58.7l-1.7,1.9l-0.4,-0.3l1.7,-1.9zM7,54.4l-2.1,1.9l-0.7,-0.8l2.1,-1.9zM7,-1.6l-2.1,1.9l-0.7,-0.8l2.1,-1.9zM36.7,38.6l-1.1,1.5l-0.4,-0.3l1.1,-1.5zM49.1,13.7l3.2,0.9l-0.4,1.3l-3.2,-0.9zM4.7,38.3l-4.2,1.9l-0.6,-1.4l4.2,-1.9zM60.7,38.3l-4.2,1.9l-0.6,-1.4l4.2,-1.9zM33.5,46.9l2.2,2.8l-0.5,0.4l-2.2,-2.8zM47.1,19.1l-2.5,1.9l-0.6,-0.7l2.5,-1.9zM16.9,40.7l-1.3,4.3l-1.3,-0.4l1.3,-4.3zM55.8,10.3l-0.1,5.1l-1.4,0l0.1,-5.1zM-0.2,10.3l-0.1,5.1l-1.4,0l0.1,-5.1zM51.1,54.0l-1.3,1.1l-0.3,-0.4l1.3,-1.1zM51.1,-2.0l-1.3,1.1l-0.3,-0.4l1.3,-1.1zM35.5,43.8l-4.8,2.5l-0.5,-0.9l4.8,-2.5zM36.2,17.7l0.8,1.8l-0.5,0.2l-0.8,-1.8zM38,18.5l-1.2,1.5l-0.4,-0.3l1.2,-1.5zM17.1,29.5l0.2,1.5l-0.4,0.1l-0.2,-1.5zM50.9,3.2l-5.3,0.6l-0.1,-1.0l5.3,-0.6zM50.9,59.2l-5.3,0.6l-0.1,-1.0l5.3,-0.6zM11.7,48.6l-0.4,3.8l-1.4,-0.1l0.4,-3.8z"/><path fill="#0AF5F8" d="M8.7,38.7l-2.5,1.0l-0.2,-0.4l2.5,-1.0zM53,5.0l3.1,3.3l-1.3,1.2l-3.1,-3.3zM-3,5.0l3.1,3.3l-1.3,1.2l-3.1,-3.3zM50,54.5l-3.5,3.2l-1,-1.1l3.5,-3.2zM50,-1.5l-3.5,3.2l-1,-1.1l3.5,-3.2zM30.5,1.2l-1.4,0.6l-0.2,-0.5l1.4,-0.6zM30.5,57.2l-1.4,0.6l-0.2,-0.5l1.4,-0.6zM32.2,-0.5l0.5,2.0l-0.6,0.1l-0.5,-2.0zM32.2,55.5l0.5,2.0l-0.6,0.1l-0.5,-2.0zM21.3,25.5l-3.9,3.0l-1,-1.3l3.9,-3.0zM9.8,19.7l5.1,1.5l-0.3,0.9l-5.1,-1.5zM21,35.9l1.4,4.1l-1.4,0.4l-1.4,-4.1zM44.5,17.9l2.3,3.9l-0.9,0.6l-2.3,-3.9zM45.4,15.5l1.6,1.4l-0.4,0.5l-1.6,-1.4z"/><path fill="#EEAD22" d="M41.3,48.0l1.6,4.1l-0.8,0.3l-1.6,-4.1zM37.2,49.8l3.1,1.9l-0.4,0.7l-3.1,-1.9zM13.3,15.9l-1.3,1.3l-0.5,-0.5l1.3,-1.3z"/></pattern><pattern id="tx4" width="36" height="36" patternUnits="userSpaceOnUse"><rect width="36" height="36" fill="#0A6DBA"/><path fill="#0AF5F8" d="M3.8,13.5l0.4,1.3l-0.6,0.2l-0.4,-1.3zM5.8,7.9l-2.5,1.7l-1.4,-2.1l2.5,-1.7zM41.8,7.9l-2.5,1.7l-1.4,-2.1l2.5,-1.7zM22.7,8.8l1,1.9l-1.3,0.7l-1,-1.9zM26.1,10.3l2.1,0.7l-0.6,1.8l-2.1,-0.7zM8.2,26.2l1.2,2.0l-1.1,0.7l-1.2,-2.0zM17.9,2.4l-2.5,0.4l-0.3,-2.1l2.5,-0.4zM17.9,38.4l-2.5,0.4l-0.3,-2.1l2.5,-0.4zM5.4,27.4l1.7,0.5l-0.3,1.0l-1.7,-0.5zM19.8,26.8l0.1,1.9l-1.7,0.1l-0.1,-1.9zM15.9,1.5l-1.8,0.7l-0.4,-1.0l1.8,-0.7zM15.9,37.5l-1.8,0.7l-0.4,-1.0l1.8,-0.7zM31.9,4.7l-0.2,1.1l-0.9,-0.2l0.2,-1.1zM24.7,27.7l-0.2,2.4l-2,-0.2l0.2,-2.4zM30.3,29.1l0.4,1.1l-0.8,0.3l-0.4,-1.1zM23.6,32.0l-1.9,0.9l-0.6,-1.2l1.9,-0.9zM18.6,16.4l2.5,0.6l-0.4,1.7l-2.5,-0.6zM32.1,12.1l-1,2.5l-2.2,-0.9l1,-2.5zM30.5,27.1l2.1,1.0l-0.7,1.4l-2.1,-1.0zM11.5,1.0l-0.9,0.5l-0.5,-0.8l0.9,-0.5zM11.5,37.0l-0.9,0.5l-0.5,-0.8l0.9,-0.5zM23,34.2l0.9,2.8l-1.8,0.6l-0.9,-2.8zM23,-1.8l0.9,2.8l-1.8,0.6l-0.9,-2.8zM35.1,33.7l1.7,2.5l-1.8,1.2l-1.7,-2.5zM35.1,-2.3l1.7,2.5l-1.8,1.2l-1.7,-2.5zM-0.9,33.7l1.7,2.5l-1.8,1.2l-1.7,-2.5zM-0.9,-2.3l1.7,2.5l-1.8,1.2l-1.7,-2.5zM11.3,8.0l-2.3,2.0l-1.7,-2.0l2.3,-2.0zM10.3,10.5l-2.4,1.9l-1,-1.3l2.4,-1.9zM1.8,11.7l-1.3,0.0l-0,-0.6l1.3,0zM37.8,11.7l-1.3,0.0l-0,-0.6l1.3,0zM33.5,26.0l-2.6,0.4l-0.3,-1.9l2.6,-0.4zM6.6,29.3l-0.5,2.8l-1.5,-0.3l0.5,-2.8zM23.3,33.1l-1.6,0.5l-0.4,-1.2l1.6,-0.5zM33.3,22.9l-1.6,0.6l-0.5,-1.4l1.6,-0.6z"/><path fill="#0A6DBA" d="M3.2,31.9l1.7,2.4l-1.6,1.2l-1.7,-2.4zM3.2,-4.1l1.7,2.4l-1.6,1.2l-1.7,-2.4zM39.2,31.9l1.7,2.4l-1.6,1.2l-1.7,-2.4zM39.2,-4.1l1.7,2.4l-1.6,1.2l-1.7,-2.4zM14.8,5.0l1.7,0.2l-0.2,1.4l-1.7,-0.2zM33.3,20.9l2.3,1.6l-0.9,1.3l-2.3,-1.6zM-2.7,20.9l2.3,1.6l-0.9,1.3l-2.3,-1.6zM3.4,12.8l3.1,0.1l-0.1,1.9l-3.1,-0.1zM6.4,2.0l-2.1,0.0l-0,-1.2l2.1,0zM6.4,38.0l-2.1,0.0l-0,-1.2l2.1,0zM5.1,8.5l-2.8,0.7l-0.6,-2.4l2.8,-0.7zM41.1,8.5l-2.8,0.7l-0.6,-2.4l2.8,-0.7zM23.5,8.0l2.9,0.7l-0.6,2.6l-2.9,-0.7zM19.3,0.4l0,1.1l-0.8,0.0l-0,-1.1zM19.3,36.4l0,1.1l-0.8,0.0l-0,-1.1zM27.8,4.7l2.6,1.3l-0.7,1.4l-2.6,-1.3zM10.7,18.3l3,0.1l-0,2.3l-3,-0.1zM23.7,11.8l-2.9,0.8l-0.5,-1.9l2.9,-0.8zM4.8,13.5l-1.4,2.7l-1.4,-0.8l1.4,-2.7zM40.8,13.5l-1.4,2.7l-1.4,-0.8l1.4,-2.7zM35.2,26.3l-1.4,2.8l-1.4,-0.7l1.4,-2.8zM-0.8,26.3l-1.4,2.8l-1.4,-0.7l1.4,-2.8zM28.4,22.7l-2.8,0.6l-0.4,-1.6l2.8,-0.6zM21.1,30.9l1.9,1.7l-1,1.1l-1.9,-1.7zM4.9,29.4l1.8,1.0l-0.5,0.9l-1.8,-1.0zM16.8,1.5l-2.9,0.4l-0.2,-1.3l2.9,-0.4zM16.8,37.5l-2.9,0.4l-0.2,-1.3l2.9,-0.4zM27.7,6.3l-1.7,2.2l-2,-1.5l1.7,-2.2zM2.3,22.4l-0.8,1.4l-1.1,-0.6l0.8,-1.4zM38.3,22.4l-0.8,1.4l-1.1,-0.6l0.8,-1.4zM9.7,7.5l-1.1,0.3l-0.3,-0.9l1.1,-0.3z"/><path fill="#782C8F" d="M35.6,0.7l-1.2,1.1l-0.9,-1.1l1.2,-1.1zM35.6,36.7l-1.2,1.1l-0.9,-1.1l1.2,-1.1zM-0.4,0.7l-1.2,1.1l-0.9,-1.1l1.2,-1.1zM-0.4,36.7l-1.2,1.1l-0.9,-1.1l1.2,-1.1zM32.9,7.4l1,0.0l-0,0.9l-1,0zM10.5,7.2l2,0.6l-0.5,1.8l-2,-0.6zM3.2,31.7l-1.2,0.7l-0.4,-0.7l1.2,-0.7zM39.2,31.7l-1.2,0.7l-0.4,-0.7l1.2,-0.7zM12.6,23.3l1.2,0.6l-0.3,0.6l-1.2,-0.6zM21.3,11.4l2.7,1.5l-1.1,2.0l-2.7,-1.5zM19.3,33.7l1.4,0.7l-0.5,1.0l-1.4,-0.7zM19.3,-2.3l1.4,0.7l-0.5,1.0l-1.4,-0.7zM2.8,34.3l2.8,0.0l-0,1.9l-2.8,0zM2.8,-1.7l2.8,0.0l-0,1.9l-2.8,0z"/><path fill="#EEAD22" d="M8.4,11.5l-2.1,1.0l-0.8,-1.7l2.1,-1.0zM2.5,20.4l2.1,1.3l-0.9,1.4l-2.1,-1.3zM38.5,20.4l2.1,1.3l-0.9,1.4l-2.1,-1.3zM21.2,30.1l0.8,2.8l-1.9,0.5l-0.8,-2.8zM17.6,0.3l1.2,0.9l-0.5,0.7l-1.2,-0.9zM17.6,36.3l1.2,0.9l-0.5,0.7l-1.2,-0.9zM5.5,28.0l-0.4,2.7l-2.3,-0.4l0.4,-2.7zM8.4,24.2l-1.3,1.1l-1,-1.1l1.3,-1.1zM22.7,4.2l-0.1,1.8l-1.4,-0.1l0.1,-1.8zM6.6,31.4l0.8,1.6l-1.1,0.6l-0.8,-1.6zM29.5,33.6l0,1.3l-1,0.0l-0,-1.3zM29.5,-2.4l0,1.3l-1,0.0l-0,-1.3zM10.6,14.3l-0.1,1.0l-0.5,-0.1l0.1,-1.0zM27.1,19.1l-0.4,2.5l-1.9,-0.3l0.4,-2.5zM9.5,12.5l1.3,2.1l-1.8,1.1l-1.3,-2.1zM32.8,22.5l-0.2,2.5l-1.8,-0.2l0.2,-2.5zM22,21.9l1,0.1l-0.1,0.8l-1,-0.1z"/><path fill="#FFFFFF" d="M28.7,26.6l1,1.1l-0.8,0.7l-1,-1.1zM35.3,12.6l-0.8,2.8l-2.3,-0.6l0.8,-2.8zM-0.7,12.6l-0.8,2.8l-2.3,-0.6l0.8,-2.8z"/><path fill="#78AB30" d="M7,14.0l0.9,1.1l-0.8,0.7l-0.9,-1.1zM14.9,7.0l1,0.6l-0.3,0.5l-1,-0.6zM16.1,32.2l-1.7,1.8l-1.4,-1.4l1.7,-1.8zM34.3,23.4l1,0.4l-0.4,0.9l-1,-0.4zM-1.7,23.4l1,0.4l-0.4,0.9l-1,-0.4zM24.7,1.6l-0.3,1.3l-1,-0.2l0.3,-1.3zM24.7,37.6l-0.3,1.3l-1,-0.2l0.3,-1.3zM13.8,1.8l-0.4,2.5l-1.7,-0.2l0.4,-2.5zM13.8,37.8l-0.4,2.5l-1.7,-0.2l0.4,-2.5z"/><path fill="#0AF5F8" d="M14.5,22.1l-1.1,0.1l-0.1,-0.7l1.1,-0.1zM19.3,1.3l-1.5,0.4l-0.2,-0.9l1.5,-0.4zM19.3,37.3l-1.5,0.4l-0.2,-0.9l1.5,-0.4zM26,1.9l3,0.9l-0.5,1.6l-3,-0.9zM26,37.9l3,0.9l-0.5,1.6l-3,-0.9zM32.6,22.6l2.8,1.0l-0.7,1.9l-2.8,-1.0zM-3.4,22.6l2.8,1.0l-0.7,1.9l-2.8,-1.0zM17.2,35.7l-1.2,0.6l-0.4,-0.7l1.2,-0.6zM17.2,-0.3l-1.2,0.6l-0.4,-0.7l1.2,-0.6zM36.3,11.2l-2.2,0.6l-0.5,-1.6l2.2,-0.6zM0.3,11.2l-2.2,0.6l-0.5,-1.6l2.2,-0.6zM31.8,6.0l-1.9,1.7l-0.8,-0.9l1.9,-1.7zM8.3,1.7l-1.7,0.1l-0.1,-1.0l1.7,-0.1zM8.3,37.7l-1.7,0.1l-0.1,-1.0l1.7,-0.1zM5.2,7.0l1.2,0.9l-0.6,0.9l-1.2,-0.9zM35.9,7.6l-0.9,0.6l-0.3,-0.5l0.9,-0.6zM-0.1,7.6l-0.9,0.6l-0.3,-0.5l0.9,-0.6zM0.1,27.0l2.4,0.9l-0.6,1.6l-2.4,-0.9zM36.1,27.0l2.4,0.9l-0.6,1.6l-2.4,-0.9zM21.1,31.3l-0.2,2.1l-1.8,-0.2l0.2,-2.1zM21.1,20.6l2.3,0.2l-0.1,1.8l-2.3,-0.2zM30.3,31.5l-0.9,0.7l-0.6,-0.8l0.9,-0.7zM18.6,10.8l-2.4,0.9l-0.8,-2.1l2.4,-0.9zM16.4,0.4l-1.9,1.0l-0.8,-1.6l1.9,-1.0zM16.4,36.4l-1.9,1.0l-0.8,-1.6l1.9,-1.0zM15.6,1.6l1.2,1.5l-1.3,1.0l-1.2,-1.5zM15.6,37.6l1.2,1.5l-1.3,1.0l-1.2,-1.5zM24,23.0l-0.4,2.4l-1.6,-0.3l0.4,-2.4zM13.2,9.2l-1,2.1l-1,-0.5l1,-2.1zM35,4.1l0.6,2.6l-1.8,0.4l-0.6,-2.6zM-1,4.1l0.6,2.6l-1.8,0.4l-0.6,-2.6zM12.7,26.0l1.5,1.5l-1,1.1l-1.5,-1.5zM17.5,9.4l1,1.5l-1.1,0.7l-1,-1.5zM1.1,34.9l-0.4,1.9l-1.5,-0.3l0.4,-1.9zM1.1,-1.1l-0.4,1.9l-1.5,-0.3l0.4,-1.9zM37.1,34.9l-0.4,1.9l-1.5,-0.3l0.4,-1.9zM37.1,-1.1l-0.4,1.9l-1.5,-0.3l0.4,-1.9zM16.7,24.8l1.4,2.2l-1.9,1.2l-1.4,-2.2zM30.9,21.4l2.1,1.4l-0.8,1.2l-2.1,-1.4zM32,-0.9l0.2,2.5l-2,0.2l-0.2,-2.5zM32,35.1l0.2,2.5l-2,0.2l-0.2,-2.5zM30.3,27.9l-1.2,0.7l-0.5,-1.0l1.2,-0.7zM7.3,27.9l0.1,1.5l-0.7,0.0l-0.1,-1.5zM21,19.1l1.2,2.2l-1.9,1.1l-1.2,-2.2zM6.1,5.2l-0.2,2.0l-1.7,-0.1l0.2,-2.0z"/><path fill="#0A6DBA" d="M7.1,13.1l-2.5,1.6l-1.3,-1.9l2.5,-1.6zM6.3,-1.3l1.9,2.2l-2,1.7l-1.9,-2.2zM6.3,34.7l1.9,2.2l-2,1.7l-1.9,-2.2zM13.8,35.9l-1.4,0.2l-0.1,-0.7l1.4,-0.2zM13.8,-0.1l-1.4,0.2l-0.1,-0.7l1.4,-0.2zM30.7,3.0l0.1,1.4l-0.7,0.0l-0.1,-1.4zM21.2,12.9l-1.9,1.8l-1.5,-1.6l1.9,-1.8zM12,11.4l2.1,1.4l-1.3,1.8l-2.1,-1.4zM5.5,12.4l0.3,2.0l-1.2,0.2l-0.3,-2.0zM28.7,4.4l0.7,0.9l-0.5,0.4l-0.7,-0.9zM12,22.5l-0.7,1.2l-0.7,-0.4l0.7,-1.2zM35.1,33.0l-0.2,1.6l-0.9,-0.1l0.2,-1.6zM35.1,-3.0l-0.2,1.6l-0.9,-0.1l0.2,-1.6zM-0.9,33.0l-0.2,1.6l-0.9,-0.1l0.2,-1.6zM-0.9,-3.0l-0.2,1.6l-0.9,-0.1l0.2,-1.6zM12.7,30.4l1.3,0.5l-0.3,0.9l-1.3,-0.5zM20.2,9.6l-1,0.5l-0.3,-0.7l1,-0.5zM7.3,16.4l-0.6,2.4l-1.6,-0.4l0.6,-2.4zM8.4,35.3l-2.5,0.4l-0.3,-1.9l2.5,-0.4zM8.4,-0.7l-2.5,0.4l-0.3,-1.9l2.5,-0.4zM11.9,10.0l0.9,1.4l-0.8,0.5l-0.9,-1.4zM7.6,7.1l2.3,2.2l-1.4,1.4l-2.3,-2.2zM25.9,9.8l1.1,0.4l-0.3,0.9l-1.1,-0.4zM2.9,13.2l0.9,1.1l-0.5,0.4l-0.9,-1.1zM33.7,14.6l-2.9,0.7l-0.4,-1.4l2.9,-0.7zM-2.3,14.6l-2.9,0.7l-0.4,-1.4l2.9,-0.7zM32.7,12.9l-1.7,0.9l-0.6,-1.1l1.7,-0.9zM25.2,36.1l-2.7,0.3l-0.2,-2.2l2.7,-0.3zM25.2,0.1l-2.7,0.3l-0.2,-2.2l2.7,-0.3zM6.5,-1.4l1.8,2.5l-2.1,1.5l-1.8,-2.5zM6.5,34.6l1.8,2.5l-2.1,1.5l-1.8,-2.5zM10.5,1.8l-0.7,0.9l-0.6,-0.5l0.7,-0.9zM10.5,37.8l-0.7,0.9l-0.6,-0.5l0.7,-0.9zM7.8,28.1l1,0.6l-0.4,0.7l-1,-0.6zM4.4,8.3l0.6,1.1l-0.9,0.5l-0.6,-1.1zM4.1,31.0l-2.1,1.1l-0.9,-1.8l2.1,-1.1zM40.1,31.0l-2.1,1.1l-0.9,-1.8l2.1,-1.1z"/><path fill="#782C8F" d="M32.6,10.4l-1.5,2.0l-1.6,-1.2l1.5,-2.0zM16,21.6l-1.1,2.7l-1.6,-0.6l1.1,-2.7zM34.4,17.7l-0.7,0.8l-0.5,-0.4l0.7,-0.8zM3,15.5l-1,0.9l-0.4,-0.5l1,-0.9zM22.4,17.1l-2,2.3l-1.5,-1.3l2,-2.3zM11.1,4.7l-1.1,1.4l-0.8,-0.6l1.1,-1.4zM32,13.1l0,1.5l-0.8,0.0l-0,-1.5zM30.8,25.9l-1.9,0.5l-0.4,-1.5l1.9,-0.5z"/><path fill="#EEAD22" d="M22.1,35.1l-0.4,1.3l-1,-0.3l0.4,-1.3zM22.1,-0.9l-0.4,1.3l-1,-0.3l0.4,-1.3zM35.2,29.9l-1.4,0.3l-0.3,-1.2l1.4,-0.3zM-0.8,29.9l-1.4,0.3l-0.3,-1.2l1.4,-0.3zM27.6,10.7l2.7,0.8l-0.4,1.4l-2.7,-0.8zM36.7,29.4l-1.6,2.0l-1.3,-1.0l1.6,-2.0zM0.7,29.4l-1.6,2.0l-1.3,-1.0l1.6,-2.0zM20.7,20.6l1.5,2.6l-1.5,0.9l-1.5,-2.6zM26.4,23.2l1.3,0.9l-0.6,0.9l-1.3,-0.9zM13.1,19.4l1,1.2l-0.9,0.8l-1,-1.2z"/><path fill="#FFFFFF" d="M25.4,35.1l-0.7,0.9l-0.8,-0.6l0.7,-0.9zM25.4,-0.9l-0.7,0.9l-0.8,-0.6l0.7,-0.9zM28,12.5l-1.7,1.3l-1,-1.3l1.7,-1.3z"/><path fill="#78AB30" d="M0.7,-0.8l0.4,1.6l-1.1,0.3l-0.4,-1.6zM0.7,35.2l0.4,1.6l-1.1,0.3l-0.4,-1.6zM36.7,-0.8l0.4,1.6l-1.1,0.3l-0.4,-1.6zM36.7,35.2l0.4,1.6l-1.1,0.3l-0.4,-1.6zM2.4,-0.8l-1.4,2.6l-1.2,-0.6l1.4,-2.6zM2.4,35.2l-1.4,2.6l-1.2,-0.6l1.4,-2.6zM38.4,-0.8l-1.4,2.6l-1.2,-0.6l1.4,-2.6zM38.4,35.2l-1.4,2.6l-1.2,-0.6l1.4,-2.6zM12.3,11.2l1,2.3l-1,0.5l-1,-2.3z"/><path fill="#0AF5F8" d="M16,20.8l-2.9,0.7l-0.4,-1.7l2.9,-0.7zM17.3,30.8l1.5,1.0l-0.8,1.1l-1.5,-1.0zM25.6,15.7l1.9,1.1l-0.6,0.9l-1.9,-1.1zM19.6,29.8l-1.9,0.5l-0.3,-1.1l1.9,-0.5zM18.2,5.3l1,1.6l-0.8,0.5l-1,-1.6zM15.2,24.6l1.1,0.2l-0.1,0.8l-1.1,-0.2zM11.8,12.1l2.1,0.9l-0.6,1.3l-2.1,-0.9zM29.7,2.7l-1,2.5l-1.3,-0.5l1,-2.5zM13,8.5l-0.6,1.7l-0.8,-0.3l0.6,-1.7zM33.1,3.6l-0.1,1.9l-1.5,-0.1l0.1,-1.9zM11.1,22.2l-0.9,1.8l-1.2,-0.6l0.9,-1.8zM31.2,12.0l-0.5,1.4l-1,-0.3l0.5,-1.4zM9.3,21.0l0.5,1.2l-0.8,0.3l-0.5,-1.2zM13.4,18.8l0.4,2.2l-1.4,0.3l-0.4,-2.2zM21.1,10.2l-1.1,2.1l-1.7,-0.9l1.1,-2.1zM2.3,5.6l-1.8,1.3l-0.7,-1.0l1.8,-1.3zM38.3,5.6l-1.8,1.3l-0.7,-1.0l1.8,-1.3zM25.5,32.7l-2.1,1.3l-1.1,-1.9l2.1,-1.3zM6,3.6l-0.7,3.1l-1.5,-0.4l0.7,-3.1zM34,18.9l-3.1,0.4l-0.3,-2.3l3.1,-0.4zM-2,18.9l-3.1,0.4l-0.3,-2.3l3.1,-0.4zM36.7,8.0l-1.8,0.7l-0.4,-1.1l1.8,-0.7zM0.7,8.0l-1.8,0.7l-0.4,-1.1l1.8,-0.7zM26.5,22.4l0.2,2.8l-1.3,0.1l-0.2,-2.8zM20.1,7.4l1.3,0.7l-0.5,0.9l-1.3,-0.7zM17.6,23.1l-2.6,0.8l-0.6,-1.7l2.6,-0.8zM13.6,6.7l-0.9,1.1l-0.7,-0.6l0.9,-1.1zM19.5,15.6l-2.6,1.8l-1.2,-1.8l2.6,-1.8zM32.8,0.2l-0.1,1.3l-1,-0.1l0.1,-1.3zM32.8,36.2l-0.1,1.3l-1,-0.1l0.1,-1.3zM9.3,12.6l1.4,2.2l-1.2,0.8l-1.4,-2.2zM10.7,27.3l-2.3,0.8l-0.5,-1.6l2.3,-0.8zM10,21.7l1.4,1.2l-1,1.2l-1.4,-1.2z"/><path fill="#0A6DBA" d="M20.9,23.6l-2.2,0.8l-0.4,-1.2l2.2,-0.8zM2.1,10.5l1.1,0.3l-0.2,0.7l-1.1,-0.3zM11.6,29.6l-2.2,1.5l-0.8,-1.2l2.2,-1.5zM10.2,32.4l-0.3,1.0l-0.6,-0.2l0.3,-1.0zM27.9,30.9l0.1,3.0l-2,0.1l-0.1,-3.0zM27.9,-5.1l0.1,3.0l-2,0.1l-0.1,-3.0zM14.4,4.8l1.2,1.6l-1.2,0.9l-1.2,-1.6zM36.5,26.1l0.4,2.5l-2.2,0.4l-0.4,-2.5zM0.5,26.1l0.4,2.5l-2.2,0.4l-0.4,-2.5zM26.7,1.1l2.5,0.3l-0.2,2.0l-2.5,-0.3zM26.7,37.1l2.5,0.3l-0.2,2.0l-2.5,-0.3zM35.4,32.7l0.3,1.0l-0.5,0.2l-0.3,-1.0zM-0.6,32.7l0.3,1.0l-0.5,0.2l-0.3,-1.0zM8.8,24.8l2.2,1.3l-1.1,1.9l-2.2,-1.3zM10.8,3.7l-2,1.0l-0.5,-1.0l2,-1.0zM31.6,4.2l1.8,2.2l-1.5,1.2l-1.8,-2.2zM20,26.6l-0.6,1.6l-1,-0.4l0.6,-1.6zM16.3,30.8l-2.1,2.1l-1.7,-1.7l2.1,-2.1zM18.9,4.7l-2.2,1.1l-0.7,-1.4l2.2,-1.1zM35.1,7.1l-1.3,2.9l-1.9,-0.8l1.3,-2.9zM-0.9,7.1l-1.3,2.9l-1.9,-0.8l1.3,-2.9zM4.1,0.1l-2.5,1.9l-1.5,-1.9l2.5,-1.9zM4.1,36.1l-2.5,1.9l-1.5,-1.9l2.5,-1.9zM40.1,0.1l-2.5,1.9l-1.5,-1.9l2.5,-1.9zM40.1,36.1l-2.5,1.9l-1.5,-1.9l2.5,-1.9zM31.7,17.1l-1.2,1.9l-1.3,-0.8l1.2,-1.9zM15.8,9.7l-1.8,2.3l-1.4,-1.1l1.8,-2.3zM18,10.9l-2.8,0.7l-0.4,-1.8l2.8,-0.7zM23.5,11.5l-0.6,2.4l-1.5,-0.4l0.6,-2.4zM5.3,4.9l1.9,0.8l-0.6,1.5l-1.9,-0.8zM10.9,28.8l-1.6,0.6l-0.5,-1.3l1.6,-0.6zM5.6,29.4l-1.2,0.5l-0.3,-0.6l1.2,-0.5z"/><path fill="#782C8F" d="M26.4,28.1l1.9,0.7l-0.4,1.1l-1.9,-0.7zM28,3.9l0.3,1.1l-0.8,0.2l-0.3,-1.1zM10.3,25.1l0.9,3.0l-1.4,0.4l-0.9,-3.0zM8.1,6.2l-1,0.6l-0.5,-0.8l1,-0.6zM8.8,7.3l2.2,1.4l-0.9,1.4l-2.2,-1.4zM5.8,8.1l1.6,2.1l-1.2,0.9l-1.6,-2.1zM19.2,27.5l2.8,0.8l-0.7,2.5l-2.8,-0.8zM10,25.9l2.8,0.5l-0.5,2.5l-2.8,-0.5zM31.8,34.3l-1.7,2.1l-1.1,-0.9l1.7,-2.1zM31.8,-1.7l-1.7,2.1l-1.1,-0.9l1.7,-2.1z"/><path fill="#EEAD22" d="M7.6,27.5l-1.7,2.5l-2.2,-1.5l1.7,-2.5zM6.8,29.0l0.7,0.8l-0.5,0.5l-0.7,-0.8zM30.3,20.6l-2.8,1.1l-0.9,-2.3l2.8,-1.1zM26.6,11.2l-2.4,0.7l-0.5,-1.8l2.4,-0.7zM9.6,33.2l0,1.4l-0.7,0.0l-0,-1.4zM9.6,-2.8l0,1.4l-0.7,0.0l-0,-1.4zM2.4,18.1l-1.1,1.2l-0.8,-0.7l1.1,-1.2zM38.4,18.1l-1.1,1.2l-0.8,-0.7l1.1,-1.2zM6.7,23.7l0.2,1.7l-1.3,0.1l-0.2,-1.7zM13.7,24.3l-0.3,2.4l-1.1,-0.1l0.3,-2.4z"/><path fill="#FFFFFF" d="M2.8,17.2l0.9,1.8l-0.9,0.5l-0.9,-1.8zM38.8,17.2l0.9,1.8l-0.9,0.5l-0.9,-1.8zM20.4,27.8l-0,1.1l-0.7,0l0,-1.1zM26.5,22.5l1.5,2.7l-1.7,1.0l-1.5,-2.7z"/><path fill="#78AB30" d="M33.5,5.0l2.7,0.3l-0.2,1.6l-2.7,-0.3zM-2.5,5.0l2.7,0.3l-0.2,1.6l-2.7,-0.3zM4.2,12.7l-0.8,2.1l-1.5,-0.5l0.8,-2.1zM40.2,12.7l-0.8,2.1l-1.5,-0.5l0.8,-2.1zM34.7,14.2l-0,2.0l-1.5,0l0,-2.0zM-1.3,14.2l-0,2.0l-1.5,0l0,-2.0z"/><path fill="#0AF5F8" d="M12,29.1l1.4,0.6l-0.4,0.8l-1.4,-0.6zM28.1,1.5l1.5,2.1l-1.1,0.8l-1.5,-2.1zM28.1,37.5l1.5,2.1l-1.1,0.8l-1.5,-2.1zM30.6,12.1l-0.6,3.0l-2.3,-0.5l0.6,-3.0zM27,8.4l-1.5,1.5l-1,-1.1l1.5,-1.5zM16.6,26.4l-1,2.2l-1.5,-0.7l1,-2.2zM29,21.8l1.3,1.7l-1.1,0.8l-1.3,-1.7zM35.6,3.2l1.2,1.8l-1.5,1.0l-1.2,-1.8zM-0.4,3.2l1.2,1.8l-1.5,1.0l-1.2,-1.8zM7.3,0.6l1.8,1.4l-1,1.2l-1.8,-1.4zM7.3,36.6l1.8,1.4l-1,1.2l-1.8,-1.4zM31.1,18.6l-2.7,1.0l-0.6,-1.6l2.7,-1.0zM12.4,16.9l2.8,1.2l-0.6,1.5l-2.8,-1.2zM7.3,10.4l-1.2,0.6l-0.5,-1.1l1.2,-0.6zM22.3,8.8l-0.3,1.4l-0.8,-0.2l0.3,-1.4zM30.3,18.9l-0.2,1.7l-1.5,-0.2l0.2,-1.7zM16.1,8.1l2.8,0.7l-0.5,2.2l-2.8,-0.7zM23.7,17.2l1.5,0.7l-0.5,1.0l-1.5,-0.7zM27.4,5.1l0.7,2.2l-2,0.6l-0.7,-2.2zM7.7,28.4l1,1.6l-1.1,0.7l-1,-1.6zM12.8,9.2l-2,1.7l-1.4,-1.6l2,-1.7zM11.3,33.1l2,0.3l-0.2,1.4l-2,-0.3zM11.3,-2.9l2,0.3l-0.2,1.4l-2,-0.3zM16.3,11.6l-0.1,1.4l-1.1,-0.1l0.1,-1.4zM23.1,2.7l0.1,1.6l-1,0.1l-0.1,-1.6zM20.3,25.2l1.2,1.6l-1.3,0.9l-1.2,-1.6z"/><path fill="#0A6DBA" d="M27.9,29.0l-1.2,2.1l-1.7,-1.0l1.2,-2.1zM7.5,11.8l1.6,1.5l-0.8,0.9l-1.6,-1.5zM25.6,5.6l2.6,1.0l-0.5,1.2l-2.6,-1.0zM19.4,19.3l2.7,1.7l-0.9,1.5l-2.7,-1.7zM16.2,24.2l0.5,1.4l-0.9,0.3l-0.5,-1.4zM36.6,27.5l-3,0.2l-0.1,-2.4l3,-0.2zM0.6,27.5l-3,0.2l-0.1,-2.4l3,-0.2zM28.8,23.3l0.6,1.1l-0.7,0.4l-0.6,-1.1zM18.9,25.1l-1.4,0.6l-0.3,-0.8l1.4,-0.6zM33.1,11.3l-0.9,1.5l-1.2,-0.7l0.9,-1.5zM12,29.9l-0.3,1.4l-0.7,-0.2l0.3,-1.4zM28.2,-1.0l0,3.1l-1.8,0.0l-0,-3.1zM28.2,35.0l0,3.1l-1.8,0.0l-0,-3.1zM14.9,8.1l1.6,0.3l-0.2,1.0l-1.6,-0.3zM28.8,31.5l-1.2,0.5l-0.3,-0.7l1.2,-0.5zM17.1,26.7l-2.1,1.3l-1,-1.5l2.1,-1.3zM22.1,0.3l1.6,1.7l-1.2,1.2l-1.6,-1.7zM22.1,36.3l1.6,1.7l-1.2,1.2l-1.6,-1.7zM14.1,3.4l0.5,1.4l-1,0.3l-0.5,-1.4zM19.4,32.7l2.3,0.3l-0.2,1.7l-2.3,-0.3zM19.4,-3.3l2.3,0.3l-0.2,1.7l-2.3,-0.3zM21.4,23.7l-1,1.3l-1.2,-0.9l1,-1.3zM2.2,3.2l-2.7,0.1l-0.1,-1.7l2.7,-0.1zM2.2,39.2l-2.7,0.1l-0.1,-1.7l2.7,-0.1zM38.2,3.2l-2.7,0.1l-0.1,-1.7l2.7,-0.1zM38.2,39.2l-2.7,0.1l-0.1,-1.7l2.7,-0.1zM-1.1,2.9l2.4,0.3l-0.2,1.4l-2.4,-0.3zM34.9,2.9l2.4,0.3l-0.2,1.4l-2.4,-0.3zM13.1,0.0l0.4,1.1l-0.5,0.2l-0.4,-1.1zM13.1,36.0l0.4,1.1l-0.5,0.2l-0.4,-1.1z"/><path fill="#782C8F" d="M3.9,28.9l2,0.9l-0.5,1.2l-2,-0.9zM32.1,18.7l-0.6,1.1l-0.5,-0.3l0.6,-1.1zM35.5,10.0l-1.1,0.5l-0.3,-0.7l1.1,-0.5zM-0.5,10.0l-1.1,0.5l-0.3,-0.7l1.1,-0.5zM29.5,19.0l-2.5,0.4l-0.4,-2.1l2.5,-0.4zM14.4,14.6l-1.4,2.3l-1.2,-0.8l1.4,-2.3zM28.5,11.8l-1.2,1.9l-1.2,-0.8l1.2,-1.9zM11.2,12.2l-0.4,1.3l-1.1,-0.3l0.4,-1.3zM19.7,15.4l-2.1,2.2l-1.9,-1.8l2.1,-2.2zM26.5,14.7l-1.2,0.5l-0.4,-0.9l1.2,-0.5zM1.1,11.1l-0.3,1.5l-1.1,-0.2l0.3,-1.5zM37.1,11.1l-0.3,1.5l-1.1,-0.2l0.3,-1.5zM35.8,33.8l-0.1,1.3l-1.1,-0.1l0.1,-1.3zM35.8,-2.2l-0.1,1.3l-1.1,-0.1l0.1,-1.3zM-0.2,33.8l-0.1,1.3l-1.1,-0.1l0.1,-1.3zM-0.2,-2.2l-0.1,1.3l-1.1,-0.1l0.1,-1.3zM23.5,7.4l0.6,1.0l-0.5,0.3l-0.6,-1.0zM16,6.7l0.9,1.8l-1,0.5l-0.9,-1.8z"/><path fill="#EEAD22" d="M8.8,21.1l2,0.4l-0.2,1.1l-2,-0.4zM25.4,18.2l-1.9,0.3l-0.2,-1.2l1.9,-0.3zM37.4,19.2l-1.9,1.4l-1.3,-1.7l1.9,-1.4zM1.4,19.2l-1.9,1.4l-1.3,-1.7l1.9,-1.4zM20.3,4.1l-1.7,2.2l-1.1,-0.9l1.7,-2.2zM9.1,28.0l-0.8,0.7l-0.5,-0.6l0.8,-0.7zM33.9,16.7l0.3,2.1l-1.8,0.2l-0.3,-2.1zM-2.1,16.7l0.3,2.1l-1.8,0.2l-0.3,-2.1zM16,31.0l-2.7,1.4l-1.1,-2.1l2.7,-1.4zM3.1,26.2l0.1,1.1l-0.9,0.1l-0.1,-1.1zM16.2,13.2l1.2,2.0l-1.6,1.0l-1.2,-2.0z"/><path fill="#FFFFFF" d="M17.8,14.9l1,2.3l-1.6,0.7l-1,-2.3zM12.8,5.6l-1.3,2.5l-1.5,-0.8l1.3,-2.5zM9.6,9.5l-0,2.3l-1.1,0l0,-2.3zM9.4,34.3l0.7,1.1l-0.9,0.6l-0.7,-1.1zM9.4,-1.7l0.7,1.1l-0.9,0.6l-0.7,-1.1zM20.9,21.2l-1.9,1.3l-0.9,-1.3l1.9,-1.3z"/><path fill="#78AB30" d="M24.3,21.7l1.6,1.3l-0.6,0.7l-1.6,-1.3zM3.1,11.3l-0.4,2.0l-1.7,-0.4l0.4,-2.0zM39.1,11.3l-0.4,2.0l-1.7,-0.4l0.4,-2.0zM25.8,12.2l-0.2,2.1l-1.8,-0.2l0.2,-2.1zM19.6,34.0l1.1,0.7l-0.3,0.5l-1.1,-0.7zM19.6,-2.0l1.1,0.7l-0.3,0.5l-1.1,-0.7zM11.4,14.1l1.6,0.9l-0.4,0.8l-1.6,-0.9zM9.1,12.1l0.4,1.3l-0.7,0.2l-0.4,-1.3z"/><path fill="#0AF5F8" d="M30.5,20.2l-1.4,0.5l-0.3,-0.8l1.4,-0.5zM29.8,2.6l2.7,1.1l-0.8,1.9l-2.7,-1.1zM13.8,19.9l2.1,1.7l-1.4,1.7l-2.1,-1.7zM21.6,11.1l1.3,0.1l-0.1,0.9l-1.3,-0.1zM21.1,3.9l3.1,0.2l-0.1,2.8l-3.1,-0.2zM3.2,6.7l-0.3,2.8l-1.8,-0.2l0.3,-2.8zM39.2,6.7l-0.3,2.8l-1.8,-0.2l0.3,-2.8zM19.8,33.8l-2.8,0.6l-0.3,-1.6l2.8,-0.6zM19.8,-2.2l-2.8,0.6l-0.3,-1.6l2.8,-0.6zM25.7,27.0l-0.1,1.1l-0.6,-0.1l0.1,-1.1zM33.1,23.3l-2.1,1.3l-0.6,-1.0l2.1,-1.3zM3.7,9.7l1.3,1.8l-1.1,0.9l-1.3,-1.8zM22.3,27.9l-1.1,1.5l-1,-0.7l1.1,-1.5zM27.3,-0.7l1.5,0.6l-0.4,1.0l-1.5,-0.6zM27.3,35.3l1.5,0.6l-0.4,1.0l-1.5,-0.6zM22.4,18.6l1.3,2.1l-1.7,1.1l-1.3,-2.1zM1.2,24.7l2.4,0.9l-0.6,1.8l-2.4,-0.9zM37.2,24.7l2.4,0.9l-0.6,1.8l-2.4,-0.9zM24.3,27.3l-0.3,2.4l-1.6,-0.2l0.3,-2.4zM1.7,33.1l-1.3,0.2l-0.1,-0.6l1.3,-0.2zM37.7,33.1l-1.3,0.2l-0.1,-0.6l1.3,-0.2zM23.6,13.1l-1.2,1.3l-1.1,-1.0l1.2,-1.3zM30.3,26.1l0.6,2.8l-1.8,0.4l-0.6,-2.8zM34.6,5.7l2.3,0.4l-0.2,1.3l-2.3,-0.4zM-1.4,5.7l2.3,0.4l-0.2,1.3l-2.3,-0.4zM15,0.9l0.4,1.2l-0.8,0.2l-0.4,-1.2zM15,36.9l0.4,1.2l-0.8,0.2l-0.4,-1.2zM13.2,8.7l-2.7,1.1l-0.9,-2.3l2.7,-1.1zM21.4,21.5l0.1,1.2l-0.9,0.1l-0.1,-1.2zM15.2,25.3l-0.8,1.1l-0.7,-0.5l0.8,-1.1zM12.8,18.8l-2.6,1.3l-0.9,-1.8l2.6,-1.3zM8.1,10.0l-0.2,2.8l-2.4,-0.2l0.2,-2.8zM14.7,26.9l0.2,2.0l-1.8,0.2l-0.2,-2.0zM4.2,15.5l-0.5,1.9l-1.4,-0.4l0.5,-1.9zM11.6,27.1l-2.2,1.9l-0.9,-1.1l2.2,-1.9z"/><path fill="#0A6DBA" d="M29,5.8l-0.8,2.7l-1.5,-0.4l0.8,-2.7zM19.9,31.0l-1.3,0.1l-0.1,-0.7l1.3,-0.1zM33.5,8.2l-1.3,1.1l-0.8,-0.9l1.3,-1.1zM1.7,14.5l2.6,0.7l-0.6,2.2l-2.6,-0.7zM37.7,14.5l2.6,0.7l-0.6,2.2l-2.6,-0.7zM33.4,25.2l0,2.4l-1.2,0.0l-0,-2.4zM-2.6,25.2l0,2.4l-1.2,0.0l-0,-2.4zM18.4,17.1l0.2,1.2l-1,0.2l-0.2,-1.2zM3.3,17.1l-0.9,1.7l-0.8,-0.4l0.9,-1.7zM39.3,17.1l-0.9,1.7l-0.8,-0.4l0.9,-1.7zM29.6,15.0l-1.1,0.5l-0.4,-0.8l1.1,-0.5zM33.9,17.9l-0,1.2l-0.9,0l0,-1.2zM14.8,26.4l-1.1,2.3l-1.1,-0.5l1.1,-2.3zM14.3,16.4l-1.5,0.6l-0.4,-1.0l1.5,-0.6zM15.1,23.5l-0.6,3.1l-1.6,-0.3l0.6,-3.1zM7.9,12.3l0.4,1.9l-0.9,0.2l-0.4,-1.9zM3.7,13.3l0.6,1.2l-0.9,0.5l-0.6,-1.2zM26.9,32.5l0.6,3.0l-1.8,0.3l-0.6,-3.0zM26.9,-3.5l0.6,3.0l-1.8,0.3l-0.6,-3.0zM4.6,31.3l-0.4,1.9l-1,-0.2l0.4,-1.9zM0.1,10.2l0.7,1.1l-0.7,0.4l-0.7,-1.1zM36.1,10.2l0.7,1.1l-0.7,0.4l-0.7,-1.1zM9.3,33.8l-0.1,1.0l-0.7,-0.1l0.1,-1.0zM9.3,-2.2l-0.1,1.0l-0.7,-0.1l0.1,-1.0zM33.9,20.9l-0.4,1.2l-0.6,-0.2l0.4,-1.2zM23.4,18.9l1.3,0.6l-0.5,0.9l-1.3,-0.6z"/><path fill="#782C8F" d="M3.2,10.7l-2.2,0.3l-0.2,-1.7l2.2,-0.3zM39.2,10.7l-2.2,0.3l-0.2,-1.7l2.2,-0.3zM28.4,11.0l1.5,1.8l-0.9,0.8l-1.5,-1.8zM15.4,2.5l-2.1,1.7l-0.9,-1.2l2.1,-1.7zM15.4,38.5l-2.1,1.7l-0.9,-1.2l2.1,-1.7zM8.9,16.5l1.1,2.2l-1.4,0.7l-1.1,-2.2zM-0.6,10.4l2.8,1.2l-1,2.4l-2.8,-1.2zM35.4,10.4l2.8,1.2l-1,2.4l-2.8,-1.2zM17.9,1.4l2.6,1.4l-0.9,1.6l-2.6,-1.4zM17.9,37.4l2.6,1.4l-0.9,1.6l-2.6,-1.4zM20.1,27.7l-0.7,1.0l-0.6,-0.4l0.7,-1.0zM7.3,22.3l1.7,0.4l-0.2,1.1l-1.7,-0.4zM13.6,19.9l-1.4,1.6l-1.4,-1.2l1.4,-1.6zM34.4,30.6l-1.2,0.5l-0.4,-1.0l1.2,-0.5zM10.9,27.1l-2.7,0.9l-0.5,-1.5l2.7,-0.9z"/><path fill="#EEAD22" d="M6.7,19.1l0.3,1.2l-0.9,0.2l-0.3,-1.2zM4.8,19.2l-0.5,1.1l-0.9,-0.4l0.5,-1.1zM20.6,7.9l-0.3,1.4l-1.1,-0.2l0.3,-1.4zM31.8,34.1l-1.3,1.1l-0.5,-0.6l1.3,-1.1zM31.8,-1.9l-1.3,1.1l-0.5,-0.6l1.3,-1.1zM23.3,29.3l0.9,0.6l-0.5,0.7l-0.9,-0.6zM32.6,22.0l1.3,0.7l-0.4,0.9l-1.3,-0.7zM29.7,4.0l1.7,2.0l-1.5,1.3l-1.7,-2.0zM3.6,12.3l-2.5,0.4l-0.3,-2.0l2.5,-0.4zM39.6,12.3l-2.5,0.4l-0.3,-2.0l2.5,-0.4zM17.6,12.0l-0.1,2.4l-1.8,-0.1l0.1,-2.4zM18.5,8.4l-2.3,0.6l-0.3,-1.3l2.3,-0.6zM17.2,14.4l0.7,1.0l-0.8,0.5l-0.7,-1.0zM36.7,34.6l-0.4,2.0l-1.2,-0.3l0.4,-2.0zM36.7,-1.4l-0.4,2.0l-1.2,-0.3l0.4,-2.0zM0.7,34.6l-0.4,2.0l-1.2,-0.3l0.4,-2.0zM0.7,-1.4l-0.4,2.0l-1.2,-0.3l0.4,-2.0zM17,8.2l-1.4,0.7l-0.4,-0.8l1.4,-0.7z"/><path fill="#FFFFFF" d="M19,8.4l3.1,0.1l-0.1,2.2l-3.1,-0.1zM1.7,10.1l0.5,0.9l-0.6,0.3l-0.5,-0.9zM37.7,10.1l0.5,0.9l-0.6,0.3l-0.5,-0.9z"/><path fill="#78AB30" d="M27.5,34.2l-0.3,1.2l-0.9,-0.2l0.3,-1.2zM27.5,-1.8l-0.3,1.2l-0.9,-0.2l0.3,-1.2zM7.6,16.6l-2.6,1.5l-0.8,-1.4l2.6,-1.5z"/></pattern><pattern id="tx5" width="40" height="40" patternUnits="userSpaceOnUse"><rect width="40" height="40" fill="#0AF5F8"/><path fill="#0AF5F8" d="M17.6,36.3l2.8,1.1l-0.7,1.9l-2.8,-1.1zM17.6,-3.7l2.8,1.1l-0.7,1.9l-2.8,-1.1zM37.5,25.3l2.3,3.2l-2.1,1.5l-2.3,-3.2zM-2.5,25.3l2.3,3.2l-2.1,1.5l-2.3,-3.2zM27.7,12.4l0.1,2.1l-1.3,0.1l-0.1,-2.1zM3.8,6.4l-2.8,2.7l-1,-1.1l2.8,-2.7zM43.8,6.4l-2.8,2.7l-1,-1.1l2.8,-2.7zM31.8,32.1l-3.6,0.6l-0.2,-1.1l3.6,-0.6zM15.7,24.8l-3.7,0.9l-0.4,-1.6l3.7,-0.9zM35.8,0.0l2.4,1.0l-0.7,1.5l-2.4,-1.0zM35.8,40.0l2.4,1.0l-0.7,1.5l-2.4,-1.0zM-4.2,0.0l2.4,1.0l-0.7,1.5l-2.4,-1.0zM-4.2,40.0l2.4,1.0l-0.7,1.5l-2.4,-1.0zM35.3,12.0l-2.2,1.1l-0.8,-1.5l2.2,-1.1zM28.8,18.3l-2.8,2.1l-1.2,-1.6l2.8,-2.1zM34.8,37.0l-1.6,2.0l-1.1,-0.9l1.6,-2.0zM34.8,-3.0l-1.6,2.0l-1.1,-0.9l1.6,-2.0zM2.3,17.7l-0.6,2.2l-1.2,-0.3l0.6,-2.2zM42.3,17.7l-0.6,2.2l-1.2,-0.3l0.6,-2.2zM36.3,-1.2l0.7,2.2l-0.9,0.3l-0.7,-2.2zM36.3,38.8l0.7,2.2l-0.9,0.3l-0.7,-2.2zM32.7,14.4l1.2,0.4l-0.2,0.7l-1.2,-0.4zM23.5,24.8l-1.5,0.5l-0.3,-0.8l1.5,-0.5zM26.1,17.7l-1.7,1.0l-0.6,-1.1l1.7,-1.0zM20.8,8.8l2.7,2.7l-1.6,1.7l-2.7,-2.7zM27.1,37.7l3.9,0.6l-0.4,2.3l-3.9,-0.6zM27.1,-2.3l3.9,0.6l-0.4,2.3l-3.9,-0.6zM26.9,18.9l-1.4,3.5l-1.8,-0.7l1.4,-3.5zM15.7,29.0l-0.8,1.5l-0.9,-0.5l0.8,-1.5zM26.4,2.8l1.1,1.1l-0.6,0.6l-1.1,-1.1zM4.8,37.0l2.9,1.1l-0.4,1.1l-2.9,-1.1zM4.8,-3.0l2.9,1.1l-0.4,1.1l-2.9,-1.1zM12.5,23.6l2,0.9l-0.4,0.9l-2,-0.9zM0.3,34.8l2.5,0.0l-0,1.5l-2.5,0zM40.3,34.8l2.5,0.0l-0,1.5l-2.5,0zM5.7,13.8l2,1.0l-0.7,1.3l-2,-1.0zM11.4,5.4l0.1,2.0l-0.8,0.0l-0.1,-2.0zM38.9,13.7l-2,3.3l-1.9,-1.1l2,-3.3zM-1.1,13.7l-2,3.3l-1.9,-1.1l2,-3.3z"/><path fill="#0A6DBA" d="M9,20.5l2.2,1.8l-0.5,0.7l-2.2,-1.8zM36.1,29.8l1.5,0.7l-0.4,0.9l-1.5,-0.7zM7.1,5.3l-0.4,1.3l-0.6,-0.2l0.4,-1.3zM18.6,27.7l1.4,0.1l-0.1,0.9l-1.4,-0.1zM11.9,12.0l1.5,0.8l-0.3,0.5l-1.5,-0.8zM9.9,21.8l0.9,3.4l-1.6,0.4l-0.9,-3.4zM7.9,13.8l-1.5,3.7l-2.5,-1.1l1.5,-3.7zM14.7,3.7l-1.8,0.8l-0.5,-1.1l1.8,-0.8zM33.2,30.6l-2.3,2.2l-1.2,-1.3l2.3,-2.2zM29.5,10.6l-1.4,2.1l-1.3,-0.9l1.4,-2.1zM38.5,24.7l-0.4,2.8l-0.9,-0.1l0.4,-2.8zM-1.5,24.7l-0.4,2.8l-0.9,-0.1l0.4,-2.8zM27.7,29.4l-3.1,1.7l-0.7,-1.4l3.1,-1.7zM24.6,7.7l3.1,0.4l-0.2,1.7l-3.1,-0.4zM8.6,1.5l1.3,0.8l-0.4,0.6l-1.3,-0.8zM8.6,41.5l1.3,0.8l-0.4,0.6l-1.3,-0.8zM14.3,21.1l1,3.8l-2.4,0.6l-1,-3.8zM17.5,7.9l0.7,1.9l-1.3,0.5l-0.7,-1.9zM13.2,38.0l0.2,2.6l-1.1,0.1l-0.2,-2.6zM13.2,-2.0l0.2,2.6l-1.1,0.1l-0.2,-2.6zM6.7,38.5l0.2,2.0l-1.1,0.1l-0.2,-2.0zM6.7,-1.5l0.2,2.0l-1.1,0.1l-0.2,-2.0zM13.5,10.4l1.1,2.4l-1.2,0.6l-1.1,-2.4zM22.6,19.0l-0.6,2.0l-0.7,-0.2l0.6,-2.0zM35.8,4.7l2.5,1.4l-0.7,1.2l-2.5,-1.4zM-4.2,4.7l2.5,1.4l-0.7,1.2l-2.5,-1.4zM29.6,34.3l0.9,1.3l-0.6,0.4l-0.9,-1.3zM20.9,8.7l3,1.3l-0.7,1.5l-3,-1.3zM34.6,23.9l2.3,0.7l-0.4,1.1l-2.3,-0.7zM39.2,3.7l-1.6,2.6l-1.1,-0.7l1.6,-2.6zM-0.8,3.7l-1.6,2.6l-1.1,-0.7l1.6,-2.6z"/><path fill="#782C8F" d="M31.8,32.5l-3.7,0.9l-0.6,-2.2l3.7,-0.9zM4.1,-1.6l2.8,2.3l-0.9,1.1l-2.8,-2.3zM4.1,38.4l2.8,2.3l-0.9,1.1l-2.8,-2.3zM34.9,-0.7l-0.8,3.3l-1.5,-0.4l0.8,-3.3zM34.9,39.3l-0.8,3.3l-1.5,-0.4l0.8,-3.3zM40.4,5.8l-0.1,1.3l-0.9,-0.1l0.1,-1.3zM0.4,5.8l-0.1,1.3l-0.9,-0.1l0.1,-1.3zM38.2,23.4l0.7,3.3l-1.1,0.2l-0.7,-3.3zM-1.8,23.4l0.7,3.3l-1.1,0.2l-0.7,-3.3zM7.3,29.6l0.7,2.7l-1.6,0.4l-0.7,-2.7zM29.8,24.3l2.8,1.6l-0.5,0.9l-2.8,-1.6zM26.3,14.1l-0.3,1.6l-0.8,-0.2l0.3,-1.6zM24.1,28.8l0.9,1.2l-0.7,0.5l-0.9,-1.2zM24.7,1.7l-1.8,0.5l-0.2,-0.9l1.8,-0.5zM24.7,41.7l-1.8,0.5l-0.2,-0.9l1.8,-0.5zM25.5,17.2l1.3,3.5l-1.6,0.6l-1.3,-3.5zM16.3,9.7l3.1,1.5l-1,2.0l-3.1,-1.5zM4.5,8.2l-1.7,3.0l-1.9,-1.1l1.7,-3.0zM44.5,8.2l-1.7,3.0l-1.9,-1.1l1.7,-3.0zM0.7,3.8l2.2,0.4l-0.1,0.7l-2.2,-0.4zM40.7,3.8l2.2,0.4l-0.1,0.7l-2.2,-0.4zM20.5,36.8l-1.3,1.8l-0.6,-0.4l1.3,-1.8zM20.5,-3.2l-1.3,1.8l-0.6,-0.4l1.3,-1.8zM21.8,29.1l2.3,0.2l-0.1,0.8l-2.3,-0.2zM6,7.6l1.2,0.3l-0.1,0.5l-1.2,-0.3z"/><path fill="#EEAD22" d="M38.9,13.5l-1.7,1.4l-0.7,-0.9l1.7,-1.4zM-1.1,13.5l-1.7,1.4l-0.7,-0.9l1.7,-1.4zM28.7,37.2l-0.4,3.9l-2,-0.2l0.4,-3.9zM28.7,-2.8l-0.4,3.9l-2,-0.2l0.4,-3.9zM23,-0.9l-0.8,3.3l-1.5,-0.4l0.8,-3.3zM23,39.1l-0.8,3.3l-1.5,-0.4l0.8,-3.3zM9.7,11.5l-3.1,1.7l-0.6,-1.0l3.1,-1.7zM7.5,24.0l3.5,1.6l-0.9,2.1l-3.5,-1.6zM20.7,12.0l-2.2,2.6l-0.8,-0.7l2.2,-2.6zM26.8,31.0l-0.1,2.4l-1.5,-0.1l0.1,-2.4z"/><path fill="#FFFFFF" d="M36.8,10.5l-2.1,3.3l-1.7,-1.1l2.1,-3.3zM17.8,17.8l2,2.6l-1.3,1.0l-2,-2.6zM37.6,23.6l2.2,0.0l-0,1.4l-2.2,0zM-2.4,23.6l2.2,0.0l-0,1.4l-2.2,0zM37.2,22.9l0,1.9l-1.3,0.0l-0,-1.9zM26.6,31.9l0.7,1.4l-0.8,0.4l-0.7,-1.4z"/><path fill="#0AF5F8" d="M1.7,34.9l2.5,0.4l-0.3,1.7l-2.5,-0.4zM41.7,34.9l2.5,0.4l-0.3,1.7l-2.5,-0.4zM2.1,15.2l0.4,1.3l-0.5,0.2l-0.4,-1.3zM42.1,15.2l0.4,1.3l-0.5,0.2l-0.4,-1.3zM30,32.2l2,0.5l-0.2,0.7l-2,-0.5zM2.1,16.3l2.8,0.5l-0.2,1.1l-2.8,-0.5zM42.1,16.3l2.8,0.5l-0.2,1.1l-2.8,-0.5zM5.4,9.6l3,0.6l-0.3,1.3l-3,-0.6zM13,35.3l0.5,2.4l-1.2,0.2l-0.5,-2.4zM13,-4.7l0.5,2.4l-1.2,0.2l-0.5,-2.4zM15.6,12.0l0.5,1.2l-0.5,0.2l-0.5,-1.2zM25.8,29.8l-0.4,1.8l-0.6,-0.1l0.4,-1.8zM3.7,21.2l2.4,1.6l-0.6,0.9l-2.4,-1.6zM27.1,32.6l2.1,1.4l-0.5,0.7l-2.1,-1.4zM5.1,5.4l-2.1,2.0l-0.7,-0.7l2.1,-2.0zM45.1,5.4l-2.1,2.0l-0.7,-0.7l2.1,-2.0zM26.9,1.9l0.1,2.0l-0.7,0.0l-0.1,-2.0zM26.9,41.9l0.1,2.0l-0.7,0.0l-0.1,-2.0zM18.9,10.2l-2.5,2.1l-1,-1.1l2.5,-2.1zM19.4,38.0l3,1.1l-0.4,1.0l-3,-1.1zM19.4,-2.0l3,1.1l-0.4,1.0l-3,-1.1zM21.8,9.2l2.5,1.1l-0.7,1.5l-2.5,-1.1z"/><path fill="#0A6DBA" d="M38.7,13.4l1.3,1.6l-0.8,0.6l-1.3,-1.6zM-1.3,13.4l1.3,1.6l-0.8,0.6l-1.3,-1.6zM1.8,19.7l1.8,3.5l-1.8,0.9l-1.8,-3.5zM41.8,19.7l1.8,3.5l-1.8,0.9l-1.8,-3.5zM2.8,-0.4l-0.1,3.9l-1.5,0l0.1,-3.9zM2.8,39.6l-0.1,3.9l-1.5,0l0.1,-3.9zM42.8,-0.4l-0.1,3.9l-1.5,0l0.1,-3.9zM42.8,39.6l-0.1,3.9l-1.5,0l0.1,-3.9zM21.7,2.4l-0.3,2.1l-0.7,-0.1l0.3,-2.1zM24.5,15.5l-2.8,0.8l-0.5,-1.7l2.8,-0.8zM17.7,32.1l1,1.5l-0.5,0.4l-1,-1.5zM14,29.3l-1.3,2.4l-1.6,-0.8l1.3,-2.4zM-0.9,21.9l3.4,1.0l-0.6,2.0l-3.4,-1.0zM39.1,21.9l3.4,1.0l-0.6,2.0l-3.4,-1.0zM8.3,28.3l-2,1.5l-1,-1.3l2,-1.5zM34.8,14.9l1.5,1.1l-0.4,0.6l-1.5,-1.1zM13.9,29.1l1.3,1.3l-0.6,0.6l-1.3,-1.3zM30.3,16.7l-3.8,0.9l-0.6,-2.4l3.8,-0.9zM30.2,27.3l1.3,1.6l-1.1,0.9l-1.3,-1.6zM8.9,24.8l-1.3,3.5l-2.3,-0.9l1.3,-3.5zM4.6,26.0l1.1,2.5l-1.5,0.6l-1.1,-2.5zM18.4,25.5l1,3.1l-1,0.3l-1,-3.1zM16.3,3.9l-1.6,2.4l-1.1,-0.7l1.6,-2.4zM39.3,37.5l-0.9,1.1l-0.7,-0.5l0.9,-1.1zM39.3,-2.5l-0.9,1.1l-0.7,-0.5l0.9,-1.1zM-0.7,37.5l-0.9,1.1l-0.7,-0.5l0.9,-1.1zM-0.7,-2.5l-0.9,1.1l-0.7,-0.5l0.9,-1.1zM5.9,19.5l-2.1,0.6l-0.3,-1.3l2.1,-0.6zM12.9,18.6l-0.7,3.1l-1.9,-0.5l0.7,-3.1zM13.6,32.5l0.7,2.6l-0.8,0.2l-0.7,-2.6zM16,20.9l-1.3,0.1l-0,-0.5l1.3,-0.1zM20,3.0l-1.1,1.6l-1.1,-0.7l1.1,-1.6zM3.4,14.3l-1,3.2l-1.5,-0.5l1,-3.2zM43.4,14.3l-1,3.2l-1.5,-0.5l1,-3.2zM36.9,33.9l-3.8,0.0l-0,-1.7l3.8,0zM29,-1.3l-0,3.4l-1.6,0l0,-3.4zM29,38.7l-0,3.4l-1.6,0l0,-3.4zM2.2,12.3l-2.4,0.6l-0.3,-1.3l2.4,-0.6zM42.2,12.3l-2.4,0.6l-0.3,-1.3l2.4,-0.6zM23.2,29.8l-3.8,0.1l-0.1,-2.6l3.8,-0.1zM7.4,37.0l-1,1.0l-0.5,-0.5l1,-1.0z"/><path fill="#782C8F" d="M29.7,6.9l-1.8,0.3l-0.2,-1.0l1.8,-0.3zM17.8,38.8l-0.9,0.8l-0.3,-0.3l0.9,-0.8zM17.8,-1.2l-0.9,0.8l-0.3,-0.3l0.9,-0.8zM1.1,7.3l1.9,0.6l-0.3,0.9l-1.9,-0.6zM41.1,7.3l1.9,0.6l-0.3,0.9l-1.9,-0.6zM24.9,18.4l-3.5,0.5l-0.3,-1.9l3.5,-0.5zM26.8,9.3l3.2,1.4l-0.6,1.4l-3.2,-1.4zM22.2,0.4l0.6,1.2l-0.4,0.2l-0.6,-1.2zM22.2,40.4l0.6,1.2l-0.4,0.2l-0.6,-1.2zM35.9,19.7l3.7,1.3l-0.7,2.0l-3.7,-1.3zM-4.1,19.7l3.7,1.3l-0.7,2.0l-3.7,-1.3zM17.8,0.3l-0.9,3.8l-1.2,-0.3l0.9,-3.8zM17.8,40.3l-0.9,3.8l-1.2,-0.3l0.9,-3.8zM32.5,14.5l-0.3,1.2l-0.6,-0.2l0.3,-1.2zM28,20.0l-1,3.3l-1.5,-0.4l1,-3.3zM20.8,10.6l0.6,1.3l-0.4,0.2l-0.6,-1.3zM4.7,30.6l-2.9,1.0l-0.7,-2.0l2.9,-1.0zM44.7,30.6l-2.9,1.0l-0.7,-2.0l2.9,-1.0zM34.2,28.1l-0.2,2.9l-1.1,-0.1l0.2,-2.9zM26.3,26.0l0.2,3.2l-1.1,0.1l-0.2,-3.2zM34.4,33.0l-3.2,0.4l-0.3,-2.1l3.2,-0.4zM38.2,3.5l1.2,0.9l-0.3,0.4l-1.2,-0.9zM-1.8,3.5l1.2,0.9l-0.3,0.4l-1.2,-0.9zM-0.3,29.6l1.6,1.6l-0.5,0.5l-1.6,-1.6zM39.7,29.6l1.6,1.6l-0.5,0.5l-1.6,-1.6zM37.4,6.6l-3.4,0.3l-0.1,-1.6l3.4,-0.3zM-2.6,6.6l-3.4,0.3l-0.1,-1.6l3.4,-0.3zM4.9,5.5l0.9,2.3l-0.8,0.3l-0.9,-2.3zM3.7,8.0l3.8,0.4l-0.2,2.5l-3.8,-0.4zM16.3,15.3l-2.5,0.3l-0.1,-1.3l2.5,-0.3zM31.6,0.9l0.9,2.4l-0.8,0.3l-0.9,-2.4zM31.6,40.9l0.9,2.4l-0.8,0.3l-0.9,-2.4z"/><path fill="#EEAD22" d="M24.3,33.4l-0.2,1.8l-0.5,-0.1l0.2,-1.8zM38,23.5l0.8,1.7l-0.8,0.4l-0.8,-1.7zM-2,23.5l0.8,1.7l-0.8,0.4l-0.8,-1.7zM20.4,1.0l-1.1,1.3l-0.4,-0.4l1.1,-1.3zM20.4,41.0l-1.1,1.3l-0.4,-0.4l1.1,-1.3zM9.2,32.0l-1.9,0.9l-0.5,-1.1l1.9,-0.9zM8.2,38.4l2.7,0.0l-0,1.2l-2.7,0zM8.2,-1.6l2.7,0.0l-0,1.2l-2.7,0zM9.6,12.4l-1.8,0.6l-0.3,-1.0l1.8,-0.6zM35.8,28.0l-0.2,2.4l-1.1,-0.1l0.2,-2.4zM11.4,9.6l2.4,1.6l-1.1,1.7l-2.4,-1.6zM40.3,13.3l-3.5,0.8l-0.5,-1.9l3.5,-0.8zM0.3,13.3l-3.5,0.8l-0.5,-1.9l3.5,-0.8zM26.4,25.2l-1,0.9l-0.3,-0.3l1,-0.9zM36.1,8.2l-1.2,0.2l-0.1,-0.8l1.2,-0.2z"/><path fill="#FFFFFF" d="M32.6,32.7l2.6,1.3l-0.6,1.2l-2.6,-1.3zM21.4,13.5l1.7,3.4l-1.2,0.6l-1.7,-3.4zM8.4,15.8l1.2,1.5l-0.7,0.6l-1.2,-1.5z"/><path fill="#0AF5F8" d="M14.4,18.3l0.4,2.8l-1.1,0.2l-0.4,-2.8zM3.4,12.7l1.1,1.2l-0.8,0.7l-1.1,-1.2zM0.6,32.0l2.6,0.3l-0.2,1.7l-2.6,-0.3zM40.6,32.0l2.6,0.3l-0.2,1.7l-2.6,-0.3zM38.5,13.7l2,2.2l-1.3,1.2l-2,-2.2zM-1.5,13.7l2,2.2l-1.3,1.2l-2,-2.2zM9.7,28.3l-3.2,0.0l-0,-1.1l3.2,0zM8.1,3.7l-2.2,1.1l-0.6,-1.2l2.2,-1.1zM27.8,2.7l1.2,2.5l-1,0.5l-1.2,-2.5zM30,3.5l-0.9,3.2l-1.4,-0.4l0.9,-3.2zM32.7,24.8l1.7,1.5l-0.8,1.0l-1.7,-1.5zM0.8,29.8l0.3,1.5l-0.7,0.1l-0.3,-1.5zM40.8,29.8l0.3,1.5l-0.7,0.1l-0.3,-1.5zM35.2,38.7l0.8,1.5l-0.5,0.3l-0.8,-1.5zM35.2,-1.3l0.8,1.5l-0.5,0.3l-0.8,-1.5zM14.8,2.6l0.4,1.8l-0.5,0.1l-0.4,-1.8zM23.4,14.1l1.6,0.0l-0,0.7l-1.6,0zM17.7,4.4l-1.2,0.2l-0.1,-0.6l1.2,-0.2zM24.7,28.9l0.4,2.5l-1.6,0.2l-0.4,-2.5zM26.8,23.0l0.4,1.4l-0.8,0.2l-0.4,-1.4zM26.7,8.7l1.2,1.6l-0.6,0.4l-1.2,-1.6zM30.7,35.7l-0.5,1.3l-0.4,-0.2l0.5,-1.3zM20.5,12.7l-2.8,1.0l-0.4,-1.0l2.8,-1.0z"/><path fill="#0A6DBA" d="M16.7,36.9l-1.8,1.0l-0.5,-0.9l1.8,-1.0zM16.7,-3.1l-1.8,1.0l-0.5,-0.9l1.8,-1.0zM32.3,29.0l-0.7,1.8l-1.1,-0.5l0.7,-1.8zM25.6,8.8l0.4,1.9l-1.2,0.2l-0.4,-1.9zM27.1,34.5l-1.4,2.9l-0.9,-0.5l1.4,-2.9zM37.2,7.7l1.4,0.4l-0.2,0.6l-1.4,-0.4zM-2.8,7.7l1.4,0.4l-0.2,0.6l-1.4,-0.4zM25.1,25.2l0,1.7l-0.6,0.0l-0,-1.7zM21.9,34.5l0.7,2.7l-1.5,0.4l-0.7,-2.7zM13.4,3.1l0.4,1.3l-0.8,0.2l-0.4,-1.3zM13,5.0l-2.6,0.4l-0.3,-1.7l2.6,-0.4zM3.5,30.2l1.5,0.4l-0.2,0.8l-1.5,-0.4zM9.9,19.2l-1.5,3.4l-1.6,-0.7l1.5,-3.4zM30.9,9.3l-0.8,2.4l-1.4,-0.5l0.8,-2.4zM-1.5,30.3l3.3,0.5l-0.3,2.1l-3.3,-0.5zM38.5,30.3l3.3,0.5l-0.3,2.1l-3.3,-0.5zM20.2,4.9l-1.6,0.8l-0.5,-1.1l1.6,-0.8zM1.3,24.9l-0,2.8l-1.7,0l0,-2.8zM41.3,24.9l-0,2.8l-1.7,0l0,-2.8zM13.5,29.1l-1.6,1.5l-0.8,-0.9l1.6,-1.5zM26.9,1.5l1.7,0.9l-0.5,1.1l-1.7,-0.9zM26.9,41.5l1.7,0.9l-0.5,1.1l-1.7,-0.9zM30.1,15.8l-1.6,0.5l-0.4,-1.1l1.6,-0.5zM32.7,27.3l-2.7,2.4l-1.4,-1.5l2.7,-2.4zM33.5,30.2l1.9,0.8l-0.4,1.1l-1.9,-0.8zM1.6,24.4l3.7,0.5l-0.3,2.1l-3.7,-0.5zM41.6,24.4l3.7,0.5l-0.3,2.1l-3.7,-0.5zM19,16.9l0.3,1.6l-0.7,0.1l-0.3,-1.6zM9.7,27.1l-2.3,1.0l-0.4,-0.8l2.3,-1.0zM26.5,16.5l2.7,2.4l-0.8,0.9l-2.7,-2.4zM11.2,31.6l-0.1,2.6l-1.1,0l0.1,-2.6zM5.2,15.6l1.5,3.3l-1.4,0.6l-1.5,-3.3zM26,0.1l1.2,2.1l-0.8,0.5l-1.2,-2.1zM26,40.1l1.2,2.1l-0.8,0.5l-1.2,-2.1zM33.5,37.7l-3.5,1.7l-0.8,-1.6l3.5,-1.7zM33.5,-2.3l-3.5,1.7l-0.8,-1.6l3.5,-1.7z"/><path fill="#782C8F" d="M4.1,27.3l2.2,1.9l-1,1.2l-2.2,-1.9zM19.9,34.9l1.9,1.6l-0.6,0.7l-1.9,-1.6zM17.1,21.1l2.5,2.8l-1,0.9l-2.5,-2.8zM33.4,10.9l0.6,1.4l-0.5,0.3l-0.6,-1.4zM14.8,2.9l-0.8,2.9l-1.8,-0.5l0.8,-2.9zM19.3,32.9l1.9,3.3l-1.4,0.8l-1.9,-3.3zM30.3,28.4l0.7,1.0l-0.7,0.5l-0.7,-1.0zM19.4,27.0l2.6,1.4l-0.9,1.6l-2.6,-1.4zM19.8,20.7l-0.9,0.8l-0.5,-0.6l0.9,-0.8zM34.9,23.4l-1.2,3.0l-1.9,-0.7l1.2,-3.0zM7.5,15.4l2.5,0.2l-0.1,1.1l-2.5,-0.2zM31,6.1l1.1,2.5l-1.6,0.7l-1.1,-2.5zM22.5,6.1l2.4,0.3l-0.2,1.4l-2.4,-0.3zM22.4,34.2l-3.2,1.6l-0.9,-1.7l3.2,-1.6z"/><path fill="#EEAD22" d="M7.6,4.9l-0.3,1.3l-0.8,-0.2l0.3,-1.3zM3.9,29.8l1.9,0.0l-0,0.8l-1.9,0zM9.6,23.7l2.8,1.1l-0.7,1.9l-2.8,-1.1zM3.5,12.0l-1.3,1.0l-0.7,-0.9l1.3,-1.0zM43.5,12.0l-1.3,1.0l-0.7,-0.9l1.3,-1.0zM19.1,3.6l2.4,0.2l-0.1,0.9l-2.4,-0.2zM11.8,31.7l2.6,0.4l-0.2,0.9l-2.6,-0.4zM19.6,15.8l-0,3.8l-2,0l0,-3.8zM4.5,15.6l2.2,0.9l-0.6,1.5l-2.2,-0.9zM26.5,14.8l1.7,3.1l-1.8,1.0l-1.7,-3.1zM37.8,31.0l-1.1,2.1l-1.2,-0.6l1.1,-2.1zM-2.2,31.0l-1.1,2.1l-1.2,-0.6l1.1,-2.1zM28.2,16.9l1.2,1.2l-0.5,0.5l-1.2,-1.2zM12.3,36.7l1.4,0.0l-0,0.5l-1.4,0zM24.6,20.6l0.3,1.6l-0.8,0.1l-0.3,-1.6zM10,10.1l-0.4,3.5l-1.1,-0.1l0.4,-3.5zM10.8,2.8l2.1,0.6l-0.4,1.4l-2.1,-0.6zM23.1,16.4l0.9,2.9l-1.6,0.5l-0.9,-2.9z"/><path fill="#FFFFFF" d="M3,1.7l3,0.6l-0.2,1.0l-3,-0.6zM3,41.7l3,0.6l-0.2,1.0l-3,-0.6zM22.7,17.9l-2,0.2l-0.1,-1.0l2,-0.2zM4.8,28.2l2.1,2.5l-1.2,1.0l-2.1,-2.5z"/><path fill="#0AF5F8" d="M17.3,36.4l-0.9,2.2l-0.9,-0.3l0.9,-2.2zM17.3,-3.6l-0.9,2.2l-0.9,-0.3l0.9,-2.2zM19.2,9.7l2,1.7l-0.6,0.6l-2,-1.7zM38.6,11.9l1.8,0.6l-0.2,0.6l-1.8,-0.6zM-1.4,11.9l1.8,0.6l-0.2,0.6l-1.8,-0.6zM11.3,1.8l0,1.7l-1,0.0l-0,-1.7zM11.3,41.8l0,1.7l-1,0.0l-0,-1.7zM14.2,33.3l-2.4,2.7l-1.6,-1.4l2.4,-2.7zM0,22.5l1.1,1.5l-0.5,0.3l-1.1,-1.5zM40,22.5l1.1,1.5l-0.5,0.3l-1.1,-1.5zM9.6,25.9l-1.9,2.1l-0.9,-0.8l1.9,-2.1zM38.4,4.2l-1.9,2.1l-1.2,-1.1l1.9,-2.1zM-1.6,4.2l-1.9,2.1l-1.2,-1.1l1.9,-2.1zM11.7,34.6l0.2,2.4l-1,0.1l-0.2,-2.4zM11.8,28.8l2.7,2.7l-1.2,1.2l-2.7,-2.7zM32.3,3.1l-0.3,2.4l-1.5,-0.2l0.3,-2.4zM12.2,39.4l-2.7,1.8l-1.1,-1.6l2.7,-1.8zM12.2,-0.6l-2.7,1.8l-1.1,-1.6l2.7,-1.8zM11.2,16.7l3.3,1.7l-1.1,2.2l-3.3,-1.7zM17.9,3.5l-0.7,1.7l-1.2,-0.5l0.7,-1.7zM4.8,15.5l0.6,1.1l-0.6,0.3l-0.6,-1.1zM13.1,18.8l0.1,1.8l-1.1,0.1l-0.1,-1.8zM4.7,34.9l-1.7,2.2l-0.9,-0.7l1.7,-2.2zM44.7,34.9l-1.7,2.2l-0.9,-0.7l1.7,-2.2zM35.7,35.9l0.7,3.0l-1,0.2l-0.7,-3.0zM35.7,-4.1l0.7,3.0l-1,0.2l-0.7,-3.0zM19.8,35.4l-2.9,2.3l-1.2,-1.4l2.9,-2.3zM19.8,-4.6l-2.9,2.3l-1.2,-1.4l2.9,-2.3zM37.8,33.1l1.5,2.1l-1.3,1.0l-1.5,-2.1zM-2.2,33.1l1.5,2.1l-1.3,1.0l-1.5,-2.1zM9.5,24.9l3.7,0.5l-0.3,2.1l-3.7,-0.5zM36.2,3.6l-1.2,1.2l-0.7,-0.7l1.2,-1.2zM1.8,36.0l1,3.7l-1.6,0.5l-1,-3.7zM1.8,-4.0l1,3.7l-1.6,0.5l-1,-3.7zM41.8,36.0l1,3.7l-1.6,0.5l-1,-3.7zM41.8,-4.0l1,3.7l-1.6,0.5l-1,-3.7zM18,7.2l1.8,2.4l-1.1,0.8l-1.8,-2.4zM39.5,19.7l-0.9,3.2l-1.6,-0.5l0.9,-3.2zM-0.5,19.7l-0.9,3.2l-1.6,-0.5l0.9,-3.2z"/><path fill="#0A6DBA" d="M25.6,17.9l-1.7,1.1l-0.3,-0.5l1.7,-1.1zM18.3,4.0l0.6,1.3l-0.5,0.2l-0.6,-1.3zM12.5,23.3l2.2,2.9l-1.8,1.3l-2.2,-2.9zM33.8,23.9l2.6,1.7l-0.6,0.9l-2.6,-1.7zM22.4,2.1l0.3,3.3l-1.4,0.1l-0.3,-3.3zM22.4,42.1l0.3,3.3l-1.4,0.1l-0.3,-3.3zM34.9,11.2l-1.3,2.4l-1.3,-0.7l1.3,-2.4zM10.2,17.5l2.6,1.2l-0.7,1.5l-2.6,-1.2zM21.7,7.2l1.5,0.1l-0.1,1.0l-1.5,-0.1zM11.8,0.2l0.6,1.9l-0.7,0.2l-0.6,-1.9zM11.8,40.2l0.6,1.9l-0.7,0.2l-0.6,-1.9zM7,25.2l-0.4,3.2l-1.6,-0.2l0.4,-3.2zM28.8,13.9l-1.5,2.5l-1.4,-0.8l1.5,-2.5zM38.3,37.3l-2.5,2.2l-1,-1.1l2.5,-2.2zM38.3,-2.7l-2.5,2.2l-1,-1.1l2.5,-2.2zM-1.7,37.3l-2.5,2.2l-1,-1.1l2.5,-2.2zM-1.7,-2.7l-2.5,2.2l-1,-1.1l2.5,-2.2zM28.6,26.4l-3.6,0.3l-0.2,-2.1l3.6,-0.3zM21.2,26.6l-2.8,0.4l-0.1,-0.9l2.8,-0.4zM19.9,0.7l1.1,1.3l-0.9,0.7l-1.1,-1.3zM19.9,40.7l1.1,1.3l-0.9,0.7l-1.1,-1.3zM34.2,9.9l-2.9,1.0l-0.5,-1.5l2.9,-1.0zM12.2,9.6l2.1,0.8l-0.2,0.6l-2.1,-0.8zM24.9,18.3l1,1.1l-0.6,0.5l-1,-1.1zM13.7,37.5l-1.9,1.6l-0.7,-0.8l1.9,-1.6zM13.7,-2.5l-1.9,1.6l-0.7,-0.8l1.9,-1.6zM26,25.8l2.4,1.2l-0.5,1.1l-2.4,-1.2zM13.9,5.8l0.7,1.7l-0.9,0.4l-0.7,-1.7zM18.1,38.4l-2.8,0.6l-0.4,-1.7l2.8,-0.6zM18.1,-1.6l-2.8,0.6l-0.4,-1.7l2.8,-0.6zM32.2,20.0l-1.6,0.4l-0.2,-1.1l1.6,-0.4zM24.9,18.8l0.2,2.6l-1.5,0.1l-0.2,-2.6zM16.7,25.0l2.9,2.4l-1.4,1.7l-2.9,-2.4zM21.7,25.6l1.8,0.7l-0.2,0.6l-1.8,-0.7zM17.8,17.9l-0.5,2.2l-1.3,-0.3l0.5,-2.2zM3.4,3.9l3,1.3l-0.6,1.3l-3,-1.3z"/><path fill="#782C8F" d="M11.3,20.2l-2.7,0.9l-0.4,-1.3l2.7,-0.9zM13.8,13.8l-2.9,0.6l-0.2,-1.0l2.9,-0.6zM38.9,24.1l-0.6,1.2l-0.6,-0.3l0.6,-1.2zM-1.1,24.1l-0.6,1.2l-0.6,-0.3l0.6,-1.2zM3,29.3l-0.1,1.8l-0.9,-0.1l0.1,-1.8zM43,29.3l-0.1,1.8l-0.9,-0.1l0.1,-1.8zM31.9,17.0l-0.8,3.7l-1.8,-0.4l0.8,-3.7zM22.2,29.8l0.2,3.6l-1.3,0.1l-0.2,-3.6zM26.5,36.9l3.4,0.7l-0.4,2.1l-3.4,-0.7zM26.5,-3.1l3.4,0.7l-0.4,2.1l-3.4,-0.7zM18.4,27.8l1.9,1.5l-0.6,0.7l-1.9,-1.5zM27.3,7.2l2.4,0.2l-0.1,0.9l-2.4,-0.2zM13.6,9.7l-0.7,1.1l-0.3,-0.2l0.7,-1.1zM29.7,4.2l-1.3,3.3l-1.4,-0.5l1.3,-3.3zM14,10.0l-1,1.9l-1.3,-0.7l1,-1.9zM25.5,40.0l-2.9,0.1l-0.1,-1.9l2.9,-0.1zM25.5,0l-2.9,0.1l-0.1,-1.9l2.9,-0.1zM31,30.1l-1.7,1.6l-0.6,-0.6l1.7,-1.6z"/><path fill="#EEAD22" d="M21,14.6l2.8,0.3l-0.1,1.2l-2.8,-0.3zM1.7,13.1l3.1,0.2l-0.1,1.7l-3.1,-0.2zM41.7,13.1l3.1,0.2l-0.1,1.7l-3.1,-0.2zM29.5,27.1l-1.1,3.0l-1.2,-0.4l1.1,-3.0zM13,37.1l0.3,1.3l-0.8,0.2l-0.3,-1.3zM13,-2.9l0.3,1.3l-0.8,0.2l-0.3,-1.3zM24.1,7.5l-0.1,1.9l-0.6,0l0.1,-1.9z"/><path fill="#FFFFFF" d="M30.5,8.0l2.3,0.9l-0.3,0.7l-2.3,-0.9zM29.2,34.8l2.5,2.5l-1.6,1.5l-2.5,-2.5zM29.2,-5.2l2.5,2.5l-1.6,1.5l-2.5,-2.5zM19.4,31.6l1.7,2.8l-1.5,0.9l-1.7,-2.8zM14.9,27.8l-3,2.5l-0.8,-1.0l3,-2.5zM22.6,11.5l-0.1,1.4l-0.7,0l0.1,-1.4zM15,36.4l-2.3,2.7l-1.8,-1.6l2.3,-2.7zM15,-3.6l-2.3,2.7l-1.8,-1.6l2.3,-2.7zM19.1,30.1l-1.1,3.7l-2,-0.6l1.1,-3.7zM9,23.3l-2.8,1.0l-0.4,-1.2l2.8,-1.0z"/></pattern><pattern id="sp1" width="40" height="40" patternUnits="userSpaceOnUse"><rect width="40" height="40" fill="#FFFFFF"/><path fill="#0A6DBA" d="M23.3,36.2l-0.5,1.9l-1.2,-0.3l0.5,-1.9zM20.2,23.8l1.5,2.1l-0.9,0.7l-1.5,-2.1zM33,28.2l-1.1,0.1l-0.1,-1.0l1.1,-0.1zM10.8,1.3l-1.7,0.9l-0.6,-1.1l1.7,-0.9zM10.8,41.3l-1.7,0.9l-0.6,-1.1l1.7,-0.9zM3.2,29.5l0.6,1.7l-1.4,0.5l-0.6,-1.7zM12.8,37.3l1.8,1.8l-0.8,0.8l-1.8,-1.8zM12.8,-2.7l1.8,1.8l-0.8,0.8l-1.8,-1.8zM2.7,31.1l0.2,1.3l-0.9,0.2l-0.2,-1.3zM29.5,4.0l0.6,2.2l-1,0.3l-0.6,-2.2zM12.3,39.0l-2.4,0.9l-0.5,-1.3l2.4,-0.9zM12.3,-1.0l-2.4,0.9l-0.5,-1.3l2.4,-0.9zM16.9,34.7l-2.3,0.1l-0,-1.0l2.3,-0.1zM9.6,30.3l1.6,0.4l-0.2,0.9l-1.6,-0.4zM23.8,8.5l0.3,2.2l-1.3,0.2l-0.3,-2.2zM37.2,34.3l2.1,0.7l-0.4,1.3l-2.1,-0.7zM-2.8,34.3l2.1,0.7l-0.4,1.3l-2.1,-0.7zM39.9,9.4l-2,1.3l-0.7,-1.1l2,-1.3zM-0.1,9.4l-2,1.3l-0.7,-1.1l2,-1.3zM10.8,17.2l0.4,1.0l-0.5,0.2l-0.4,-1.0zM41.2,3.5l-2,0.6l-0.5,-1.5l2,-0.6zM41.2,43.5l-2,0.6l-0.5,-1.5l2,-0.6zM1.2,3.5l-2,0.6l-0.5,-1.5l2,-0.6zM1.2,43.5l-2,0.6l-0.5,-1.5l2,-0.6zM34.4,2.3l-0.8,2.4l-1,-0.3l0.8,-2.4zM34.4,42.3l-0.8,2.4l-1,-0.3l0.8,-2.4zM-0.3,10.9l2,1.2l-0.6,1.0l-2,-1.2zM39.7,10.9l2,1.2l-0.6,1.0l-2,-1.2zM17.8,30.5l1,2.6l-2.2,0.8l-1,-2.6z"/><path fill="#782C8F" d="M24.2,5.9l1,0.2l-0.1,0.7l-1,-0.2zM25.4,18.6l1.5,1.8l-1.1,0.9l-1.5,-1.8zM11.2,5.8l1.8,1.6l-0.7,0.8l-1.8,-1.6zM33.9,23.6l1.3,0.9l-0.8,1.1l-1.3,-0.9zM7,13.8l-1.3,2.5l-2.2,-1.2l1.3,-2.5zM24,5.7l-1,0.3l-0.1,-0.4l1,-0.3zM39.8,0.5l-1.5,1.7l-1.1,-1.0l1.5,-1.7zM39.8,40.5l-1.5,1.7l-1.1,-1.0l1.5,-1.7zM-0.2,0.5l-1.5,1.7l-1.1,-1.0l1.5,-1.7zM-0.2,40.5l-1.5,1.7l-1.1,-1.0l1.5,-1.7zM29.6,31.0l-1.6,2.4l-1.4,-0.9l1.6,-2.4zM16.2,22.5l-0.9,2.0l-0.9,-0.4l0.9,-2.0zM10.3,28.4l-1.9,0.5l-0.3,-1.4l1.9,-0.5z"/><path fill="#0AF5F8" d="M33.5,10.4l-1.4,0.3l-0.2,-1.0l1.4,-0.3zM36.2,15.7l-0.6,2.5l-2.1,-0.5l0.6,-2.5zM27.8,16.9l-1.4,2.4l-1.4,-0.8l1.4,-2.4z"/><path fill="#EEAD22" d="M39.4,32.3l1.8,1.6l-0.9,1.0l-1.8,-1.6zM-0.6,32.3l1.8,1.6l-0.9,1.0l-1.8,-1.6zM34.4,-0.7l0.1,1.4l-1.2,0.1l-0.1,-1.4zM34.4,39.3l0.1,1.4l-1.2,0.1l-0.1,-1.4zM15.8,1.5l1.5,1.7l-1.3,1.2l-1.5,-1.7zM15.8,41.5l1.5,1.7l-1.3,1.2l-1.5,-1.7zM18.5,21.8l2.4,1.3l-0.6,1.2l-2.4,-1.3zM36.1,28.4l-0.4,1.7l-1.3,-0.3l0.4,-1.7z"/><path fill="#0A6DBA" d="M17.7,25.0l-1.7,1.0l-0.5,-1.0l1.7,-1.0zM0.3,32.7l1.5,0.2l-0.1,0.7l-1.5,-0.2zM40.3,32.7l1.5,0.2l-0.1,0.7l-1.5,-0.2zM23.7,33.8l0.3,2.6l-2.2,0.3l-0.3,-2.6zM37.8,39.1l-2.3,1.8l-1.2,-1.6l2.3,-1.8zM37.8,-0.9l-2.3,1.8l-1.2,-1.6l2.3,-1.8zM36.6,33.3l0.3,1.7l-0.7,0.1l-0.3,-1.7zM20,5.5l-1.8,0.6l-0.5,-1.4l1.8,-0.6zM12,6.3l2.1,0.9l-0.8,1.8l-2.1,-0.9zM25.4,3.0l-0.1,2.5l-1.1,0l0.1,-2.5zM8.2,20.2l0.5,1.8l-1.1,0.3l-0.5,-1.8zM7.2,25.6l2.6,1.0l-0.9,2.3l-2.6,-1.0zM0.9,21.0l1.8,0.9l-0.6,1.2l-1.8,-0.9zM40.9,21.0l1.8,0.9l-0.6,1.2l-1.8,-0.9z"/><path fill="#782C8F" d="M13.9,5.7l-1.8,0.9l-0.7,-1.5l1.8,-0.9zM37.9,10.3l0.9,1.0l-0.6,0.5l-0.9,-1.0zM-2.1,10.3l0.9,1.0l-0.6,0.5l-0.9,-1.0zM21.9,11.3l2.4,1.1l-0.4,1.0l-2.4,-1.1zM19.1,26.0l-2.3,0.3l-0.2,-1.8l2.3,-0.3zM8.2,18.3l0.1,1.4l-0.5,0.0l-0.1,-1.4zM7.9,10.1l-0.1,1.7l-1.3,-0.1l0.1,-1.7zM29.3,14.3l2.5,0.7l-0.6,2.1l-2.5,-0.7zM9.8,28.5l-1.7,2.0l-1.5,-1.2l1.7,-2.0zM30.3,19.0l1,0.2l-0.2,0.8l-1,-0.2zM30,32.4l0.1,2.4l-2.1,0.0l-0.1,-2.4zM21.1,32.5l0.8,2.0l-1.1,0.4l-0.8,-2.0zM7.1,20.6l2,0.2l-0.1,1.4l-2,-0.2zM3.7,22.1l-1.8,0.4l-0.4,-1.6l1.8,-0.4zM43.7,22.1l-1.8,0.4l-0.4,-1.6l1.8,-0.4zM1,6.9l0.8,1.2l-0.9,0.6l-0.8,-1.2zM41,6.9l0.8,1.2l-0.9,0.6l-0.8,-1.2zM7.3,7.1l-0.2,2.3l-1.6,-0.2l0.2,-2.3zM29.3,19.3l2.3,0.5l-0.3,1.1l-2.3,-0.5z"/><path fill="#0AF5F8" d="M30,5.6l-1.8,0.5l-0.4,-1.3l1.8,-0.5zM6,12.3l2.3,1.2l-0.5,1.1l-2.3,-1.2zM4.5,8.5l-1.4,1.5l-0.8,-0.7l1.4,-1.5zM37.3,7.1l-0.2,2.7l-2.4,-0.2l0.2,-2.7zM25.4,34.3l-1.2,0.8l-0.6,-0.9l1.2,-0.8zM14.1,13.3l-2.8,0.0l-0,-1.4l2.8,0zM4.4,8.6l2.3,0.7l-0.4,1.2l-2.3,-0.7zM17.5,31.3l-0.7,1.0l-0.6,-0.4l0.7,-1.0z"/><path fill="#EEAD22" d="M17.6,2.5l1.1,0.1l-0.1,0.9l-1.1,-0.1zM21.5,14.7l0.1,2.6l-1.8,0.0l-0.1,-2.6z"/><path fill="#0A6DBA" d="M7.1,31.9l2.8,0.9l-0.8,2.5l-2.8,-0.9zM38.6,17.2l0.3,2.5l-1.4,0.1l-0.3,-2.5zM-1.4,17.2l0.3,2.5l-1.4,0.1l-0.3,-2.5zM17.6,28.7l1.6,0.9l-0.4,0.8l-1.6,-0.9zM37.1,28.3l0.7,2.4l-2,0.6l-0.7,-2.4zM-2.9,28.3l0.7,2.4l-2,0.6l-0.7,-2.4zM15.5,1.4l1.3,0.4l-0.2,0.8l-1.3,-0.4zM15.5,41.4l1.3,0.4l-0.2,0.8l-1.3,-0.4zM37.3,21.2l-0.4,2.0l-1.7,-0.4l0.4,-2.0zM37.7,5.4l0,1.9l-0.9,0.0l-0,-1.9zM-2.3,5.4l0,1.9l-0.9,0.0l-0,-1.9zM12.5,25.7l-1.3,1.6l-0.9,-0.7l1.3,-1.6zM1.1,9.6l-0.8,0.8l-0.4,-0.4l0.8,-0.8zM41.1,9.6l-0.8,0.8l-0.4,-0.4l0.8,-0.8zM36.5,30.3l-1.1,0.2l-0.2,-1.0l1.1,-0.2zM36.1,15.9l1.4,1.4l-1.2,1.2l-1.4,-1.4zM12,26.7l-0.9,1.9l-1.4,-0.6l0.9,-1.9zM1.8,9.9l1.8,0.6l-0.4,1.2l-1.8,-0.6zM41.8,9.9l1.8,0.6l-0.4,1.2l-1.8,-0.6zM20.2,8.6l-1.5,0.8l-0.6,-1.1l1.5,-0.8zM4.5,31.0l1.8,1.4l-1.1,1.4l-1.8,-1.4zM11.2,33.0l-1.7,0.1l-0,-1.3l1.7,-0.1zM22.2,28.2l1.1,2.6l-1.6,0.7l-1.1,-2.6zM35.4,2.5l0.1,1.2l-0.8,0.0l-0.1,-1.2z"/><path fill="#782C8F" d="M17.8,24.1l-0.9,0.5l-0.4,-0.7l0.9,-0.5zM2.2,36.1l-2.4,1.1l-0.8,-1.8l2.4,-1.1zM42.2,36.1l-2.4,1.1l-0.8,-1.8l2.4,-1.1zM17.5,24.1l-1.6,1.2l-1,-1.5l1.6,-1.2zM2.8,12.6l0.8,1.7l-0.7,0.3l-0.8,-1.7zM42.8,12.6l0.8,1.7l-0.7,0.3l-0.8,-1.7zM25.2,7.5l1.4,2.5l-1.8,1.0l-1.4,-2.5zM23.9,20.9l-0.8,1.6l-1.4,-0.7l0.8,-1.6zM31.1,39.1l-0.7,0.8l-0.5,-0.5l0.7,-0.8zM31.1,-0.9l-0.7,0.8l-0.5,-0.5l0.7,-0.8zM3.2,37.1l-0.6,1.8l-1.2,-0.4l0.6,-1.8zM3.2,-2.9l-0.6,1.8l-1.2,-0.4l0.6,-1.8zM43.2,37.1l-0.6,1.8l-1.2,-0.4l0.6,-1.8zM43.2,-2.9l-0.6,1.8l-1.2,-0.4l0.6,-1.8zM38.8,29.1l-1.6,1.1l-0.9,-1.4l1.6,-1.1zM-1.2,29.1l-1.6,1.1l-0.9,-1.4l1.6,-1.1zM3.7,24.3l1.9,0.3l-0.2,0.9l-1.9,-0.3zM4.7,16.4l1.6,1.7l-1.1,1.0l-1.6,-1.7zM17.9,31.9l-2,0.3l-0.3,-1.8l2,-0.3zM11.1,3.7l-1.1,2.6l-2,-0.8l1.1,-2.6zM9.4,10.6l-2.7,1.1l-0.9,-2.4l2.7,-1.1zM4.1,2.7l-0.9,2.2l-1.5,-0.6l0.9,-2.2zM44.1,2.7l-0.9,2.2l-1.5,-0.6l0.9,-2.2zM12.5,30.7l-0.6,1.0l-0.5,-0.3l0.6,-1.0z"/><path fill="#0AF5F8" d="M35.8,26.3l0.7,2.4l-1.9,0.6l-0.7,-2.4z"/><path fill="#EEAD22" d="M26.2,32.3l-0.8,0.8l-0.6,-0.6l0.8,-0.8z"/></pattern><pattern id="sp3" width="40" height="40" patternUnits="userSpaceOnUse"><rect width="40" height="40" fill="#FFFFFF"/><path fill="#0A6DBA" d="M26.8,26.0l2,1.8l-0.9,1.0l-2,-1.8zM8.8,28.6l1,0.8l-0.5,0.7l-1,-0.8zM16.9,32.4l1.4,1.7l-0.7,0.6l-1.4,-1.7zM36.5,32.2l-1.8,1.9l-1.5,-1.5l1.8,-1.9zM16.5,13.7l1.7,0.7l-0.4,1.0l-1.7,-0.7zM27.5,17.1l-0.1,1.3l-0.7,0l0.1,-1.3zM18.8,23.3l0.1,1.8l-0.8,0.0l-0.1,-1.8zM10.2,7.2l-0.8,1.5l-0.7,-0.3l0.8,-1.5zM39.9,23.2l-0.9,2.3l-1.2,-0.4l0.9,-2.3zM-0.1,23.2l-0.9,2.3l-1.2,-0.4l0.9,-2.3zM23.5,13.0l1.5,2.0l-1.1,0.8l-1.5,-2.0zM28,4.0l-0.6,1.3l-0.6,-0.3l0.6,-1.3zM21,0.8l1.8,0.5l-0.3,1.0l-1.8,-0.5zM21,40.8l1.8,0.5l-0.3,1.0l-1.8,-0.5zM40.6,4.2l-0.5,1.5l-0.8,-0.3l0.5,-1.5zM0.6,4.2l-0.5,1.5l-0.8,-0.3l0.5,-1.5zM18.6,13.2l1.3,2.3l-0.9,0.5l-1.3,-2.3zM38.8,19.5l1.2,1.6l-1.1,0.9l-1.2,-1.6zM-1.2,19.5l1.2,1.6l-1.1,0.9l-1.2,-1.6zM21.3,35.7l-1.4,2.1l-1.1,-0.7l1.4,-2.1zM15,1.2l-1.3,1.2l-0.5,-0.6l1.3,-1.2zM15,41.2l-1.3,1.2l-0.5,-0.6l1.3,-1.2zM0.7,30.3l-0.2,1.4l-0.9,-0.2l0.2,-1.4zM40.7,30.3l-0.2,1.4l-0.9,-0.2l0.2,-1.4zM11.2,16.7l1.2,0.4l-0.4,1.0l-1.2,-0.4zM18.5,33.6l-0.3,3.0l-1.2,-0.1l0.3,-3.0zM31.2,11.5l2.6,1.1l-0.7,1.7l-2.6,-1.1zM10.1,34.0l0.5,1.2l-0.8,0.3l-0.5,-1.2zM33.4,9.2l-2.4,0.5l-0.4,-1.8l2.4,-0.5zM38.1,17.8l-1.9,1.0l-0.7,-1.3l1.9,-1.0zM37.9,11.6l1.2,0.1l-0,0.5l-1.2,-0.1zM-2.1,11.6l1.2,0.1l-0,0.5l-1.2,-0.1zM6.1,28.9l-2.3,1.5l-1.4,-2.0l2.3,-1.5zM26.2,33.0l-1.8,1.7l-0.9,-1.0l1.8,-1.7zM13.4,39.6l-1.5,1.2l-0.6,-0.8l1.5,-1.2zM13.4,-0.4l-1.5,1.2l-0.6,-0.8l1.5,-1.2zM1,1.4l-1.5,0.3l-0.2,-0.8l1.5,-0.3zM1,41.4l-1.5,0.3l-0.2,-0.8l1.5,-0.3zM41,1.4l-1.5,0.3l-0.2,-0.8l1.5,-0.3zM41,41.4l-1.5,0.3l-0.2,-0.8l1.5,-0.3zM35.2,34.1l-1.3,1.2l-1.1,-1.2l1.3,-1.2zM9.8,16.9l2.3,1.6l-1.1,1.5l-2.3,-1.6zM20.2,7.4l-1.8,1.1l-0.5,-0.8l1.8,-1.1zM4.8,22.7l0,1.6l-1.4,0.0l-0,-1.6zM34,7.2l0.6,2.4l-1.8,0.4l-0.6,-2.4zM20.7,36.5l-0.5,1.4l-0.9,-0.3l0.5,-1.4zM21.4,-0.8l0.9,1.7l-1.3,0.7l-0.9,-1.7zM21.4,39.2l0.9,1.7l-1.3,0.7l-0.9,-1.7zM3.2,27.9l-1.3,1.3l-1.2,-1.1l1.3,-1.3zM43.2,27.9l-1.3,1.3l-1.2,-1.1l1.3,-1.3zM38.2,36.7l-1.4,2.2l-1.8,-1.2l1.4,-2.2zM38.2,-3.3l-1.4,2.2l-1.8,-1.2l1.4,-2.2zM-1.8,36.7l-1.4,2.2l-1.8,-1.2l1.4,-2.2zM-1.8,-3.3l-1.4,2.2l-1.8,-1.2l1.4,-2.2zM27.4,23.3l-1,1.1l-0.5,-0.5l1,-1.1zM3.6,25.5l-1.7,1.4l-0.9,-1.1l1.7,-1.4zM43.6,25.5l-1.7,1.4l-0.9,-1.1l1.7,-1.4z"/><path fill="#782C8F" d="M33.3,39.1l-1.7,1.7l-1.1,-1.1l1.7,-1.7zM33.3,-0.9l-1.7,1.7l-1.1,-1.1l1.7,-1.7zM34.3,25.7l-1.2,0.5l-0.3,-0.7l1.2,-0.5zM33.6,7.6l-1.7,2.1l-1.2,-1.0l1.7,-2.1zM10.2,22.6l1.1,1.3l-0.7,0.6l-1.1,-1.3zM8.1,11.4l1.6,0.7l-0.3,0.7l-1.6,-0.7zM15.6,31.4l0.5,1.9l-1.3,0.4l-0.5,-1.9z"/><path fill="#0AF5F8" d="M33.3,10.0l-1.9,1.9l-1.2,-1.2l1.9,-1.9zM14.6,27.6l2.6,1.2l-0.5,1.1l-2.6,-1.2zM5.6,4.5l-0.2,2.1l-1.7,-0.2l0.2,-2.1zM0.6,33.7l1.1,0.6l-0.5,0.9l-1.1,-0.6zM40.6,33.7l1.1,0.6l-0.5,0.9l-1.1,-0.6z"/><path fill="#0A6DBA" d="M16.2,3.1l-1.6,1.1l-0.7,-1.0l1.6,-1.1zM9.5,6.2l-1.6,0.2l-0.1,-0.9l1.6,-0.2zM36.8,11.0l1.4,0.4l-0.3,1.2l-1.4,-0.4zM4.6,1.9l1.6,0.8l-0.4,0.8l-1.6,-0.8zM4.6,41.9l1.6,0.8l-0.4,0.8l-1.6,-0.8zM28.8,2.2l-1.4,0.5l-0.4,-0.9l1.4,-0.5zM28.8,42.2l-1.4,0.5l-0.4,-0.9l1.4,-0.5zM27.7,26.5l2.3,1.2l-1,1.9l-2.3,-1.2zM24.4,19.5l1.7,1.1l-0.8,1.4l-1.7,-1.1zM17.6,16.2l-0.4,1.4l-0.8,-0.2l0.4,-1.4zM37.3,10.4l-1.1,2.2l-1,-0.5l1.1,-2.2zM34.1,37.7l1.2,1.0l-0.8,0.9l-1.2,-1.0zM34.1,-2.3l1.2,1.0l-0.8,0.9l-1.2,-1.0zM4.7,17.2l-0.3,1.2l-0.9,-0.2l0.3,-1.2zM27.6,8.8l1.7,0.0l-0,1.0l-1.7,0zM4.9,-0.9l1.8,0.9l-0.5,0.9l-1.8,-0.9zM4.9,39.1l1.8,0.9l-0.5,0.9l-1.8,-0.9zM32.2,12.8l-0.3,1.8l-1,-0.2l0.3,-1.8zM34,22.6l0.4,2.1l-1.6,0.3l-0.4,-2.1zM31.3,27.9l-0.5,2.4l-2.1,-0.4l0.5,-2.4zM8.6,9.9l-1.8,0.6l-0.4,-1.2l1.8,-0.6zM13.5,28.5l1.7,0.9l-0.8,1.4l-1.7,-0.9zM22.9,16.3l0.2,1.1l-0.8,0.1l-0.2,-1.1zM25.9,16.5l-2.7,0.4l-0.2,-1.3l2.7,-0.4zM39.6,22.6l-0.1,1.9l-1.6,-0.1l0.1,-1.9zM-0.4,22.6l-0.1,1.9l-1.6,-0.1l0.1,-1.9zM1.5,31.0l2.1,0.8l-0.4,1.1l-2.1,-0.8zM41.5,31.0l2.1,0.8l-0.4,1.1l-2.1,-0.8zM38.4,34.7l-1.7,1.0l-0.4,-0.7l1.7,-1.0zM-1.6,34.7l-1.7,1.0l-0.4,-0.7l1.7,-1.0zM30.8,19.6l-2.3,1.8l-0.8,-1.1l2.3,-1.8zM1.6,23.1l-1.6,0.2l-0.1,-1.2l1.6,-0.2zM41.6,23.1l-1.6,0.2l-0.1,-1.2l1.6,-0.2zM19.2,23.4l1.4,0.5l-0.3,0.9l-1.4,-0.5zM2,20.5l1.3,0.2l-0.2,0.9l-1.3,-0.2zM26.4,29.8l-2.8,0.0l-0,-2.1l2.8,0zM24.9,24.8l1,0.9l-0.4,0.5l-1,-0.9zM32.5,27.9l-1.4,1.6l-0.7,-0.6l1.4,-1.6zM7.1,23.9l0.2,1.5l-0.8,0.1l-0.2,-1.5zM29.3,17.9l-0.2,1.4l-0.8,-0.1l0.2,-1.4zM18.5,27.7l-1.4,0.6l-0.3,-0.7l1.4,-0.6zM3.4,35.2l-0.4,1.1l-0.7,-0.3l0.4,-1.1zM36.7,5.9l0.2,2.1l-1.8,0.2l-0.2,-2.1zM20.3,28.1l-2,2.1l-1.2,-1.1l2,-2.1zM37,29.6l-0.8,2.6l-2.2,-0.7l0.8,-2.6zM33,16.1l-0.3,1.4l-0.7,-0.2l0.3,-1.4zM3.5,11.5l-1.6,2.5l-1.6,-1.0l1.6,-2.5zM43.5,11.5l-1.6,2.5l-1.6,-1.0l1.6,-2.5zM3.4,23.9l-0.5,1.3l-0.6,-0.2l0.5,-1.3z"/><path fill="#782C8F" d="M40.5,17.7l-1.3,1.3l-0.9,-0.9l1.3,-1.3zM0.5,17.7l-1.3,1.3l-0.9,-0.9l1.3,-1.3zM4.4,2.6l0.4,2.6l-2.1,0.3l-0.4,-2.6zM44.4,2.6l0.4,2.6l-2.1,0.3l-0.4,-2.6zM24.1,24.2l-0.9,2.7l-2.2,-0.7l0.9,-2.7zM20,20.5l1,2.4l-1.7,0.7l-1,-2.4zM17.9,22.7l-0.9,0.6l-0.4,-0.5l0.9,-0.6zM5.2,17.7l-1.2,0.8l-0.6,-0.9l1.2,-0.8zM24.6,-1.4l0.6,2.5l-1.7,0.4l-0.6,-2.5zM24.6,38.6l0.6,2.5l-1.7,0.4l-0.6,-2.5z"/><path fill="#0AF5F8" d="M18.8,38.5l-1.6,0.5l-0.3,-1.2l1.6,-0.5zM18.8,-1.5l-1.6,0.5l-0.3,-1.2l1.6,-0.5zM-0.1,13.2l2.4,0.8l-0.6,1.8l-2.4,-0.8zM39.9,13.2l2.4,0.8l-0.6,1.8l-2.4,-0.8zM6.9,22.7l-0.6,1.0l-0.7,-0.4l0.6,-1.0z"/><path fill="#0A6DBA" d="M0.4,37.3l0.5,0.9l-0.4,0.3l-0.5,-0.9zM40.4,37.3l0.5,0.9l-0.4,0.3l-0.5,-0.9zM35.4,20.9l-1.4,0.0l-0,-0.6l1.4,0zM10.6,14.6l-2.4,1.3l-1.1,-2.0l2.4,-1.3zM1.2,30.1l-1.4,0.1l-0.1,-1.2l1.4,-0.1zM41.2,30.1l-1.4,0.1l-0.1,-1.2l1.4,-0.1zM29.6,9.0l0.2,1.2l-1,0.2l-0.2,-1.2zM23.5,2.8l-1.7,0.8l-0.6,-1.2l1.7,-0.8zM23.5,42.8l-1.7,0.8l-0.6,-1.2l1.7,-0.8zM35.3,3.5l1.2,0.7l-0.4,0.7l-1.2,-0.7zM25.8,15.3l1.3,0.5l-0.3,0.8l-1.3,-0.5zM38.7,17.6l0.8,1.7l-1,0.4l-0.8,-1.7zM-1.3,17.6l0.8,1.7l-1,0.4l-0.8,-1.7zM6.1,10.9l2.3,0.5l-0.3,1.5l-2.3,-0.5zM35,13.3l-1,2.5l-1.7,-0.7l1,-2.5zM22.5,15.4l1.9,0.7l-0.6,1.7l-1.9,-0.7zM35.2,35.6l2.5,0.8l-0.7,2.1l-2.5,-0.8zM35.2,-4.4l2.5,0.8l-0.7,2.1l-2.5,-0.8zM5.6,33.1l-0.1,1.8l-1.2,-0.1l0.1,-1.8zM22.8,33.4l0.8,1.7l-1.1,0.5l-0.8,-1.7zM11.2,31.8l1.8,2.3l-1.4,1.1l-1.8,-2.3zM34,9.9l1.3,0.4l-0.2,0.7l-1.3,-0.4zM9,24.5l1.7,2.3l-1.2,0.9l-1.7,-2.3zM1.3,2.3l1,1.9l-1.2,0.6l-1,-1.9zM41.3,2.3l1,1.9l-1.2,0.6l-1,-1.9zM0.2,9.9l1.3,0.3l-0.2,0.7l-1.3,-0.3zM40.2,9.9l1.3,0.3l-0.2,0.7l-1.3,-0.3zM24.3,14.4l1.6,2.0l-1.3,1.0l-1.6,-2.0zM35.4,29.1l-1.4,1.2l-0.7,-0.8l1.4,-1.2zM5.6,35.9l1.7,1.3l-0.6,0.7l-1.7,-1.3zM5.6,-4.1l1.7,1.3l-0.6,0.7l-1.7,-1.3zM32.6,32.9l0.6,2.5l-1.3,0.3l-0.6,-2.5zM17.9,21.9l-1.3,1.0l-0.5,-0.7l1.3,-1.0zM21.2,-0.1l1.9,0.0l-0,1.7l-1.9,0zM21.2,39.9l1.9,0.0l-0,1.7l-1.9,0zM35.9,35.4l1.2,1.6l-0.9,0.7l-1.2,-1.6zM23.3,16.6l0.8,2.2l-1,0.4l-0.8,-2.2zM3.4,26.2l1.7,0.2l-0.1,1.1l-1.7,-0.2zM13.8,3.1l-1.3,0.4l-0.2,-0.5l1.3,-0.4zM36.4,23.1l2,2.1l-1.3,1.3l-2,-2.1zM-3.6,23.1l2,2.1l-1.3,1.3l-2,-2.1zM24,26.5l2.2,0.7l-0.6,1.9l-2.2,-0.7zM27.4,36.9l1.5,0.1l-0.1,1.3l-1.5,-0.1zM27.4,-3.1l1.5,0.1l-0.1,1.3l-1.5,-0.1zM13.2,20.0l0.6,1.2l-0.7,0.4l-0.6,-1.2zM16.9,9.1l-1.3,0.0l-0,-0.8l1.3,0zM5.3,23.0l-2.1,0.4l-0.2,-1.4l2.1,-0.4zM15.4,7.3l-0,2.2l-1.7,0l0,-2.2zM11.8,33.3l-1.8,2.4l-1.6,-1.3l1.8,-2.4zM7.7,1.9l-1.3,1.8l-1.6,-1.1l1.3,-1.8zM7.7,41.9l-1.3,1.8l-1.6,-1.1l1.3,-1.8z"/><path fill="#782C8F" d="M29.2,28.6l1.7,0.8l-0.6,1.5l-1.7,-0.8zM1.4,16.4l-1,0.9l-0.5,-0.5l1,-0.9zM41.4,16.4l-1,0.9l-0.5,-0.5l1,-0.9zM24.1,33.7l1.1,1.7l-1,0.7l-1.1,-1.7zM37.7,18.2l-0.2,2.6l-2.2,-0.1l0.2,-2.6zM-2.3,18.2l-0.2,2.6l-2.2,-0.1l0.2,-2.6zM6.6,25.7l-1.3,0.0l-0,-0.7l1.3,0z"/><path fill="#0AF5F8" d="M3.5,5.6l-1.3,2.1l-1.7,-1.0l1.3,-2.1zM43.5,5.6l-1.3,2.1l-1.7,-1.0l1.3,-2.1zM37.8,12.4l2,0.5l-0.3,1.2l-2,-0.5zM-2.2,12.4l2,0.5l-0.3,1.2l-2,-0.5zM24.1,9.2l-0.9,2.7l-1.7,-0.6l0.9,-2.7zM15.9,25.4l-0,1.1l-0.7,0l0,-1.1zM39.4,30.5l-1.6,0.4l-0.4,-1.3l1.6,-0.4zM-0.6,30.5l-1.6,0.4l-0.4,-1.3l1.6,-0.4zM10.6,24.2l1.8,1.4l-0.8,1.0l-1.8,-1.4z"/></pattern><pattern id="sp4" width="40" height="40" patternUnits="userSpaceOnUse"><rect width="40" height="40" fill="#FFFFFF"/><path fill="#0A6DBA" d="M27.7,24.5l2,2.1l-1.1,1.1l-2,-2.1zM9.9,35.9l-1.4,1.0l-0.5,-0.7l1.4,-1.0zM13.9,2.5l0.4,1.3l-1.2,0.4l-0.4,-1.3zM17.1,7.5l2.5,0.8l-0.5,1.6l-2.5,-0.8zM28.9,37.0l-0.4,1.8l-1,-0.2l0.4,-1.8zM28.9,-3.0l-0.4,1.8l-1,-0.2l0.4,-1.8zM16.4,0.8l-0.4,1.6l-1.4,-0.4l0.4,-1.6zM16.4,40.8l-0.4,1.6l-1.4,-0.4l0.4,-1.6zM36.9,13.7l1.3,0.7l-0.3,0.6l-1.3,-0.7zM9.8,34.3l-0.5,1.4l-0.8,-0.3l0.5,-1.4zM36.7,18.1l1.6,0.5l-0.3,0.8l-1.6,-0.5zM-3.3,18.1l1.6,0.5l-0.3,0.8l-1.6,-0.5zM28.3,4.9l-0.2,1.5l-0.9,-0.1l0.2,-1.5zM30.8,9.4l1.6,0.7l-0.4,1.0l-1.6,-0.7zM5.7,28.2l1,0.8l-0.6,0.7l-1,-0.8zM17.5,11.0l-1.8,0.8l-0.7,-1.5l1.8,-0.8zM28.3,37.4l-1.9,0.8l-0.4,-0.9l1.9,-0.8zM28.3,-2.6l-1.9,0.8l-0.4,-0.9l1.9,-0.8zM27.2,25.2l0.7,0.7l-0.6,0.7l-0.7,-0.7zM38.3,1.3l-1,0.7l-0.6,-0.9l1,-0.7zM38.3,41.3l-1,0.7l-0.6,-0.9l1,-0.7zM18.9,22.4l-1.4,2.2l-1.3,-0.9l1.4,-2.2zM20.6,4.0l1,1.0l-0.5,0.5l-1,-1.0zM24.8,17.7l0,2.5l-1.4,0.0l-0,-2.5zM36.9,21.0l-0.7,1.1l-0.7,-0.5l0.7,-1.1z"/><path fill="#0AF5F8" d="M27.7,11.9l-1.8,1.5l-0.9,-1.1l1.8,-1.5zM7,21.3l-1.1,2.1l-1,-0.5l1.1,-2.1zM25.9,6.7l-0.1,1.2l-1,0l0.1,-1.2zM4.3,17.9l0.3,2.3l-1.6,0.2l-0.3,-2.3zM17.3,23.1l0.9,0.8l-0.5,0.6l-0.9,-0.8zM27.5,12.9l-0.5,2.8l-2.1,-0.4l0.5,-2.8zM38.2,33.6l2.6,0.6l-0.5,2.2l-2.6,-0.6zM-1.8,33.6l2.6,0.6l-0.5,2.2l-2.6,-0.6zM11.3,4.8l1.8,0.0l-0,1.2l-1.8,0zM32.4,20.3l-2,0.2l-0.1,-1.1l2,-0.2zM40.2,21.3l-2.5,0.8l-0.5,-1.6l2.5,-0.8zM0.2,21.3l-2.5,0.8l-0.5,-1.6l2.5,-0.8zM27,24.6l1.9,1.7l-1,1.2l-1.9,-1.7zM25.7,27.8l-0.8,1.1l-0.7,-0.5l0.8,-1.1zM27,14.5l-2.3,1.7l-0.8,-1.1l2.3,-1.7z"/><path fill="#782C8F" d="M3.2,10.7l1,0.4l-0.3,0.8l-1,-0.4zM38.2,2.1l-0.3,1.3l-0.9,-0.2l0.3,-1.3zM12.5,29.8l-0.5,1.7l-1.1,-0.4l0.5,-1.7zM8.6,2.6l2.7,0.2l-0.2,1.8l-2.7,-0.2zM8.6,42.6l2.7,0.2l-0.2,1.8l-2.7,-0.2zM13.7,7.0l-2,1.0l-0.5,-1.0l2,-1.0z"/><path fill="#EEAD22" d="M16.6,22.9l2.6,0.9l-0.7,1.9l-2.6,-0.9zM11,11.4l0.1,1.4l-1,0.1l-0.1,-1.4zM30.5,18.8l1,2.5l-1.5,0.6l-1,-2.5zM22.8,30.4l-0.6,1.5l-1.3,-0.5l0.6,-1.5zM37.7,34.6l0.5,2.7l-1.6,0.3l-0.5,-2.7zM-2.3,34.6l0.5,2.7l-1.6,0.3l-0.5,-2.7zM17.2,7.4l0.1,1.1l-0.9,0.1l-0.1,-1.1z"/><path fill="#0A6DBA" d="M21,2.9l-1.2,0.4l-0.3,-0.8l1.2,-0.4zM16.2,17.8l1,2.0l-1.1,0.6l-1,-2.0zM13,35.8l-1.1,0.8l-0.4,-0.5l1.1,-0.8zM33.4,8.2l1.7,0.6l-0.4,1.2l-1.7,-0.6zM23,5.4l-2.3,1.4l-1,-1.7l2.3,-1.4zM31,3.8l-2,0.6l-0.3,-1.0l2,-0.6zM19.7,18.3l-0.9,1.5l-0.7,-0.4l0.9,-1.5zM15.8,9.7l-0.9,0.8l-0.5,-0.6l0.9,-0.8zM34.6,23.2l-2.9,0.5l-0.4,-2.1l2.9,-0.5zM37.3,20.4l1.7,1.7l-0.9,0.9l-1.7,-1.7zM-2.7,20.4l1.7,1.7l-0.9,0.9l-1.7,-1.7zM7.3,38.0l-0.5,1.1l-0.6,-0.3l0.5,-1.1zM7.3,-2.0l-0.5,1.1l-0.6,-0.3l0.5,-1.1zM9.3,9.8l-1,1.1l-0.4,-0.4l1,-1.1zM32.7,32.1l0.2,1.0l-0.8,0.2l-0.2,-1.0zM34.6,17.5l1,2.3l-1.4,0.6l-1,-2.3zM30.4,11.7l-1.7,1.0l-0.8,-1.3l1.7,-1.0zM36.9,0.7l1.3,1.0l-0.7,0.9l-1.3,-1.0zM36.9,40.7l1.3,1.0l-0.7,0.9l-1.3,-1.0zM16.8,24.3l1,0.3l-0.2,0.7l-1,-0.3zM1.9,27.4l1.4,2.3l-1.8,1.1l-1.4,-2.3zM41.9,27.4l1.4,2.3l-1.8,1.1l-1.4,-2.3zM40.2,33.0l-2.7,1.1l-0.7,-1.7l2.7,-1.1zM0.2,33.0l-2.7,1.1l-0.7,-1.7l2.7,-1.1zM13.3,38.5l2,0.2l-0.2,1.8l-2,-0.2zM13.3,-1.5l2,0.2l-0.2,1.8l-2,-0.2z"/><path fill="#0AF5F8" d="M18.9,30.6l-2.1,1.3l-0.6,-0.9l2.1,-1.3zM13.5,36.4l-2.1,0.2l-0.1,-1.1l2.1,-0.2zM38.6,18.1l-1.4,0.5l-0.2,-0.6l1.4,-0.5zM-1.4,18.1l-1.4,0.5l-0.2,-0.6l1.4,-0.5zM30.2,26.6l-2.9,0.6l-0.5,-2.5l2.9,-0.6zM35.8,11.8l1.2,0.1l-0.1,0.9l-1.2,-0.1zM1.1,12.9l0.3,1.5l-1.3,0.3l-0.3,-1.5zM41.1,12.9l0.3,1.5l-1.3,0.3l-0.3,-1.5zM37.2,14.5l1.3,1.2l-0.7,0.8l-1.3,-1.2zM-2.8,14.5l1.3,1.2l-0.7,0.8l-1.3,-1.2zM12.8,20.2l-1.5,1.6l-1.2,-1.1l1.5,-1.6zM38.9,36.2l0.4,2.8l-2.2,0.3l-0.4,-2.8zM38.9,-3.8l0.4,2.8l-2.2,0.3l-0.4,-2.8zM-1.1,36.2l0.4,2.8l-2.2,0.3l-0.4,-2.8zM-1.1,-3.8l0.4,2.8l-2.2,0.3l-0.4,-2.8zM36.4,12.7l-0.8,2.0l-1.6,-0.6l0.8,-2.0zM31.2,19.0l1.7,1.9l-1.3,1.1l-1.7,-1.9zM2.6,26.8l-1.3,1.0l-0.5,-0.7l1.3,-1.0zM42.6,26.8l-1.3,1.0l-0.5,-0.7l1.3,-1.0zM13.7,35.6l-0.4,2.8l-1.7,-0.3l0.4,-2.8zM13.7,-4.4l-0.4,2.8l-1.7,-0.3l0.4,-2.8z"/><path fill="#782C8F" d="M23.1,12.6l0.6,2.6l-2.3,0.5l-0.6,-2.6zM10.5,23.5l-1,1.0l-0.7,-0.7l1,-1.0zM3.5,2.0l2.3,1.9l-0.8,0.9l-2.3,-1.9zM3.5,42.0l2.3,1.9l-0.8,0.9l-2.3,-1.9zM0.2,21.2l1,0.1l-0.1,0.9l-1,-0.1zM40.2,21.2l1,0.1l-0.1,0.9l-1,-0.1z"/><path fill="#EEAD22" d="M14.8,35.1l0.2,1.7l-0.9,0.1l-0.2,-1.7zM30.7,24.9l1.1,0.1l-0,0.7l-1.1,-0.1zM37.1,16.2l0.3,1.3l-1.2,0.3l-0.3,-1.3zM13.5,16.2l-0.2,1.6l-0.9,-0.1l0.2,-1.6zM26.7,7.8l0.8,2.8l-1.2,0.3l-0.8,-2.8zM32.5,23.0l2.7,0.3l-0.2,1.3l-2.7,-0.3z"/><path fill="#0A6DBA" d="M4.1,3.0l-1.8,1.7l-1.5,-1.6l1.8,-1.7zM4.1,43.0l-1.8,1.7l-1.5,-1.6l1.8,-1.7zM44.1,3.0l-1.8,1.7l-1.5,-1.6l1.8,-1.7zM44.1,43.0l-1.8,1.7l-1.5,-1.6l1.8,-1.7zM34.9,14.2l1.6,0.5l-0.4,1.4l-1.6,-0.5zM23,31.6l0.1,2.4l-1.3,0.1l-0.1,-2.4zM19.4,30.6l-1,0.2l-0.2,-0.7l1,-0.2zM13.3,26.8l-0.5,1.2l-0.7,-0.3l0.5,-1.2zM22.6,30.4l1.9,2.0l-1.7,1.7l-1.9,-2.0zM19.7,5.4l-1.2,0.2l-0.1,-0.6l1.2,-0.2zM28,21.6l2.5,1.0l-0.8,2.0l-2.5,-1.0zM19.6,13.0l0,1.3l-0.7,0.0l-0,-1.3zM1.5,21.9l-0.5,0.9l-0.7,-0.4l0.5,-0.9zM41.5,21.9l-0.5,0.9l-0.7,-0.4l0.5,-0.9zM6.7,11.5l-1.2,0.3l-0.2,-0.9l1.2,-0.3zM21.7,30.1l-1.9,0.2l-0.1,-0.8l1.9,-0.2zM30,1.3l2.9,0.6l-0.4,2.0l-2.9,-0.6zM30,41.3l2.9,0.6l-0.4,2.0l-2.9,-0.6zM35.3,8.1l0.9,1.1l-0.5,0.4l-0.9,-1.1zM36,39.3l1.5,0.2l-0.1,1.2l-1.5,-0.2zM36,-0.7l1.5,0.2l-0.1,1.2l-1.5,-0.2z"/><path fill="#0AF5F8" d="M14.8,14.7l1.2,0.5l-0.3,0.7l-1.2,-0.5zM23.1,15.3l-2.5,1.1l-0.6,-1.4l2.5,-1.1zM26.3,24.7l-2.3,0.0l-0,-1.9l2.3,0zM40.1,9.0l-1.2,2.6l-2.2,-1.0l1.2,-2.6zM0.1,9.0l-1.2,2.6l-2.2,-1.0l1.2,-2.6zM9.4,34.0l0.1,1.4l-0.6,0.0l-0.1,-1.4zM30.6,10.5l-0.2,1.6l-0.9,-0.1l0.2,-1.6zM6.4,6.7l1.6,1.2l-1,1.3l-1.6,-1.2zM20.6,10.1l1.7,0.6l-0.5,1.4l-1.7,-0.6zM19.3,3.4l0.5,1.7l-0.8,0.3l-0.5,-1.7zM14.7,27.4l0.6,1.8l-1.4,0.5l-0.6,-1.8zM16.4,27.0l-2.1,0.4l-0.2,-1.1l2.1,-0.4zM9.5,18.3l-0.4,1.6l-1.4,-0.3l0.4,-1.6zM18.6,4.4l-0.8,0.9l-0.5,-0.4l0.8,-0.9zM39.4,2.4l-0.3,1.4l-0.8,-0.2l0.3,-1.4zM-0.6,2.4l-0.3,1.4l-0.8,-0.2l0.3,-1.4zM38.7,18.3l2.8,0.7l-0.4,1.4l-2.8,-0.7zM-1.3,18.3l2.8,0.7l-0.4,1.4l-2.8,-0.7zM21.2,25.8l0.8,1.0l-0.8,0.6l-0.8,-1.0zM1.8,5.1l0.1,1.1l-1,0.1l-0.1,-1.1zM41.8,5.1l0.1,1.1l-1,0.1l-0.1,-1.1zM4.6,24.0l-2.1,1.7l-1,-1.2l2.1,-1.7zM44.6,24.0l-2.1,1.7l-1,-1.2l2.1,-1.7zM12.2,29.0l-0.8,1.1l-0.7,-0.6l0.8,-1.1zM16.9,32.2l1.6,0.8l-0.4,0.7l-1.6,-0.8z"/><path fill="#782C8F" d="M31.2,16.5l0.7,1.4l-0.7,0.4l-0.7,-1.4zM38.4,10.1l0.1,1.9l-1.5,0.1l-0.1,-1.9zM-1.6,10.1l0.1,1.9l-1.5,0.1l-0.1,-1.9zM13.9,38.9l0.3,1.0l-0.5,0.2l-0.3,-1.0zM13.9,-1.1l0.3,1.0l-0.5,0.2l-0.3,-1.0z"/><path fill="#EEAD22" d="M18.4,31.1l1.1,0.8l-0.6,0.8l-1.1,-0.8zM6.4,4.2l-0.3,1.4l-1.1,-0.3l0.3,-1.4zM31.4,30.7l1.1,0.1l-0,0.5l-1.1,-0.1zM38.9,8.4l1.9,0.9l-0.5,1.0l-1.9,-0.9zM-1.1,8.4l1.9,0.9l-0.5,1.0l-1.9,-0.9zM8,6.8l1.1,0.4l-0.3,0.8l-1.1,-0.4z"/></pattern><pattern id="tx3b" width="40" height="40" patternUnits="userSpaceOnUse"><rect width="40" height="40" fill="#0A6DBA"/><path fill="#0A6DBA" d="M5.4,6.5l0.3,2.3l-0.6,0.1l-0.3,-2.3zM4.5,27.8l-1.5,1.7l-0.6,-0.5l1.5,-1.7zM3.3,30.2l-1,2.6l-1,-0.4l1,-2.6zM43.3,30.2l-1,2.6l-1,-0.4l1,-2.6zM3.8,17.3l0.5,3.1l-1.2,0.2l-0.5,-3.1zM43.8,17.3l0.5,3.1l-1.2,0.2l-0.5,-3.1zM6.7,6.2l1.6,1.1l-0.5,0.7l-1.6,-1.1zM4.9,1.4l-1.5,1.0l-0.4,-0.6l1.5,-1.0zM4.9,41.4l-1.5,1.0l-0.4,-0.6l1.5,-1.0zM15.3,10.7l-0.3,1.9l-0.8,-0.1l0.3,-1.9zM3.6,29.8l2.3,2.1l-1,1.0l-2.3,-2.1zM38.7,24.0l-3.8,0.3l-0.1,-1.0l3.8,-0.3zM-1.3,24.0l-3.8,0.3l-0.1,-1.0l3.8,-0.3zM18.4,1.5l-3.4,0.3l-0.1,-1.4l3.4,-0.3zM18.4,41.5l-3.4,0.3l-0.1,-1.4l3.4,-0.3zM32.8,8.9l0.4,2.2l-1,0.2l-0.4,-2.2zM35.9,30.6l1,3.5l-1.4,0.4l-1,-3.5zM-4.1,30.6l1,3.5l-1.4,0.4l-1,-3.5zM21.6,32.8l1.7,0.4l-0.2,0.8l-1.7,-0.4zM21.9,8.0l0.4,2.6l-0.9,0.1l-0.4,-2.6zM26.2,6.3l2.3,0.6l-0.2,0.7l-2.3,-0.6zM36.8,1.6l0,3.6l-1.7,0.0l-0,-3.6zM36.8,41.6l0,3.6l-1.7,0.0l-0,-3.6zM-3.2,1.6l0,3.6l-1.7,0.0l-0,-3.6zM-3.2,41.6l0,3.6l-1.7,0.0l-0,-3.6zM39.5,13.4l-1.8,1.2l-0.4,-0.6l1.8,-1.2zM-0.5,13.4l-1.8,1.2l-0.4,-0.6l1.8,-1.2zM21.6,9.5l1.4,1.2l-0.3,0.3l-1.4,-1.2zM33.6,19.6l1.2,0.5l-0.2,0.4l-1.2,-0.5zM17.3,33.4l1.3,1.2l-0.6,0.6l-1.3,-1.2zM34.8,2.5l-1.7,2.7l-0.9,-0.5l1.7,-2.7zM34.8,42.5l-1.7,2.7l-0.9,-0.5l1.7,-2.7zM4.6,36.9l-3,0.2l-0.1,-0.7l3,-0.2zM4.6,-3.1l-3,0.2l-0.1,-0.7l3,-0.2zM44.6,36.9l-3,0.2l-0.1,-0.7l3,-0.2zM44.6,-3.1l-3,0.2l-0.1,-0.7l3,-0.2zM29.6,21.5l-1.1,3.1l-1.4,-0.5l1.1,-3.1zM12.7,4.7l1,0.8l-0.4,0.5l-1,-0.8zM13,23.4l0.5,2.5l-1.2,0.2l-0.5,-2.5zM28,29.7l-3.5,1.3l-0.4,-1.0l3.5,-1.3zM14.9,27.5l2.6,2.0l-0.7,0.9l-2.6,-2.0zM3.1,11.7l-0.6,2.2l-1,-0.3l0.6,-2.2zM43.1,11.7l-0.6,2.2l-1,-0.3l0.6,-2.2zM8.8,11.4l2.6,1.6l-0.5,0.9l-2.6,-1.6zM35.4,38.5l2.9,0.6l-0.2,1.0l-2.9,-0.6zM35.4,-1.5l2.9,0.6l-0.2,1.0l-2.9,-0.6zM-4.6,38.5l2.9,0.6l-0.2,1.0l-2.9,-0.6zM-4.6,-1.5l2.9,0.6l-0.2,1.0l-2.9,-0.6zM1.5,22.6l2.4,0.9l-0.3,0.9l-2.4,-0.9zM41.5,22.6l2.4,0.9l-0.3,0.9l-2.4,-0.9zM19.9,4.6l-1.1,2.7l-0.8,-0.3l1.1,-2.7zM11,18.3l1.6,2.1l-0.9,0.7l-1.6,-2.1zM38.6,26.9l-1.3,0.1l-0.1,-0.6l1.3,-0.1zM-1.4,26.9l-1.3,0.1l-0.1,-0.6l1.3,-0.1zM33.7,2.9l-0.8,1.0l-0.4,-0.3l0.8,-1.0zM33.6,6.9l3.1,0.7l-0.3,1.3l-3.1,-0.7zM35.6,14.8l1.8,3.0l-0.7,0.4l-1.8,-3.0zM-4.4,14.8l1.8,3.0l-0.7,0.4l-1.8,-3.0zM25.3,33.1l-1.3,1.0l-0.4,-0.6l1.3,-1.0zM5.9,21.2l0.9,3.8l-1.5,0.3l-0.9,-3.8zM33.8,21.1l-2.6,0.6l-0.2,-1.0l2.6,-0.6zM39.2,30.1l0.5,1.2l-0.3,0.1l-0.5,-1.2zM-0.8,30.1l0.5,1.2l-0.3,0.1l-0.5,-1.2z"/><path fill="#FFFFFF" d="M37.8,19.4l1.8,3.5l-1.5,0.8l-1.8,-3.5zM-2.2,19.4l1.8,3.5l-1.5,0.8l-1.8,-3.5zM33.2,24.7l0.5,1.6l-0.5,0.1l-0.5,-1.6zM23.4,20.6l-1.4,3.2l-0.7,-0.3l1.4,-3.2zM1.9,14.8l-3.1,1.4l-0.3,-0.7l3.1,-1.4zM41.9,14.8l-3.1,1.4l-0.3,-0.7l3.1,-1.4zM19.8,26.3l-0.2,2.6l-1,-0.1l0.2,-2.6zM26.8,23.2l0.9,1.7l-0.5,0.3l-0.9,-1.7zM23.2,37.3l0.6,2.5l-1,0.2l-0.6,-2.5zM23.2,-2.7l0.6,2.5l-1,0.2l-0.6,-2.5zM15.6,14.7l0.4,1.1l-0.2,0.1l-0.4,-1.1zM25.1,21.4l-1.6,0.1l-0,-0.5l1.6,-0.1zM6.6,8.2l1.1,0.5l-0.2,0.4l-1.1,-0.5zM26.4,4.1l-0.9,3.3l-1,-0.3l0.9,-3.3zM34.9,10.0l-1.8,2.2l-1,-0.8l1.8,-2.2z"/><path fill="#782C8F" d="M38,35.0l0.3,1.2l-0.5,0.1l-0.3,-1.2zM-2,35.0l0.3,1.2l-0.5,0.1l-0.3,-1.2zM37.6,8.1l1.1,0.7l-0.2,0.4l-1.1,-0.7zM-2.4,8.1l1.1,0.7l-0.2,0.4l-1.1,-0.7zM8.5,-0.1l-1.9,2.1l-0.5,-0.5l1.9,-2.1zM8.5,39.9l-1.9,2.1l-0.5,-0.5l1.9,-2.1zM-0,30.4l2.4,1.3l-0.6,1.1l-2.4,-1.3zM40,30.4l2.4,1.3l-0.6,1.1l-2.4,-1.3zM26.2,20.8l-1.8,0.0l-0,-0.7l1.8,0zM35.8,4.0l2,1.5l-0.5,0.6l-2,-1.5zM-4.2,4.0l2,1.5l-0.5,0.6l-2,-1.5z"/><path fill="#0AF5F8" d="M15.4,29.7l-1,1.8l-0.7,-0.4l1,-1.8zM14.7,7.2l1,0.7l-0.2,0.3l-1,-0.7zM25.1,0l1.4,3.1l-0.9,0.4l-1.4,-3.1zM25.1,40.0l1.4,3.1l-0.9,0.4l-1.4,-3.1zM40.5,5.0l-1.8,1.1l-0.5,-0.8l1.8,-1.1zM0.5,5.0l-1.8,1.1l-0.5,-0.8l1.8,-1.1zM28.5,27.2l2.6,1.5l-0.4,0.7l-2.6,-1.5zM1,30.9l-0.7,3.2l-1.2,-0.3l0.7,-3.2zM41,30.9l-0.7,3.2l-1.2,-0.3l0.7,-3.2z"/><path fill="#0A6DBA" d="M40.3,29.5l-0.6,3.1l-0.8,-0.2l0.6,-3.1zM0.3,29.5l-0.6,3.1l-0.8,-0.2l0.6,-3.1zM30.2,17.3l0.8,0.9l-0.4,0.4l-0.8,-0.9zM33.1,15.3l-2,2.2l-0.7,-0.6l2,-2.2zM35.8,37.6l-0.8,0.7l-0.3,-0.4l0.8,-0.7zM39.6,25.7l-2.8,0.5l-0.2,-1.1l2.8,-0.5zM-0.4,25.7l-2.8,0.5l-0.2,-1.1l2.8,-0.5zM28.8,23.2l2,1.0l-0.3,0.6l-2,-1.0zM13.4,11.4l0.6,1.1l-0.4,0.2l-0.6,-1.1zM8.7,38.2l1.6,1.6l-0.7,0.8l-1.6,-1.6zM8.7,-1.8l1.6,1.6l-0.7,0.8l-1.6,-1.6zM26,28.1l-1.8,0.1l-0.1,-0.8l1.8,-0.1zM40,39.0l-1,1.0l-0.4,-0.4l1,-1.0zM40,-1.0l-1,1.0l-0.4,-0.4l1,-1.0zM-0,39.0l-1,1.0l-0.4,-0.4l1,-1.0zM-0,-1.0l-1,1.0l-0.4,-0.4l1,-1.0zM12,31.3l1.3,0.5l-0.1,0.3l-1.3,-0.5zM18.1,33.9l-1.1,1.8l-0.4,-0.2l1.1,-1.8zM23.7,29.0l-0.9,2.2l-0.9,-0.4l0.9,-2.2zM3.5,19.0l-2.8,1.5l-0.7,-1.3l2.8,-1.5zM43.5,19.0l-2.8,1.5l-0.7,-1.3l2.8,-1.5zM7.8,34.9l3,0.4l-0.1,0.8l-3,-0.4zM11.3,7.6l1,0.7l-0.2,0.3l-1,-0.7zM29.8,-0.1l0.1,2.2l-0.7,0.0l-0.1,-2.2zM29.8,39.9l0.1,2.2l-0.7,0.0l-0.1,-2.2zM2.5,33.9l1.7,0.7l-0.3,0.7l-1.7,-0.7zM7,2.9l1.7,0.5l-0.1,0.4l-1.7,-0.5zM28,0.1l-2.2,1.1l-0.4,-0.9l2.2,-1.1zM28,40.1l-2.2,1.1l-0.4,-0.9l2.2,-1.1zM17.3,11.8l-2,1.9l-0.4,-0.4l2,-1.9zM3.1,29.9l1.9,2.9l-1.2,0.8l-1.9,-2.9zM43.1,29.9l1.9,2.9l-1.2,0.8l-1.9,-2.9zM3.6,22.1l0.4,1.1l-0.3,0.1l-0.4,-1.1zM31.9,35.6l0.9,0.6l-0.3,0.4l-0.9,-0.6zM35.1,30.9l-1,1.1l-0.5,-0.5l1,-1.1zM10.4,8.8l-2,0.5l-0.2,-0.7l2,-0.5zM23.1,28.5l-1.2,1.1l-0.5,-0.5l1.2,-1.1zM13.3,34.4l0.1,1.0l-0.4,0.1l-0.1,-1.0zM13.2,26.8l-0.3,1.7l-0.5,-0.1l0.3,-1.7zM8,23.7l-0.7,2.1l-0.9,-0.3l0.7,-2.1zM39.9,6.8l-0.6,0.9l-0.2,-0.1l0.6,-0.9zM-0.1,6.8l-0.6,0.9l-0.2,-0.1l0.6,-0.9zM28.5,3.1l1.9,0.1l-0,0.7l-1.9,-0.1zM40.7,28.2l-0.5,2.1l-1,-0.2l0.5,-2.1zM0.7,28.2l-0.5,2.1l-1,-0.2l0.5,-2.1zM17.6,12.3l-1.2,1.2l-0.3,-0.3l1.2,-1.2zM12.8,-0.2l3,0.8l-0.3,1.2l-3,-0.8zM12.8,39.8l3,0.8l-0.3,1.2l-3,-0.8zM9.4,-0.7l1.2,2.6l-1,0.5l-1.2,-2.6zM9.4,39.3l1.2,2.6l-1,0.5l-1.2,-2.6z"/><path fill="#FFFFFF" d="M18.6,30.1l0.5,2.0l-0.4,0.1l-0.5,-2.0zM6,29.8l-3.3,0.4l-0.1,-1.3l3.3,-0.4zM46,29.8l-3.3,0.4l-0.1,-1.3l3.3,-0.4zM12.3,20.9l2.7,0.4l-0.2,1.2l-2.7,-0.4zM31,34.4l-0,3.2l-0.9,0l0,-3.2zM31,-5.6l-0,3.2l-0.9,0l0,-3.2zM32.4,27.6l-0.5,3.5l-1.6,-0.2l0.5,-3.5zM10.4,20.1l0.3,1.5l-0.6,0.1l-0.3,-1.5zM4.5,7.1l0.6,2.1l-0.4,0.1l-0.6,-2.1zM20,19.1l2.5,0.4l-0.2,1.1l-2.5,-0.4zM1,28.4l3.3,1.9l-0.5,0.9l-3.3,-1.9zM41,28.4l3.3,1.9l-0.5,0.9l-3.3,-1.9zM18.5,21.2l-0.5,1.1l-0.4,-0.2l0.5,-1.1zM15.4,7.6l-0.2,2.7l-0.7,-0.1l0.2,-2.7zM7.7,27.6l-0,2.3l-0.9,0l0,-2.3zM15.2,14.4l-1.8,2.6l-1.1,-0.8l1.8,-2.6zM10.1,11.1l-1.2,0.6l-0.2,-0.3l1.2,-0.6z"/><path fill="#782C8F" d="M17.1,5.9l2.6,0.3l-0.1,0.7l-2.6,-0.3zM25.6,36.3l-0.1,1.4l-0.4,0l0.1,-1.4zM29.7,25.5l3.3,1.3l-0.4,0.9l-3.3,-1.3zM25,3.6l-2.9,2.7l-1,-1.1l2.9,-2.7zM25,43.6l-2.9,2.7l-1,-1.1l2.9,-2.7zM33.7,5.7l2.6,2.4l-0.6,0.7l-2.6,-2.4zM0.9,21.3l1.6,0.0l-0,0.7l-1.6,0zM40.9,21.3l1.6,0.0l-0,0.7l-1.6,0zM23.9,26.4l-3,1.9l-0.9,-1.3l3,-1.9zM3.2,34.1l-1.2,1.8l-0.7,-0.5l1.2,-1.8zM43.2,34.1l-1.2,1.8l-0.7,-0.5l1.2,-1.8zM8.8,2.4l0.6,2.5l-0.7,0.2l-0.6,-2.5zM37.8,5.2l2.6,1.8l-0.4,0.5l-2.6,-1.8zM-2.2,5.2l2.6,1.8l-0.4,0.5l-2.6,-1.8zM37.6,14.1l-3.2,0.4l-0.2,-1.5l3.2,-0.4zM-2.4,14.1l-3.2,0.4l-0.2,-1.5l3.2,-0.4zM25.5,7.6l-1.1,1.1l-0.2,-0.2l1.1,-1.1zM6.2,11.3l0.1,1.8l-0.5,0.0l-0.1,-1.8zM38.1,29.2l3.4,0.2l-0.1,1.4l-3.4,-0.2zM-1.9,29.2l3.4,0.2l-0.1,1.4l-3.4,-0.2z"/><path fill="#0AF5F8" d="M24,11.0l2.4,2.3l-0.6,0.7l-2.4,-2.3z"/><path fill="#0A6DBA" d="M31,35.0l-3,0.3l-0.1,-0.9l3,-0.3zM18.1,35.0l-2.6,1.6l-0.5,-0.8l2.6,-1.6zM36.7,28.1l1.3,0.9l-0.4,0.5l-1.3,-0.9zM14.1,39.8l-1.8,1.0l-0.4,-0.8l1.8,-1.0zM14.1,-0.2l-1.8,1.0l-0.4,-0.8l1.8,-1.0zM24.5,8.7l-1.3,1.7l-0.6,-0.4l1.3,-1.7zM6.7,24.6l0.4,2.5l-0.9,0.2l-0.4,-2.5zM16.7,2.5l1.6,0.3l-0.1,0.4l-1.6,-0.3zM15.2,17.4l0.3,1.6l-0.4,0.1l-0.3,-1.6zM8.8,19.2l3.3,0.1l-0,0.7l-3.3,-0.1zM36.8,24.7l-1.1,1.8l-0.9,-0.5l1.1,-1.8zM17.7,5.8l2,2.7l-0.7,0.5l-2,-2.7zM0.5,11.3l0.5,1.0l-0.3,0.2l-0.5,-1.0zM40.5,11.3l0.5,1.0l-0.3,0.2l-0.5,-1.0zM18.4,10.6l0.9,1.5l-0.5,0.3l-0.9,-1.5zM37.8,38.1l-0.5,1.6l-0.7,-0.2l0.5,-1.6zM37.8,-1.9l-0.5,1.6l-0.7,-0.2l0.5,-1.6zM20.7,10.2l1.8,0.3l-0.1,0.6l-1.8,-0.3zM39.3,29.7l1,1.7l-0.9,0.5l-1,-1.7zM-0.7,29.7l1,1.7l-0.9,0.5l-1,-1.7zM13.7,29.4l1,3.5l-0.8,0.2l-1,-3.5zM2.7,4.6l0.3,1.2l-0.3,0.1l-0.3,-1.2zM1.2,9.1l-0,3.8l-0.8,0l0,-3.8zM41.2,9.1l-0,3.8l-0.8,0l0,-3.8zM30.9,0.2l0.3,2.5l-1,0.1l-0.3,-2.5zM30.9,40.2l0.3,2.5l-1,0.1l-0.3,-2.5zM37.6,0.9l-3.5,1.3l-0.6,-1.6l3.5,-1.3zM37.6,40.9l-3.5,1.3l-0.6,-1.6l3.5,-1.3zM-2.4,0.9l-3.5,1.3l-0.6,-1.6l3.5,-1.3zM-2.4,40.9l-3.5,1.3l-0.6,-1.6l3.5,-1.3zM15.6,37.9l-0.4,3.1l-0.8,-0.1l0.4,-3.1zM15.6,-2.1l-0.4,3.1l-0.8,-0.1l0.4,-3.1zM24.9,10.2l-0.5,1.7l-0.8,-0.3l0.5,-1.7zM28,29.3l0.1,1.5l-0.7,0.0l-0.1,-1.5zM13.5,37.9l-0,3.5l-1.7,0l0,-3.5zM13.5,-2.1l-0,3.5l-1.7,0l0,-3.5zM17.2,29.7l-2.6,0.2l-0.1,-0.8l2.6,-0.2zM1.7,31.9l0.2,1.3l-0.4,0.1l-0.2,-1.3zM41.7,31.9l0.2,1.3l-0.4,0.1l-0.2,-1.3zM19.1,16.8l-1.4,2.2l-0.9,-0.6l1.4,-2.2zM10.5,4.5l-1.8,0.9l-0.3,-0.6l1.8,-0.9zM34.1,6.9l-3.2,0.1l-0.1,-1.5l3.2,-0.1zM3.4,11.8l-2.3,0.2l-0.1,-0.9l2.3,-0.2zM43.4,11.8l-2.3,0.2l-0.1,-0.9l2.3,-0.2zM21.5,12.0l1.6,3.4l-1,0.5l-1.6,-3.4zM10.7,4.1l2.1,2.0l-0.4,0.4l-2.1,-2.0zM29.6,11.9l1.5,1.3l-0.4,0.4l-1.5,-1.3zM21.2,7.1l1,0.8l-0.2,0.2l-1,-0.8zM25,31.1l0.6,2.5l-1,0.3l-0.6,-2.5zM30.5,30.1l-0.8,1.2l-0.4,-0.2l0.8,-1.2zM15.8,36.6l-1.2,1.0l-0.2,-0.3l1.2,-1.0zM18.8,17.7l0.8,0.9l-0.3,0.3l-0.8,-0.9zM36.7,18.8l1.4,1.7l-0.5,0.4l-1.4,-1.7zM-3.3,18.8l1.4,1.7l-0.5,0.4l-1.4,-1.7zM28.3,4.2l0.9,0.5l-0.2,0.3l-0.9,-0.5zM6.3,18.8l1.3,2.0l-1,0.6l-1.3,-2.0zM14.2,25.8l-1.1,1.4l-0.4,-0.3l1.1,-1.4zM3.2,33.2l-0.2,1.4l-0.4,-0.1l0.2,-1.4zM29.4,5.0l2.8,1.1l-0.3,0.7l-2.8,-1.1zM38.1,-1.0l1.1,3.0l-1.3,0.5l-1.1,-3.0zM38.1,39.0l1.1,3.0l-1.3,0.5l-1.1,-3.0zM-1.9,-1.0l1.1,3.0l-1.3,0.5l-1.1,-3.0zM-1.9,39.0l1.1,3.0l-1.3,0.5l-1.1,-3.0zM20.1,18.5l-0.2,1.1l-0.5,-0.1l0.2,-1.1zM21,35.0l-1.9,1.4l-0.5,-0.7l1.9,-1.4zM33.3,24.0l-0.1,2.0l-0.5,0l0.1,-2.0zM1.8,32.4l-2.4,2.2l-1,-1.1l2.4,-2.2zM41.8,32.4l-2.4,2.2l-1,-1.1l2.4,-2.2zM37.3,9.0l-0.9,1.5l-0.5,-0.3l0.9,-1.5z"/><path fill="#FFFFFF" d="M30.6,10.5l-2.7,1.5l-0.6,-1.1l2.7,-1.5zM33.7,0.7l0.5,1.5l-0.7,0.2l-0.5,-1.5zM33.7,40.7l0.5,1.5l-0.7,0.2l-0.5,-1.5zM12.1,34.8l2.1,1.0l-0.5,1.0l-2.1,-1.0zM12.9,22.4l-1.1,0.4l-0.1,-0.2l1.1,-0.4zM35.4,12.5l-1.5,2.9l-1.3,-0.6l1.5,-2.9zM7.7,15.2l-1.8,1.2l-0.4,-0.7l1.8,-1.2zM31.3,3.8l-0.3,1.1l-0.3,-0.1l0.3,-1.1zM8.5,30.7l-2.2,1.6l-0.7,-1.0l2.2,-1.6zM35,9.9l-0.8,0.8l-0.2,-0.2l0.8,-0.8z"/><path fill="#782C8F" d="M26.3,25.2l0.6,2.4l-0.8,0.2l-0.6,-2.4zM4.3,37.2l-2.5,1.5l-0.5,-0.8l2.5,-1.5zM4.3,-2.8l-2.5,1.5l-0.5,-0.8l2.5,-1.5zM44.3,37.2l-2.5,1.5l-0.5,-0.8l2.5,-1.5zM44.3,-2.8l-2.5,1.5l-0.5,-0.8l2.5,-1.5zM26.1,29.4l0.5,1.9l-0.6,0.2l-0.5,-1.9zM14.8,23.8l0.9,2.2l-0.8,0.3l-0.9,-2.2zM3.3,3.8l-0.8,2.9l-0.7,-0.2l0.8,-2.9zM43.3,3.8l-0.8,2.9l-0.7,-0.2l0.8,-2.9z"/><path fill="#0A6DBA" d="M2.5,36.7l0.1,1.0l-0.4,0.0l-0.1,-1.0zM38.1,20.7l3.3,0.8l-0.3,1.2l-3.3,-0.8zM-1.9,20.7l3.3,0.8l-0.3,1.2l-3.3,-0.8zM9.6,36.8l0.6,3.4l-1,0.2l-0.6,-3.4zM9.6,-3.2l0.6,3.4l-1,0.2l-0.6,-3.4zM21.1,3.9l-0,1.1l-0.5,0l0,-1.1zM16.2,34.4l0.1,2.1l-0.6,0.0l-0.1,-2.1zM10.2,18.4l-1.6,3.0l-1.3,-0.7l1.6,-3.0zM31.6,35.9l1.1,0.9l-0.2,0.3l-1.1,-0.9zM6.5,18.6l-0.4,3.1l-1,-0.1l0.4,-3.1zM31.6,38.1l3.1,0.5l-0.2,1.1l-3.1,-0.5zM31.6,-1.9l3.1,0.5l-0.2,1.1l-3.1,-0.5zM7.3,36.8l1.6,2.8l-0.7,0.4l-1.6,-2.8zM7.3,-3.2l1.6,2.8l-0.7,0.4l-1.6,-2.8zM25.3,37.9l0.5,1.9l-0.8,0.2l-0.5,-1.9zM25.3,-2.1l0.5,1.9l-0.8,0.2l-0.5,-1.9zM17.7,23.1l1.3,2.8l-1.1,0.5l-1.3,-2.8zM19.5,14.8l1.9,0.4l-0.1,0.4l-1.9,-0.4zM5.5,15.0l-3.8,1.1l-0.3,-1.2l3.8,-1.1zM45.5,15.0l-3.8,1.1l-0.3,-1.2l3.8,-1.1zM35.6,24.8l3.8,1.0l-0.4,1.7l-3.8,-1.0zM-4.4,24.8l3.8,1.0l-0.4,1.7l-3.8,-1.0zM40,14.3l-3,0.1l-0.1,-1.4l3,-0.1zM-0,14.3l-3,0.1l-0.1,-1.4l3,-0.1zM14.6,23.0l-2.5,1.8l-0.4,-0.6l2.5,-1.8zM17.5,33.8l-3.3,1.5l-0.7,-1.5l3.3,-1.5zM16.8,17.8l1,2.3l-0.6,0.3l-1,-2.3zM0.2,22.6l1.2,0.2l-0.1,0.4l-1.2,-0.2zM40.2,22.6l1.2,0.2l-0.1,0.4l-1.2,-0.2zM20.5,30.0l-3.3,2.1l-0.9,-1.4l3.3,-2.1zM18.8,20.9l3.9,0.2l-0.1,1.8l-3.9,-0.2zM7.5,33.4l1.7,2.7l-1.2,0.8l-1.7,-2.7zM40.3,26.7l-3.8,1.2l-0.4,-1.2l3.8,-1.2zM0.3,26.7l-3.8,1.2l-0.4,-1.2l3.8,-1.2zM22.5,24.3l1.5,0.9l-0.4,0.6l-1.5,-0.9zM30.8,1.0l-3.6,1.0l-0.3,-1.0l3.6,-1.0zM30.8,41.0l-3.6,1.0l-0.3,-1.0l3.6,-1.0zM27.7,12.2l2.3,2.0l-0.5,0.6l-2.3,-2.0zM40.5,36.4l-2.1,0.4l-0.2,-1.0l2.1,-0.4zM0.5,36.4l-2.1,0.4l-0.2,-1.0l2.1,-0.4zM24.2,7.6l1.6,1.3l-0.4,0.5l-1.6,-1.3zM9.4,13.0l-1.1,0.9l-0.3,-0.3l1.1,-0.9zM38.9,3.9l-0.1,1.1l-0.3,0l0.1,-1.1zM-1.1,3.9l-0.1,1.1l-0.3,0l0.1,-1.1zM17.5,29.7l-2.8,1.1l-0.3,-0.8l2.8,-1.1zM23.4,12.8l0,3.3l-1.2,0.0l-0,-3.3zM3.4,8.5l1,3.4l-1.6,0.5l-1,-3.4zM43.4,8.5l1,3.4l-1.6,0.5l-1,-3.4zM7.3,37.0l1.3,0.3l-0.1,0.4l-1.3,-0.3zM15.8,39.0l-3.4,2.0l-0.7,-1.2l3.4,-2.0zM15.8,-1.0l-3.4,2.0l-0.7,-1.2l3.4,-2.0zM19,30.7l-0.9,0.6l-0.1,-0.2l0.9,-0.6zM26.1,22.9l3,1.9l-0.5,0.8l-3,-1.9zM34.6,18.4l1.6,2.9l-1.3,0.7l-1.6,-2.9zM22.9,33.3l0.7,1.6l-0.5,0.2l-0.7,-1.6zM37,28.5l0.6,1.1l-0.4,0.2l-0.6,-1.1zM3.6,23.3l1.9,0.8l-0.3,0.8l-1.9,-0.8zM18,25.0l-0.1,1.2l-0.5,0l0.1,-1.2zM6.5,32.0l0.6,0.9l-0.3,0.2l-0.6,-0.9zM38.5,4.8l0.6,1.4l-0.3,0.1l-0.6,-1.4zM-1.5,4.8l0.6,1.4l-0.3,0.1l-0.6,-1.4zM2.8,25.7l-1.2,3.6l-0.9,-0.3l1.2,-3.6zM42.8,25.7l-1.2,3.6l-0.9,-0.3l1.2,-3.6zM22.7,5.7l3,0.0l-0,0.7l-3,0zM22.8,23.6l-0.2,1.8l-0.6,-0.1l0.2,-1.8zM26,38.7l-0.4,1.3l-0.5,-0.1l0.4,-1.3zM26,-1.3l-0.4,1.3l-0.5,-0.1l0.4,-1.3zM14.3,8.5l1.8,1.9l-0.8,0.7l-1.8,-1.9zM8.3,14.2l1.7,3.6l-1.7,0.8l-1.7,-3.6zM7.4,33.4l0.6,3.7l-0.8,0.1l-0.6,-3.7zM7.4,-6.6l0.6,3.7l-0.8,0.1l-0.6,-3.7zM11.3,27.0l-3.5,0.2l-0.1,-1.1l3.5,-0.2zM10.1,26.7l-0.3,1.4l-0.4,-0.1l0.3,-1.4z"/><path fill="#FFFFFF" d="M28.9,33.6l1,3.7l-1.2,0.3l-1,-3.7zM28.9,-6.4l1,3.7l-1.2,0.3l-1,-3.7zM1.6,20.2l-1.9,0.1l-0,-0.6l1.9,-0.1zM41.6,20.2l-1.9,0.1l-0,-0.6l1.9,-0.1zM31.7,19.1l0.4,2.6l-0.9,0.1l-0.4,-2.6zM35.5,3.2l0.4,2.6l-0.9,0.1l-0.4,-2.6zM12.2,15.8l2.5,0.1l-0,0.9l-2.5,-0.1zM39.8,11.5l-0.9,1.6l-0.5,-0.3l0.9,-1.6zM-0.2,11.5l-0.9,1.6l-0.5,-0.3l0.9,-1.6z"/><path fill="#782C8F" d="M33.9,17.2l1.8,1.9l-0.8,0.7l-1.8,-1.9zM26.1,19.1l-2.8,0.6l-0.2,-0.9l2.8,-0.6zM21.4,30.1l-2,1.9l-0.8,-0.8l2,-1.9zM7.7,5.0l-0.6,2.4l-0.5,-0.1l0.6,-2.4z"/><path fill="#0AF5F8" d="M20.8,11.5l-0.6,2.5l-0.6,-0.1l0.6,-2.5z"/></pattern><pattern id="tx3c" width="48" height="48" patternUnits="userSpaceOnUse"><rect width="48" height="48" fill="#0A6DBA"/><path fill="#0A6DBA" d="M38.5,6.2l-3.4,3.1l-0.9,-1.0l3.4,-3.1zM8.1,26.0l2.3,2.3l-0.7,0.7l-2.3,-2.3zM48.7,31.8l-1.2,4.9l-1.2,-0.3l1.2,-4.9zM0.7,31.8l-1.2,4.9l-1.2,-0.3l1.2,-4.9zM36.6,38.9l2.9,2.3l-0.8,1.0l-2.9,-2.3zM7,23.4l0,1.6l-0.5,0.0l-0,-1.6zM47.9,11.2l-2,5.0l-0.9,-0.3l2,-5.0zM-0.1,11.2l-2,5.0l-0.9,-0.3l2,-5.0zM13.7,34.0l3,2.8l-0.9,1.0l-3,-2.8zM3.5,7.3l0.5,5.9l-1.5,0.1l-0.5,-5.9zM51.5,7.3l0.5,5.9l-1.5,0.1l-0.5,-5.9zM37.6,44.9l3.5,1.0l-0.2,0.7l-3.5,-1.0zM37.6,-3.1l3.5,1.0l-0.2,0.7l-3.5,-1.0zM27.3,45.1l-4.2,3.4l-0.6,-0.8l4.2,-3.4zM27.3,-2.9l-4.2,3.4l-0.6,-0.8l4.2,-3.4zM7.8,2.9l-0.3,5.2l-1.7,-0.1l0.3,-5.2zM7.8,50.9l-0.3,5.2l-1.7,-0.1l0.3,-5.2zM38.8,5.7l4,1.0l-0.3,1.3l-4,-1.0zM32.2,9.0l-4.1,0.5l-0.1,-1.2l4.1,-0.5zM8.7,17.2l0.5,5.9l-1,0.1l-0.5,-5.9zM33.4,25.2l-1.3,3.4l-0.8,-0.3l1.3,-3.4zM32.8,4.4l4.2,2.0l-0.6,1.3l-4.2,-2.0zM42.3,7.8l3.4,1.6l-0.3,0.6l-3.4,-1.6zM-5.7,7.8l3.4,1.6l-0.3,0.6l-3.4,-1.6zM1.7,38.9l4.4,2.2l-0.7,1.3l-4.4,-2.2zM49.7,38.9l4.4,2.2l-0.7,1.3l-4.4,-2.2zM7.7,40.2l-5.2,2.8l-0.9,-1.8l5.2,-2.8zM55.7,40.2l-5.2,2.8l-0.9,-1.8l5.2,-2.8zM34.9,28.0l-5.2,1.9l-0.3,-0.8l5.2,-1.9zM22.6,10.4l-1.9,3.0l-1,-0.6l1.9,-3.0zM44.9,40.8l-1.6,2.7l-0.3,-0.2l1.6,-2.7zM-3.1,40.8l-1.6,2.7l-0.3,-0.2l1.6,-2.7zM5.3,42.3l2,2.4l-0.4,0.3l-2,-2.4zM24.3,20.5l-4.2,1.8l-0.5,-1.3l4.2,-1.8zM26.6,5.5l0.9,2.5l-0.5,0.2l-0.9,-2.5zM6.3,2.4l2.5,0.7l-0.2,0.8l-2.5,-0.7zM6.3,50.4l2.5,0.7l-0.2,0.8l-2.5,-0.7zM36,32.5l-1,1.9l-0.6,-0.3l1,-1.9z"/><path fill="#FFFFFF" d="M42.5,47.5l-1.7,0.2l-0.1,-0.4l1.7,-0.2zM42.5,-0.5l-1.7,0.2l-0.1,-0.4l1.7,-0.2zM33.1,46.9l-1.8,0.0l-0,-0.4l1.8,0zM33.1,-1.1l-1.8,0.0l-0,-0.4l1.8,0zM4,21.0l-2,1.8l-0.4,-0.4l2,-1.8zM52,21.0l-2,1.8l-0.4,-0.4l2,-1.8zM18.6,9.3l1.3,2.3l-0.4,0.2l-1.3,-2.3zM11,2.1l-5,1.1l-0.1,-0.7l5,-1.1zM11,50.1l-5,1.1l-0.1,-0.7l5,-1.1zM31.3,0.7l5.3,1.8l-0.5,1.6l-5.3,-1.8zM31.3,48.7l5.3,1.8l-0.5,1.6l-5.3,-1.8zM35.7,32.5l1.7,1.0l-0.1,0.2l-1.7,-1.0zM43.5,15.7l2.5,2.3l-0.6,0.6l-2.5,-2.3zM-4.5,15.7l2.5,2.3l-0.6,0.6l-2.5,-2.3zM35.8,7.2l-3.4,1.5l-0.3,-0.8l3.4,-1.5zM0.7,22.6l0.2,3.5l-1.2,0.1l-0.2,-3.5zM48.7,22.6l0.2,3.5l-1.2,0.1l-0.2,-3.5zM4.1,25.1l-1.8,2.0l-0.4,-0.4l1.8,-2.0zM52.1,25.1l-1.8,2.0l-0.4,-0.4l1.8,-2.0zM39.7,35.8l3.7,2.0l-0.3,0.5l-3.7,-2.0zM24.9,33.9l-0.3,4.1l-1.2,-0.1l0.3,-4.1zM24.6,5.6l-1.3,0.2l-0,-0.4l1.3,-0.2zM20.4,17.8l1.2,1.6l-0.2,0.2l-1.2,-1.6zM29.7,5.0l-2.1,2.0l-0.5,-0.5l2.1,-2.0zM42.9,27.1l3.2,0.5l-0.1,0.7l-3.2,-0.5zM-5.1,27.1l3.2,0.5l-0.1,0.7l-3.2,-0.5zM31.7,32.0l-1.2,1.1l-0.4,-0.4l1.2,-1.1zM45.5,11.5l-4.7,0.6l-0.2,-1.4l4.7,-0.6zM-2.5,11.5l-4.7,0.6l-0.2,-1.4l4.7,-0.6z"/><path fill="#782C8F" d="M42.3,6.4l-3.1,5.1l-0.8,-0.5l3.1,-5.1zM23.7,12.9l-4.2,3.9l-0.6,-0.6l4.2,-3.9zM37.1,36.5l4,4.4l-1.4,1.3l-4,-4.4zM42.9,3.5l3.2,1.6l-0.2,0.5l-3.2,-1.6zM42.9,51.5l3.2,1.6l-0.2,0.5l-3.2,-1.6zM-5.1,3.5l3.2,1.6l-0.2,0.5l-3.2,-1.6zM-5.1,51.5l3.2,1.6l-0.2,0.5l-3.2,-1.6zM26.8,9.9l-1.8,3.8l-0.7,-0.3l1.8,-3.8zM20.3,37.7l-2.7,1.6l-0.4,-0.6l2.7,-1.6zM19.6,27.6l2,5.2l-0.9,0.4l-2,-5.2zM15.3,33.1l0.4,3.1l-0.4,0.0l-0.4,-3.1zM12.2,29.6l0.9,3.2l-0.9,0.3l-0.9,-3.2zM12,14.7l-0.4,2.3l-0.8,-0.1l0.4,-2.3zM9.9,30.5l3.8,0.0l-0,1.1l-3.8,0zM38,35.3l4.8,2.8l-0.7,1.2l-4.8,-2.8zM23.2,8.8l-5.7,1.3l-0.2,-1.0l5.7,-1.3zM46.9,36.9l-2,0.9l-0.2,-0.3l2,-0.9zM-1.1,36.9l-2,0.9l-0.2,-0.3l2,-0.9zM32.2,34.3l-2.9,0.2l-0,-0.6l2.9,-0.2zM29.6,46.9l-5.3,0.4l-0.1,-1.5l5.3,-0.4zM29.6,-1.1l-5.3,0.4l-0.1,-1.5l5.3,-0.4zM14.6,6.0l-1.4,3.2l-0.5,-0.2l1.4,-3.2zM10.5,38.0l1.3,0.1l-0,0.3l-1.3,-0.1zM26.9,26.7l3,0.3l-0.1,0.9l-3,-0.3z"/><path fill="#0AF5F8" d="M7.3,14.3l1.1,2.4l-0.6,0.3l-1.1,-2.4zM41.9,14.0l5.2,1.6l-0.2,0.7l-5.2,-1.6zM-6.1,14.0l5.2,1.6l-0.2,0.7l-5.2,-1.6zM38.5,30.2l-0.2,1.3l-0.2,0l0.2,-1.3zM36,10.0l-1.2,2.0l-0.4,-0.2l1.2,-2.0zM11.4,28.3l1.6,3.6l-1.2,0.5l-1.6,-3.6zM28.8,16.5l-1.2,1.8l-0.5,-0.3l1.2,-1.8zM35.8,39.2l-1.2,2.6l-0.4,-0.2l1.2,-2.6zM22.2,23.4l-3.6,4.0l-0.7,-0.7l3.6,-4.0zM40.6,41.5l5.9,0.6l-0.2,1.6l-5.9,-0.6zM40.6,-6.5l5.9,0.6l-0.2,1.6l-5.9,-0.6zM-7.4,41.5l5.9,0.6l-0.2,1.6l-5.9,-0.6zM-7.4,-6.5l5.9,0.6l-0.2,1.6l-5.9,-0.6zM46.8,15.2l0.7,5.7l-0.9,0.1l-0.7,-5.7zM-1.2,15.2l0.7,5.7l-0.9,0.1l-0.7,-5.7zM12.3,8.8l-1,4.6l-1.5,-0.3l1,-4.6zM22.4,7.4l-3.9,1.2l-0.2,-0.7l3.9,-1.2zM28.7,20.0l2.9,0.5l-0.1,0.4l-2.9,-0.5zM18.9,1.4l-1.9,0.7l-0.1,-0.4l1.9,-0.7zM18.9,49.4l-1.9,0.7l-0.1,-0.4l1.9,-0.7zM28.3,18.7l1.7,0.1l-0,0.5l-1.7,-0.1z"/><path fill="#EEAD22" d="M39.5,39.1l2.5,1.3l-0.2,0.4l-2.5,-1.3zM40.2,-1.8l-1.1,4.7l-0.7,-0.2l1.1,-4.7zM40.2,46.2l-1.1,4.7l-0.7,-0.2l1.1,-4.7zM31.9,6.1l-2.7,3.3l-0.4,-0.3l2.7,-3.3zM15.8,22.0l2.2,1.0l-0.1,0.3l-2.2,-1.0z"/><path fill="#0A6DBA" d="M1.3,29.8l-1.4,0.7l-0.1,-0.2l1.4,-0.7zM49.3,29.8l-1.4,0.7l-0.1,-0.2l1.4,-0.7zM19,40.3l-3,0.1l-0,-0.9l3,-0.1zM12.6,0.8l-2.5,0.1l-0,-0.6l2.5,-0.1zM12.6,48.8l-2.5,0.1l-0,-0.6l2.5,-0.1zM47.8,17.6l-1.3,2.3l-0.7,-0.4l1.3,-2.3zM-0.2,17.6l-1.3,2.3l-0.7,-0.4l1.3,-2.3zM20.3,27.4l-2.1,2.9l-0.8,-0.6l2.1,-2.9zM5.1,31.3l-3.6,1.3l-0.3,-0.7l3.6,-1.3zM53.1,31.3l-3.6,1.3l-0.3,-0.7l3.6,-1.3zM4.2,29.3l2.9,0.9l-0.2,0.8l-2.9,-0.9zM43.3,0.9l-0.3,4.8l-1.6,-0.1l0.3,-4.8zM43.3,48.9l-0.3,4.8l-1.6,-0.1l0.3,-4.8zM-4.7,0.9l-0.3,4.8l-1.6,-0.1l0.3,-4.8zM-4.7,48.9l-0.3,4.8l-1.6,-0.1l0.3,-4.8zM28.4,43.2l2.5,1.9l-0.6,0.7l-2.5,-1.9zM28.4,-4.8l2.5,1.9l-0.6,0.7l-2.5,-1.9zM14.1,28.4l5.7,0.8l-0.1,0.9l-5.7,-0.8zM31.4,30.9l0.2,3.8l-1.1,0.1l-0.2,-3.8zM45.6,15.7l0.8,0.9l-0.1,0.1l-0.8,-0.9zM-2.4,15.7l0.8,0.9l-0.1,0.1l-0.8,-0.9zM42.6,29.3l2.5,2.3l-0.8,0.8l-2.5,-2.3zM29.3,26.6l-2.8,2.7l-0.4,-0.4l2.8,-2.7zM12.1,43.1l-3,0.2l-0.1,-1.1l3,-0.2zM14.9,44.1l-3.7,2.1l-0.3,-0.5l3.7,-2.1zM14.9,-3.9l-3.7,2.1l-0.3,-0.5l3.7,-2.1zM22.9,27.1l2.7,4.1l-1.1,0.7l-2.7,-4.1zM3.9,5.5l-3.1,0.8l-0.2,-0.6l3.1,-0.8zM51.9,5.5l-3.1,0.8l-0.2,-0.6l3.1,-0.8zM6.9,9.2l-2.7,0.1l-0,-0.8l2.7,-0.1zM9.2,1.1l1,1.1l-0.3,0.3l-1,-1.1zM9.2,49.1l1,1.1l-0.3,0.3l-1,-1.1zM25.8,11.5l-3.5,0.6l-0.1,-0.7l3.5,-0.6zM38.5,7.7l-1,1.0l-0.3,-0.3l1,-1.0zM13.9,17.6l-1.1,0.7l-0.2,-0.3l1.1,-0.7zM31.9,6.1l-3.5,4.4l-0.6,-0.4l3.5,-4.4zM30.5,32.1l-3.6,0.5l-0.1,-0.7l3.6,-0.5zM7.5,23.3l-4.3,0.5l-0.1,-0.9l4.3,-0.5zM45.6,41.0l-0.5,1.6l-0.2,-0.1l0.5,-1.6zM45.7,0.0l-2.2,1.1l-0.4,-0.7l2.2,-1.1zM45.7,48.0l-2.2,1.1l-0.4,-0.7l2.2,-1.1zM12.3,1.6l-2.4,1.9l-0.4,-0.5l2.4,-1.9zM12.3,49.6l-2.4,1.9l-0.4,-0.5l2.4,-1.9zM3.5,12.1l2.3,5.2l-1,0.4l-2.3,-5.2zM51.5,12.1l2.3,5.2l-1,0.4l-2.3,-5.2zM25.3,23.7l-0.7,2.2l-0.5,-0.1l0.7,-2.2zM28.5,27.3l2.3,3.1l-0.5,0.4l-2.3,-3.1zM28.3,14.2l1.9,0.9l-0.3,0.6l-1.9,-0.9z"/><path fill="#FFFFFF" d="M22,33.9l0,3.0l-0.7,0.0l-0,-3.0zM15,10.5l4.3,2.6l-0.7,1.2l-4.3,-2.6zM29.1,20.0l1.1,1.6l-0.2,0.1l-1.1,-1.6zM38.1,20.3l-2.5,1.1l-0.4,-0.8l2.5,-1.1zM37.7,2.5l0,2.7l-0.9,0.0l-0,-2.7zM41.4,14.5l0.2,5.0l-0.7,0.0l-0.2,-5.0zM42,32.2l-4.1,2.0l-0.6,-1.3l4.1,-2.0zM40.2,44.6l0.8,1.9l-0.2,0.1l-0.8,-1.9zM40.2,-3.4l0.8,1.9l-0.2,0.1l-0.8,-1.9zM22.9,13.6l2.3,0.7l-0.2,0.5l-2.3,-0.7zM42.5,39.8l1.6,4.7l-0.8,0.3l-1.6,-4.7zM42.5,-8.2l1.6,4.7l-0.8,0.3l-1.6,-4.7zM-5.5,39.8l1.6,4.7l-0.8,0.3l-1.6,-4.7zM-5.5,-8.2l1.6,4.7l-0.8,0.3l-1.6,-4.7zM44.6,13.6l-2.5,1.7l-0.5,-0.8l2.5,-1.7zM47.2,39.7l1.4,0.9l-0.1,0.2l-1.4,-0.9zM-0.8,39.7l1.4,0.9l-0.1,0.2l-1.4,-0.9zM21.8,25.8l4.9,3.4l-1,1.4l-4.9,-3.4zM17.3,43.6l-5.3,0.9l-0.2,-1.2l5.3,-0.9zM17.3,-4.4l-5.3,0.9l-0.2,-1.2l5.3,-0.9zM43.3,21.1l1.2,2.2l-0.4,0.2l-1.2,-2.2zM45.7,18.7l-0.8,0.9l-0.2,-0.2l0.8,-0.9zM12.9,19.8l-0,4.2l-1.1,0l0,-4.2zM22.5,30.1l-1.3,2.4l-0.8,-0.4l1.3,-2.4zM10.6,-1.7l-0.5,4.2l-0.7,-0.1l0.5,-4.2zM10.6,46.3l-0.5,4.2l-0.7,-0.1l0.5,-4.2zM22.8,1.8l-2.4,2.3l-0.6,-0.6l2.4,-2.3zM22.8,49.8l-2.4,2.3l-0.6,-0.6l2.4,-2.3zM34.1,18.0l0.1,5.7l-1,0.0l-0.1,-5.7zM41.8,17.7l-0.9,1.5l-0.4,-0.3l0.9,-1.5zM16.6,2.7l-4.7,0.5l-0.1,-0.7l4.7,-0.5zM16.6,50.7l-4.7,0.5l-0.1,-0.7l4.7,-0.5z"/><path fill="#782C8F" d="M37.1,5.7l-4.3,3.6l-0.8,-0.9l4.3,-3.6zM16,6.6l-2.1,4.0l-1.1,-0.6l2.1,-4.0zM22.7,40.2l2.2,0.9l-0.2,0.4l-2.2,-0.9zM34.6,24.9l-0.5,1.8l-0.5,-0.1l0.5,-1.8zM22.1,10.7l3.6,2.5l-0.6,0.8l-3.6,-2.5zM4.6,39.9l-1.7,1.8l-0.3,-0.3l1.7,-1.8zM41.9,16.2l-4.5,2.6l-0.4,-0.7l4.5,-2.6zM32.8,19.7l-3.2,0.7l-0.1,-0.5l3.2,-0.7zM15.6,2.3l-4.3,1.8l-0.5,-1.2l4.3,-1.8zM15.6,50.3l-4.3,1.8l-0.5,-1.2l4.3,-1.8zM25.3,32.5l1.2,1.1l-0.3,0.4l-1.2,-1.1zM21.2,3.1l-0.6,2.5l-0.6,-0.1l0.6,-2.5zM18.5,33.6l-1.1,2.2l-0.7,-0.3l1.1,-2.2z"/><path fill="#0AF5F8" d="M17.7,39.0l-0.5,1.7l-0.3,-0.1l0.5,-1.7zM28,10.6l-1.1,1.5l-0.5,-0.4l1.1,-1.5zM46.3,20.4l-0.5,1.8l-0.5,-0.2l0.5,-1.8zM-1.7,20.4l-0.5,1.8l-0.5,-0.2l0.5,-1.8zM15.6,32.4l2.7,4.9l-1.4,0.8l-2.7,-4.9zM40.6,1.6l-2.9,2.1l-0.7,-1.0l2.9,-2.1zM40.6,49.6l-2.9,2.1l-0.7,-1.0l2.9,-2.1zM19.7,14.5l5.8,1.0l-0.3,1.7l-5.8,-1.0zM31.4,47.3l-0.2,1.2l-0.2,0l0.2,-1.2zM31.4,-0.7l-0.2,1.2l-0.2,0l0.2,-1.2zM19.2,8.9l4.1,0.2l-0.1,1.4l-4.1,-0.2zM34.4,33.4l-5.3,1.1l-0.2,-1.2l5.3,-1.1zM41.3,18.6l-1.5,4.5l-1,-0.3l1.5,-4.5zM5.2,5.0l1.1,5.7l-1.4,0.3l-1.1,-5.7zM53.2,5.0l1.1,5.7l-1.4,0.3l-1.1,-5.7zM46.2,14.1l1.3,5.8l-1.5,0.3l-1.3,-5.8zM-1.8,14.1l1.3,5.8l-1.5,0.3l-1.3,-5.8zM25.7,41.7l5.4,0.5l-0.1,0.8l-5.4,-0.5zM25.7,-6.3l5.4,0.5l-0.1,0.8l-5.4,-0.5zM20.1,27.9l1,5.9l-0.7,0.1l-1,-5.9z"/><path fill="#EEAD22" d="M12.5,35.5l0.6,1.9l-0.3,0.1l-0.6,-1.9zM6.3,6.2l-1,0.9l-0.2,-0.2l1,-0.9z"/><path fill="#0A6DBA" d="M28.7,27.4l-1.9,1.9l-0.3,-0.3l1.9,-1.9zM13.3,1.4l1.3,0.9l-0.1,0.2l-1.3,-0.9zM13.3,49.4l1.3,0.9l-0.1,0.2l-1.3,-0.9zM18.3,34.9l4.9,0.9l-0.2,1.1l-4.9,-0.9zM10.7,13.3l0.8,2.8l-0.6,0.2l-0.8,-2.8zM24.9,0.2l-2.4,1.4l-0.4,-0.7l2.4,-1.4zM24.9,48.2l-2.4,1.4l-0.4,-0.7l2.4,-1.4zM25.5,30.7l-0.4,1.6l-0.3,-0.1l0.4,-1.6zM11,-0.3l2.7,2.3l-0.6,0.6l-2.7,-2.3zM11,47.7l2.7,2.3l-0.6,0.6l-2.7,-2.3zM26.2,19.1l2.2,1.0l-0.1,0.3l-2.2,-1.0zM0.8,8.0l4.8,2.4l-0.6,1.3l-4.8,-2.4zM48.8,8.0l4.8,2.4l-0.6,1.3l-4.8,-2.4zM13.5,27.9l-4.5,3.0l-0.9,-1.4l4.5,-3.0zM22.6,26.0l1.3,2.8l-0.9,0.4l-1.3,-2.8zM2.2,14.5l2,2.1l-0.4,0.4l-2,-2.1zM50.2,14.5l2,2.1l-0.4,0.4l-2,-2.1zM14.1,46.8l2.2,1.7l-0.4,0.5l-2.2,-1.7zM14.1,-1.2l2.2,1.7l-0.4,0.5l-2.2,-1.7zM46.5,16.0l-2.9,0.8l-0.1,-0.4l2.9,-0.8zM-1.5,16.0l-2.9,0.8l-0.1,-0.4l2.9,-0.8zM22.9,28.7l0.5,3.6l-0.7,0.1l-0.5,-3.6zM35,41.2l-2.7,0.1l-0,-0.5l2.7,-0.1zM35.5,26.7l-3.1,3.8l-1,-0.8l3.1,-3.8zM1.3,32.3l-1.3,3.6l-0.4,-0.2l1.3,-3.6zM49.3,32.3l-1.3,3.6l-0.4,-0.2l1.3,-3.6zM41.8,35.5l-2.8,2.4l-0.5,-0.6l2.8,-2.4zM16.2,39.8l5.8,0.5l-0.1,1.5l-5.8,-0.5zM14.1,31.7l-3.5,0.8l-0.2,-0.8l3.5,-0.8z"/><path fill="#FFFFFF" d="M19,25.7l-1.9,2.8l-0.6,-0.4l1.9,-2.8zM43.6,40.6l0.9,1.8l-0.6,0.3l-0.9,-1.8zM13.6,26.6l3.2,3.2l-0.6,0.6l-3.2,-3.2zM25.2,27.5l-1.6,0.6l-0.2,-0.6l1.6,-0.6zM44.2,24.0l1.7,0.8l-0.2,0.5l-1.7,-0.8zM42.1,42.6l-1.7,5.3l-1.3,-0.4l1.7,-5.3zM42.1,-5.4l-1.7,5.3l-1.3,-0.4l1.7,-5.3zM21.4,2.6l-1.9,3.6l-1.2,-0.6l1.9,-3.6zM21.4,50.6l-1.9,3.6l-1.2,-0.6l1.9,-3.6zM9.6,0.3l-0.9,3.1l-0.8,-0.2l0.9,-3.1zM9.6,48.3l-0.9,3.1l-0.8,-0.2l0.9,-3.1zM48.4,38.0l-4.8,0.2l-0,-1.1l4.8,-0.2zM0.4,38.0l-4.8,0.2l-0,-1.1l4.8,-0.2zM13.1,0.7l1.8,4.7l-1.5,0.5l-1.8,-4.7zM13.1,48.7l1.8,4.7l-1.5,0.5l-1.8,-4.7zM28.7,22.0l-2.6,2.6l-0.9,-0.9l2.6,-2.6zM45.6,-1.7l0.8,5.5l-1,0.1l-0.8,-5.5zM45.6,46.3l0.8,5.5l-1,0.1l-0.8,-5.5zM-2.4,-1.7l0.8,5.5l-1,0.1l-0.8,-5.5zM-2.4,46.3l0.8,5.5l-1,0.1l-0.8,-5.5zM22.8,24.0l3.4,1.7l-0.3,0.6l-3.4,-1.7zM42.8,13.8l0,4.4l-0.6,0.0l-0,-4.4zM30.8,38.2l2.7,4.2l-0.6,0.4l-2.7,-4.2zM38.3,22.2l3,2.1l-0.4,0.6l-3,-2.1zM10.4,31.7l-1.9,1.3l-0.2,-0.3l1.9,-1.3zM24.3,21.8l-2.8,0.3l-0.1,-0.9l2.8,-0.3zM25.5,33.5l1.3,3.8l-1.1,0.4l-1.3,-3.8zM27.7,43.7l0.1,6.0l-0.9,0.0l-0.1,-6.0zM27.7,-4.3l0.1,6.0l-0.9,0.0l-0.1,-6.0zM40.1,41.3l-4.4,0.5l-0.1,-0.6l4.4,-0.5zM7.5,16.2l-1.5,4.6l-1.6,-0.5l1.5,-4.6zM2.6,1.1l-0.7,1.4l-0.3,-0.2l0.7,-1.4zM2.6,49.1l-0.7,1.4l-0.3,-0.2l0.7,-1.4zM50.6,1.1l-0.7,1.4l-0.3,-0.2l0.7,-1.4zM50.6,49.1l-0.7,1.4l-0.3,-0.2l0.7,-1.4zM12.5,16.9l-2.1,2.4l-0.6,-0.5l2.1,-2.4zM7.9,19.6l1.7,4.9l-1.6,0.6l-1.7,-4.9zM2.7,19.1l4.5,2.1l-0.5,1.1l-4.5,-2.1zM50.7,19.1l4.5,2.1l-0.5,1.1l-4.5,-2.1zM22.3,12.1l-1.6,3.0l-0.7,-0.4l1.6,-3.0zM6.1,41.1l2.5,0.4l-0.1,0.9l-2.5,-0.4zM22.3,14.0l1.7,4.3l-1,0.4l-1.7,-4.3zM46.1,-1.5l4.6,3.8l-1.2,1.5l-4.6,-3.8zM46.1,46.5l4.6,3.8l-1.2,1.5l-4.6,-3.8zM-1.9,-1.5l4.6,3.8l-1.2,1.5l-4.6,-3.8zM-1.9,46.5l4.6,3.8l-1.2,1.5l-4.6,-3.8zM23.9,19.0l-3.1,1.7l-0.6,-1.0l3.1,-1.7zM28,18.4l4.7,2.6l-0.5,1.0l-4.7,-2.6zM1.6,22.4l-0.5,2.3l-0.7,-0.2l0.5,-2.3zM49.6,22.4l-0.5,2.3l-0.7,-0.2l0.5,-2.3zM11.6,17.2l-1,1.5l-0.4,-0.3l1,-1.5z"/><path fill="#782C8F" d="M20.8,20.8l-0.8,1.6l-0.2,-0.1l0.8,-1.6zM24.2,16.0l-4.3,2.0l-0.4,-1.0l4.3,-2.0zM3.2,5.5l-1.4,2.4l-0.3,-0.2l1.4,-2.4zM51.2,5.5l-1.4,2.4l-0.3,-0.2l1.4,-2.4zM35.8,26.1l-0.6,2.6l-0.9,-0.2l0.6,-2.6zM10,11.2l5.3,1.5l-0.3,1.2l-5.3,-1.5zM14.7,9.2l-0.6,5.5l-1.7,-0.2l0.6,-5.5zM8.1,43.8l1.5,4.5l-1.3,0.4l-1.5,-4.5zM8.1,-4.2l1.5,4.5l-1.3,0.4l-1.5,-4.5zM-1.6,14.1l4.7,0.8l-0.1,0.7l-4.7,-0.8zM46.4,14.1l4.7,0.8l-0.1,0.7l-4.7,-0.8zM15.9,27.1l-2.1,5.5l-1.9,-0.7l2.1,-5.5zM15.3,9.8l-4.8,1.6l-0.4,-1.1l4.8,-1.6zM11.8,33.8l-1.6,1.2l-0.3,-0.4l1.6,-1.2zM36,32.4l5.4,0.5l-0.1,1.0l-5.4,-0.5zM25.2,31.5l2.6,5.3l-0.9,0.4l-2.6,-5.3zM15.8,1.6l1.5,5.2l-1.6,0.5l-1.5,-5.2zM15.8,49.6l1.5,5.2l-1.6,0.5l-1.5,-5.2z"/><path fill="#0AF5F8" d="M39.5,24.3l1.8,3.5l-1.2,0.6l-1.8,-3.5zM2.6,0.5l4.2,2.3l-0.7,1.3l-4.2,-2.3zM2.6,48.5l4.2,2.3l-0.7,1.3l-4.2,-2.3zM50.6,0.5l4.2,2.3l-0.7,1.3l-4.2,-2.3zM50.6,48.5l4.2,2.3l-0.7,1.3l-4.2,-2.3zM47.1,6.7l-1.4,5.3l-1.8,-0.5l1.4,-5.3zM-0.9,6.7l-1.4,5.3l-1.8,-0.5l1.4,-5.3zM29.2,4.4l4.2,3.8l-0.7,0.7l-4.2,-3.8zM29.2,52.4l4.2,3.8l-0.7,0.7l-4.2,-3.8zM6.9,31.8l3.1,1.2l-0.2,0.6l-3.1,-1.2zM23.7,0.7l-5.4,0.8l-0.1,-0.8l5.4,-0.8zM23.7,48.7l-5.4,0.8l-0.1,-0.8l5.4,-0.8zM5.1,41.3l-1.3,1.9l-0.4,-0.2l1.3,-1.9zM28.9,31.7l-0.7,4.6l-0.7,-0.1l0.7,-4.6zM38,28.6l-3.5,0.5l-0.1,-0.8l3.5,-0.5zM42.9,33.6l-3.1,1.7l-0.4,-0.8l3.1,-1.7zM2.5,9.9l2.5,1.3l-0.2,0.4l-2.5,-1.3zM50.5,9.9l2.5,1.3l-0.2,0.4l-2.5,-1.3zM47.9,12.9l-4.7,0.3l-0.1,-1.5l4.7,-0.3zM-0.1,12.9l-4.7,0.3l-0.1,-1.5l4.7,-0.3zM46.4,3.6l1.2,2.9l-0.6,0.3l-1.2,-2.9zM-1.6,3.6l1.2,2.9l-0.6,0.3l-1.2,-2.9zM32,17.6l3.6,4.2l-1.4,1.1l-3.6,-4.2zM16.6,26.9l5,0.5l-0.2,1.6l-5,-0.5z"/><path fill="#0A6DBA" d="M25.6,24.6l3.6,1.9l-0.3,0.5l-3.6,-1.9zM2.3,41.3l2.5,0.5l-0.1,0.4l-2.5,-0.5zM50.3,41.3l2.5,0.5l-0.1,0.4l-2.5,-0.5zM35.8,22.5l2.2,2.3l-0.8,0.7l-2.2,-2.3zM26.3,0.3l3.4,3.4l-0.6,0.6l-3.4,-3.4zM26.3,48.3l3.4,3.4l-0.6,0.6l-3.4,-3.4zM30.2,24.9l-3.9,1.1l-0.4,-1.2l3.9,-1.1zM48.6,4.8l-1.4,1.0l-0.3,-0.4l1.4,-1.0zM0.6,4.8l-1.4,1.0l-0.3,-0.4l1.4,-1.0zM18.3,36.1l-3.5,3.8l-1.1,-1.0l3.5,-3.8zM3.2,44.9l-1.2,2.5l-0.5,-0.2l1.2,-2.5zM3.2,-3.1l-1.2,2.5l-0.5,-0.2l1.2,-2.5zM51.2,44.9l-1.2,2.5l-0.5,-0.2l1.2,-2.5zM51.2,-3.1l-1.2,2.5l-0.5,-0.2l1.2,-2.5zM9.7,17.1l-2.8,0.4l-0.1,-0.5l2.8,-0.4zM42.2,35.6l2.8,2.8l-0.5,0.5l-2.8,-2.8zM-5.8,35.6l2.8,2.8l-0.5,0.5l-2.8,-2.8zM9.5,36.3l-3.5,3.4l-0.9,-0.9l3.5,-3.4zM38,20.7l2.9,4.5l-0.7,0.5l-2.9,-4.5zM21.3,1.3l4.3,1.1l-0.1,0.6l-4.3,-1.1zM21.3,49.3l4.3,1.1l-0.1,0.6l-4.3,-1.1zM42.2,14.4l-2.9,3.9l-0.7,-0.5l2.9,-3.9zM8.9,42.1l-2.6,2.1l-0.3,-0.3l2.6,-2.1zM36.1,28.6l-1.4,0.2l-0.1,-0.5l1.4,-0.2zM47.6,18.2l-1.8,0.4l-0.1,-0.4l1.8,-0.4zM-0.4,18.2l-1.8,0.4l-0.1,-0.4l1.8,-0.4zM30.7,18.6l2.1,4.8l-0.6,0.3l-2.1,-4.8zM45.2,28.2l1.4,2.4l-0.5,0.3l-1.4,-2.4zM-2.8,28.2l1.4,2.4l-0.5,0.3l-1.4,-2.4zM3.3,18.6l0.9,1.3l-0.5,0.3l-0.9,-1.3zM24,19.9l3.7,0.9l-0.1,0.4l-3.7,-0.9zM25.2,2.6l-0.6,1.4l-0.4,-0.2l0.6,-1.4zM27.2,28.5l-1.2,1.8l-0.4,-0.3l1.2,-1.8zM26.2,1.8l-2.7,1.0l-0.2,-0.4l2.7,-1.0zM26.2,49.8l-2.7,1.0l-0.2,-0.4l2.7,-1.0zM1.6,13.8l4.7,1.1l-0.2,0.8l-4.7,-1.1zM49.6,13.8l4.7,1.1l-0.2,0.8l-4.7,-1.1zM20.9,10.4l-0.2,1.4l-0.5,-0.1l0.2,-1.4zM42.6,45.4l-4.2,0.0l-0,-1.0l4.2,0zM42.6,-2.6l-4.2,0.0l-0,-1.0l4.2,0zM25,3.7l-0.9,1.6l-0.3,-0.2l0.9,-1.6zM29.5,36.3l4.2,2.6l-0.7,1.1l-4.2,-2.6zM14.4,40.3l-4.8,0.2l-0,-1.2l4.8,-0.2zM41.3,34.4l2.3,4.5l-1.3,0.7l-2.3,-4.5zM37.9,4.8l2,4.1l-0.5,0.3l-2,-4.1zM30.1,27.6l-4.1,1.4l-0.4,-1.3l4.1,-1.4z"/><path fill="#FFFFFF" d="M17.3,-0.1l-2.3,2.1l-0.5,-0.5l2.3,-2.1zM17.3,47.9l-2.3,2.1l-0.5,-0.5l2.3,-2.1zM44.5,39.5l3.4,1.0l-0.3,0.9l-3.4,-1.0zM-3.5,39.5l3.4,1.0l-0.3,0.9l-3.4,-1.0zM27.5,19.5l-1.5,0.7l-0.2,-0.4l1.5,-0.7zM40.6,25.6l1.6,3.4l-0.9,0.4l-1.6,-3.4zM29.6,33.6l3.7,0.4l-0.1,0.8l-3.7,-0.4zM34.7,24.2l0.5,4.0l-0.9,0.1l-0.5,-4.0zM44,20.1l0.4,2.0l-0.5,0.1l-0.4,-2.0zM48.3,15.4l-2.5,0.7l-0.1,-0.4l2.5,-0.7zM0.3,15.4l-2.5,0.7l-0.1,-0.4l2.5,-0.7zM28.9,20.8l3.5,4.4l-0.6,0.5l-3.5,-4.4zM39.9,5.6l0.6,5.2l-0.7,0.1l-0.6,-5.2zM9.1,27.6l4.3,0.9l-0.2,0.7l-4.3,-0.9zM8.2,43.0l-2.4,4.9l-0.9,-0.4l2.4,-4.9zM8.2,-5.0l-2.4,4.9l-0.9,-0.4l2.4,-4.9zM30.8,35.1l0.8,1.4l-0.2,0.1l-0.8,-1.4zM46.6,14.6l-1.2,2.2l-0.6,-0.3l1.2,-2.2zM-1.4,14.6l-1.2,2.2l-0.6,-0.3l1.2,-2.2zM3.7,45.1l2.9,1.8l-0.5,0.8l-2.9,-1.8zM3.7,-2.9l2.9,1.8l-0.5,0.8l-2.9,-1.8zM41.6,29.4l-4.6,0.0l-0,-0.8l4.6,0zM-0.1,36.3l3.9,3.9l-1,1.0l-3.9,-3.9zM47.9,36.3l3.9,3.9l-1,1.0l-3.9,-3.9zM35.6,26.7l-1.5,3.6l-0.8,-0.4l1.5,-3.6zM16.4,28.7l-3.4,1.7l-0.5,-1.0l3.4,-1.7zM33.1,-1.4l0.1,3.1l-0.5,0.0l-0.1,-3.1zM33.1,46.6l0.1,3.1l-0.5,0.0l-0.1,-3.1zM43.2,43.6l1,4.0l-0.6,0.1l-1,-4.0zM43.2,-4.4l1,4.0l-0.6,0.1l-1,-4.0zM-4.8,43.6l1,4.0l-0.6,0.1l-1,-4.0zM-4.8,-4.4l1,4.0l-0.6,0.1l-1,-4.0zM5,26.2l3.7,1.5l-0.4,0.9l-3.7,-1.5zM10.5,3.2l3.6,0.6l-0.2,1.0l-3.6,-0.6zM10.5,51.2l3.6,0.6l-0.2,1.0l-3.6,-0.6zM18.3,19.4l1.4,4.5l-1.3,0.4l-1.4,-4.5zM30.7,30.4l-3,3.3l-0.7,-0.6l3,-3.3zM42.2,24.0l-3.9,1.5l-0.5,-1.3l3.9,-1.5zM17,39.5l-0.5,4.3l-1.2,-0.1l0.5,-4.3z"/><path fill="#782C8F" d="M27.9,20.6l-0.6,5.5l-1.2,-0.1l0.6,-5.5zM26.8,14.6l-2.2,0.5l-0.1,-0.7l2.2,-0.5zM48,24.9l0.2,3.9l-1.1,0.1l-0.2,-3.9zM0,24.9l0.2,3.9l-1.1,0.1l-0.2,-3.9zM48.6,22.4l-1.6,5.3l-1.6,-0.5l1.6,-5.3zM0.6,22.4l-1.6,5.3l-1.6,-0.5l1.6,-5.3zM21.6,6.0l3.7,0.6l-0.1,0.8l-3.7,-0.6zM23.3,20.0l2.4,1.4l-0.5,0.8l-2.4,-1.4zM45.9,0.8l-2,1.5l-0.2,-0.3l2,-1.5zM45.9,48.8l-2,1.5l-0.2,-0.3l2,-1.5zM-2.1,0.8l-2,1.5l-0.2,-0.3l2,-1.5zM-2.1,48.8l-2,1.5l-0.2,-0.3l2,-1.5zM5.9,2.3l-5.9,0.5l-0.2,-1.9l5.9,-0.5zM5.9,50.3l-5.9,0.5l-0.2,-1.9l5.9,-0.5zM53.9,2.3l-5.9,0.5l-0.2,-1.9l5.9,-0.5zM53.9,50.3l-5.9,0.5l-0.2,-1.9l5.9,-0.5zM29.2,31.4l1.8,5.0l-0.9,0.3l-1.8,-5.0zM21.3,25.9l-2.2,0.9l-0.3,-0.7l2.2,-0.9z"/><path fill="#0AF5F8" d="M23.3,27.6l-1.2,0.8l-0.2,-0.2l1.2,-0.8zM35.4,38.9l-1.1,1.2l-0.4,-0.4l1.1,-1.2zM17.1,2.0l-1,0.9l-0.1,-0.2l1,-0.9zM40.4,30.5l-2.9,5.1l-0.9,-0.5l2.9,-5.1zM21.3,-1.4l2.9,5.1l-0.6,0.4l-2.9,-5.1zM21.3,46.6l2.9,5.1l-0.6,0.4l-2.9,-5.1zM15.9,15.9l-2.5,5.3l-1,-0.5l2.5,-5.3zM36.2,1.2l-2.5,2.0l-0.4,-0.5l2.5,-2.0zM36.2,49.2l-2.5,2.0l-0.4,-0.5l2.5,-2.0zM37.3,11.8l0.6,2.6l-0.3,0.1l-0.6,-2.6zM28.9,25.8l-0.3,1.9l-0.6,-0.1l0.3,-1.9zM1.8,39.4l3.2,0.9l-0.3,1.1l-3.2,-0.9zM49.8,39.4l3.2,0.9l-0.3,1.1l-3.2,-0.9zM21.6,22.0l-1.1,3.8l-1.3,-0.4l1.1,-3.8zM11.6,28.6l-3.4,4.5l-1.1,-0.8l3.4,-4.5zM39.1,44.9l-0.2,2.1l-0.6,-0.1l0.2,-2.1zM39.1,-3.1l-0.2,2.1l-0.6,-0.1l0.2,-2.1zM4.7,17.2l2.9,3.3l-1.1,0.9l-2.9,-3.3z"/><path fill="#0A6DBA" d="M42,23.5l-4,4.0l-0.5,-0.5l4,-4.0zM9.3,19.0l-4.3,1.1l-0.4,-1.4l4.3,-1.1zM14.4,42.4l2,5.5l-1.8,0.7l-2,-5.5zM14.4,-5.6l2,5.5l-1.8,0.7l-2,-5.5zM20.7,15.7l-1.9,3.3l-0.5,-0.3l1.9,-3.3zM37.2,35.6l-0.5,1.6l-0.4,-0.1l0.5,-1.6zM8,37.9l2.5,1.9l-0.4,0.6l-2.5,-1.9zM3.6,30.7l2.2,3.4l-1.2,0.8l-2.2,-3.4zM51.6,30.7l2.2,3.4l-1.2,0.8l-2.2,-3.4zM8,0.2l3.2,1.0l-0.3,0.8l-3.2,-1.0zM8,48.2l3.2,1.0l-0.3,0.8l-3.2,-1.0zM33.1,36.2l3.5,0.6l-0.2,0.9l-3.5,-0.6zM13.1,32.2l-2,0.2l-0,-0.4l2,-0.2zM9.9,9.6l-1.2,4.3l-1,-0.3l1.2,-4.3zM18.1,37.1l4.4,2.5l-0.8,1.4l-4.4,-2.5zM31.8,9.1l-5.2,2.5l-0.7,-1.5l5.2,-2.5zM44.4,21.5l-4.1,0.6l-0.1,-0.8l4.1,-0.6zM22.6,11.3l1.4,3.3l-0.6,0.3l-1.4,-3.3zM30.8,43.7l3.4,2.7l-0.9,1.1l-3.4,-2.7zM30.8,-4.3l3.4,2.7l-0.9,1.1l-3.4,-2.7zM44.4,44.2l-5.3,2.7l-0.4,-0.8l5.3,-2.7zM44.4,-3.8l-5.3,2.7l-0.4,-0.8l5.3,-2.7zM-3.6,44.2l-5.3,2.7l-0.4,-0.8l5.3,-2.7zM-3.6,-3.8l-5.3,2.7l-0.4,-0.8l5.3,-2.7zM8.4,10.1l-0.4,1.6l-0.3,-0.1l0.4,-1.6zM6.8,23.4l2.6,5.1l-1.7,0.9l-2.6,-5.1zM22.5,24.3l-1.2,1.1l-0.2,-0.3l1.2,-1.1zM16.5,35.0l3.8,2.5l-0.9,1.3l-3.8,-2.5zM3.9,5.2l1.8,5.2l-0.8,0.3l-1.8,-5.2zM51.9,5.2l1.8,5.2l-0.8,0.3l-1.8,-5.2zM48.1,7.2l-0.7,1.1l-0.4,-0.2l0.7,-1.1zM0.1,7.2l-0.7,1.1l-0.4,-0.2l0.7,-1.1zM30.6,9.0l-1.7,2.1l-0.4,-0.3l1.7,-2.1z"/><path fill="#FFFFFF" d="M14.1,33.0l0.1,2.4l-0.5,0.0l-0.1,-2.4zM7.4,25.1l3.5,1.2l-0.2,0.6l-3.5,-1.2zM13.6,6.7l0.6,1.1l-0.2,0.1l-0.6,-1.1zM48.8,36.3l-1.6,0.9l-0.1,-0.2l1.6,-0.9zM0.8,36.3l-1.6,0.9l-0.1,-0.2l1.6,-0.9zM14.4,28.4l-1.8,2.7l-0.6,-0.4l1.8,-2.7zM14.6,25.3l2.9,0.4l-0.1,0.4l-2.9,-0.4zM29.6,32.0l-5.4,2.5l-0.9,-1.9l5.4,-2.5zM23.6,9.2l2.3,5.1l-1.6,0.7l-2.3,-5.1zM39.3,21.4l-4.8,0.1l-0,-1.4l4.8,-0.1zM42.9,40.3l-0.1,2.4l-0.8,0l0.1,-2.4zM23.5,8.4l2,1.6l-0.2,0.3l-2,-1.6zM30.4,2.5l-5.3,2.1l-0.6,-1.5l5.3,-2.1zM30.4,50.5l-5.3,2.1l-0.6,-1.5l5.3,-2.1zM50.4,25.5l-5.4,2.1l-0.4,-1.1l5.4,-2.1zM2.4,25.5l-5.4,2.1l-0.4,-1.1l5.4,-2.1zM18.7,39.7l0.5,1.1l-0.2,0.1l-0.5,-1.1zM1.9,23.5l1,4.2l-1.1,0.3l-1,-4.2zM49.9,23.5l1,4.2l-1.1,0.3l-1,-4.2zM11.5,8.3l2.5,0.8l-0.2,0.7l-2.5,-0.8zM16.5,40.6l-4.3,0.3l-0.1,-1.0l4.3,-0.3zM18.9,33.2l2.8,0.9l-0.1,0.5l-2.8,-0.9zM19.3,0.5l2,4.0l-1.2,0.6l-2,-4.0zM19.3,48.5l2,4.0l-1.2,0.6l-2,-4.0zM0.9,14.1l3.1,2.5l-0.6,0.7l-3.1,-2.5zM48.9,14.1l3.1,2.5l-0.6,0.7l-3.1,-2.5zM24,36.6l-1.1,2.9l-0.4,-0.2l1.1,-2.9zM34.5,23.6l-3.2,2.2l-0.5,-0.7l3.2,-2.2zM33.8,12.5l-2.8,5.1l-1.7,-0.9l2.8,-5.1zM24.5,25.2l-2.3,3.1l-1.1,-0.8l2.3,-3.1zM29.4,3.2l3.9,2.6l-0.5,0.7l-3.9,-2.6zM29.4,51.2l3.9,2.6l-0.5,0.7l-3.9,-2.6zM2.5,29.6l0.9,2.0l-0.4,0.2l-0.9,-2.0zM50.5,29.6l0.9,2.0l-0.4,0.2l-0.9,-2.0zM20.2,37.9l3.8,4.6l-1,0.9l-3.8,-4.6zM2,10.0l1.8,1.6l-0.4,0.5l-1.8,-1.6zM50,10.0l1.8,1.6l-0.4,0.5l-1.8,-1.6zM21.6,32.4l-3.2,1.4l-0.3,-0.8l3.2,-1.4z"/><path fill="#782C8F" d="M24.7,30.1l-4.2,3.5l-0.6,-0.7l4.2,-3.5zM22.2,32.9l-3.5,0.0l-0,-0.7l3.5,0zM40.1,22.5l-0.9,4.3l-1.2,-0.2l0.9,-4.3zM41.5,21.1l-4,0.9l-0.1,-0.6l4,-0.9zM41.2,4.4l-1.9,2.8l-0.8,-0.6l1.9,-2.8zM29.8,25.5l3.7,4.3l-1.1,0.9l-3.7,-4.3zM-0.4,7.6l3.9,1.1l-0.3,1.0l-3.9,-1.1zM47.6,7.6l3.9,1.1l-0.3,1.0l-3.9,-1.1zM38.4,41.3l2.9,4.7l-1.2,0.8l-2.9,-4.7zM38.4,-6.7l2.9,4.7l-1.2,0.8l-2.9,-4.7zM39.9,25.8l-1.3,3.1l-0.8,-0.3l1.3,-3.1zM23.3,35.9l0.1,1.2l-0.4,0.0l-0.1,-1.2zM42.7,6.1l4.9,1.7l-0.6,1.6l-4.9,-1.7zM-5.3,6.1l4.9,1.7l-0.6,1.6l-4.9,-1.7zM22.4,44.0l-0.9,0.9l-0.2,-0.2l0.9,-0.9z"/><path fill="#0AF5F8" d="M17.8,36.0l-3.5,2.9l-0.6,-0.7l3.5,-2.9zM4.6,44.9l-1.3,3.0l-0.4,-0.2l1.3,-3.0zM4.6,-3.1l-1.3,3.0l-0.4,-0.2l1.3,-3.0zM52.6,44.9l-1.3,3.0l-0.4,-0.2l1.3,-3.0zM52.6,-3.1l-1.3,3.0l-0.4,-0.2l1.3,-3.0zM4.6,41.3l-0.7,1.7l-0.2,-0.1l0.7,-1.7zM18.5,11.1l-1.2,4.0l-0.5,-0.1l1.2,-4.0zM9.4,20.3l-0.4,4.3l-1.5,-0.1l0.4,-4.3zM19.3,13.3l0.9,2.0l-0.3,0.1l-0.9,-2.0zM27,16.0l-1.9,2.2l-0.5,-0.4l1.9,-2.2zM33.8,40.1l-4.6,3.1l-0.7,-1.1l4.6,-3.1zM20.9,31.5l1.2,1.2l-0.2,0.2l-1.2,-1.2zM46.1,41.9l2.7,3.3l-0.6,0.5l-2.7,-3.3zM46.1,-6.1l2.7,3.3l-0.6,0.5l-2.7,-3.3zM-1.9,41.9l2.7,3.3l-0.6,0.5l-2.7,-3.3zM-1.9,-6.1l2.7,3.3l-0.6,0.5l-2.7,-3.3zM36.8,13.4l-0.4,2.5l-0.9,-0.1l0.4,-2.5zM27.3,4.1l1,2.1l-0.5,0.2l-1,-2.1zM5.9,11.4l3.7,4.4l-0.8,0.7l-3.7,-4.4zM24.2,21.9l-3,2.5l-0.7,-0.8l3,-2.5zM5.3,26.4l-1.2,3.0l-0.6,-0.2l1.2,-3.0zM16.6,35.0l-5,3.0l-0.6,-1.0l5,-3.0zM5.8,15.4l2.2,3.3l-0.6,0.4l-2.2,-3.3zM7.9,20.5l-5.2,0.1l-0,-1.7l5.2,-0.1zM55.9,20.5l-5.2,0.1l-0,-1.7l5.2,-0.1z"/><path fill="#EEAD22" d="M16.3,38.0l-1.4,5.8l-1.3,-0.3l1.4,-5.8z"/></pattern><pattern id="tx1s" width="56" height="56" patternUnits="userSpaceOnUse"><rect width="56" height="56" fill="#FFFFFF"/><path fill="#0A6DBA" d="M4.1,20.5l4.8,1.8l-0.4,1.2l-4.8,-1.8zM40.5,6.1l4.8,2.2l-1,2.1l-4.8,-2.2zM14.7,32.7l-3.9,2.2l-1.2,-2.1l3.9,-2.2zM14.1,44.9l-4.3,4.8l-1,-0.9l4.3,-4.8zM8,33.4l4.3,1.3l-0.6,1.9l-4.3,-1.3zM51.3,31.1l1.6,4.9l-1.1,0.4l-1.6,-4.9zM-4.7,31.1l1.6,4.9l-1.1,0.4l-1.6,-4.9zM12,16.1l0.4,5.2l-2.6,0.2l-0.4,-5.2zM9,8.7l-5.2,0.4l-0.2,-2.3l5.2,-0.4zM16.9,9.7l-2,0.9l-0.2,-0.5l2,-0.9zM34.1,10.0l1.7,2.3l-1.1,0.8l-1.7,-2.3zM25.8,36.5l1.3,4.2l-2.1,0.7l-1.3,-4.2zM46,39.0l-1.5,6.0l-2.7,-0.7l1.5,-6.0zM47.5,4.7l1.4,3.6l-0.9,0.4l-1.4,-3.6zM25.9,38.9l-3.4,2.8l-0.8,-1.0l3.4,-2.8zM45.8,18.3l1.4,3.6l-1.7,0.7l-1.4,-3.6zM14.5,18.3l-3.9,3.4l-1.1,-1.3l3.9,-3.4zM16.1,35.3l-4.1,0.8l-0.3,-1.5l4.1,-0.8zM10.6,-0.2l0.3,4.2l-1.3,0.1l-0.3,-4.2zM10.6,55.8l0.3,4.2l-1.3,0.1l-0.3,-4.2zM2.8,21.3l-5.2,1.5l-0.4,-1.6l5.2,-1.5zM58.8,21.3l-5.2,1.5l-0.4,-1.6l5.2,-1.5zM39,-0.7l3.3,5.4l-2.4,1.5l-3.3,-5.4zM39,55.3l3.3,5.4l-2.4,1.5l-3.3,-5.4zM3.2,16.5l-0.3,2.2l-0.7,-0.1l0.3,-2.2zM59.2,16.5l-0.3,2.2l-0.7,-0.1l0.3,-2.2zM6.2,48.2l-2.2,0.6l-0.3,-0.9l2.2,-0.6zM25.2,23.1l-5.5,3.0l-1.3,-2.4l5.5,-3.0zM42.9,24.5l-2.6,2.8l-1.4,-1.2l2.6,-2.8zM23.6,36.0l2.7,2.3l-0.6,0.7l-2.7,-2.3zM53.3,8.3l-4.2,3.4l-0.8,-1.0l4.2,-3.4zM-2.7,8.3l-4.2,3.4l-0.8,-1.0l4.2,-3.4zM44.8,23.7l-1.9,1.4l-0.3,-0.4l1.9,-1.4zM9,47.4l-1.9,2.0l-0.9,-0.8l1.9,-2.0zM8.3,3.2l3.8,0.6l-0.2,1.2l-3.8,-0.6zM8.3,59.2l3.8,0.6l-0.2,1.2l-3.8,-0.6zM44.7,2.1l3.3,1.9l-0.7,1.3l-3.3,-1.9zM44.7,58.1l3.3,1.9l-0.7,1.3l-3.3,-1.9zM7.4,6.5l-3.8,5.1l-2.6,-1.9l3.8,-5.1zM63.4,6.5l-3.8,5.1l-2.6,-1.9l3.8,-5.1zM21.7,37.5l4,4.4l-1.1,1.0l-4,-4.4zM33.1,50.2l-2.6,3.8l-0.9,-0.6l2.6,-3.8zM33.1,-5.8l-2.6,3.8l-0.9,-0.6l2.6,-3.8zM27.5,19.5l-1.5,2.7l-1.1,-0.6l1.5,-2.7zM38.5,33.7l-3.2,0.6l-0.1,-0.7l3.2,-0.6zM24.8,11.3l1.9,4.8l-2.3,0.9l-1.9,-4.8zM3.7,5.5l2.3,2.9l-1.4,1.1l-2.3,-2.9zM59.7,5.5l2.3,2.9l-1.4,1.1l-2.3,-2.9zM40.5,43.5l5.6,3.2l-0.7,1.2l-5.6,-3.2z"/><path fill="#0AF5F8" d="M21.9,22.1l6.5,0.4l-0.1,1.5l-6.5,-0.4zM12.2,0.5l1.1,3.3l-1.1,0.4l-1.1,-3.3zM12.2,56.5l1.1,3.3l-1.1,0.4l-1.1,-3.3zM50.4,53.3l-5.1,3.9l-2.1,-2.8l5.1,-3.9zM50.4,-2.7l-5.1,3.9l-2.1,-2.8l5.1,-3.9zM45.5,31.7l-2.5,0.1l-0,-0.6l2.5,-0.1zM45.6,14.2l-1.5,3.3l-1.4,-0.6l1.5,-3.3zM38.2,23.9l4.8,2.1l-0.8,1.7l-4.8,-2.1zM24.2,43.4l-2.7,1.4l-0.6,-1.1l2.7,-1.4zM17.6,3.0l1.8,4.2l-1.1,0.5l-1.8,-4.2zM17.6,59.0l1.8,4.2l-1.1,0.5l-1.8,-4.2zM52.4,35.3l2.5,3.6l-1.8,1.2l-2.5,-3.6zM-3.6,35.3l2.5,3.6l-1.8,1.2l-2.5,-3.6zM39.5,30.7l-2.5,1.6l-0.5,-0.9l2.5,-1.6zM8.7,-1.6l0.4,5.6l-2,0.1l-0.4,-5.6zM8.7,54.4l0.4,5.6l-2,0.1l-0.4,-5.6zM38.1,47.3l2.8,5.0l-2.3,1.3l-2.8,-5.0zM38.1,-8.7l2.8,5.0l-2.3,1.3l-2.8,-5.0zM5.5,30.3l5.5,2.3l-1.1,2.8l-5.5,-2.3zM12,15.9l3.5,5.3l-1.8,1.2l-3.5,-5.3zM24.9,18.3l5,1.0l-0.4,1.8l-5,-1.0zM15.9,45.6l4.2,1.6l-0.8,2.0l-4.2,-1.6zM10.1,24.3l1.1,2.3l-1.2,0.6l-1.1,-2.3zM51.7,44.9l-1.7,3.1l-1.1,-0.6l1.7,-3.1zM22.2,47.7l-5.3,1.8l-0.4,-1.2l5.3,-1.8zM17.6,9.4l-2.2,1.1l-0.5,-1.0l2.2,-1.1zM5.5,48.6l2.3,4.4l-1.6,0.9l-2.3,-4.4zM5.5,-7.4l2.3,4.4l-1.6,0.9l-2.3,-4.4zM61.5,48.6l2.3,4.4l-1.6,0.9l-2.3,-4.4zM61.5,-7.4l2.3,4.4l-1.6,0.9l-2.3,-4.4zM57,1.7l-3.3,2.3l-0.7,-1.1l3.3,-2.3zM57,57.7l-3.3,2.3l-0.7,-1.1l3.3,-2.3zM1,1.7l-3.3,2.3l-0.7,-1.1l3.3,-2.3zM1,57.7l-3.3,2.3l-0.7,-1.1l3.3,-2.3zM10.9,34.3l-3.7,0.5l-0.2,-1.6l3.7,-0.5zM27.1,52.7l-3.1,2.7l-1.2,-1.4l3.1,-2.7zM27.1,-3.3l-3.1,2.7l-1.2,-1.4l3.1,-2.7zM56.1,27.2l0.5,6.0l-1.7,0.2l-0.5,-6.0zM0.1,27.2l0.5,6.0l-1.7,0.2l-0.5,-6.0z"/><path fill="#782C8F" d="M34.9,9.6l4.6,3.2l-1.5,2.1l-4.6,-3.2zM11.1,41.7l6.4,0.2l-0.1,2.1l-6.4,-0.2zM45.6,-0.7l3.3,3.5l-1.8,1.7l-3.3,-3.5zM45.6,55.3l3.3,3.5l-1.8,1.7l-3.3,-3.5zM36.2,45.1l-1.7,5.7l-2.3,-0.7l1.7,-5.7zM16.3,27.9l-0.7,5.5l-2.2,-0.3l0.7,-5.5zM53.8,13.5l2.1,1.1l-0.4,0.9l-2.1,-1.1zM-2.2,13.5l2.1,1.1l-0.4,0.9l-2.1,-1.1zM24.3,28.5l4,3.7l-0.8,0.8l-4,-3.7zM54.4,51.0l2.1,2.5l-1.4,1.1l-2.1,-2.5zM54.4,-5.0l2.1,2.5l-1.4,1.1l-2.1,-2.5zM-1.6,51.0l2.1,2.5l-1.4,1.1l-2.1,-2.5zM-1.6,-5.0l2.1,2.5l-1.4,1.1l-2.1,-2.5zM35.7,2.6l0.7,6.0l-2,0.2l-0.7,-6.0zM35.7,58.6l0.7,6.0l-2,0.2l-0.7,-6.0zM7.1,13.0l0.1,2.3l-1,0.0l-0.1,-2.3zM3.1,30.4l-0.5,2.6l-0.6,-0.1l0.5,-2.6zM59.1,30.4l-0.5,2.6l-0.6,-0.1l0.5,-2.6z"/><path fill="#FFFFFF" d="M37.8,55.1l-2.3,1.7l-0.6,-0.8l2.3,-1.7zM37.8,-0.9l-2.3,1.7l-0.6,-0.8l2.3,-1.7zM43.4,50.3l-3.1,2.5l-1,-1.2l3.1,-2.5zM21.4,14.4l-5.7,1.4l-0.6,-2.4l5.7,-1.4zM9.5,15.6l2.4,5.8l-2.4,1.0l-2.4,-5.8z"/><path fill="#EEAD22" d="M24.4,11.4l-3.5,0.5l-0.2,-1.1l3.5,-0.5zM46.2,4.0l-3.1,0.0l-0,-1.2l3.1,0zM46.2,60.0l-3.1,0.0l-0,-1.2l3.1,0zM24.6,27.4l5.1,2.5l-1.2,2.6l-5.1,-2.5zM54.5,23.4l1.1,5.1l-1.7,0.4l-1.1,-5.1zM-1.5,23.4l1.1,5.1l-1.7,0.4l-1.1,-5.1zM28.5,3.0l-2.5,3.9l-1.6,-1.0l2.5,-3.9zM28.5,59.0l-2.5,3.9l-1.6,-1.0l2.5,-3.9z"/><path fill="#0A6DBA" d="M35.9,10.0l-5.7,2.2l-0.5,-1.2l5.7,-2.2zM6.9,34.0l-2.3,3.1l-1,-0.7l2.3,-3.1zM9.9,41.9l-1.1,5.9l-2.8,-0.5l1.1,-5.9zM44.7,11.7l-1.8,6.0l-2.1,-0.6l1.8,-6.0zM49.6,17.7l-6.1,0.9l-0.3,-2.0l6.1,-0.9zM24.8,38.6l-2.8,3.0l-1.2,-1.2l2.8,-3.0zM3.8,28.7l4.2,4.9l-1.8,1.6l-4.2,-4.9zM59.8,28.7l4.2,4.9l-1.8,1.6l-4.2,-4.9zM54.9,28.9l0.8,3.0l-1.5,0.4l-0.8,-3.0zM-1.1,28.9l0.8,3.0l-1.5,0.4l-0.8,-3.0zM42.6,46.1l-2.4,2.9l-1.1,-0.9l2.4,-2.9zM7.8,0l0.2,2.8l-1.3,0.1l-0.2,-2.8zM7.8,56.0l0.2,2.8l-1.3,0.1l-0.2,-2.8zM28.4,51.7l0.3,5.5l-1.7,0.1l-0.3,-5.5zM28.4,-4.3l0.3,5.5l-1.7,0.1l-0.3,-5.5zM14.1,37.0l-2.1,0.5l-0.2,-0.7l2.1,-0.5zM42.7,42.5l-4.5,1.4l-0.4,-1.3l4.5,-1.4zM47,47.8l2.9,3.3l-0.7,0.6l-2.9,-3.3zM8.3,18.5l4.5,0.7l-0.3,2.2l-4.5,-0.7zM17.9,27.7l-2.6,0.2l-0.1,-0.7l2.6,-0.2zM55.7,21.3l-3.1,0.9l-0.4,-1.3l3.1,-0.9zM-0.3,21.3l-3.1,0.9l-0.4,-1.3l3.1,-0.9zM30.8,3.4l-4,0.8l-0.4,-2.1l4,-0.8zM30.8,59.4l-4,0.8l-0.4,-2.1l4,-0.8zM47.8,53.9l2.1,2.6l-1.3,1.1l-2.1,-2.6zM47.8,-2.1l2.1,2.6l-1.3,1.1l-2.1,-2.6zM11.2,15.0l-0.2,4.3l-1.3,-0.1l0.2,-4.3zM4.8,44.1l-0.3,4.4l-2.3,-0.1l0.3,-4.4zM60.8,44.1l-0.3,4.4l-2.3,-0.1l0.3,-4.4zM23,31.4l4.1,3.0l-0.6,0.9l-4.1,-3.0zM30.6,47.8l0.3,3.6l-1.1,0.1l-0.3,-3.6zM20.7,49.7l-3.5,2.4l-0.8,-1.2l3.5,-2.4zM22.8,39.6l-4.2,0.8l-0.4,-1.9l4.2,-0.8zM37,11.8l4.5,2.1l-0.6,1.2l-4.5,-2.1zM35,14.5l0,5.5l-1.4,0.0l-0,-5.5zM48.3,-0.5l-0.8,3.2l-1.7,-0.4l0.8,-3.2zM48.3,55.5l-0.8,3.2l-1.7,-0.4l0.8,-3.2zM4.1,8.1l-3.3,4.7l-1.1,-0.8l3.3,-4.7zM60.1,8.1l-3.3,4.7l-1.1,-0.8l3.3,-4.7zM43.8,6.5l-2.6,0.4l-0.1,-0.7l2.6,-0.4z"/><path fill="#0AF5F8" d="M6.2,13.0l-1.7,3.1l-1.5,-0.8l1.7,-3.1zM21.7,17.8l1.6,3.4l-0.7,0.3l-1.6,-3.4zM46.8,30.2l-0.6,2.9l-1,-0.2l0.6,-2.9zM21.3,9.7l-1.4,3.0l-0.6,-0.3l1.4,-3.0zM46.2,24.4l-4.7,2.4l-0.9,-1.9l4.7,-2.4zM39.1,33.1l-2.5,1.6l-0.4,-0.6l2.5,-1.6zM5.9,37.6l-5.4,1.7l-0.7,-2.3l5.4,-1.7zM61.9,37.6l-5.4,1.7l-0.7,-2.3l5.4,-1.7zM32.7,13.0l-4.8,2.5l-1,-2.0l4.8,-2.5zM55.4,4.6l-3.7,2.4l-0.7,-1.2l3.7,-2.4zM55.4,60.6l-3.7,2.4l-0.7,-1.2l3.7,-2.4zM-0.6,4.6l-3.7,2.4l-0.7,-1.2l3.7,-2.4zM-0.6,60.6l-3.7,2.4l-0.7,-1.2l3.7,-2.4zM39,34.6l2.9,5.8l-2.2,1.1l-2.9,-5.8zM44.4,51.4l0.4,2.6l-1.2,0.2l-0.4,-2.6zM44.4,-4.6l0.4,2.6l-1.2,0.2l-0.4,-2.6zM36,21.3l4.7,0.3l-0.2,2.5l-4.7,-0.3zM57.7,49.3l-3,0.8l-0.4,-1.4l3,-0.8zM1.7,49.3l-3,0.8l-0.4,-1.4l3,-0.8zM33.4,14.4l-3.8,5.2l-1.4,-1.0l3.8,-5.2zM21.2,16.6l0.9,3.3l-1.3,0.4l-0.9,-3.3zM14.4,10.5l-1.9,3.3l-1,-0.6l1.9,-3.3zM4.1,18.8l-3.9,0.9l-0.5,-2.1l3.9,-0.9zM60.1,18.8l-3.9,0.9l-0.5,-2.1l3.9,-0.9zM53.3,7.1l2,2.1l-0.5,0.5l-2,-2.1zM-2.7,7.1l2,2.1l-0.5,0.5l-2,-2.1zM24.9,0.4l5.6,0.2l-0.1,3.0l-5.6,-0.2zM24.9,56.4l5.6,0.2l-0.1,3.0l-5.6,-0.2zM46.6,-2.1l4.9,3.3l-0.8,1.3l-4.9,-3.3zM46.6,53.9l4.9,3.3l-0.8,1.3l-4.9,-3.3zM20,20.0l-4.5,1.1l-0.6,-2.3l4.5,-1.1zM13.2,17.1l0.5,2.8l-0.9,0.2l-0.5,-2.8zM37.6,47.1l-0.1,4.3l-1.2,0l0.1,-4.3z"/><path fill="#782C8F" d="M15.5,27.7l-3.3,4.7l-2.3,-1.6l3.3,-4.7zM54.3,33.2l3.1,0.6l-0.2,0.9l-3.1,-0.6zM-1.7,33.2l3.1,0.6l-0.2,0.9l-3.1,-0.6zM20.7,13.3l4.7,3.6l-1.6,2.1l-4.7,-3.6zM49.9,1.3l-2.2,2.5l-0.8,-0.7l2.2,-2.5zM49.9,57.3l-2.2,2.5l-0.8,-0.7l2.2,-2.5zM22.5,38.4l-0.5,1.9l-0.4,-0.1l0.5,-1.9zM3.5,45.0l5.2,1.4l-0.4,1.4l-5.2,-1.4zM59.5,45.0l5.2,1.4l-0.4,1.4l-5.2,-1.4zM29.2,49.8l-0,2.8l-1.3,0l0,-2.8zM40,47.0l-6.2,1.1l-0.3,-1.8l6.2,-1.1zM7.2,40.0l-2,0.5l-0.2,-0.6l2,-0.5zM3.4,18.6l0.8,6.1l-1.6,0.2l-0.8,-6.1zM59.4,18.6l0.8,6.1l-1.6,0.2l-0.8,-6.1zM34.4,6.6l-0.9,2.4l-1,-0.4l0.9,-2.4zM37.3,28.5l-6.2,0.4l-0.1,-2.0l6.2,-0.4zM32.9,38.3l1.8,4.9l-1.4,0.5l-1.8,-4.9zM43.4,20.5l-4.3,2.8l-0.8,-1.2l4.3,-2.8zM48.2,6.0l-2.2,1.9l-0.5,-0.5l2.2,-1.9zM34.9,34.8l3.9,0.8l-0.2,1.1l-3.9,-0.8z"/><path fill="#FFFFFF" d="M32.2,30.5l2,5.6l-2.5,0.9l-2,-5.6zM44.5,11.9l3.4,2.5l-1.1,1.6l-3.4,-2.5zM29.9,8.4l-4.4,0.1l-0,-1.6l4.4,-0.1zM47.6,20.5l1.9,1.4l-0.8,1.0l-1.9,-1.4z"/><path fill="#EEAD22" d="M30,13.7l-2.4,1.6l-0.3,-0.5l2.4,-1.6zM52.2,53.3l-2.3,3.1l-1.4,-1.0l2.3,-3.1zM52.2,-2.7l-2.3,3.1l-1.4,-1.0l2.3,-3.1zM34.6,18.1l3.3,2.8l-0.7,0.9l-3.3,-2.8zM22,24.3l5.9,0.8l-0.4,2.8l-5.9,-0.8zM56.8,47.8l-3.6,1.7l-0.9,-1.9l3.6,-1.7zM0.8,47.8l-3.6,1.7l-0.9,-1.9l3.6,-1.7zM2,34.9l-3.9,0.1l-0,-2.2l3.9,-0.1zM58,34.9l-3.9,0.1l-0,-2.2l3.9,-0.1zM29.6,53.7l-1.3,3.1l-1.2,-0.5l1.3,-3.1zM29.6,-2.3l-1.3,3.1l-1.2,-0.5l1.3,-3.1zM28.2,6.4l-1.7,1.2l-0.6,-0.8l1.7,-1.2zM44.5,41.0l0.2,2.3l-0.5,0.0l-0.2,-2.3z"/><path fill="#0A6DBA" d="M28.4,48.9l-2.5,4.4l-0.9,-0.5l2.5,-4.4zM28.4,-7.1l-2.5,4.4l-0.9,-0.5l2.5,-4.4zM13.7,7.0l-1.8,1.7l-0.7,-0.7l1.8,-1.7zM41.6,5.1l1.3,2.4l-1.3,0.7l-1.3,-2.4zM41.8,44.1l4,0.1l-0,1.5l-4,-0.1zM50.9,50.4l1.6,5.0l-2.2,0.7l-1.6,-5.0zM50.9,-5.6l1.6,5.0l-2.2,0.7l-1.6,-5.0zM-5.1,50.4l1.6,5.0l-2.2,0.7l-1.6,-5.0zM-5.1,-5.6l1.6,5.0l-2.2,0.7l-1.6,-5.0zM39.7,43.7l2.3,0.5l-0.1,0.6l-2.3,-0.5zM2.2,0.9l-1,2.1l-0.7,-0.3l1,-2.1zM2.2,56.9l-1,2.1l-0.7,-0.3l1,-2.1zM58.2,0.9l-1,2.1l-0.7,-0.3l1,-2.1zM58.2,56.9l-1,2.1l-0.7,-0.3l1,-2.1zM11,18.9l-1.6,1.9l-1,-0.9l1.6,-1.9zM21.1,-0.8l2.6,1.3l-0.3,0.7l-2.6,-1.3zM21.1,55.2l2.6,1.3l-0.3,0.7l-2.6,-1.3zM35.5,50.0l3.5,4.6l-2.2,1.6l-3.5,-4.6zM35.5,-6.0l3.5,4.6l-2.2,1.6l-3.5,-4.6zM41.2,25.9l4.4,1.0l-0.3,1.3l-4.4,-1.0zM22.8,47.6l-0.8,5.2l-1.9,-0.3l0.8,-5.2zM22.8,-8.4l-0.8,5.2l-1.9,-0.3l0.8,-5.2zM46.1,24.0l1.1,1.9l-0.9,0.5l-1.1,-1.9zM30.3,1.3l-1.2,2.0l-1,-0.6l1.2,-2.0zM30.3,57.3l-1.2,2.0l-1,-0.6l1.2,-2.0zM54.8,15.5l0,5.9l-2,0.0l-0,-5.9zM-1.2,15.5l0,5.9l-2,0.0l-0,-5.9zM28.5,48.1l-3.7,4.6l-1.3,-1.1l3.7,-4.6zM28.5,-7.9l-3.7,4.6l-1.3,-1.1l3.7,-4.6zM45,18.3l4.1,4.4l-2,1.9l-4.1,-4.4zM37.2,47.6l3,4.6l-1.1,0.7l-3,-4.6zM37.2,-8.4l3,4.6l-1.1,0.7l-3,-4.6zM18.1,2.6l4.2,2.7l-1.4,2.1l-4.2,-2.7zM18.1,58.6l4.2,2.7l-1.4,2.1l-4.2,-2.7zM10.4,47.3l-2.9,0.5l-0.2,-1.5l2.9,-0.5zM1.5,54.5l-2,2.4l-0.9,-0.8l2,-2.4zM1.5,-1.5l-2,2.4l-0.9,-0.8l2,-2.4zM57.5,54.5l-2,2.4l-0.9,-0.8l2,-2.4zM57.5,-1.5l-2,2.4l-0.9,-0.8l2,-2.4zM14,5.6l2.5,4.7l-2,1.0l-2.5,-4.7zM32.4,15.6l1.8,5.5l-3,1.0l-1.8,-5.5zM31,42.2l-0,6.0l-2.5,0l0,-6.0zM34.2,19.3l-4.5,3.1l-1.6,-2.3l4.5,-3.1zM48.1,-0.5l5.2,2.7l-0.8,1.5l-5.2,-2.7zM48.1,55.5l5.2,2.7l-0.8,1.5l-5.2,-2.7zM-7.9,-0.5l5.2,2.7l-0.8,1.5l-5.2,-2.7zM-7.9,55.5l5.2,2.7l-0.8,1.5l-5.2,-2.7zM22.6,34.9l1.3,2.1l-0.5,0.3l-1.3,-2.1zM28.4,16.8l4.5,4.1l-1.4,1.5l-4.5,-4.1zM9.2,1.1l-2.7,3.8l-2,-1.4l2.7,-3.8zM9.2,57.1l-2.7,3.8l-2,-1.4l2.7,-3.8zM5.2,8.2l-1,5.5l-2.4,-0.4l1,-5.5zM61.2,8.2l-1,5.5l-2.4,-0.4l1,-5.5z"/><path fill="#0AF5F8" d="M45.4,5.4l-5,0.8l-0.3,-2.2l5,-0.8zM45.4,61.4l-5,0.8l-0.3,-2.2l5,-0.8zM45.2,37.0l-1.3,2.4l-0.7,-0.4l1.3,-2.4zM31.9,2.6l-3.1,1.0l-0.4,-1.1l3.1,-1.0zM31.9,58.6l-3.1,1.0l-0.4,-1.1l3.1,-1.0zM6.6,22.3l-4.8,0.4l-0.2,-2.4l4.8,-0.4zM62.6,22.3l-4.8,0.4l-0.2,-2.4l4.8,-0.4zM10.5,31.3l-4.3,2.6l-0.7,-1.2l4.3,-2.6zM48.6,26.7l2.8,0.7l-0.2,0.9l-2.8,-0.7zM9.6,12.1l2.5,2.2l-1.1,1.2l-2.5,-2.2zM48.8,3.7l-1,3.7l-1.1,-0.3l1,-3.7zM23.7,31.8l4.2,0.6l-0.2,1.7l-4.2,-0.6zM8,19.8l1.8,1.8l-0.7,0.6l-1.8,-1.8zM51.8,52.7l-2.4,1.1l-0.5,-1.0l2.4,-1.1zM51.8,-3.3l-2.4,1.1l-0.5,-1.0l2.4,-1.1zM34.5,22.9l-5.4,2.0l-0.5,-1.3l5.4,-2.0zM29.4,46.8l-4.6,2.0l-1,-2.4l4.6,-2.0zM51,47.4l3.8,1.8l-0.7,1.6l-3.8,-1.8zM-5,47.4l3.8,1.8l-0.7,1.6l-3.8,-1.8zM16.4,12.0l0.1,6.2l-2.4,0.1l-0.1,-6.2zM16.6,10.9l-2.6,0.3l-0.1,-0.7l2.6,-0.3zM4.1,43.8l-0.1,3.7l-1.6,0l0.1,-3.7zM60.1,43.8l-0.1,3.7l-1.6,0l0.1,-3.7zM19.9,24.0l-0.8,2.4l-0.7,-0.3l0.8,-2.4zM4.5,50.8l-2.5,1.6l-0.7,-1.1l2.5,-1.6zM60.5,50.8l-2.5,1.6l-0.7,-1.1l2.5,-1.6z"/><path fill="#782C8F" d="M37.6,25.7l1.5,2.4l-0.8,0.5l-1.5,-2.4zM8,36.5l1,4.0l-2.1,0.5l-1,-4.0zM7,5.0l4.2,4.0l-2,2.0l-4.2,-4.0zM27.1,20.4l3.5,4.8l-2.4,1.8l-3.5,-4.8zM56.4,36.9l-0.6,2.9l-1.1,-0.2l0.6,-2.9zM0.4,36.9l-0.6,2.9l-1.1,-0.2l0.6,-2.9zM29.4,3.6l-3.2,2.8l-1.5,-1.7l3.2,-2.8zM29.4,59.6l-3.2,2.8l-1.5,-1.7l3.2,-2.8zM38.2,11.4l-4.4,0.9l-0.3,-1.6l4.4,-0.9zM44.9,2.5l1.9,3.4l-1.4,0.8l-1.9,-3.4zM44.9,58.5l1.9,3.4l-1.4,0.8l-1.9,-3.4zM31.3,33.0l3.9,2.6l-0.7,1.0l-3.9,-2.6zM41.2,40.8l2,2.6l-0.9,0.7l-2,-2.6zM53.5,50.4l-4.3,1.3l-0.3,-0.9l4.3,-1.3zM53.5,-5.6l-4.3,1.3l-0.3,-0.9l4.3,-1.3zM-2.5,50.4l-4.3,1.3l-0.3,-0.9l4.3,-1.3zM-2.5,-5.6l-4.3,1.3l-0.3,-0.9l4.3,-1.3zM39.5,36.0l3,0.7l-0.3,1.1l-3,-0.7zM13.6,5.6l-4.9,3.5l-1.7,-2.4l4.9,-3.5zM13.6,61.6l-4.9,3.5l-1.7,-2.4l4.9,-3.5zM9.2,45.7l-2.2,5.3l-1.2,-0.5l2.2,-5.3zM39.9,41.0l4.2,0.2l-0.1,1.6l-4.2,-0.2zM45.9,53.3l-2.8,0.8l-0.3,-1.0l2.8,-0.8zM45.9,-2.7l-2.8,0.8l-0.3,-1.0l2.8,-0.8zM23.6,54.7l-1.3,3.1l-1.4,-0.6l1.3,-3.1zM23.6,-1.3l-1.3,3.1l-1.4,-0.6l1.3,-3.1zM13.2,27.9l-2.1,3.7l-1.8,-1.1l2.1,-3.7z"/><path fill="#FFFFFF" d="M38.9,24.5l-5.9,1.5l-0.4,-1.5l5.9,-1.5zM15.9,35.7l4.2,2.5l-1.3,2.2l-4.2,-2.5zM53.3,4.8l-1.7,2.4l-0.6,-0.4l1.7,-2.4zM-2.7,4.8l-1.7,2.4l-0.6,-0.4l1.7,-2.4zM2.5,5.8l-3,2.0l-0.8,-1.2l3,-2.0zM58.5,5.8l-3,2.0l-0.8,-1.2l3,-2.0zM51.9,37.8l-1.6,2.6l-1.3,-0.8l1.6,-2.6zM3.2,49.0l4.8,4.2l-1,1.2l-4.8,-4.2zM3.2,-7.0l4.8,4.2l-1,1.2l-4.8,-4.2zM59.2,49.0l4.8,4.2l-1,1.2l-4.8,-4.2zM59.2,-7.0l4.8,4.2l-1,1.2l-4.8,-4.2z"/><path fill="#EEAD22" d="M32.4,40.3l-2.6,4.0l-1.8,-1.1l2.6,-4.0zM42.2,3.9l3.6,4.4l-1.1,0.9l-3.6,-4.4zM42.2,59.9l3.6,4.4l-1.1,0.9l-3.6,-4.4zM4,3.6l1.5,4.7l-2.6,0.8l-1.5,-4.7zM60,3.6l1.5,4.7l-2.6,0.8l-1.5,-4.7zM36.4,44.5l1.6,3.6l-1.4,0.6l-1.6,-3.6zM5.8,22.7l-0.9,2.7l-0.9,-0.3l0.9,-2.7zM20.4,26.0l2,1.1l-0.4,0.8l-2,-1.1zM40.1,47.0l-1.4,3.8l-1.8,-0.7l1.4,-3.8zM31.4,41.4l-1.7,1.9l-0.6,-0.5l1.7,-1.9zM11,12.9l-2.3,3.8l-1.9,-1.1l2.3,-3.8zM37.5,28.4l3.8,1.6l-0.7,1.6l-3.8,-1.6z"/><path fill="#0A6DBA" d="M19.7,23.2l-3.2,1.2l-0.3,-0.8l3.2,-1.2zM53.6,53.2l-1.5,1.5l-0.5,-0.5l1.5,-1.5zM53.6,-2.8l-1.5,1.5l-0.5,-0.5l1.5,-1.5zM6.6,4.8l3.4,5.2l-1.5,1.0l-3.4,-5.2zM26.5,29.6l1.5,4.0l-2.1,0.8l-1.5,-4.0zM20.8,32.5l-3.8,2.0l-0.7,-1.3l3.8,-2.0zM17,7.7l-2,0.1l-0.1,-1.0l2,-0.1zM51.1,53.1l-3.6,2.7l-0.7,-0.9l3.6,-2.7zM51.1,-2.9l-3.6,2.7l-0.7,-0.9l3.6,-2.7zM29.4,20.6l-1.5,3.7l-1.6,-0.6l1.5,-3.7zM21.6,13.7l-2,1.2l-0.4,-0.6l2,-1.2zM21.6,36.9l-5.2,2.1l-0.5,-1.2l5.2,-2.1zM38.7,15.5l4.6,0.0l-0,1.8l-4.6,0zM19.2,2.2l-4.2,4.4l-2,-1.9l4.2,-4.4zM19.2,58.2l-4.2,4.4l-2,-1.9l4.2,-4.4zM16.7,38.2l-2.5,3.1l-1.2,-0.9l2.5,-3.1zM23.9,5.2l2.3,3.1l-0.7,0.6l-2.3,-3.1zM50.8,5.1l2.8,3.1l-1.6,1.4l-2.8,-3.1zM-5.2,5.1l2.8,3.1l-1.6,1.4l-2.8,-3.1zM56.8,3.6l-2.1,2.0l-0.5,-0.5l2.1,-2.0zM0.8,3.6l-2.1,2.0l-0.5,-0.5l2.1,-2.0zM6.3,20.6l-2.2,5.0l-2.3,-1.0l2.2,-5.0zM62.3,20.6l-2.2,5.0l-2.3,-1.0l2.2,-5.0zM15.9,22.8l4.8,2.4l-0.7,1.4l-4.8,-2.4zM38.1,14.6l4.4,1.5l-0.7,2.1l-4.4,-1.5zM26.7,22.2l2.1,5.5l-3,1.2l-2.1,-5.5zM49.4,15.8l0.2,5.3l-1.9,0.1l-0.2,-5.3zM30.9,42.7l-2,2.3l-1.1,-0.9l2,-2.3z"/><path fill="#0AF5F8" d="M31,5.8l1.7,3.0l-1.1,0.6l-1.7,-3.0zM17.3,30.7l1.6,5.8l-2.3,0.6l-1.6,-5.8zM43.4,8.1l1.8,3.2l-0.7,0.4l-1.8,-3.2zM40.3,35.7l-2.4,0.2l-0.1,-0.7l2.4,-0.2zM27,47.8l4.2,2.3l-1.2,2.1l-4.2,-2.3zM26.2,26.0l4.9,2.1l-1.1,2.5l-4.9,-2.1zM2.1,53.0l4.7,2.7l-0.7,1.2l-4.7,-2.7zM2.1,-3.0l4.7,2.7l-0.7,1.2l-4.7,-2.7zM58.1,53.0l4.7,2.7l-0.7,1.2l-4.7,-2.7zM58.1,-3.0l4.7,2.7l-0.7,1.2l-4.7,-2.7zM51,39.3l3.8,2.2l-0.7,1.2l-3.8,-2.2zM-5,39.3l3.8,2.2l-0.7,1.2l-3.8,-2.2zM17,15.5l1.3,3.4l-1.7,0.6l-1.3,-3.4zM16.9,21.6l-3.5,3.1l-1.3,-1.4l3.5,-3.1zM38.2,17.0l-1,1.8l-0.7,-0.4l1,-1.8zM5.9,48.6l1.5,1.8l-0.4,0.3l-1.5,-1.8zM22.3,46.4l-4,0.1l-0,-0.9l4,-0.1zM5.8,33.3l-0.1,4.3l-1.7,0l0.1,-4.3zM61.8,33.3l-0.1,4.3l-1.7,0l0.1,-4.3zM53.9,26.8l4.3,1.9l-1,2.3l-4.3,-1.9zM-2.1,26.8l4.3,1.9l-1,2.3l-4.3,-1.9zM9.1,32.6l1.4,2.4l-0.5,0.3l-1.4,-2.4zM42.5,29.5l-2.5,3.1l-0.6,-0.5l2.5,-3.1zM1.3,7.0l2.4,1.8l-0.6,0.8l-2.4,-1.8zM57.3,7.0l2.4,1.8l-0.6,0.8l-2.4,-1.8zM43.6,18.0l-3,0.9l-0.3,-0.9l3,-0.9zM40.7,16.9l3.4,1.6l-0.6,1.3l-3.4,-1.6zM49.7,18.1l-3.3,5.2l-1.9,-1.2l3.3,-5.2zM29.5,27.0l-0.6,5.5l-1.5,-0.2l0.6,-5.5zM49.9,9.0l-0.7,3.7l-1.9,-0.4l0.7,-3.7zM35.2,30.6l-1.8,4.9l-1.8,-0.6l1.8,-4.9zM57.6,43.3l-5.4,1.7l-0.9,-2.8l5.4,-1.7zM1.6,43.3l-5.4,1.7l-0.9,-2.8l5.4,-1.7zM44.6,15.0l0.2,3.6l-1.8,0.1l-0.2,-3.6zM22.8,16.5l1.6,1.7l-0.7,0.7l-1.6,-1.7zM43.9,33.1l5.6,1.2l-0.4,2.0l-5.6,-1.2z"/><path fill="#782C8F" d="M3.4,44.6l-1.3,3.9l-1.9,-0.6l1.3,-3.9zM59.4,44.6l-1.3,3.9l-1.9,-0.6l1.3,-3.9zM12.5,34.8l3,0.5l-0.2,1.2l-3,-0.5zM16.9,41.8l-4.2,4.7l-2.5,-2.2l4.2,-4.7zM38.8,-0.6l-0.5,2.1l-0.6,-0.1l0.5,-2.1zM38.8,55.4l-0.5,2.1l-0.6,-0.1l0.5,-2.1zM32.2,49.2l-1.4,2.3l-0.6,-0.3l1.4,-2.3zM7.9,18.5l-3.2,3.9l-2.1,-1.7l3.2,-3.9zM63.9,18.5l-3.2,3.9l-2.1,-1.7l3.2,-3.9zM24.7,17.8l-4.1,2.1l-0.8,-1.6l4.1,-2.1zM27.1,38.9l-2.4,1.8l-0.9,-1.3l2.4,-1.8zM18.2,1.1l5.2,2.1l-0.6,1.5l-5.2,-2.1zM18.2,57.1l5.2,2.1l-0.6,1.5l-5.2,-2.1zM11.6,42.5l-3.5,0.4l-0.1,-0.9l3.5,-0.4zM8,45.5l-3,2.4l-0.7,-0.9l3,-2.4zM43.5,-0.4l-1.2,2.8l-1,-0.5l1.2,-2.8zM43.5,55.6l-1.2,2.8l-1,-0.5l1.2,-2.8zM8,53.1l-2,5.4l-2.2,-0.8l2,-5.4zM8,-2.9l-2,5.4l-2.2,-0.8l2,-5.4zM64,53.1l-2,5.4l-2.2,-0.8l2,-5.4zM64,-2.9l-2,5.4l-2.2,-0.8l2,-5.4zM51,38.5l5.1,2.0l-0.8,2.0l-5.1,-2.0zM-5,38.5l5.1,2.0l-0.8,2.0l-5.1,-2.0zM34.7,39.6l-3.8,0.4l-0.1,-1.6l3.8,-0.4zM29.7,17.9l-2.1,0.9l-0.3,-0.6l2.1,-0.9zM50.7,11.3l-3.1,2.4l-1.2,-1.6l3.1,-2.4zM13.5,33.2l4.7,1.4l-0.6,2.0l-4.7,-1.4zM46,3.9l-4.4,1.8l-0.6,-1.4l4.4,-1.8zM46,59.9l-4.4,1.8l-0.6,-1.4l4.4,-1.8zM37.4,37.5l-4.8,0.9l-0.4,-2.0l4.8,-0.9zM54.6,16.0l1.9,1.6l-0.7,0.9l-1.9,-1.6zM-1.4,16.0l1.9,1.6l-0.7,0.9l-1.9,-1.6zM48,26.6l6,0.8l-0.3,2.5l-6,-0.8zM-8,26.6l6,0.8l-0.3,2.5l-6,-0.8zM35.7,17.8l-2.8,2.2l-1.2,-1.5l2.8,-2.2z"/><path fill="#FFFFFF" d="M45.4,16.4l1.9,0.8l-0.4,0.8l-1.9,-0.8zM20.3,40.1l-5.5,2.6l-1.2,-2.6l5.5,-2.6zM5.5,33.7l-3,1.7l-0.5,-0.9l3,-1.7zM61.5,33.7l-3,1.7l-0.5,-0.9l3,-1.7z"/><path fill="#EEAD22" d="M34.3,16.0l0.1,5.4l-1.1,0.0l-0.1,-5.4zM17.4,18.3l2,2.4l-0.6,0.5l-2,-2.4zM38.5,44.5l-6.1,0.9l-0.3,-2.1l6.1,-0.9zM19.4,6.3l-3.7,1.4l-0.3,-0.8l3.7,-1.4zM3.3,7.5l-4.2,0.4l-0.1,-1.1l4.2,-0.4zM59.3,7.5l-4.2,0.4l-0.1,-1.1l4.2,-0.4zM55.9,13.7l-1.2,6.3l-1.6,-0.3l1.2,-6.3zM-0.1,13.7l-1.2,6.3l-1.6,-0.3l1.2,-6.3z"/></pattern><pattern id="tx6" width="44" height="44" patternUnits="userSpaceOnUse"><rect width="44" height="44" fill="#0A6DBA"/><path fill="#0A6DBA" d="M34.3,34.1l2.5,1.8l-0.6,0.8l-2.5,-1.8zM18.3,31.1l2.1,2.0l-1.4,1.4l-2.1,-2.0zM27.2,16.2l-2.3,0.5l-0.3,-1.1l2.3,-0.5zM18.7,36.8l0.3,3.6l-1.5,0.1l-0.3,-3.6zM14.7,4.7l3.3,1.6l-0.9,1.8l-3.3,-1.6zM42.2,38.3l0.5,3.0l-1.8,0.3l-0.5,-3.0zM42.2,-5.7l0.5,3.0l-1.8,0.3l-0.5,-3.0zM-1.8,38.3l0.5,3.0l-1.8,0.3l-0.5,-3.0zM-1.8,-5.7l0.5,3.0l-1.8,0.3l-0.5,-3.0zM8.6,16.2l-1.2,1.1l-0.8,-0.9l1.2,-1.1zM23.8,5.5l-0.5,2.4l-0.9,-0.2l0.5,-2.4zM15.4,9.1l-0.8,3.4l-2.1,-0.5l0.8,-3.4zM15.8,17.5l-3,0.0l-0,-1.4l3,0zM33.2,2.9l1.6,3.6l-1.2,0.5l-1.6,-3.6zM25.1,34.9l-2.2,0.6l-0.3,-1.2l2.2,-0.6zM5.9,43.1l-1.2,1.2l-0.8,-0.8l1.2,-1.2zM5.9,-0.9l-1.2,1.2l-0.8,-0.8l1.2,-1.2zM27.6,1.7l-2.7,0.4l-0.2,-1.0l2.7,-0.4zM27.6,45.7l-2.7,0.4l-0.2,-1.0l2.7,-0.4zM39.2,40.5l3,0.5l-0.3,1.9l-3,-0.5zM39.2,-3.5l3,0.5l-0.3,1.9l-3,-0.5zM-4.8,40.5l3,0.5l-0.3,1.9l-3,-0.5zM-4.8,-3.5l3,0.5l-0.3,1.9l-3,-0.5zM-0.2,2.3l1.5,0.4l-0.3,0.9l-1.5,-0.4zM43.8,2.3l1.5,0.4l-0.3,0.9l-1.5,-0.4zM40.4,7.2l-0.7,3.0l-1.9,-0.5l0.7,-3.0zM3.6,15.3l4.5,0.1l-0,2.0l-4.5,-0.1z"/><path fill="#FFFFFF" d="M35.6,15.9l-3.4,2.4l-1,-1.4l3.4,-2.4zM14.2,40.6l-1.7,3.1l-1.2,-0.6l1.7,-3.1zM14.2,-3.4l-1.7,3.1l-1.2,-0.6l1.7,-3.1zM42.8,39.2l-1.9,2.7l-1.5,-1.1l1.9,-2.7zM42.8,-4.8l-1.9,2.7l-1.5,-1.1l1.9,-2.7zM-1.2,39.2l-1.9,2.7l-1.5,-1.1l1.9,-2.7zM-1.2,-4.8l-1.9,2.7l-1.5,-1.1l1.9,-2.7zM5.3,37.6l-1.6,2.9l-1,-0.6l1.6,-2.9zM49.3,37.6l-1.6,2.9l-1,-0.6l1.6,-2.9zM9.7,21.2l-1.8,0.8l-0.3,-0.7l1.8,-0.8zM14.9,17.1l-2.9,0.0l-0,-1.0l2.9,0zM6.3,15.1l1.4,2.2l-1.4,0.8l-1.4,-2.2zM19.1,33.9l4.8,0.1l-0,2.0l-4.8,-0.1zM4.4,0.2l-2.7,3.3l-1.1,-0.9l2.7,-3.3zM4.4,44.2l-2.7,3.3l-1.1,-0.9l2.7,-3.3zM48.4,0.2l-2.7,3.3l-1.1,-0.9l2.7,-3.3zM48.4,44.2l-2.7,3.3l-1.1,-0.9l2.7,-3.3zM42.2,37.7l-1.7,0.3l-0.1,-0.6l1.7,-0.3zM-1.8,37.7l-1.7,0.3l-0.1,-0.6l1.7,-0.3zM19.4,32.2l0.4,4.3l-2.1,0.2l-0.4,-4.3zM6.4,4.9l-3.6,1.2l-0.6,-1.7l3.6,-1.2zM6.4,48.9l-3.6,1.2l-0.6,-1.7l3.6,-1.2zM50.4,4.9l-3.6,1.2l-0.6,-1.7l3.6,-1.2zM50.4,48.9l-3.6,1.2l-0.6,-1.7l3.6,-1.2zM32.3,3.8l-1.6,4.1l-1.4,-0.5l1.6,-4.1zM31.2,0.2l2.7,3.4l-2.3,1.9l-2.7,-3.4zM31.2,44.2l2.7,3.4l-2.3,1.9l-2.7,-3.4zM20.8,20.9l-0.1,1.8l-0.6,0l0.1,-1.8zM10.5,7.8l0.9,3.4l-2.2,0.6l-0.9,-3.4zM29.5,29.3l1.5,3.5l-2.2,0.9l-1.5,-3.5zM22.6,30.3l-2.2,4.0l-1.5,-0.8l2.2,-4.0zM13.5,6.3l-3,0.2l-0.1,-1.1l3,-0.2zM25.6,22.8l2.4,2.8l-1.4,1.2l-2.4,-2.8zM2,25.5l4,1.2l-0.8,2.7l-4,-1.2zM46,25.5l4,1.2l-0.8,2.7l-4,-1.2zM7.9,40.9l-4.4,0.6l-0.3,-2.2l4.4,-0.6zM7.9,-3.1l-4.4,0.6l-0.3,-2.2l4.4,-0.6z"/><path fill="#0AF5F8" d="M37.1,20.5l-1.2,2.1l-0.6,-0.4l1.2,-2.1zM19.3,21.9l-0.7,3.8l-1.4,-0.2l0.7,-3.8zM11.8,33.0l1.9,3.4l-2.2,1.2l-1.9,-3.4zM42.8,-0.3l1.6,2.3l-1.2,0.9l-1.6,-2.3zM42.8,43.7l1.6,2.3l-1.2,0.9l-1.6,-2.3zM-1.2,-0.3l1.6,2.3l-1.2,0.9l-1.6,-2.3zM-1.2,43.7l1.6,2.3l-1.2,0.9l-1.6,-2.3zM1.4,34.3l-1.5,0.5l-0.2,-0.6l1.5,-0.5zM45.4,34.3l-1.5,0.5l-0.2,-0.6l1.5,-0.5zM21.1,19.3l3.8,1.1l-0.5,1.8l-3.8,-1.1zM9.6,20.5l4.2,0.3l-0.1,1.6l-4.2,-0.3zM42.6,39.0l1.5,2.4l-1.3,0.8l-1.5,-2.4zM42.6,-5.0l1.5,2.4l-1.3,0.8l-1.5,-2.4zM-1.4,39.0l1.5,2.4l-1.3,0.8l-1.5,-2.4zM-1.4,-5.0l1.5,2.4l-1.3,0.8l-1.5,-2.4zM41.1,6.0l3.6,0.7l-0.3,1.6l-3.6,-0.7zM-2.9,6.0l3.6,0.7l-0.3,1.6l-3.6,-0.7zM31.4,27.4l2,1.5l-0.7,1.0l-2,-1.5zM35,43.4l-3,2.6l-1.5,-1.7l3,-2.6zM35,-0.6l-3,2.6l-1.5,-1.7l3,-2.6z"/><path fill="#782C8F" d="M41.7,39.1l-2.4,1.9l-1.1,-1.4l2.4,-1.9zM-2.3,39.1l-2.4,1.9l-1.1,-1.4l2.4,-1.9zM4.2,36.4l0.5,2.4l-1.7,0.4l-0.5,-2.4zM2.8,1.7l-0.5,4.3l-2.4,-0.3l0.5,-4.3zM2.8,45.7l-0.5,4.3l-2.4,-0.3l0.5,-4.3zM46.8,1.7l-0.5,4.3l-2.4,-0.3l0.5,-4.3zM46.8,45.7l-0.5,4.3l-2.4,-0.3l0.5,-4.3zM30.2,14.3l1.7,0.6l-0.4,1.0l-1.7,-0.6zM33.9,33.4l1.6,1.6l-0.9,0.8l-1.6,-1.6zM36.1,21.6l0.2,1.9l-1,0.1l-0.2,-1.9zM25.8,30.4l-3.8,2.1l-1,-1.9l3.8,-2.1zM7,37.7l2.2,4.0l-2.5,1.4l-2.2,-4.0zM7,-6.3l2.2,4.0l-2.5,1.4l-2.2,-4.0z"/><path fill="#EEAD22" d="M41.8,29.3l-4,2.3l-1.1,-1.9l4,-2.3zM-2.2,29.3l-4,2.3l-1.1,-1.9l4,-2.3z"/><path fill="#0A6DBA" d="M25.8,30.8l1.9,0.7l-0.4,1.0l-1.9,-0.7zM38.6,14.9l-2.2,3.8l-1.4,-0.8l2.2,-3.8zM7.9,31.5l-3.9,1.8l-1.3,-2.7l3.9,-1.8zM-0.6,8.5l2.5,0.5l-0.2,0.9l-2.5,-0.5zM43.4,8.5l2.5,0.5l-0.2,0.9l-2.5,-0.5zM39.6,15.9l-2.1,0.5l-0.2,-0.8l2.1,-0.5zM15.8,22.9l2.7,0.7l-0.4,1.5l-2.7,-0.7zM32.8,26.1l4.3,1.5l-1,2.8l-4.3,-1.5zM17,23.3l-1.1,3.6l-1.9,-0.6l1.1,-3.6zM41.2,31.2l-0.7,2.8l-1.3,-0.3l0.7,-2.8zM-2.8,31.2l-0.7,2.8l-1.3,-0.3l0.7,-2.8zM27.9,38.3l1.9,2.0l-1,1.0l-1.9,-2.0zM9.8,41.3l1.2,2.7l-1.2,0.5l-1.2,-2.7zM9.8,-2.7l1.2,2.7l-1.2,0.5l-1.2,-2.7zM28.9,28.3l2.1,0.7l-0.5,1.4l-2.1,-0.7zM4.7,21.3l0.6,2.2l-0.8,0.2l-0.6,-2.2zM20.8,32.3l-2.4,2.9l-1.2,-1.0l2.4,-2.9z"/><path fill="#FFFFFF" d="M35.8,21.7l-2.4,1.3l-0.9,-1.7l2.4,-1.3zM36.5,27.1l3.9,1.7l-0.6,1.3l-3.9,-1.7zM5.5,30.0l3.9,2.6l-1,1.5l-3.9,-2.6zM38.9,31.2l-1.1,2.9l-1,-0.4l1.1,-2.9zM37.4,23.8l-1.6,3.8l-2.6,-1.1l1.6,-3.8zM4.3,10.6l-1.5,3.7l-1.7,-0.7l1.5,-3.7zM48.3,10.6l-1.5,3.7l-1.7,-0.7l1.5,-3.7zM16.5,-0.7l3.2,1.1l-0.7,2.0l-3.2,-1.1zM16.5,43.3l3.2,1.1l-0.7,2.0l-3.2,-1.1zM1.8,41.2l0.3,4.9l-2.8,0.2l-0.3,-4.9zM1.8,-2.8l0.3,4.9l-2.8,0.2l-0.3,-4.9zM45.8,41.2l0.3,4.9l-2.8,0.2l-0.3,-4.9zM45.8,-2.8l0.3,4.9l-2.8,0.2l-0.3,-4.9zM12.7,24.0l-2.5,1.0l-0.5,-1.3l2.5,-1.0zM44,31.1l-0.8,1.5l-0.9,-0.5l0.8,-1.5zM0,31.1l-0.8,1.5l-0.9,-0.5l0.8,-1.5zM-0.8,37.1l2.8,1.6l-0.8,1.4l-2.8,-1.6zM43.2,37.1l2.8,1.6l-0.8,1.4l-2.8,-1.6zM27.2,25.9l-1.5,3.3l-1.3,-0.6l1.5,-3.3zM2.6,3.5l2.6,1.6l-0.8,1.3l-2.6,-1.6zM46.6,3.5l2.6,1.6l-0.8,1.3l-2.6,-1.6zM1,10.6l-0.7,2.5l-1.1,-0.3l0.7,-2.5zM45,10.6l-0.7,2.5l-1.1,-0.3l0.7,-2.5zM7.2,5.1l1.4,1.2l-0.4,0.4l-1.4,-1.2zM18.3,28.5l1.9,3.1l-1.5,1.0l-1.9,-3.1zM7.9,6.9l1.7,0.8l-0.5,1.0l-1.7,-0.8zM24.5,12.0l3.4,1.1l-0.6,1.6l-3.4,-1.1zM45.1,-1.8l0.3,4.6l-2.5,0.1l-0.3,-4.6zM45.1,42.2l0.3,4.6l-2.5,0.1l-0.3,-4.6zM1.1,-1.8l0.3,4.6l-2.5,0.1l-0.3,-4.6zM1.1,42.2l0.3,4.6l-2.5,0.1l-0.3,-4.6zM28.2,33.8l2.2,4.4l-2.2,1.1l-2.2,-4.4zM39.4,20.4l1.6,0.6l-0.3,0.9l-1.6,-0.6zM30.2,25.7l-1.1,3.2l-2,-0.7l1.1,-3.2zM16.2,6.6l4.5,0.2l-0.1,2.0l-4.5,-0.2zM40.4,19.6l2.1,0.8l-0.5,1.5l-2.1,-0.8zM-3.6,19.6l2.1,0.8l-0.5,1.5l-2.1,-0.8zM34.5,27.8l-2.1,1.4l-0.5,-0.8l2.1,-1.4zM24.8,9.4l-4.8,1.2l-0.6,-2.4l4.8,-1.2zM23.2,13.9l-2.9,2.6l-1.2,-1.4l2.9,-2.6zM30.6,26.4l-3,1.3l-0.6,-1.4l3,-1.3zM12.8,16.8l1.3,0.9l-0.4,0.6l-1.3,-0.9zM17,18.3l-2.5,0.3l-0.1,-0.9l2.5,-0.3z"/><path fill="#0AF5F8" d="M32.5,1.6l4.6,1.9l-1.1,2.6l-4.6,-1.9zM32.5,45.6l4.6,1.9l-1.1,2.6l-4.6,-1.9zM31.9,37.9l-0.7,2.2l-1.3,-0.4l0.7,-2.2zM4.7,4.2l2.8,0.6l-0.3,1.4l-2.8,-0.6zM0.9,1.3l-0.3,1.6l-0.9,-0.2l0.3,-1.6zM0.9,45.3l-0.3,1.6l-0.9,-0.2l0.3,-1.6zM44.9,1.3l-0.3,1.6l-0.9,-0.2l0.3,-1.6zM44.9,45.3l-0.3,1.6l-0.9,-0.2l0.3,-1.6zM26.2,-1.0l4.6,1.1l-0.7,2.9l-4.6,-1.1zM26.2,43.0l4.6,1.1l-0.7,2.9l-4.6,-1.1zM1.6,13.0l-1.1,3.2l-1.4,-0.4l1.1,-3.2zM45.6,13.0l-1.1,3.2l-1.4,-0.4l1.1,-3.2z"/><path fill="#782C8F" d="M14.4,0.7l-4.6,0.1l-0,-1.4l4.6,-0.1zM14.4,44.7l-4.6,0.1l-0,-1.4l4.6,-0.1zM20.4,26.1l3,3.3l-1.3,1.2l-3,-3.3zM14.4,17.5l-0.4,2.8l-1.9,-0.3l0.4,-2.8zM8.8,11.0l-1.9,3.3l-1.4,-0.8l1.9,-3.3zM32.8,32.1l-1.6,1.9l-0.9,-0.8l1.6,-1.9zM11.5,0.7l-1.5,0.7l-0.3,-0.8l1.5,-0.7zM11.5,44.7l-1.5,0.7l-0.3,-0.8l1.5,-0.7zM18.7,16.1l-3.8,1.2l-0.5,-1.7l3.8,-1.2zM6.9,23.2l2,3.3l-1.6,1.0l-2,-3.3zM38,12.2l-4.2,0.7l-0.3,-1.9l4.2,-0.7zM41.3,40.4l-2.3,3.1l-1.2,-0.9l2.3,-3.1zM41.3,-3.6l-2.3,3.1l-1.2,-0.9l2.3,-3.1zM-2.7,40.4l-2.3,3.1l-1.2,-0.9l2.3,-3.1zM-2.7,-3.6l-2.3,3.1l-1.2,-0.9l2.3,-3.1z"/><path fill="#0A6DBA" d="M23.3,19.6l0.9,1.3l-0.5,0.3l-0.9,-1.3zM16.8,13.7l-1.6,1.5l-1,-1.0l1.6,-1.5zM36.6,0.4l-0.2,2.8l-1.3,-0.1l0.2,-2.8zM36.6,44.4l-0.2,2.8l-1.3,-0.1l0.2,-2.8zM41,24.1l1,2.5l-1.4,0.5l-1,-2.5zM-3,24.1l1,2.5l-1.4,0.5l-1,-2.5zM40.7,29.1l-1.4,3.7l-2.3,-0.8l1.4,-3.7zM9,1.7l-3.8,0.1l-0.1,-2.2l3.8,-0.1zM9,45.7l-3.8,0.1l-0.1,-2.2l3.8,-0.1zM9,16.7l-4.5,1.8l-0.7,-1.8l4.5,-1.8zM12.1,23.9l2.3,0.8l-0.4,1.2l-2.3,-0.8zM27.4,11.8l2.8,4.0l-1.8,1.3l-2.8,-4.0zM1.4,34.6l-1.8,2.1l-0.7,-0.6l1.8,-2.1zM45.4,34.6l-1.8,2.1l-0.7,-0.6l1.8,-2.1zM14.6,16.5l2.2,1.5l-0.9,1.3l-2.2,-1.5zM9.8,22.7l2.4,0.4l-0.1,0.9l-2.4,-0.4zM39.8,41.8l-1.7,2.3l-1.3,-0.9l1.7,-2.3zM39.8,-2.2l-1.7,2.3l-1.3,-0.9l1.7,-2.3zM6.7,41.7l2.4,0.1l-0.1,1.3l-2.4,-0.1zM6.7,-2.3l2.4,0.1l-0.1,1.3l-2.4,-0.1zM42,-1.0l0.2,2.6l-1.3,0.1l-0.2,-2.6zM42,43.0l0.2,2.6l-1.3,0.1l-0.2,-2.6zM-2,-1.0l0.2,2.6l-1.3,0.1l-0.2,-2.6zM-2,43.0l0.2,2.6l-1.3,0.1l-0.2,-2.6zM1.9,4.4l1.4,1.1l-0.4,0.5l-1.4,-1.1zM45.9,4.4l1.4,1.1l-0.4,0.5l-1.4,-1.1zM22.8,2.4l3.1,1.3l-0.4,1.1l-3.1,-1.3zM22.8,46.4l3.1,1.3l-0.4,1.1l-3.1,-1.3zM15.4,42.2l-0.9,1.3l-0.8,-0.6l0.9,-1.3zM15.4,-1.8l-0.9,1.3l-0.8,-0.6l0.9,-1.3z"/><path fill="#FFFFFF" d="M27.3,25.9l3.3,0.1l-0,1.8l-3.3,-0.1zM42.7,39.2l2.2,1.0l-0.6,1.4l-2.2,-1.0zM-1.3,39.2l2.2,1.0l-0.6,1.4l-2.2,-1.0zM5.5,26.8l-0.9,3.5l-2.4,-0.6l0.9,-3.5zM49.5,26.8l-0.9,3.5l-2.4,-0.6l0.9,-3.5zM25.8,36.6l-1.5,0.8l-0.4,-0.9l1.5,-0.8zM22.9,9.8l0.9,1.9l-0.7,0.3l-0.9,-1.9zM34.8,6.0l0.3,1.9l-1.2,0.2l-0.3,-1.9zM28.6,11.1l-4.4,0.9l-0.3,-1.5l4.4,-0.9zM23.6,3.4l-1.1,3.1l-1.3,-0.5l1.1,-3.1zM36,4.2l-3,3.1l-1.4,-1.4l3,-3.1zM36,48.2l-3,3.1l-1.4,-1.4l3,-3.1zM29.6,11.8l-1.3,4.7l-1.8,-0.5l1.3,-4.7zM0.6,0.6l1.4,1.7l-1.1,1.0l-1.4,-1.7zM0.6,44.6l1.4,1.7l-1.1,1.0l-1.4,-1.7zM44.6,0.6l1.4,1.7l-1.1,1.0l-1.4,-1.7zM44.6,44.6l1.4,1.7l-1.1,1.0l-1.4,-1.7zM3.5,22.6l0.5,4.7l-2.9,0.3l-0.5,-4.7zM47.5,22.6l0.5,4.7l-2.9,0.3l-0.5,-4.7zM36,44.6l-4,0.5l-0.3,-2.1l4,-0.5zM36,0.6l-4,0.5l-0.3,-2.1l4,-0.5zM12.4,5.3l-1.3,0.9l-0.5,-0.8l1.3,-0.9zM20.2,35.5l-1.1,1.2l-0.5,-0.5l1.1,-1.2zM34.1,12.3l3.7,1.8l-0.6,1.3l-3.7,-1.8zM23.1,8.6l-0.2,4.9l-2.7,-0.1l0.2,-4.9zM3,13.7l-2.3,3.1l-1.8,-1.3l2.3,-3.1zM47,13.7l-2.3,3.1l-1.8,-1.3l2.3,-3.1z"/><path fill="#0AF5F8" d="M6.4,1.7l-2.5,3.9l-1.5,-0.9l2.5,-3.9zM6.4,45.7l-2.5,3.9l-1.5,-0.9l2.5,-3.9zM50.4,1.7l-2.5,3.9l-1.5,-0.9l2.5,-3.9zM50.4,45.7l-2.5,3.9l-1.5,-0.9l2.5,-3.9zM32.7,-1.1l3.7,0.4l-0.3,2.4l-3.7,-0.4zM32.7,42.9l3.7,0.4l-0.3,2.4l-3.7,-0.4zM14.1,33.4l0.7,1.6l-0.5,0.2l-0.7,-1.6zM39.5,40.0l-1.6,4.4l-3,-1.1l1.6,-4.4zM39.5,-4.0l-1.6,4.4l-3,-1.1l1.6,-4.4zM19.8,17.3l1.9,1.8l-1.2,1.3l-1.9,-1.8zM3.9,39.0l-1.2,1.0l-0.7,-0.8l1.2,-1.0zM29.6,38.5l-4.1,1.7l-0.7,-1.8l4.1,-1.7zM33.4,40.2l-2.3,0.8l-0.5,-1.5l2.3,-0.8zM9.2,24.0l3.5,2.8l-1.8,2.3l-3.5,-2.8zM38.9,0.4l1.4,0.6l-0.4,0.9l-1.4,-0.6zM38.9,44.4l1.4,0.6l-0.4,0.9l-1.4,-0.6zM29.9,25.5l-3.3,1.8l-0.8,-1.5l3.3,-1.8zM39.5,25.6l1.8,1.8l-1.1,1.1l-1.8,-1.8z"/><path fill="#782C8F" d="M35.8,0.6l2.6,1.2l-0.5,1.1l-2.6,-1.2zM35.8,44.6l2.6,1.2l-0.5,1.1l-2.6,-1.2zM11.8,27.8l-2.2,0.1l-0,-0.7l2.2,-0.1zM13.8,10.4l-2.9,1.5l-1,-1.9l2.9,-1.5zM29,2.5l4.7,0.2l-0.1,1.7l-4.7,-0.2zM29,46.5l4.7,0.2l-0.1,1.7l-4.7,-0.2zM42.2,9.1l-0.8,1.7l-0.7,-0.3l0.8,-1.7zM-1.8,9.1l-0.8,1.7l-0.7,-0.3l0.8,-1.7zM-0.4,41.2l1.5,2.0l-0.6,0.5l-1.5,-2.0zM-0.4,-2.8l1.5,2.0l-0.6,0.5l-1.5,-2.0zM43.6,41.2l1.5,2.0l-0.6,0.5l-1.5,-2.0zM43.6,-2.8l1.5,2.0l-0.6,0.5l-1.5,-2.0zM15.8,3.6l3.2,3.1l-1.1,1.2l-3.2,-3.1zM35.1,28.2l-3.6,3.4l-1.1,-1.1l3.6,-3.4zM27.8,1.0l0.5,3.3l-1.4,0.2l-0.5,-3.3zM27.8,45.0l0.5,3.3l-1.4,0.2l-0.5,-3.3zM13.2,9.2l-0.5,2.9l-1.3,-0.2l0.5,-2.9zM15.5,40.5l-1.7,1.7l-0.8,-0.8l1.7,-1.7zM15.5,-3.5l-1.7,1.7l-0.8,-0.8l1.7,-1.7z"/><path fill="#EEAD22" d="M36.3,9.7l-0.2,1.9l-1,-0.1l0.2,-1.9z"/><path fill="#0A6DBA" d="M24,44.1l-4.5,0.3l-0.1,-1.8l4.5,-0.3zM24,0.1l-4.5,0.3l-0.1,-1.8l4.5,-0.3zM21.4,18.1l-0.6,3.1l-1.5,-0.3l0.6,-3.1zM42.7,5.9l-1.9,3.2l-1.9,-1.1l1.9,-3.2zM-1.3,5.9l-1.9,3.2l-1.9,-1.1l1.9,-3.2zM28,26.9l1.5,0.1l-0.1,0.8l-1.5,-0.1zM13.5,42.2l-1.1,3.5l-1.2,-0.4l1.1,-3.5zM13.5,-1.8l-1.1,3.5l-1.2,-0.4l1.1,-3.5zM37.4,15.2l0.1,2.0l-1.1,0.1l-0.1,-2.0zM11.1,10.4l4.4,0.0l-0,2.7l-4.4,0zM7.9,24.0l2.9,0.8l-0.3,1.0l-2.9,-0.8zM2.1,39.4l1.6,2.5l-1.5,1.0l-1.6,-2.5zM2.1,-4.6l1.6,2.5l-1.5,1.0l-1.6,-2.5zM46.1,39.4l1.6,2.5l-1.5,1.0l-1.6,-2.5zM46.1,-4.6l1.6,2.5l-1.5,1.0l-1.6,-2.5zM27.4,4.8l1.8,4.2l-2.1,0.9l-1.8,-4.2zM35.7,18.9l-1.8,1.5l-0.6,-0.7l1.8,-1.5zM27.6,6.1l2.2,1.8l-1,1.2l-2.2,-1.8zM18.5,26.8l0.9,1.4l-0.7,0.4l-0.9,-1.4zM6.4,2.0l3.4,1.9l-1.2,2.2l-3.4,-1.9zM6.4,46.0l3.4,1.9l-1.2,2.2l-3.4,-1.9zM16.7,19.5l2.3,0.2l-0.1,1.0l-2.3,-0.2zM36.9,29.4l-1.3,1.9l-1.3,-0.9l1.3,-1.9zM37.9,11.5l4.3,2.3l-1.1,2.2l-4.3,-2.3zM-6.1,11.5l4.3,2.3l-1.1,2.2l-4.3,-2.3zM43.8,4.1l1.7,3.0l-1.7,1.0l-1.7,-3.0zM-0.2,4.1l1.7,3.0l-1.7,1.0l-1.7,-3.0z"/><path fill="#FFFFFF" d="M18.9,17.3l2.2,1.7l-0.8,1.0l-2.2,-1.7zM30.9,22.4l-3.6,0.9l-0.5,-2.0l3.6,-0.9zM38.3,22.7l-1.7,0.7l-0.4,-0.9l1.7,-0.7zM19.1,26.3l-0,2.4l-0.9,0l0,-2.4zM11.4,11.8l3.3,1.9l-1,1.7l-3.3,-1.9zM45.6,9.9l-2.5,3.2l-1.4,-1.1l2.5,-3.2zM1.6,9.9l-2.5,3.2l-1.4,-1.1l2.5,-3.2zM42.6,30.3l-1.7,0.3l-0.1,-0.9l1.7,-0.3zM-1.4,30.3l-1.7,0.3l-0.1,-0.9l1.7,-0.3zM16.8,-1.5l2.4,2.9l-1.6,1.3l-2.4,-2.9zM16.8,42.5l2.4,2.9l-1.6,1.3l-2.4,-2.9zM43.9,19.7l-1.1,1.8l-0.9,-0.6l1.1,-1.8zM-0.1,19.7l-1.1,1.8l-0.9,-0.6l1.1,-1.8zM8.9,4.2l2.9,0.4l-0.2,1.6l-2.9,-0.4zM12.1,28.1l-0.6,4.7l-3.2,-0.4l0.6,-4.7zM11.3,41.0l0.4,1.5l-1,0.2l-0.4,-1.5zM11.3,-3.0l0.4,1.5l-1,0.2l-0.4,-1.5zM12.8,6.2l4.5,1.1l-0.4,1.5l-4.5,-1.1zM32.4,13.7l-1,4.7l-3,-0.6l1,-4.7zM4.5,1.7l1.7,0.9l-0.6,1.1l-1.7,-0.9zM4.5,45.7l1.7,0.9l-0.6,1.1l-1.7,-0.9zM25,11.3l4.7,1.1l-0.7,3.0l-4.7,-1.1zM42,42.7l-1.3,1.5l-0.6,-0.5l1.3,-1.5zM42,-1.3l-1.3,1.5l-0.6,-0.5l1.3,-1.5zM-2,42.7l-1.3,1.5l-0.6,-0.5l1.3,-1.5zM-2,-1.3l-1.3,1.5l-0.6,-0.5l1.3,-1.5zM9.5,27.8l0.6,3.8l-1.2,0.2l-0.6,-3.8zM11.3,10.1l4.5,0.9l-0.3,1.5l-4.5,-0.9zM4.2,7.2l-2.7,0.9l-0.5,-1.4l2.7,-0.9zM48.2,7.2l-2.7,0.9l-0.5,-1.4l2.7,-0.9zM31.1,13.1l-0.8,2.4l-1.5,-0.5l0.8,-2.4zM42.7,30.8l-2.3,4.4l-1.8,-0.9l2.3,-4.4zM-1.3,30.8l-2.3,4.4l-1.8,-0.9l2.3,-4.4zM11.3,7.8l1.2,1.3l-0.4,0.4l-1.2,-1.3z"/><path fill="#0AF5F8" d="M28.9,9.0l-2.8,1.6l-1.1,-1.9l2.8,-1.6zM37.6,17.2l3.1,2.3l-1,1.3l-3.1,-2.3zM30.3,41.3l0.2,2.9l-1.9,0.1l-0.2,-2.9zM30.3,-2.7l0.2,2.9l-1.9,0.1l-0.2,-2.9zM17.6,22.1l4.1,0.6l-0.4,2.5l-4.1,-0.6zM15.9,23.4l3.3,1.1l-0.6,1.6l-3.3,-1.1zM29.9,8.1l0.8,2.0l-0.7,0.3l-0.8,-2.0zM3.9,4.4l-0.7,1.5l-0.9,-0.4l0.7,-1.5zM29.4,41.7l-1.2,2.2l-0.7,-0.4l1.2,-2.2zM29.4,-2.3l-1.2,2.2l-0.7,-0.4l1.2,-2.2zM32,38.8l-2.9,2.0l-0.6,-0.9l2.9,-2.0z"/><path fill="#782C8F" d="M3.1,5.6l-2,3.0l-1.9,-1.3l2,-3.0zM47.1,5.6l-2,3.0l-1.9,-1.3l2,-3.0zM42.3,36.1l2.3,0.9l-0.6,1.5l-2.3,-0.9zM-1.7,36.1l2.3,0.9l-0.6,1.5l-2.3,-0.9zM41.5,12.6l-2.5,2.1l-0.8,-0.9l2.5,-2.1zM-2.5,12.6l-2.5,2.1l-0.8,-0.9l2.5,-2.1zM30.1,13.1l3.5,2.3l-1,1.6l-3.5,-2.3zM41.7,6.9l1.2,2.1l-1.4,0.8l-1.2,-2.1zM-2.3,6.9l1.2,2.1l-1.4,0.8l-1.2,-2.1zM35.7,28.8l-3.4,1.8l-1,-2.0l3.4,-1.8zM29.9,35.2l4.1,0.2l-0.1,2.0l-4.1,-0.2zM5.4,18.1l0.9,2.0l-1,0.5l-0.9,-2.0z"/><path fill="#EEAD22" d="M6.8,36.4l0.6,2.1l-0.7,0.2l-0.6,-2.1zM34.1,7.4l-3.5,2.8l-1.2,-1.5l3.5,-2.8z"/><path fill="#0A6DBA" d="M22.7,19.9l2.8,1.4l-0.5,1.0l-2.8,-1.4zM-0,21.9l1.5,1.8l-1.2,1.0l-1.5,-1.8zM44,21.9l1.5,1.8l-1.2,1.0l-1.5,-1.8zM39.3,39.7l-2.2,3.5l-1.2,-0.8l2.2,-3.5zM39.3,-4.3l-2.2,3.5l-1.2,-0.8l2.2,-3.5zM38,40.4l2.2,3.2l-2,1.3l-2.2,-3.2zM38,-3.6l2.2,3.2l-2,1.3l-2.2,-3.2zM25.1,6.4l-2.4,4.4l-1.7,-0.9l2.4,-4.4zM26.8,12.3l1.6,1.7l-0.8,0.8l-1.6,-1.7zM12.2,7.0l-3.8,2.7l-1.1,-1.6l3.8,-2.7zM10.9,6.2l2.6,2.5l-1.2,1.3l-2.6,-2.5zM10.7,12.2l-4.5,0.6l-0.3,-1.8l4.5,-0.6zM20,1.5l1.5,1.0l-0.6,0.8l-1.5,-1.0zM20,45.5l1.5,1.0l-0.6,0.8l-1.5,-1.0zM11.3,1.3l-1.2,2.2l-0.9,-0.5l1.2,-2.2zM11.3,45.3l-1.2,2.2l-0.9,-0.5l1.2,-2.2zM26.9,23.1l2.2,4.2l-2.3,1.2l-2.2,-4.2zM5.1,35.9l-1.7,0.3l-0.1,-0.7l1.7,-0.3zM30.6,33.1l-0.8,1.3l-0.5,-0.3l0.8,-1.3z"/><path fill="#FFFFFF" d="M11.5,29.6l-0.1,3.5l-1.6,-0.1l0.1,-3.5zM15,42.7l-2.4,2.8l-1.4,-1.2l2.4,-2.8zM15,-1.3l-2.4,2.8l-1.4,-1.2l2.4,-2.8zM29.6,20.2l-3,0.2l-0.1,-1.6l3,-0.2zM36.1,29.9l-0.4,2.6l-1,-0.2l0.4,-2.6zM14.2,20.6l0,2.9l-1.4,0.0l-0,-2.9zM24.9,2.6l1,2.4l-1.3,0.5l-1,-2.4zM43.8,41.5l-0.9,4.8l-2.1,-0.4l0.9,-4.8zM43.8,-2.5l-0.9,4.8l-2.1,-0.4l0.9,-4.8zM-0.2,41.5l-0.9,4.8l-2.1,-0.4l0.9,-4.8zM-0.2,-2.5l-0.9,4.8l-2.1,-0.4l0.9,-4.8zM7,-1.0l1.4,2.4l-1.4,0.9l-1.4,-2.4zM7,43.0l1.4,2.4l-1.4,0.9l-1.4,-2.4zM8,12.2l-4.6,0.5l-0.3,-2.9l4.6,-0.5zM52,12.2l-4.6,0.5l-0.3,-2.9l4.6,-0.5zM9,24.3l1.2,2.0l-0.8,0.5l-1.2,-2.0zM28.6,39.1l3.8,0.7l-0.4,2.3l-3.8,-0.7zM28.6,-4.9l3.8,0.7l-0.4,2.3l-3.8,-0.7zM35.4,19.3l3.3,3.5l-2.1,2.0l-3.3,-3.5zM9.3,5.2l1.5,1.2l-0.7,0.9l-1.5,-1.2zM6.7,22.0l-2.6,0.2l-0.1,-0.8l2.6,-0.2zM19.7,15.6l-2,2.6l-1.5,-1.2l2,-2.6zM42.5,2.6l-0.6,2.6l-1.1,-0.3l0.6,-2.6zM-1.5,2.6l-0.6,2.6l-1.1,-0.3l0.6,-2.6zM15.3,27.0l1.7,4.4l-2,0.8l-1.7,-4.4zM39.1,31.7l0.1,1.8l-1.1,0.1l-0.1,-1.8zM25.7,0.4l2.9,0.1l-0.1,1.7l-2.9,-0.1zM25.7,44.4l2.9,0.1l-0.1,1.7l-2.9,-0.1zM26.6,26.0l3.2,3.0l-2.1,2.2l-3.2,-3.0z"/><path fill="#0AF5F8" d="M36.4,39.8l1.7,2.8l-1.3,0.8l-1.7,-2.8zM36.4,-4.2l1.7,2.8l-1.3,0.8l-1.7,-2.8zM14.1,28.9l-0.9,4.1l-1.8,-0.4l0.9,-4.1zM3.6,31.7l-2.2,1.8l-0.8,-1.0l2.2,-1.8zM47.6,31.7l-2.2,1.8l-0.8,-1.0l2.2,-1.8zM19.4,35.5l-2.8,3.2l-2,-1.8l2.8,-3.2zM24.5,27.7l-1.2,1.0l-0.4,-0.4l1.2,-1.0zM15.3,41.3l-0.1,2.7l-1.1,0l0.1,-2.7zM15.3,-2.7l-0.1,2.7l-1.1,0l0.1,-2.7zM29.1,0.7l1.2,1.4l-1,0.8l-1.2,-1.4zM29.1,44.7l1.2,1.4l-1,0.8l-1.2,-1.4zM30.8,9.4l3.9,2.1l-1.3,2.5l-3.9,-2.1zM39.9,12.2l-2.6,1.0l-0.5,-1.3l2.6,-1.0zM7.8,0.2l1.5,2.3l-1.1,0.7l-1.5,-2.3zM7.8,44.2l1.5,2.3l-1.1,0.7l-1.5,-2.3zM20.7,9.7l1.4,0.7l-0.5,1.0l-1.4,-0.7zM14.9,13.1l0.5,2.0l-1.1,0.3l-0.5,-2.0zM15.7,10.5l-1.3,4.2l-2.3,-0.7l1.3,-4.2zM17.5,13.4l2.6,1.0l-0.5,1.2l-2.6,-1.0z"/><path fill="#782C8F" d="M38.2,26.3l4.5,1.4l-0.5,1.7l-4.5,-1.4zM-5.8,26.3l4.5,1.4l-0.5,1.7l-4.5,-1.4zM1.4,17.1l1.6,0.8l-0.6,1.0l-1.6,-0.8zM45.4,17.1l1.6,0.8l-0.6,1.0l-1.6,-0.8zM32.4,32.9l4.6,1.4l-0.9,3.0l-4.6,-1.4zM28.8,37.3l2.8,2.9l-1.4,1.4l-2.8,-2.9zM28.8,-6.7l2.8,2.9l-1.4,1.4l-2.8,-2.9zM39.5,18.1l0.2,2.7l-1.1,0.1l-0.2,-2.7zM11.4,39.5l3.2,3.1l-1.1,1.2l-3.2,-3.1zM11.4,-4.5l3.2,3.1l-1.1,1.2l-3.2,-3.1zM4.5,29.3l-0.8,2.4l-0.9,-0.3l0.8,-2.4zM35,25.7l0.2,4.4l-3,0.1l-0.2,-4.4zM8.7,18.3l3.5,0.2l-0.1,1.5l-3.5,-0.2zM24.4,20.9l2.2,0.3l-0.2,1.2l-2.2,-0.3zM31.5,26.0l-3.3,3.5l-1.9,-1.8l3.3,-3.5zM10.9,10.4l-0.8,2.3l-0.9,-0.3l0.8,-2.3z"/></pattern><clipPath id="cl1"><polygon points="0.0,19.6 17.0,23.0 33.9,25.6 50.8,27.3 67.8,29.0 80.0,30.6 92.0,33.0 104.0,37.0 111.0,42.0 116.0,48.0 117.5,54.0 115.0,62.0 109.0,75.0 96.8,83.1 84.6,93.3 70.4,105.0 58.0,114.0 44.2,122.0 30.0,133.0 15.0,144.0 0.0,155.0"/></clipPath><clipPath id="cl2"><polygon points="206.0,11.0 332.0,11.0 331.2,20.0 329.6,28.4 327.6,36.5 325.5,44.7 322.5,56.9 320.5,68.0 319.0,77.0 313.9,93.9 307.1,107.5 300.3,117.6 297.0,127.8 293.6,138.0 286.8,149.8 283.4,153.0 278.0,151.0 265.7,140.0 252.7,123.5 242.6,107.3 234.5,91.1 228.4,74.9 222.3,58.6 216.0,42.4 210.0,26.0"/></clipPath><clipPath id="cl3"><polygon points="100.9,94.3 111.0,93.0 119.0,88.0 127.0,86.5 135.0,90.0 151.0,91.3 181.7,90.3 206.3,90.3 222.6,95.4 232.8,103.6 237.3,110.0 250.8,130.0 256.0,150.0 261.7,175.6 267.3,192.4 274.7,207.3 276.6,214.7 272.9,225.9 267.3,240.8 259.8,255.7 248.6,270.6 237.5,276.0 219.3,278.0 193.2,285.6 174.5,289.4 120.0,290.0 112.0,277.6 100.3,258.0 88.6,238.6 73.0,215.0 57.3,195.6 42.0,180.0 40.7,166.9 44.2,155.1 49.0,145.6 56.1,133.7 63.2,121.9 72.0,110.0 82.6,102.0 90.7,97.4"/></clipPath><clipPath id="cl4"><polygon points="0.0,220.0 11.5,221.5 23.0,228.7 34.6,238.8 46.1,247.5 54.7,257.5 59.1,266.2 56.2,274.8 49.0,282.0 37.5,286.3 25.9,289.2 11.5,292.1 0.0,293.5"/></clipPath><clipPath id="cl5"><polygon points="290.5,209.7 322.0,210.6 325.9,223.6 330.6,242.3 332.0,270.0 333.0,294.0 272.2,294.0 274.7,274.4 277.5,253.5 281.2,242.3 285.8,225.5"/></clipPath></defs><polygon points="0.0,19.6 17.0,23.0 33.9,25.6 50.8,27.3 67.8,29.0 80.0,30.6 92.0,33.0 104.0,37.0 111.0,42.0 116.0,48.0 117.5,54.0 115.0,62.0 109.0,75.0 96.8,83.1 84.6,93.3 70.4,105.0 58.0,114.0 44.2,122.0 30.0,133.0 15.0,144.0 0.0,155.0" fill="url(#tx2)" stroke="url(#sp1)" stroke-width="2.5" clip-path="url(#cl1)"/><polygon points="0.0,36.0 8.0,34.0 17.0,33.0 25.4,34.0 33.9,35.0 47.5,36.5 64.4,38.5 80.0,41.5 89.0,44.0 95.0,47.0 98.6,52.0 99.0,60.0 97.0,68.0 91.0,75.5 79.0,84.0 68.0,91.5 56.0,98.5 50.0,102.0 44.9,104.7 30.0,115.4 15.0,127.0 0.0,139.0" fill="#78AB30" /><polygon points="0.0,72.0 10.0,69.0 25.0,71.0 33.0,78.0 35.0,92.0 31.0,104.0 22.0,108.0 10.0,106.0 0.0,100.0" fill="url(#tx6)" /><polygon points="40.0,67.0 47.0,64.0 53.0,68.0 52.0,75.0 45.0,78.0 39.0,74.0" fill="url(#tx6)" /><polygon points="42.0,53.0 49.0,51.5 52.0,56.0 47.0,60.0 42.0,58.0" fill="url(#tx6)" /><polygon points="74.0,65.0 82.0,62.0 89.0,66.0 86.0,72.0 77.0,73.0" fill="url(#tx6)" /><polygon points="14.0,61.0 22.0,59.5 27.0,63.0 22.0,68.0 15.0,66.0" fill="url(#tx6)" /><polygon points="4.0,38.0 12.0,36.0 17.0,42.0 16.0,52.0 9.0,56.0 4.0,50.0" fill="url(#tx6)" /><ellipse cx="19.5" cy="88.5" rx="10" ry="9.5" fill="#EEAD22"/><ellipse cx="22" cy="100.5" rx="5" ry="4.5" fill="#EEAD22"/><polygon points="206.0,11.0 332.0,11.0 331.2,20.0 329.6,28.4 327.6,36.5 325.5,44.7 322.5,56.9 320.5,68.0 319.0,77.0 313.9,93.9 307.1,107.5 300.3,117.6 297.0,127.8 293.6,138.0 286.8,149.8 283.4,153.0 278.0,151.0 265.7,140.0 252.7,123.5 242.6,107.3 234.5,91.1 228.4,74.9 222.3,58.6 216.0,42.4 210.0,26.0" fill="url(#tx3)" stroke="url(#sp3)" stroke-width="6" clip-path="url(#cl2)"/><polygon points="207.0,11.0 226.0,11.0 230.0,30.0 234.0,45.0 238.0,62.0 243.0,80.0 250.0,98.0 256.0,112.0 258.0,125.0 252.7,123.5 242.6,107.3 234.5,91.1 228.4,74.9 222.3,58.6 216.0,42.4 210.0,26.0" fill="url(#tx3c)" /><polygon points="305.0,11.0 332.0,11.0 331.2,20.0 329.6,28.4 327.6,36.5 325.5,44.7 322.5,56.9 320.5,68.0 319.0,77.0 313.9,93.9 307.1,107.5 300.3,117.6 297.0,127.8 293.6,138.0 286.8,149.8 283.4,153.0 278.0,151.0 272.0,140.0 285.0,120.0 295.0,100.0 302.0,80.0 306.0,55.0 306.0,30.0" fill="url(#tx3b)" /><polygon points="225.4,12.0 245.0,11.5 244.0,14.0 238.0,18.0 235.6,28.6 228.0,30.3 224.0,22.0" fill="#0AF5F8" /><polygon points="236.0,40.0 250.0,40.0 262.0,41.0 268.0,44.0 271.0,52.0 270.0,62.0 262.0,67.0 248.0,66.0 240.0,60.0 236.0,50.0" fill="#0AF5F8" /><polygon points="280.3,12.5 295.5,12.5 295.0,20.0 288.0,22.0 280.3,21.9" fill="#0AF5F8" /><polygon points="271.8,20.2 280.0,21.0 280.3,28.6 272.0,28.0" fill="#0AF5F8" /><polygon points="270.0,34.0 276.9,33.7 276.9,43.9 270.0,43.0" fill="#0AF5F8" /><polygon points="276.9,75.2 291.1,75.2 291.0,85.0 280.0,86.0" fill="#0AF5F8" /><polygon points="250.8,81.0 262.7,82.0 262.0,93.0 252.0,92.0" fill="#0AF5F8" /><polygon points="227.0,10.9 229.1,22.7 227.0,23.1 224.9,11.3" fill="#782C8F" /><polygon points="231.7,65.5 247.2,56.5 248.3,58.5 232.8,67.5" fill="#782C8F" /><polygon points="290.2,27.1 295.7,42.2 293.8,42.9 288.3,27.8" fill="#782C8F" /><polygon points="301.6,51.7 312.6,75.3 310.4,76.3 299.4,52.7" fill="#782C8F" /><polygon points="253.8,84.5 277.3,73.5 278.2,75.5 254.7,86.5" fill="#782C8F" /><polygon points="259.0,100.3 273.7,89.9 275.0,91.7 260.3,102.1" fill="#782C8F" /><polygon points="279.0,113.4 289.3,101.2 291.0,102.6 280.7,114.8" fill="#782C8F" /><polygon points="247.4,88.4 254.4,100.6 252.6,101.6 245.6,89.4" fill="#782C8F" /><polygon points="295.6,95.6 302.6,83.4 304.4,84.4 297.4,96.6" fill="#782C8F" /><polygon points="269.0,128.7 279.7,119.7 281.0,121.3 270.3,130.3" fill="#782C8F" /><polygon points="261.8,108.9 276.5,98.6 278.2,101.1 263.5,111.4" fill="#0AF5F8" /><polygon points="255.1,94.6 262.8,103.8 260.9,105.4 253.2,96.2" fill="#0AF5F8" /><polygon points="283.9,95.9 295.2,91.8 296.1,94.1 284.8,98.2" fill="#0AF5F8" /><polygon points="245.1,73.6 252.8,80.1 250.9,82.4 243.2,75.9" fill="#0AF5F8" /><polygon points="235.6,27.0 238.0,18.0 244.0,13.4 256.0,12.5 268.0,12.0 275.0,14.0 277.0,22.0 275.0,31.0 269.0,36.0 261.0,38.0 251.0,39.0 243.0,37.0 237.0,32.0" fill="#78AB30" /><polygon points="270.0,45.0 280.0,43.0 290.0,46.0 294.0,55.0 292.0,65.0 285.0,69.0 275.0,68.0 270.0,58.0" fill="#78AB30" /><polygon points="278.6,23.6 285.3,23.6 285.3,32.0 278.6,32.0" fill="#78AB30" /><polygon points="100.9,94.3 111.0,93.0 119.0,88.0 127.0,86.5 135.0,90.0 151.0,91.3 181.7,90.3 206.3,90.3 222.6,95.4 232.8,103.6 237.3,110.0 250.8,130.0 256.0,150.0 261.7,175.6 267.3,192.4 274.7,207.3 276.6,214.7 272.9,225.9 267.3,240.8 259.8,255.7 248.6,270.6 237.5,276.0 219.3,278.0 193.2,285.6 174.5,289.4 120.0,290.0 112.0,277.6 100.3,258.0 88.6,238.6 73.0,215.0 57.3,195.6 42.0,180.0 40.7,166.9 44.2,155.1 49.0,145.6 56.1,133.7 63.2,121.9 72.0,110.0 82.6,102.0 90.7,97.4" fill="url(#tx1)" stroke="url(#sp1)" stroke-width="8" clip-path="url(#cl3)"/><polygon points="100.0,268.0 125.0,270.0 150.0,272.0 175.0,268.0 200.0,266.0 225.0,262.0 245.0,256.0 262.0,248.0 267.3,240.8 259.8,255.7 248.6,270.6 237.5,276.0 219.3,278.0 193.2,285.6 174.5,289.4 120.0,290.0 112.0,277.6 104.0,265.0" fill="url(#tx1s)" clip-path="url(#cl3)"/><polygon points="83.0,166.0 86.0,156.0 92.0,146.0 101.7,139.0 107.0,135.0 115.0,128.0 120.7,124.0 134.0,121.3 150.0,119.9 166.0,115.8 177.0,113.1 190.7,121.3 204.0,124.0 212.4,130.8 215.0,140.0 218.0,154.0 221.0,165.0 223.0,178.0 228.5,187.0 235.6,194.2 239.2,203.7 242.7,210.8 245.0,220.3 242.9,224.7 238.1,229.5 223.9,234.2 209.7,240.2 193.0,242.5 176.4,243.7 162.2,250.8 145.6,253.2 133.7,250.8 121.9,241.4 110.0,229.5 101.7,215.7 94.9,202.1 89.0,189.0 86.0,176.0" fill="#78AB30" /><polygon points="124.0,141.0 131.0,136.0 150.0,133.0 158.0,140.0 162.0,150.0 172.0,152.0 177.0,160.0 172.0,168.0 160.0,170.0 152.0,172.0 145.0,170.0 136.0,168.0 126.0,168.0 121.0,155.0" fill="url(#tx1)" /><polygon points="131.0,177.0 142.0,174.0 152.0,178.0 150.0,186.0 140.0,190.0 134.0,188.0" fill="url(#tx1)" /><polygon points="156.0,183.0 168.0,181.0 174.0,188.0 170.0,198.0 160.0,200.0" fill="url(#tx1)" /><polygon points="142.0,196.0 152.0,194.0 162.0,204.0 160.0,214.0 150.0,214.0 143.0,206.0" fill="url(#tx1)" /><polygon points="128.8,214.0 136.0,212.0 142.4,216.0 142.0,225.0 135.0,227.0 129.0,224.0" fill="url(#tx1)" /><polygon points="193.4,163.3 204.0,163.0 205.0,175.0 196.0,176.0" fill="url(#tx6)" /><polygon points="195.0,151.5 199.0,150.5 203.0,152.0 201.0,155.0 196.0,155.0" fill="#FFFFFF" /><polygon points="119.0,147.0 123.0,145.7 126.0,148.0 125.5,156.0 126.0,163.0 122.0,165.0 118.5,160.0 118.0,152.0" fill="#FFFFFF" /><polygon points="106.0,193.5 108.5,192.6 109.8,195.0 107.5,196.7" fill="#FFFFFF" /><line x1="128" y1="150" x2="232" y2="226" stroke="#4d6b2a" stroke-width="0.5" stroke-opacity="0.7"/><polygon points="138.3,137.5 147.8,134.8 154.6,138.9 156.0,153.8 151.9,160.6 141.0,160.6 135.6,153.8" fill="#782C8F" /><polygon points="155.4,153.8 165.0,152.0 169.0,158.0 165.0,162.0 156.0,161.0" fill="#782C8F" /><polygon points="167.6,132.1 174.4,128.0 192.0,140.3 185.3,145.7" fill="#0AF5F8" /><polygon points="134.2,134.8 142.4,134.8 140.0,143.0 134.2,143.0" fill="#0AF5F8" /><polygon points="150.0,190.0 168.0,183.0 174.0,192.0 158.0,200.0" fill="#0AF5F8" /><polygon points="134.0,178.0 148.0,175.0 152.0,185.0 140.0,190.0" fill="#0AF5F8" /><polygon points="146.0,200.0 156.0,196.0 166.0,210.0 156.0,215.0" fill="#0AF5F8" /><polygon points="197.5,203.0 204.0,200.8 207.0,211.0 200.0,213.0" fill="#0AF5F8" /><polygon points="213.7,236.5 221.9,234.7 221.9,239.5 213.7,241.4" fill="#0AF5F8" /><polygon points="192.0,226.0 199.0,222.5 207.0,223.0 209.7,227.0 203.0,229.2 194.0,229.0" fill="#782C8F" /><polygon points="225.4,132.0 234.0,125.3 244.0,150.7 235.6,155.8" fill="#0AF5F8" /><polygon points="225.4,166.0 250.8,164.2 262.7,176.0 254.2,188.0 230.5,189.7 222.0,177.8" fill="#0AF5F8" /><polygon points="119.0,87.0 133.0,86.0 138.0,93.0 134.0,99.0 121.0,99.0" fill="#0AF5F8" /><ellipse cx="95.5" cy="130" rx="10" ry="10" fill="#EEAD22"/><ellipse cx="78" cy="140" rx="3.2" ry="4.5" fill="#EEAD22"/><ellipse cx="133.5" cy="220" rx="3.5" ry="3.5" fill="#EEAD22"/><ellipse cx="246" cy="201.5" rx="4.5" ry="5" fill="#EEAD22"/><polygon points="0.0,220.0 11.5,221.5 23.0,228.7 34.6,238.8 46.1,247.5 54.7,257.5 59.1,266.2 56.2,274.8 49.0,282.0 37.5,286.3 25.9,289.2 11.5,292.1 0.0,293.5" fill="url(#tx4)" stroke="url(#sp4)" stroke-width="2.5" clip-path="url(#cl4)"/><polygon points="0.0,233.0 5.8,236.0 14.4,243.1 23.0,250.3 28.8,253.2 20.2,260.4 14.4,267.6 8.6,279.1 5.8,287.8 0.0,293.5" fill="#78AB30" /><polygon points="290.5,209.7 322.0,210.6 325.9,223.6 330.6,242.3 332.0,270.0 333.0,294.0 272.2,294.0 274.7,274.4 277.5,253.5 281.2,242.3 285.8,225.5" fill="url(#tx5)" stroke="url(#sp4)" stroke-width="2.5" clip-path="url(#cl5)"/><polygon points="296.0,221.0 305.0,219.0 316.0,220.0 319.0,226.0 321.5,236.0 324.0,251.6 326.0,262.0 328.0,294.0 279.0,294.0 281.0,275.0 284.5,260.0 288.0,242.3 292.0,230.0" fill="#78AB30" /><rect x="0.5" y="11.5" width="335" height="282.5" fill="none" stroke="#6b6b6b" stroke-width="1"/><text x="1" y="8.9" font-family="Liberation Sans, sans-serif" font-size="11" font-weight="bold">a</text><text x="86.8" y="21.75" font-family="Liberation Sans, sans-serif" font-size="9.1">Unzen</text><path d="M85,20.2 L68.5,27.3 M73,21.8 L68.5,27.3 L75.3,28.8" fill="none" stroke="#111" stroke-width="1"/><rect x="125.5" y="13.4" width="10" height="10" fill="#78AB30" stroke="#555" stroke-width="0.8"/><text x="137.3" y="22.0" font-family="Liberation Sans, sans-serif" font-size="9.35">Amphibole</text><rect x="125.5" y="24.6" width="10" height="10" fill="#0A6DBA" stroke="#555" stroke-width="0.8"/><text x="137.3" y="33.2" font-family="Liberation Sans, sans-serif" font-size="9.35">Clinopyroxene</text><rect x="125.5" y="35.8" width="10" height="10" fill="#782C8F" stroke="#555" stroke-width="0.8"/><text x="137.3" y="44.4" font-family="Liberation Sans, sans-serif" font-size="9.35">Orthopyroxene</text><rect x="125.5" y="47.0" width="10" height="10" fill="#0AF5F8" stroke="#555" stroke-width="0.8"/><text x="137.3" y="55.6" font-family="Liberation Sans, sans-serif" font-size="9.35">Plagioclase</text><rect x="125.5" y="58.2" width="10" height="10" fill="#EEAD22" stroke="#555" stroke-width="0.8"/><text x="137.3" y="66.8" font-family="Liberation Sans, sans-serif" font-size="9.35">Fe-Ti oxides</text><text x="330.4" y="168.2" font-family="Liberation Sans, sans-serif" font-size="9.25" text-anchor="end">Soufrière Hills</text><text x="330.4" y="177.1" font-family="Liberation Sans, sans-serif" font-size="9.25" text-anchor="end">Volcano</text><path d="M302.9,156.6 L295.8,139.5 M293.5,145 L295.8,139.5 L300,143.6" fill="none" stroke="#111" stroke-width="1"/><path d="M292.9,174.2 L262,177.8 M267,174.5 L262,177.8 L267.5,180.8" fill="none" stroke="#111" stroke-width="1"/><text x="7" y="205" font-family="Liberation Sans, sans-serif" font-size="9.3">Bezymianny</text><path d="M31.6,209 L31.6,232.5 M28.5,227.5 L31.6,232.5 L34.7,227.5" fill="none" stroke="#111" stroke-width="1"/><text x="226.8" y="291.5" font-family="Liberation Sans, sans-serif" font-size="9.2">El Misti</text><path d="M257,285 L272,270 M266,271 L272,270 L271,276" fill="none" stroke="#111" stroke-width="1"/><text x="63.6" y="284.5" font-family="Liberation Sans, sans-serif" font-size="9.1" font-style="italic">100 μm</text><rect x="63.2" y="287.7" width="29.2" height="4" fill="#000"/>
<defs><linearGradient id="gBez" x1="0" y1="0" x2="0" y2="1"><stop offset="0" stop-color="#D6ACDA"/><stop offset="0.4" stop-color="#BF7FC3"/><stop offset="1" stop-color="#A0559F"/></linearGradient><linearGradient id="gMis" x1="0" y1="0" x2="0" y2="1"><stop offset="0" stop-color="#C9DEB0"/><stop offset="0.4" stop-color="#A5C685"/><stop offset="1" stop-color="#88B062"/></linearGradient><linearGradient id="gUnz" x1="0" y1="0" x2="0" y2="1"><stop offset="0" stop-color="#BCDDE4"/><stop offset="1" stop-color="#7DB1BE"/></linearGradient><linearGradient id="gMisL" x1="0" y1="0" x2="0" y2="1"><stop offset="0" stop-color="#8DB567"/><stop offset="1" stop-color="#78A452"/></linearGradient><linearGradient id="gSou" x1="0" y1="0" x2="0" y2="1"><stop offset="0" stop-color="#FAC0B6"/><stop offset="1" stop-color="#F8ADA0"/></linearGradient><pattern id="dg" width="2" height="2" patternUnits="userSpaceOnUse"><rect width="2" height="2" fill="#2C8A3A"/><rect width="1" height="1" fill="#4FA055"/></pattern></defs><text x="343.6" y="9.3" font-family="Liberation Sans, sans-serif" font-size="11.2" font-weight="bold">b</text><text x="355.6" y="22.6" font-family="Liberation Sans, sans-serif" font-size="6.6" text-anchor="end">Depth</text><text x="355.6" y="29.6" font-family="Liberation Sans, sans-serif" font-size="6.6" text-anchor="end">km</text><text x="359.6" y="22.6" font-family="Liberation Sans, sans-serif" font-size="6.6">Pressure</text><text x="359.6" y="29.6" font-family="Liberation Sans, sans-serif" font-size="6.6">MPa</text><line x1="357.9" y1="17.5" x2="357.9" y2="295" stroke="#333" stroke-width="0.9"/><line x1="353" y1="44.1" x2="357.9" y2="44.1" stroke="#333" stroke-width="0.9"/><text x="351.6" y="46.6" font-family="Liberation Sans, sans-serif" font-size="7" text-anchor="end">2</text><line x1="353" y1="85.4" x2="357.9" y2="85.4" stroke="#333" stroke-width="0.9"/><text x="351.6" y="87.9" font-family="Liberation Sans, sans-serif" font-size="7" text-anchor="end">4</text><line x1="353" y1="127.1" x2="357.9" y2="127.1" stroke="#333" stroke-width="0.9"/><text x="351.6" y="129.6" font-family="Liberation Sans, sans-serif" font-size="7" text-anchor="end">6</text><line x1="353" y1="168.5" x2="357.9" y2="168.5" stroke="#333" stroke-width="0.9"/><text x="351.6" y="171.0" font-family="Liberation Sans, sans-serif" font-size="7" text-anchor="end">8</text><line x1="353" y1="210" x2="357.9" y2="210" stroke="#333" stroke-width="0.9"/><text x="351.6" y="212.5" font-family="Liberation Sans, sans-serif" font-size="7" text-anchor="end">10</text><line x1="353" y1="251.5" x2="357.9" y2="251.5" stroke="#333" stroke-width="0.9"/><text x="351.6" y="254.0" font-family="Liberation Sans, sans-serif" font-size="7" text-anchor="end">12</text><line x1="353" y1="293" x2="357.9" y2="293" stroke="#333" stroke-width="0.9"/><text x="351.6" y="295.5" font-family="Liberation Sans, sans-serif" font-size="7" text-anchor="end">14</text><line x1="357.9" y1="42.5" x2="360.6" y2="42.5" stroke="#333" stroke-width="0.9"/><text x="361.2" y="45.0" font-family="Liberation Sans, sans-serif" font-size="7">50</text><line x1="357.9" y1="79.7" x2="360.6" y2="79.7" stroke="#333" stroke-width="0.9"/><text x="361.2" y="82.2" font-family="Liberation Sans, sans-serif" font-size="7">100</text><line x1="357.9" y1="119.7" x2="360.6" y2="119.7" stroke="#333" stroke-width="0.9"/><text x="361.2" y="122.2" font-family="Liberation Sans, sans-serif" font-size="7">150</text><line x1="357.9" y1="158.6" x2="360.6" y2="158.6" stroke="#333" stroke-width="0.9"/><text x="361.2" y="161.1" font-family="Liberation Sans, sans-serif" font-size="7">200</text><line x1="357.9" y1="197.6" x2="360.6" y2="197.6" stroke="#333" stroke-width="0.9"/><text x="361.2" y="200.1" font-family="Liberation Sans, sans-serif" font-size="7">250</text><line x1="357.9" y1="236.4" x2="360.6" y2="236.4" stroke="#333" stroke-width="0.9"/><text x="361.2" y="238.9" font-family="Liberation Sans, sans-serif" font-size="7">300</text><line x1="357.9" y1="275.2" x2="360.6" y2="275.2" stroke="#333" stroke-width="0.9"/><text x="361.2" y="277.7" font-family="Liberation Sans, sans-serif" font-size="7">350</text><polyline points="374.4,292.5 374.4,41.2 386.9,33.9 402.2,29.6 415.4,26.3 428.5,18.6 439.4,10.9 446.0,5.0 449.3,3.3 452.6,4.8 456.0,7.5 459.2,8.1 462.4,6.6 466.2,4.4 469.0,5.5 474.5,12.0 485.4,18.6 496.4,25.2 500.0,30.0 502.9,34.9 505.4,36.1 513.9,37.8 522.4,41.2 522.4,292.5" fill="none" stroke="#222" stroke-width="1"/><polygon points="417.1,167.2 422.5,165.8 428.0,167.2 434.7,165.3 441.5,167.2 445.6,164.5 451.0,165.8 453.7,171.3 451.0,175.3 456.4,179.4 461.0,184.8 459.2,190.3 453.0,193.0 449.0,197.0 447.4,203.0 447.0,210.0 445.3,215.3 445.3,241.8 452.0,243.0 455.0,250.0 458.0,258.0 461.0,270.0 459.0,277.0 450.0,279.0 440.0,276.0 436.7,274.5 425.0,274.0 418.0,275.0 416.1,293.0 412.4,293.0 412.4,275.0 403.0,273.0 401.2,269.9 399.3,262.0 399.3,258.7 402.0,253.0 404.2,251.0 404.2,237.7 405.3,229.6 404.2,221.5 404.2,213.3 400.2,209.2 397.1,207.2 396.1,199.0 400.8,197.0 404.9,193.0 403.6,187.5 406.3,184.8 413.0,183.5 415.8,179.4 417.1,171.3" fill="url(#gBez)" stroke="#3a3a3a" stroke-width="0.6"/><polygon points="399.3,258.7 402.0,253.0 408.0,251.2 416.0,252.0 424.0,250.5 432.0,251.5 440.0,251.0 452.0,252.0 458.0,258.0 461.0,270.0 459.0,277.0 450.0,279.0 440.0,276.0 436.7,274.5 425.0,274.0 418.0,275.0 416.1,293.0 412.4,293.0 412.4,275.0 403.0,273.0 401.2,269.9 399.3,262.0" fill="#A65AA6" stroke="#3a3a3a" stroke-width="0.6"/><polygon points="431.0,207.0 436.0,205.2 443.0,205.5 443.0,217.4 433.0,217.4" fill="#fff" stroke="#3a3a3a" stroke-width="0.6"/><polygon points="416.5,222.0 422.0,220.4 441.3,221.4 441.3,243.8 431.0,243.8 430.7,236.0 426.6,236.0 426.6,241.8 418.0,241.8 417.5,230.0" fill="#fff" stroke="#3a3a3a" stroke-width="0.6"/><polygon points="406.3,230.5 410.0,229.6 414.4,231.0 414.4,247.9 406.3,247.9" fill="#fff" stroke="#3a3a3a" stroke-width="0.6"/><polygon points="433.1,217.4 440.0,216.8 447.4,217.4 447.4,223.5 433.1,223.5" fill="#A9D0DA" stroke="#3a3a3a" stroke-width="0.6"/><polygon points="455.5,217.4 465.7,217.4 465.7,223.5 455.5,223.5" fill="#A9D0DA" stroke="#3a3a3a" stroke-width="0.6"/><polygon points="433.0,241.8 445.3,233.6 455.0,233.0 463.0,234.5 469.7,233.6 473.8,221.4 481.1,221.4 483.0,237.0 481.1,252.0 475.0,256.0 460.0,258.0 440.0,256.0 432.0,255.0 428.0,250.0" fill="url(#gUnz)" stroke="#3a3a3a" stroke-width="0.6"/><polygon points="473.5,165.8 480.3,163.7 488.4,165.3 495.2,163.1 500.6,166.4 504.7,163.1 509.5,165.3 510.1,171.3 516.0,179.4 517.7,184.8 512.8,187.5 510.1,191.6 515.5,198.4 516.9,203.8 516.6,208.4 506.3,208.0 504.5,220.0 503.5,235.0 503.5,252.3 501.5,252.3 501.0,235.0 500.7,224.3 488.6,224.3 486.0,220.0 484.9,225.0 483.0,235.5 478.0,238.0 475.5,241.0 473.7,255.0 468.0,255.0 468.0,241.0 466.2,235.0 462.6,228.0 462.0,220.0 460.6,213.0 459.9,202.5 464.0,197.0 462.6,190.3 462.6,184.8 469.4,182.1 472.1,176.7 473.5,171.3" fill="url(#gMis)" stroke="#3a3a3a" stroke-width="0.6"/><polygon points="488.6,205.0 494.0,203.7 500.7,206.0 500.7,224.3 488.6,224.3 487.0,214.0" fill="#fff" stroke="#3a3a3a" stroke-width="0.6"/><polygon points="475.5,221.0 483.0,221.0 483.0,235.5 477.0,236.0" fill="#fff" stroke="#3a3a3a" stroke-width="0.6"/><polygon points="455.0,200.0 460.6,200.0 460.6,207.5 456.0,208.0" fill="#8C9466" stroke="#3a3a3a" stroke-width="0.6"/><polygon points="426.0,253.5 440.0,252.0 452.0,252.0 458.0,254.0 455.0,262.0 453.0,266.0 452.0,272.0 450.0,280.0 450.0,286.0 441.0,286.0 439.5,282.3 437.8,275.5 434.4,268.7 429.3,262.0" fill="#57709A" stroke="#3a3a3a" stroke-width="0.6"/><polygon points="434.8,285.0 460.0,285.5 481.1,287.6 481.1,292.5 434.8,292.5" fill="#6AA8B8" stroke="#3a3a3a" stroke-width="0.6"/><polygon points="433.0,241.8 457.5,241.8 457.5,245.8 433.0,245.8" fill="#9C9CC0" stroke="#3a3a3a" stroke-width="0.6"/><polygon points="455.0,266.0 462.5,266.0 462.5,274.5 455.0,274.5" fill="#A65AA6" stroke="#3a3a3a" stroke-width="0.6"/><polygon points="458.7,260.5 462.5,257.7 466.2,254.0 473.7,253.0 484.9,255.0 490.5,256.8 499.8,255.9 507.3,258.7 509.1,262.4 514.7,268.0 520.3,269.9 520.3,273.6 512.9,277.3 511.0,281.0 512.9,283.9 509.1,285.7 497.9,284.8 496.1,281.0 483.0,279.2 481.1,275.5 484.9,272.7 479.3,271.7 475.5,273.6 475.5,292.5 471.8,292.5 470.0,277.3 466.2,271.7 462.5,264.3" fill="url(#gMisL)" stroke="#3a3a3a" stroke-width="0.6"/><polygon points="466.2,254.0 478.0,252.5 488.6,254.0 484.0,258.0 476.0,260.5 475.5,270.0 471.8,270.0 471.8,260.0 466.0,258.0" fill="#6E9A48" stroke="#3a3a3a" stroke-width="0.6"/><polygon points="483.0,240.0 492.3,240.5 492.3,247.5 483.0,246.7" fill="#9CC07A" stroke="#3a3a3a" stroke-width="0.6"/><polygon points="503.5,242.0 514.7,242.5 512.0,246.7 503.5,247.0" fill="#9CC07A" stroke="#3a3a3a" stroke-width="0.6"/><polygon points="376.8,292.5 377.6,286.5 388.6,284.8 390.3,278.9 389.5,275.5 397.1,274.2 410.7,273.8 414.0,274.7 419.2,273.0 424.2,274.7 426.0,278.9 426.0,284.0 432.7,286.0 436.1,288.0 436.0,292.5" fill="url(#gSou)" stroke="#3a3a3a" stroke-width="0.6"/><polygon points="375.4,259.0 380.0,257.5 386.2,259.0 387.0,263.0 384.5,266.0 384.6,285.5 383.6,285.5 382.5,268.0 379.0,266.0 375.4,264.0" fill="#F8CDC8" stroke="#3a3a3a" stroke-width="0.6"/><polygon points="403.0,252.0 407.0,251.0 410.5,253.0 409.0,258.7 404.0,258.0" fill="#F2C6E8" stroke="#3a3a3a" stroke-width="0.6"/><ellipse cx="423.9" cy="171.3" rx="3.6" ry="2.2" fill="url(#dg)"/><ellipse cx="432" cy="177.2" rx="3.6" ry="2.2" fill="url(#dg)"/><ellipse cx="445.6" cy="172.6" rx="3.6" ry="2.2" fill="url(#dg)"/><ellipse cx="426.6" cy="183.5" rx="3.6" ry="2.2" fill="url(#dg)"/><ellipse cx="436.1" cy="188.1" rx="3.6" ry="2.2" fill="url(#dg)"/><ellipse cx="480.3" cy="173.4" rx="3.6" ry="2.2" fill="url(#dg)"/><ellipse cx="493.3" cy="174" rx="3.6" ry="2.2" fill="url(#dg)"/><ellipse cx="503.3" cy="169.9" rx="3.6" ry="2.2" fill="url(#dg)"/><ellipse cx="488.9" cy="183.5" rx="3.6" ry="2.2" fill="url(#dg)"/><ellipse cx="503.3" cy="181.3" rx="3.6" ry="2.2" fill="url(#dg)"/><line x1="406.8" y1="102" x2="406.8" y2="292" stroke="#555" stroke-width="0.9"/><line x1="432.4" y1="78" x2="432.4" y2="165" stroke="#555" stroke-width="0.9"/><line x1="463.2" y1="85" x2="463.2" y2="292" stroke="#555" stroke-width="0.9"/><line x1="489.2" y1="62" x2="489.2" y2="165" stroke="#555" stroke-width="0.9"/><line x1="411" y1="159" x2="411" y2="176" stroke="#555" stroke-width="0.9"/><line x1="467.8" y1="157" x2="467.8" y2="292" stroke="#555" stroke-width="0.9"/><line x1="473.6" y1="230" x2="473.6" y2="292" stroke="#555" stroke-width="0.9"/><line x1="444" y1="200" x2="444" y2="255" stroke="#555" stroke-width="0.9"/><line x1="484.5" y1="210" x2="484.5" y2="250" stroke="#555" stroke-width="0.9"/><line x1="502.1" y1="205" x2="502.1" y2="250" stroke="#555" stroke-width="0.9"/><line x1="443.6" y1="75" x2="443.6" y2="82" stroke="#555" stroke-width="0.9"/><line x1="382.3" y1="107" x2="382.3" y2="110" stroke="#555" stroke-width="0.9"/><polygon points="402.2,143.0 406.0,141.1 411.0,142.0 413.0,146.0 415.2,149.0 412.0,152.0 410.5,156.0 410.5,161.0 409.8,161.0 408.0,154.1 404.0,152.0 402.2,148.0" fill="#E6C2E4" stroke="#3a3a3a" stroke-width="0.6"/><polygon points="430.0,128.4 433.0,130.0 434.0,137.0 436.5,142.0 434.0,146.0 433.5,149.6 431.0,149.6 430.0,146.0 425.5,144.0 427.5,138.0" fill="#E6C2E4" stroke="#3a3a3a" stroke-width="0.6"/><polygon points="458.3,140.0 462.0,138.3 466.0,140.0 467.0,145.0 471.3,148.0 467.0,152.0 466.0,158.0 464.5,158.0 463.0,154.1 459.0,151.0 460.0,146.0" fill="#D6E6C2" stroke="#3a3a3a" stroke-width="0.6"/><polygon points="486.0,131.1 490.0,132.0 491.0,137.0 494.3,141.0 491.0,145.0 490.5,148.0 488.5,148.0 488.0,145.0 481.4,143.0 484.0,138.0" fill="#D6E6C2" stroke="#3a3a3a" stroke-width="0.6"/><line x1="374.4" y1="69.7" x2="522" y2="69.7" stroke="#8DC63F" stroke-width="0.9" stroke-dasharray="2.6,1.6"/><line x1="374.4" y1="78.4" x2="522" y2="78.4" stroke="#33B5CC" stroke-width="0.9" stroke-dasharray="2.6,1.6"/><line x1="374.4" y1="86.3" x2="522" y2="86.3" stroke="#F0503A" stroke-width="0.9" stroke-dasharray="2.6,1.6"/><line x1="374.4" y1="130.2" x2="522" y2="130.2" stroke="#C030C0" stroke-width="0.9" stroke-dasharray="2.6,1.6"/><line x1="462.5" y1="85" x2="462.5" y2="118" stroke="#63C7D8" stroke-width="2.2"/><polygon points="439.4,125.0 445.0,122.0 452.0,121.5 458.0,121.0 460.0,116.0 462.0,110.0 463.5,114.0 464.7,121.0 470.0,121.0 476.0,120.5 482.0,121.3 486.0,121.0 490.0,122.5 495.6,124.5 492.0,126.0 486.0,127.0 478.0,127.7 466.0,128.0 455.0,128.2 446.0,128.0 441.0,127.2" fill="#63C7D8" stroke="#3a3a3a" stroke-width="0.6"/><polygon points="454.8,82.5 460.0,81.0 466.0,80.0 472.0,79.9 478.0,80.5 485.7,82.0 480.0,83.8 472.0,85.0 463.0,85.4 458.0,84.6" fill="#63C7D8" stroke="#3a3a3a" stroke-width="0.6"/><polygon points="383.1,62.0 386.8,60.0 390.2,57.0 391.9,57.8 395.3,56.6 400.3,51.9 402.0,52.7 403.7,56.1 408.8,55.6 411.4,51.9 413.0,47.6 414.7,46.8 415.6,40.8 417.3,38.3 418.6,45.0 419.3,53.6 420.7,54.9 430.8,54.9 435.9,56.1 437.6,60.3 440.2,64.6 444.4,65.4 444.4,68.8 449.5,69.7 450.3,71.4 447.0,73.9 442.7,74.7 439.3,76.4 430.8,78.1 425.8,80.7 423.2,79.0 422.4,74.7 419.0,72.2 415.6,70.5 413.9,67.1 412.2,63.7 408.8,62.0 403.7,62.9 396.9,63.7 390.2,62.9 385.1,63.2" fill="#CB6BCB" stroke="#3a3a3a" stroke-width="0.6"/><polygon points="375.2,104.3 382.3,102.6 383.5,100.8 385.9,99.0 385.9,97.2 389.4,95.4 390.0,94.2 397.7,94.8 403.7,94.5 406.6,93.1 407.8,87.1 409.0,84.7 410.2,87.1 410.8,91.3 412.0,90.7 413.8,93.1 415.0,94.8 422.7,95.2 424.4,92.5 426.2,93.1 427.4,94.8 435.7,95.4 438.1,97.2 442.8,99.0 440.5,99.6 427.4,99.6 414.4,100.8 409.6,101.4 402.5,102.0 408.4,103.7 409.6,104.9 403.7,106.1 401.3,107.3 402.5,109.4 397.7,109.1 391.8,108.5 388.2,108.5 383.5,107.1 378.7,106.1" fill="#F5806A" stroke="#3a3a3a" stroke-width="0.6"/><polygon points="454.8,54.5 463.0,51.3 471.1,48.6 475.2,48.6 476.0,45.0 477.1,42.6 478.5,46.0 480.0,52.0 484.7,52.6 491.5,55.3 496.9,59.4 499.6,60.8 492.8,62.1 487.0,63.5 484.7,64.8 480.6,63.5 475.2,59.4 468.0,58.0 457.6,56.7" fill="#9DCB5F" stroke="#3a3a3a" stroke-width="0.6"/><ellipse cx="393.6" cy="61.2" rx="4" ry="2.5" fill="url(#dg)"/><ellipse cx="414.7" cy="60.3" rx="4" ry="2.5" fill="url(#dg)"/><ellipse cx="430.3" cy="62" rx="4" ry="2.5" fill="url(#dg)"/><ellipse cx="433.4" cy="73" rx="4" ry="2.5" fill="url(#dg)"/><ellipse cx="396" cy="99" rx="4" ry="2.5" fill="url(#dg)"/><ellipse cx="393" cy="105.2" rx="4" ry="2.5" fill="url(#dg)"/><ellipse cx="409.4" cy="97.8" rx="4" ry="2.5" fill="url(#dg)"/><ellipse cx="426.8" cy="97.6" rx="4" ry="2.5" fill="url(#dg)"/><ellipse cx="471.4" cy="82.6" rx="4" ry="2.5" fill="url(#dg)"/><ellipse cx="448.2" cy="125.1" rx="4" ry="2.5" fill="url(#dg)"/><ellipse cx="463.6" cy="124.6" rx="4" ry="2.5" fill="url(#dg)"/><ellipse cx="479" cy="124" rx="4" ry="2.5" fill="url(#dg)"/><text x="521.8" y="68.2" font-family="Liberation Sans, sans-serif" font-size="6.05" fill="#6DB33F" text-anchor="end">Amp out</text><text x="521.8" y="76.9" font-family="Liberation Sans, sans-serif" font-size="6.05" fill="#2AA5C0" text-anchor="end">Amp out</text><text x="521.8" y="84.8" font-family="Liberation Sans, sans-serif" font-size="6.05" fill="#E8402A" text-anchor="end">Amp out</text><text x="521.8" y="128.7" font-family="Liberation Sans, sans-serif" font-size="6.05" fill="#B52FB5" text-anchor="end">Amp out</text><text x="525.8" y="31.6" font-family="Liberation Sans, sans-serif" font-size="9.9" text-rendering="geometricPrecision" font-weight="bold" fill="#F98D82" textLength="157.8" lengthAdjust="spacingAndGlyphs">Soufrière Hills Volcano (1995–2010)</text><text x="525.8" y="40.5" font-family="Liberation Sans, sans-serif" font-size="8.36" fill="#F98D82">Deep reservoir: ~14–17 km</text><text x="525.8" y="49.1" font-family="Liberation Sans, sans-serif" font-size="8.36" fill="#F98D82">Shallow reservoir: ~5–6 km &amp; ~830–860 °C</text><text x="525.8" y="57.7" font-family="Liberation Sans, sans-serif" font-size="8.36" fill="#F98D82">Eruption trigger: Mafic recharge</text><text x="525.8" y="66.3" font-family="Liberation Sans, sans-serif" font-size="8.36" fill="#F98D82">Amphibole breakdown: Decompression +</text><text x="525.8" y="74.9" font-family="Liberation Sans, sans-serif" font-size="8.36" fill="#F98D82">heating</text><text x="525.8" y="95.6" font-family="Liberation Sans, sans-serif" font-size="9.9" text-rendering="geometricPrecision" font-weight="bold" fill="#1E9FBF" textLength="122.7" lengthAdjust="spacingAndGlyphs">Unzen Volcano (1991–1995)</text><text x="525.8" y="104.5" font-family="Liberation Sans, sans-serif" font-size="8.36" fill="#1E9FBF">Deep reservoir: Andesite at &gt;11 km &amp;</text><text x="525.8" y="113.1" font-family="Liberation Sans, sans-serif" font-size="8.36" fill="#1E9FBF">&gt;1030 °C</text><text x="525.8" y="121.7" font-family="Liberation Sans, sans-serif" font-size="8.36" fill="#1E9FBF">Shallow reservoir: Rhyodacite at 7 &amp; 4 km</text><text x="525.8" y="130.3" font-family="Liberation Sans, sans-serif" font-size="8.36" fill="#1E9FBF">&amp; ~790 °C</text><text x="525.8" y="138.9" font-family="Liberation Sans, sans-serif" font-size="8.36" fill="#1E9FBF">Eruption trigger: Mafic recharge</text><text x="525.8" y="147.5" font-family="Liberation Sans, sans-serif" font-size="8.36" fill="#1E9FBF">Amphibole breakdown: Heating</text><text x="525.8" y="168.3" font-family="Liberation Sans, sans-serif" font-size="9.9" text-rendering="geometricPrecision" font-weight="bold" fill="#BA2ABA" textLength="84.4" lengthAdjust="spacingAndGlyphs">Bezymianny (1956)</text><text x="525.8" y="177.2" font-family="Liberation Sans, sans-serif" font-size="8.36" fill="#BA2ABA">Deep reservoir: Rhyolite at 8–12 km &amp;</text><text x="525.8" y="185.8" font-family="Liberation Sans, sans-serif" font-size="8.36" fill="#BA2ABA">&gt;840 °C</text><text x="525.8" y="194.4" font-family="Liberation Sans, sans-serif" font-size="8.36" fill="#BA2ABA">Shallow reservoir: Rhyolite at ~2–4 km &amp;</text><text x="525.8" y="203.0" font-family="Liberation Sans, sans-serif" font-size="8.36" fill="#BA2ABA">~850–900 °C</text><text x="525.8" y="211.6" font-family="Liberation Sans, sans-serif" font-size="8.36" fill="#BA2ABA">Eruption trigger: Mafic recharge</text><text x="525.8" y="220.2" font-family="Liberation Sans, sans-serif" font-size="8.36" fill="#BA2ABA">Amphibole breakdown: Decompression</text><text x="525.8" y="240.3" font-family="Liberation Sans, sans-serif" font-size="9.9" text-rendering="geometricPrecision" font-weight="bold" fill="#5AB42A" textLength="78.6" lengthAdjust="spacingAndGlyphs">El Misti (2000 BP)</text><text x="525.8" y="249.2" font-family="Liberation Sans, sans-serif" font-size="8.36" fill="#5AB42A">Deep reservoir: Andesite at ~7–12 km &amp;</text><text x="525.8" y="257.8" font-family="Liberation Sans, sans-serif" font-size="8.36" fill="#5AB42A">~940 °C</text><text x="525.8" y="266.4" font-family="Liberation Sans, sans-serif" font-size="8.36" fill="#5AB42A">Shallow reservoir: Rhyolite at ~3 km &amp;</text><text x="525.8" y="275.0" font-family="Liberation Sans, sans-serif" font-size="8.36" fill="#5AB42A">~820 °C</text><text x="525.8" y="283.6" font-family="Liberation Sans, sans-serif" font-size="8.36" fill="#5AB42A">Eruption trigger: Mafic recharge</text><text x="525.8" y="292.2" font-family="Liberation Sans, sans-serif" font-size="8.36" fill="#5AB42A">Amphibole breakdown: Decompression</text>
</svg>
</body></html>
